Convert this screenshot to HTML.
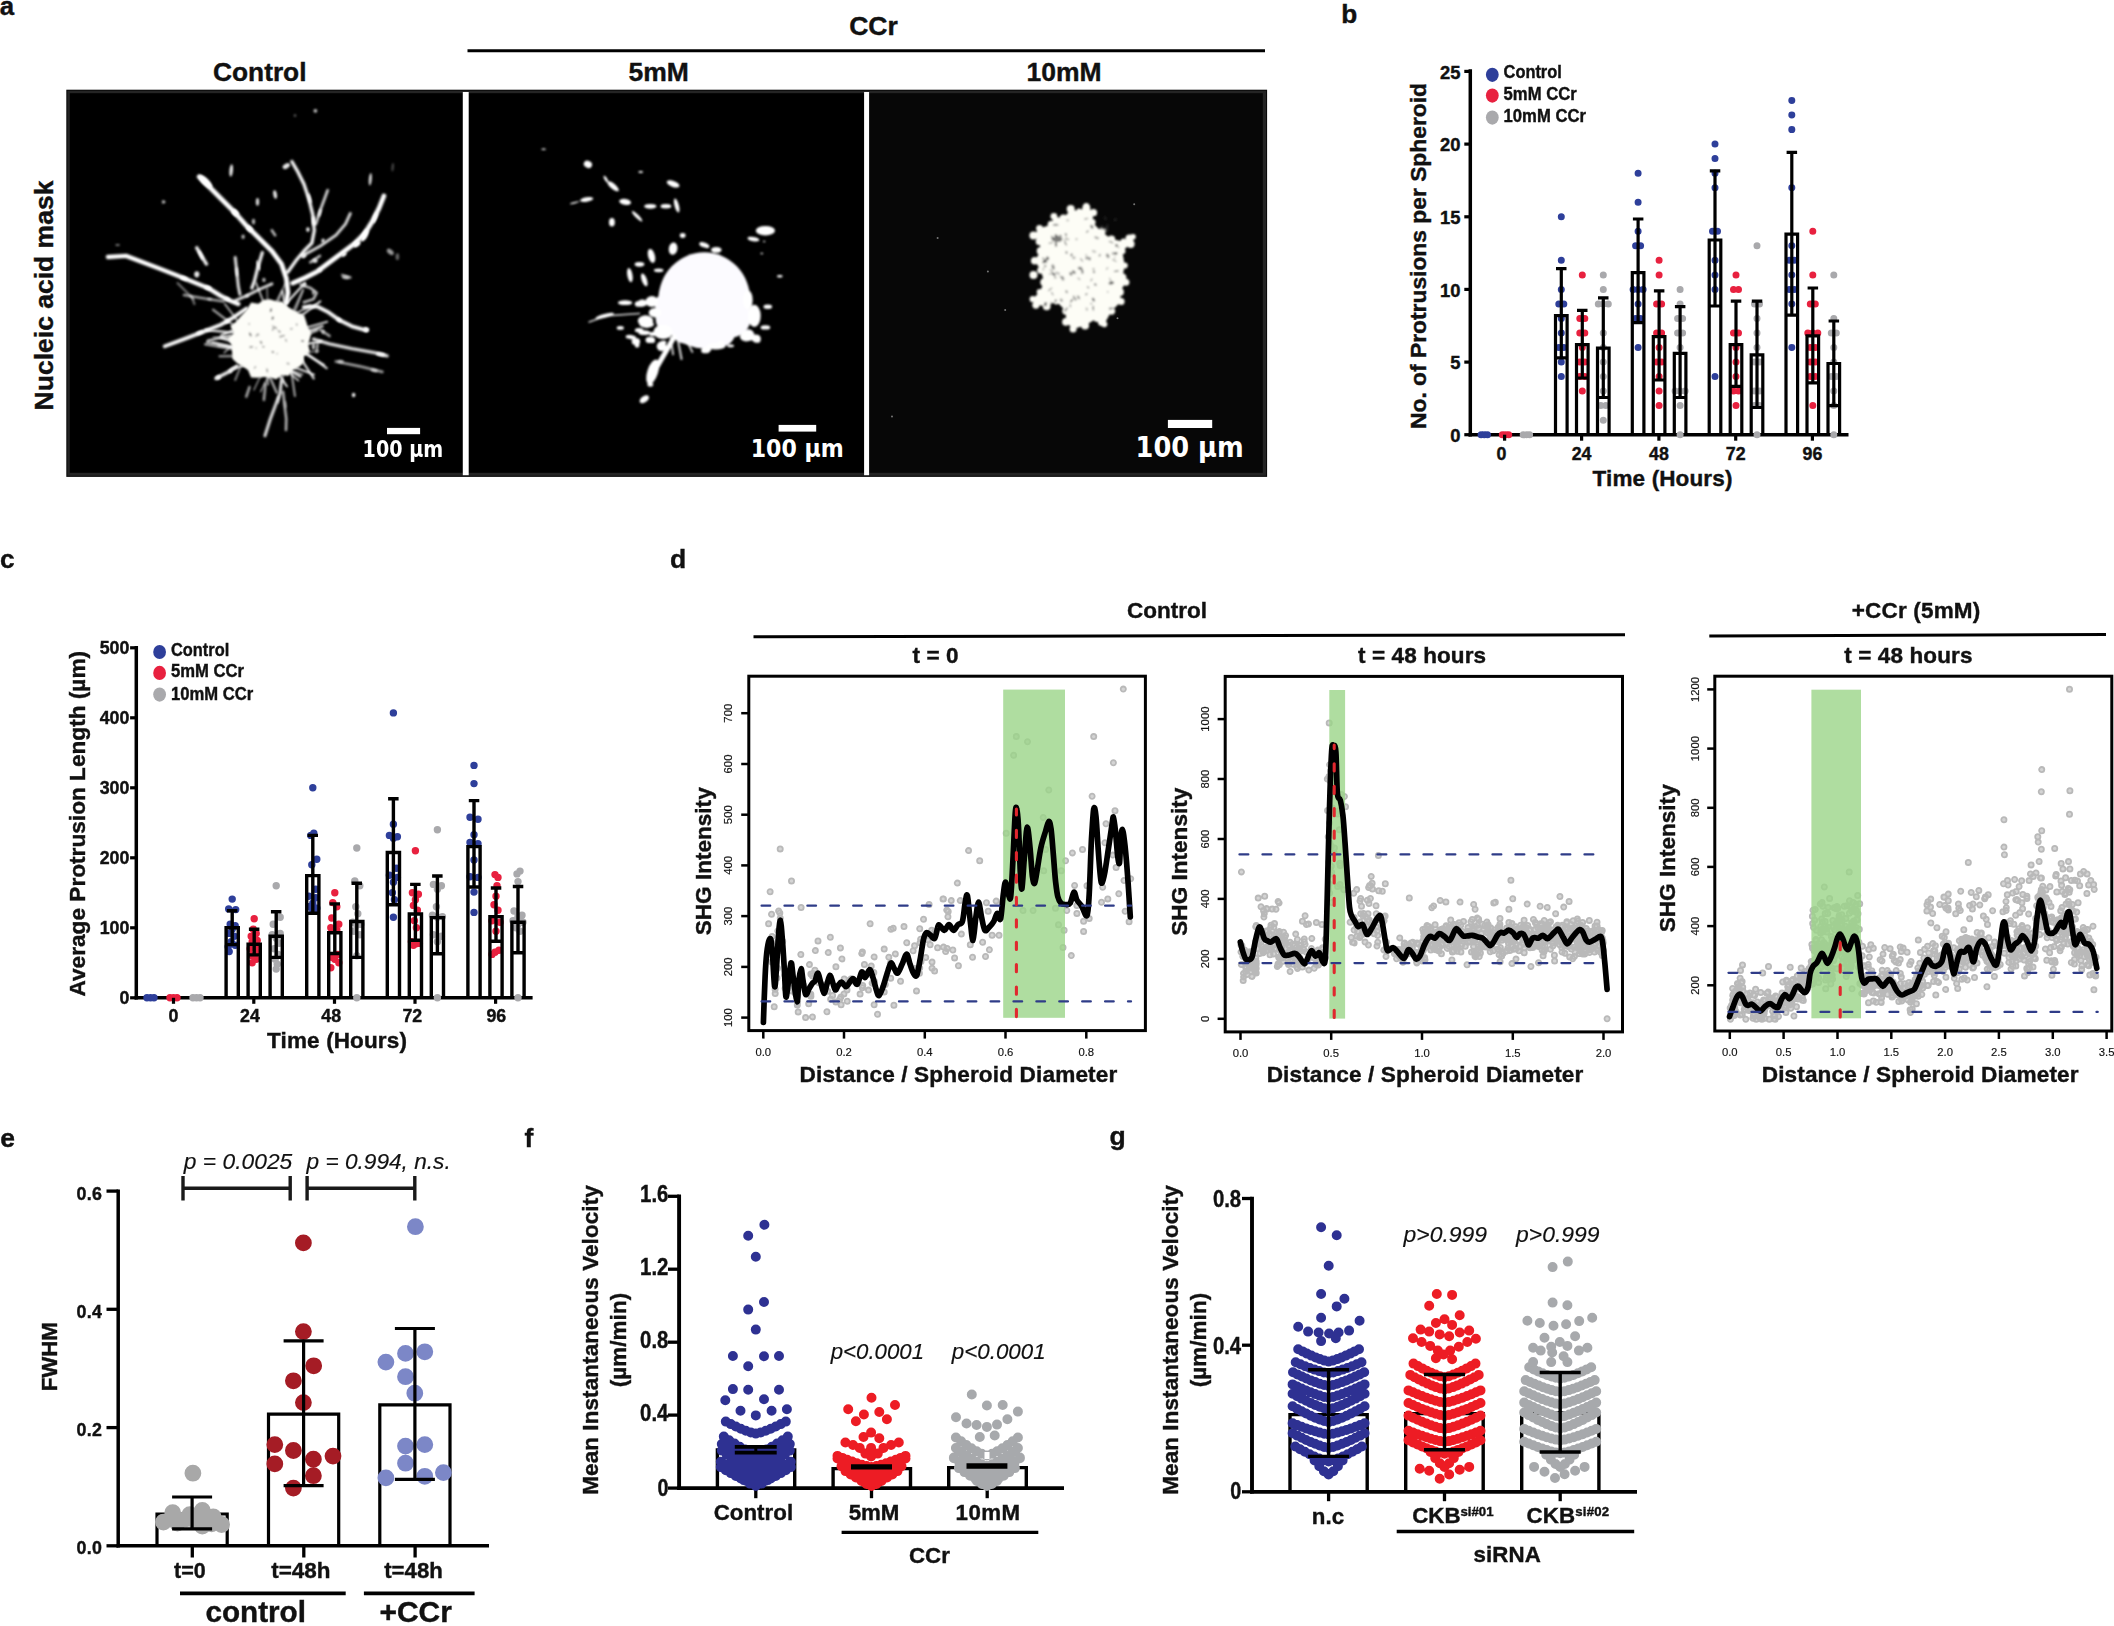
<!DOCTYPE html>
<html lang="en"><head><meta charset="utf-8"><title>Figure</title>
<style>html,body{margin:0;padding:0;background:#fff}svg{display:block}text{font-family:"Liberation Sans",sans-serif;font-weight:bold;fill:#111;stroke:#111;stroke-width:.4px}</style>
</head><body>
<svg width="2114" height="1626" viewBox="0 0 2114 1626">
<defs><filter id="b1" x="-10%" y="-10%" width="120%" height="120%"><feGaussianBlur stdDeviation="0.9"/></filter><filter id="b2" x="-10%" y="-10%" width="120%" height="120%"><feGaussianBlur stdDeviation="1.1"/></filter><clipPath id="ca"><rect x="69" y="92" width="394" height="382"/></clipPath></defs>
<text x="-0.3" y="15.2" font-size="25.8" text-anchor="start">a</text>
<text x="213.0" y="81.3" font-size="26.5" text-anchor="start" textLength="93.5" lengthAdjust="spacingAndGlyphs">Control</text>
<text x="658.6" y="81.3" font-size="26.5" text-anchor="middle">5mM</text>
<text x="1064.0" y="81.3" font-size="26.5" text-anchor="middle">10mM</text>
<text x="873.5" y="34.5" font-size="26.5" text-anchor="middle">CCr</text>
<line x1="467.5" y1="50.8" x2="1265.0" y2="50.8" stroke="#000" stroke-width="3"/>
<text x="53.3" y="295.5" transform="rotate(-90 53.3 295.5)" font-size="26.5" text-anchor="middle">Nucleic acid mask</text>
<rect x="66.3" y="89.7" width="1200.8" height="387.2" fill="#0a0a0a"/>
<rect x="67.4" y="90.8" width="1198.6" height="385.0" fill="#242424"/>
<rect x="69.8" y="93.2" width="393.0" height="379.6" fill="#000"/>
<rect x="467.6" y="93.2" width="396.6" height="379.6" fill="#000"/>
<rect x="868.6" y="93.2" width="394.2" height="379.6" fill="#070707"/>
<rect x="462.8" y="92.0" width="5.9" height="383.2" fill="#fff"/>
<rect x="864.1" y="92.0" width="5.0" height="383.2" fill="#fff"/>
<g filter="url(#b1)" clip-path="url(#ca)" fill="none" stroke="#fff" stroke-linecap="round" stroke-linejoin="round">
<polyline points="199.2,176.8 208.0,185.6 220.8,198.4 233.6,211.2 246.3,225.6 259.1,238.3 271.9,251.1 281.5,263.9 286.3,278.3 287.9,292.7 286.3,302.3" stroke-width="5.800000000000001" opacity="0.35"/>
<polyline points="199.2,176.8 208.0,185.6 220.8,198.4 233.6,211.2 246.3,225.6 259.1,238.3 271.9,251.1 281.5,263.9 286.3,278.3 287.9,292.7 286.3,302.3" stroke-width="4.2" opacity="1"/>
<polyline points="292.7,283.1 303.9,278.3 316.7,271.9 329.5,262.3 342.3,252.7 355.1,243.1 364.7,233.6 372.7,220.8 379.1,208.0 383.9,196.0" stroke-width="5.800000000000001" opacity="0.35"/>
<polyline points="292.7,283.1 303.9,278.3 316.7,271.9 329.5,262.3 342.3,252.7 355.1,243.1 364.7,233.6 372.7,220.8 379.1,208.0 383.9,196.0" stroke-width="4.2" opacity="1"/>
<polyline points="287.9,271.9 295.9,260.7 303.9,251.1 311.9,243.1 314.3,230.4 312.7,214.4 308.7,198.4 303.9,184.0 297.5,171.2 291.9,161.6" stroke-width="4.4" opacity="0.33"/>
<polyline points="287.9,271.9 295.9,260.7 303.9,251.1 311.9,243.1 314.3,230.4 312.7,214.4 308.7,198.4 303.9,184.0 297.5,171.2 291.9,161.6" stroke-width="2.8" opacity="0.95"/>
<polyline points="302.3,255.9 319.9,246.3 335.9,235.2 345.5,224.0 350.3,213.6" stroke-width="4.0" opacity="0.28"/>
<polyline points="302.3,255.9 319.9,246.3 335.9,235.2 345.5,224.0 350.3,213.6" stroke-width="2.4" opacity="0.8"/>
<polyline points="315.9,224.0 319.9,211.2 324.7,198.4 327.6,190.4" stroke-width="3.8000000000000003" opacity="0.28"/>
<polyline points="315.9,224.0 319.9,211.2 324.7,198.4 327.6,190.4" stroke-width="2.2" opacity="0.8"/>
<polyline points="108.0,257.0 126.0,255.9 160.0,268.7 176.0,275.1 192.0,281.5 208.0,287.9 220.8,295.9 230.4,300.7 238.3,303.9" stroke-width="5.4" opacity="0.35"/>
<polyline points="108.0,257.0 126.0,255.9 160.0,268.7 176.0,275.1 192.0,281.5 208.0,287.9 220.8,295.9 230.4,300.7 238.3,303.9" stroke-width="3.8" opacity="1"/>
<polyline points="164.8,346.3 184.0,339.1 204.8,331.1 220.8,324.7 232.0,318.3 246.3,308.7" stroke-width="4.9" opacity="0.33"/>
<polyline points="164.8,346.3 184.0,339.1 204.8,331.1 220.8,324.7 232.0,318.3 246.3,308.7" stroke-width="3.3" opacity="0.95"/>
<polyline points="303.9,307.1 316.7,306.3 327.9,311.9 339.1,319.9 351.9,326.3 366.3,330.3" stroke-width="4.9" opacity="0.33"/>
<polyline points="303.9,307.1 316.7,306.3 327.9,311.9 339.1,319.9 351.9,326.3 366.3,330.3" stroke-width="3.3" opacity="0.95"/>
<polyline points="313.5,339.1 329.5,343.9 351.9,348.7 374.3,352.7 387.1,355.9" stroke-width="4.4" opacity="0.28"/>
<polyline points="313.5,339.1 329.5,343.9 351.9,348.7 374.3,352.7 387.1,355.9" stroke-width="2.8" opacity="0.8"/>
<polyline points="335.9,361.5 359.9,366.3 382.3,371.9" stroke-width="3.8000000000000003" opacity="0.19"/>
<polyline points="335.9,361.5 359.9,366.3 382.3,371.9" stroke-width="2.2" opacity="0.55"/>
<polyline points="235.2,257.5 236.8,271.9 238.3,286.3 239.9,294.3" stroke-width="4.0" opacity="0.30"/>
<polyline points="235.2,257.5 236.8,271.9 238.3,286.3 239.9,294.3" stroke-width="2.4" opacity="0.85"/>
<polyline points="262.3,252.7 257.5,268.7 254.3,281.5 251.9,287.9" stroke-width="4.4" opacity="0.32"/>
<polyline points="262.3,252.7 257.5,268.7 254.3,281.5 251.9,287.9" stroke-width="2.8" opacity="0.9"/>
<polyline points="196.8,247.9 201.6,255.9 206.4,263.9" stroke-width="4.6" opacity="0.32"/>
<polyline points="196.8,247.9 201.6,255.9 206.4,263.9" stroke-width="3.0" opacity="0.9"/>
<polyline points="271.9,283.9 259.1,289.5 246.3,295.9 235.2,300.7" stroke-width="4.0" opacity="0.28"/>
<polyline points="271.9,283.9 259.1,289.5 246.3,295.9 235.2,300.7" stroke-width="2.4" opacity="0.8"/>
<polyline points="281.5,380.7 279.9,393.5 275.1,406.2 270.3,419.0 265.0,435.7" stroke-width="4.2" opacity="0.28"/>
<polyline points="281.5,380.7 279.9,393.5 275.1,406.2 270.3,419.0 265.0,435.7" stroke-width="2.6" opacity="0.8"/>
<polyline points="283.1,391.9 284.7,406.2 286.3,419.0 286.0,430.0" stroke-width="3.6" opacity="0.23"/>
<polyline points="283.1,391.9 284.7,406.2 286.3,419.0 286.0,430.0" stroke-width="2.0" opacity="0.65"/>
<polyline points="216.0,378.3 227.2,372.7 236.8,366.3" stroke-width="4.6" opacity="0.30"/>
<polyline points="216.0,378.3 227.2,372.7 236.8,366.3" stroke-width="3.0" opacity="0.85"/>
<polyline points="300.7,284.7 310.3,287.9 316.7,292.7 313.5,299.1 303.9,302.3" stroke-width="3.6" opacity="0.24"/>
<polyline points="300.7,284.7 310.3,287.9 316.7,292.7 313.5,299.1 303.9,302.3" stroke-width="2.0" opacity="0.7"/>
<polyline points="310.3,262.3 319.9,255.9" stroke-width="3.6" opacity="0.24"/>
<polyline points="310.3,262.3 319.9,255.9" stroke-width="2.0" opacity="0.7"/>
<polyline points="342.3,275.1 350.3,277.5" stroke-width="3.6" opacity="0.21"/>
<polyline points="342.3,275.1 350.3,277.5" stroke-width="2.0" opacity="0.6"/>
<polyline points="177.6,283.1 192.0,297.5 194.4,303.9" stroke-width="3.2" opacity="0.14"/>
<polyline points="177.6,283.1 192.0,297.5 194.4,303.9" stroke-width="1.6" opacity="0.4"/>
<polyline points="184.0,295.1 208.0,299.1 224.0,301.5" stroke-width="3.6" opacity="0.19"/>
<polyline points="184.0,295.1 208.0,299.1 224.0,301.5" stroke-width="2.0" opacity="0.55"/>
<polyline points="271.9,230.4 275.1,235.2" stroke-width="3.6" opacity="0.24"/>
<polyline points="271.9,230.4 275.1,235.2" stroke-width="2.0" opacity="0.7"/>
<polyline points="249.5,387.1 246.3,396.6" stroke-width="3.6" opacity="0.21"/>
<polyline points="249.5,387.1 246.3,396.6" stroke-width="2.0" opacity="0.6"/>
<polyline points="265.5,383.9 263.9,399.8" stroke-width="3.6" opacity="0.21"/>
<polyline points="265.5,383.9 263.9,399.8" stroke-width="2.0" opacity="0.6"/>
<polyline points="208.0,340.7 220.8,337.5 230.4,335.9" stroke-width="3.8000000000000003" opacity="0.24"/>
<polyline points="208.0,340.7 220.8,337.5 230.4,335.9" stroke-width="2.2" opacity="0.7"/>
<polyline points="319.9,329.5 329.5,335.9" stroke-width="3.6" opacity="0.21"/>
<polyline points="319.9,329.5 329.5,335.9" stroke-width="2.0" opacity="0.6"/>
<polyline points="317.5,343.9 316.7,351.9" stroke-width="3.6" opacity="0.21"/>
<polyline points="317.5,343.9 316.7,351.9" stroke-width="2.0" opacity="0.6"/>
</g>
<g filter="url(#b1)" fill="#fff">
<ellipse cx="315.4" cy="110.8" rx="1.9" ry="1.9" opacity="0.75" transform="rotate(0 315.4 110.8)"/>
<ellipse cx="295.0" cy="115.6" rx="1.2" ry="1.4" opacity="0.4" transform="rotate(0 295.0 115.6)"/>
<ellipse cx="164.3" cy="201.9" rx="1.2" ry="1.2" opacity="0.6" transform="rotate(0 164.3 201.9)"/>
<ellipse cx="117.6" cy="245.1" rx="2.4" ry="1.0" opacity="0.5" transform="rotate(0 117.6 245.1)"/>
<ellipse cx="353.8" cy="395.0" rx="1.7" ry="1.7" opacity="0.8" transform="rotate(0 353.8 395.0)"/>
<ellipse cx="205.6" cy="181.6" rx="8.8" ry="3.4" opacity="1" transform="rotate(45 205.6 181.6)"/>
<ellipse cx="231.2" cy="170.4" rx="1.8" ry="6.2" opacity="0.9" transform="rotate(5 231.2 170.4)"/>
<ellipse cx="286.3" cy="166.1" rx="4.0" ry="2.4" opacity="0.9" transform="rotate(-30 286.3 166.1)"/>
<ellipse cx="370.3" cy="179.2" rx="1.5" ry="6.2" opacity="0.85" transform="rotate(5 370.3 179.2)"/>
<ellipse cx="392.7" cy="167.2" rx="1.1" ry="4.3" opacity="0.3" transform="rotate(5 392.7 167.2)"/>
<ellipse cx="275.1" cy="194.4" rx="1.8" ry="4.3" opacity="0.9" transform="rotate(-10 275.1 194.4)"/>
<ellipse cx="257.5" cy="201.9" rx="1.7" ry="3.8" opacity="0.85" transform="rotate(0 257.5 201.9)"/>
<ellipse cx="163.2" cy="201.9" rx="1.5" ry="1.9" opacity="0.6" transform="rotate(0 163.2 201.9)"/>
<ellipse cx="253.5" cy="221.6" rx="1.7" ry="2.9" opacity="0.7" transform="rotate(0 253.5 221.6)"/>
<ellipse cx="243.1" cy="236.8" rx="1.7" ry="2.2" opacity="0.7" transform="rotate(0 243.1 236.8)"/>
<ellipse cx="307.9" cy="229.6" rx="1.8" ry="2.4" opacity="0.9" transform="rotate(0 307.9 229.6)"/>
<ellipse cx="323.1" cy="240.7" rx="1.8" ry="2.2" opacity="0.85" transform="rotate(0 323.1 240.7)"/>
<ellipse cx="315.1" cy="260.7" rx="2.6" ry="2.2" opacity="0.8" transform="rotate(0 315.1 260.7)"/>
<ellipse cx="263.9" cy="279.9" rx="1.7" ry="2.2" opacity="0.7" transform="rotate(0 263.9 279.9)"/>
<ellipse cx="196.8" cy="274.3" rx="2.6" ry="3.1" opacity="0.9" transform="rotate(0 196.8 274.3)"/>
<ellipse cx="353.5" cy="395.0" rx="1.7" ry="2.2" opacity="0.8" transform="rotate(0 353.5 395.0)"/>
<ellipse cx="366.3" cy="329.5" rx="2.9" ry="2.4" opacity="0.95" transform="rotate(15 366.3 329.5)"/>
<ellipse cx="390.3" cy="251.9" rx="4.0" ry="2.4" opacity="0.6" transform="rotate(40 390.3 251.9)"/>
<ellipse cx="397.4" cy="256.7" rx="1.8" ry="3.4" opacity="0.4" transform="rotate(0 397.4 256.7)"/>
<ellipse cx="345.5" cy="277.5" rx="3.7" ry="1.7" opacity="0.7" transform="rotate(10 345.5 277.5)"/>
<ellipse cx="235.2" cy="212.8" rx="4.0" ry="2.9" opacity="1" transform="rotate(45 235.2 212.8)"/>
<ellipse cx="249.5" cy="228.8" rx="3.7" ry="2.4" opacity="1" transform="rotate(45 249.5 228.8)"/>
<ellipse cx="364.7" cy="235.2" rx="2.9" ry="6.7" opacity="1" transform="rotate(25 364.7 235.2)"/>
<ellipse cx="375.1" cy="217.6" rx="1.8" ry="5.8" opacity="1" transform="rotate(20 375.1 217.6)"/>
<ellipse cx="356.7" cy="243.9" rx="4.0" ry="2.9" opacity="1" transform="rotate(-35 356.7 243.9)"/>
<ellipse cx="309.5" cy="198.4" rx="1.5" ry="5.3" opacity="0.9" transform="rotate(-15 309.5 198.4)"/>
<ellipse cx="313.5" cy="220.8" rx="1.5" ry="4.8" opacity="0.9" transform="rotate(0 313.5 220.8)"/>
<ellipse cx="319.9" cy="212.8" rx="1.3" ry="4.3" opacity="0.8" transform="rotate(15 319.9 212.8)"/>
<ellipse cx="303.9" cy="255.9" rx="2.6" ry="2.2" opacity="0.8" transform="rotate(-30 303.9 255.9)"/>
<ellipse cx="343.9" cy="254.3" rx="2.9" ry="2.2" opacity="0.9" transform="rotate(-35 343.9 254.3)"/>
<ellipse cx="208.0" cy="287.9" rx="3.7" ry="1.9" opacity="0.95" transform="rotate(20 208.0 287.9)"/>
<ellipse cx="184.0" cy="278.3" rx="4.0" ry="1.9" opacity="0.95" transform="rotate(20 184.0 278.3)"/>
<ellipse cx="227.2" cy="299.1" rx="2.9" ry="1.7" opacity="0.9" transform="rotate(25 227.2 299.1)"/>
<ellipse cx="200.0" cy="332.7" rx="4.0" ry="1.7" opacity="0.9" transform="rotate(-20 200.0 332.7)"/>
<ellipse cx="227.2" cy="321.5" rx="2.9" ry="1.7" opacity="0.9" transform="rotate(-25 227.2 321.5)"/>
<ellipse cx="339.1" cy="319.9" rx="2.9" ry="1.9" opacity="0.9" transform="rotate(30 339.1 319.9)"/>
<ellipse cx="380.7" cy="354.3" rx="4.8" ry="1.9" opacity="0.9" transform="rotate(10 380.7 354.3)"/>
<ellipse cx="374.3" cy="370.3" rx="3.7" ry="1.7" opacity="0.6" transform="rotate(12 374.3 370.3)"/>
<ellipse cx="340.7" cy="361.5" rx="3.3" ry="1.7" opacity="0.6" transform="rotate(5 340.7 361.5)"/>
<ellipse cx="218.4" cy="377.5" rx="2.6" ry="2.2" opacity="0.85" transform="rotate(-25 218.4 377.5)"/>
<ellipse cx="230.4" cy="371.1" rx="2.2" ry="1.9" opacity="0.8" transform="rotate(-30 230.4 371.1)"/>
<ellipse cx="236.8" cy="271.9" rx="1.1" ry="4.8" opacity="0.85" transform="rotate(-3 236.8 271.9)"/>
<ellipse cx="258.3" cy="265.5" rx="1.3" ry="5.3" opacity="0.9" transform="rotate(-12 258.3 265.5)"/>
<ellipse cx="200.8" cy="255.1" rx="1.5" ry="5.3" opacity="0.9" transform="rotate(-25 200.8 255.1)"/>
<ellipse cx="247.1" cy="295.9" rx="2.2" ry="1.4" opacity="0.7" transform="rotate(-25 247.1 295.9)"/>
<ellipse cx="313.5" cy="346.3" rx="1.8" ry="3.4" opacity="0.7" transform="rotate(0 313.5 346.3)"/>
<ellipse cx="323.1" cy="331.9" rx="1.5" ry="2.4" opacity="0.6" transform="rotate(0 323.1 331.9)"/>
<ellipse cx="278.3" cy="399.8" rx="1.1" ry="4.3" opacity="0.6" transform="rotate(10 278.3 399.8)"/>
<ellipse cx="285.5" cy="404.6" rx="0.9" ry="3.8" opacity="0.5" transform="rotate(-5 285.5 404.6)"/>
<ellipse cx="209.6" cy="299.1" rx="2.6" ry="1.3" opacity="0.5" transform="rotate(5 209.6 299.1)"/>
<ellipse cx="192.0" cy="297.5" rx="1.1" ry="3.4" opacity="0.4" transform="rotate(-40 192.0 297.5)"/>
<ellipse cx="313.5" cy="292.7" rx="1.7" ry="2.2" opacity="0.6" transform="rotate(0 313.5 292.7)"/>
<ellipse cx="304.7" cy="284.7" rx="1.8" ry="1.9" opacity="0.7" transform="rotate(0 304.7 284.7)"/>
<ellipse cx="319.9" cy="270.3" rx="2.2" ry="1.9" opacity="0.8" transform="rotate(-20 319.9 270.3)"/>
</g>
<g filter="url(#b1)" stroke="#fff" stroke-linecap="round">
<line x1="237.3" y1="348.5" x2="218.4" y2="346.2" stroke-width="2.2" opacity="0.57"/>
<line x1="239.5" y1="323.3" x2="225.0" y2="304.2" stroke-width="2.2" opacity="0.59"/>
<line x1="303.6" y1="334.4" x2="317.5" y2="330.6" stroke-width="2.3" opacity="0.53"/>
<line x1="235.9" y1="341.0" x2="223.1" y2="337.9" stroke-width="2.3" opacity="0.74"/>
<line x1="294.0" y1="314.6" x2="310.3" y2="305.5" stroke-width="2.0" opacity="0.74"/>
<line x1="237.1" y1="347.8" x2="207.1" y2="341.9" stroke-width="1.9" opacity="0.78"/>
<line x1="301.4" y1="351.2" x2="323.8" y2="365.0" stroke-width="2.6" opacity="0.86"/>
<line x1="262.5" y1="371.8" x2="253.9" y2="389.9" stroke-width="1.2" opacity="0.68"/>
<line x1="286.6" y1="368.2" x2="302.3" y2="374.4" stroke-width="2.3" opacity="0.51"/>
<line x1="270.3" y1="372.6" x2="260.7" y2="391.6" stroke-width="1.3" opacity="0.67"/>
<line x1="237.5" y1="328.2" x2="213.1" y2="309.7" stroke-width="2.4" opacity="0.59"/>
<line x1="240.5" y1="355.9" x2="219.7" y2="356.3" stroke-width="2.5" opacity="0.53"/>
<line x1="285.0" y1="369.0" x2="298.3" y2="380.5" stroke-width="1.9" opacity="0.74"/>
<line x1="267.1" y1="372.5" x2="268.0" y2="384.6" stroke-width="1.7" opacity="0.73"/>
<line x1="302.4" y1="328.7" x2="327.2" y2="321.7" stroke-width="2.1" opacity="0.79"/>
<line x1="301.9" y1="349.9" x2="326.6" y2="368.1" stroke-width="2.4" opacity="0.85"/>
<line x1="243.3" y1="359.9" x2="235.2" y2="380.0" stroke-width="2.1" opacity="0.48"/>
<line x1="300.8" y1="352.6" x2="318.4" y2="351.2" stroke-width="1.7" opacity="0.48"/>
<line x1="303.8" y1="338.6" x2="317.9" y2="329.0" stroke-width="1.7" opacity="0.46"/>
<line x1="293.8" y1="314.5" x2="303.0" y2="290.7" stroke-width="1.6" opacity="0.62"/>
<line x1="247.5" y1="364.2" x2="232.1" y2="369.0" stroke-width="2.6" opacity="0.68"/>
<line x1="236.0" y1="342.0" x2="224.3" y2="352.7" stroke-width="1.7" opacity="0.58"/>
<line x1="286.0" y1="308.7" x2="282.4" y2="291.0" stroke-width="2.5" opacity="0.71"/>
<line x1="290.4" y1="365.7" x2="313.9" y2="374.6" stroke-width="1.9" opacity="0.94"/>
<line x1="292.1" y1="312.9" x2="303.3" y2="288.9" stroke-width="1.7" opacity="0.53"/>
<line x1="274.5" y1="304.9" x2="285.3" y2="284.1" stroke-width="1.7" opacity="0.56"/>
<line x1="282.7" y1="307.1" x2="304.9" y2="283.0" stroke-width="2.3" opacity="0.86"/>
<line x1="267.7" y1="304.7" x2="267.1" y2="288.1" stroke-width="1.7" opacity="0.46"/>
<line x1="303.3" y1="344.5" x2="321.3" y2="341.4" stroke-width="2.2" opacity="0.93"/>
<line x1="237.7" y1="349.7" x2="205.3" y2="344.3" stroke-width="2.5" opacity="0.63"/>
<line x1="276.1" y1="372.0" x2="286.6" y2="386.3" stroke-width="1.5" opacity="0.76"/>
<line x1="297.4" y1="318.7" x2="320.3" y2="301.3" stroke-width="2.1" opacity="0.85"/>
<line x1="299.1" y1="355.9" x2="313.7" y2="378.4" stroke-width="2.3" opacity="0.83"/>
<line x1="236.2" y1="343.3" x2="220.3" y2="338.3" stroke-width="1.7" opacity="0.85"/>
<line x1="303.3" y1="332.6" x2="322.4" y2="326.4" stroke-width="2.5" opacity="0.81"/>
<line x1="286.2" y1="368.4" x2="300.2" y2="376.4" stroke-width="2.5" opacity="0.85"/>
<line x1="290.5" y1="365.6" x2="294.9" y2="395.9" stroke-width="2.1" opacity="0.63"/>
<line x1="237.4" y1="328.4" x2="221.3" y2="335.5" stroke-width="2.6" opacity="0.77"/>
<line x1="236.3" y1="332.9" x2="205.7" y2="330.0" stroke-width="2.4" opacity="0.86"/>
<line x1="278.1" y1="371.6" x2="287.3" y2="386.6" stroke-width="1.5" opacity="0.74"/>
<line x1="267.8" y1="372.5" x2="276.7" y2="392.6" stroke-width="2.5" opacity="0.63"/>
<line x1="237.0" y1="347.4" x2="212.3" y2="342.1" stroke-width="1.8" opacity="0.91"/>
<line x1="235.8" y1="338.2" x2="213.2" y2="337.3" stroke-width="1.2" opacity="0.67"/>
<line x1="283.7" y1="369.6" x2="282.2" y2="383.0" stroke-width="1.4" opacity="0.69"/>
<line x1="264.6" y1="305.0" x2="256.1" y2="283.1" stroke-width="1.9" opacity="0.73"/>
<line x1="277.1" y1="305.4" x2="281.5" y2="291.9" stroke-width="1.5" opacity="0.59"/>
</g>
<g filter="url(#b1)">
<polygon points="309.9,338.6 308.3,344.8 309.9,351.8 304.1,356.2 303.4,363.2 298.4,367.4 292.4,369.9 288.6,375.7 281.6,375.3 276.2,379.2 269.8,377.4 264.1,377.0 257.8,377.7 251.1,377.5 248.1,370.3 243.3,366.7 237.4,363.5 232.4,358.8 232.0,351.6 231.7,345.0 227.7,338.6 233.8,333.0 230.4,326.0 236.0,321.7 239.8,317.2 243.7,313.0 247.4,308.4 251.1,302.6 258.3,303.8 263.6,300.1 269.8,299.3 276.2,301.3 282.7,301.7 287.3,306.6 292.4,309.6 297.6,312.6 304.1,315.3 306.1,321.3 307.9,327.0 311.1,332.5" fill="#fdfdf8"/>
<ellipse cx="272.7" cy="318.1" rx="1.6" ry="1.0" fill="#222" opacity="0.86" transform="rotate(113 272.7 318.1)"/>
<ellipse cx="255.0" cy="367.4" rx="1.6" ry="0.6" fill="#222" opacity="0.54" transform="rotate(130 255.0 367.4)"/>
<ellipse cx="250.3" cy="334.5" rx="2.1" ry="0.9" fill="#222" opacity="0.84" transform="rotate(66 250.3 334.5)"/>
<ellipse cx="296.7" cy="324.5" rx="1.1" ry="0.8" fill="#222" opacity="0.61" transform="rotate(100 296.7 324.5)"/>
<ellipse cx="260.7" cy="342.1" rx="1.1" ry="0.5" fill="#222" opacity="0.73" transform="rotate(31 260.7 342.1)"/>
<ellipse cx="279.3" cy="331.4" rx="1.8" ry="0.9" fill="#222" opacity="0.47" transform="rotate(35 279.3 331.4)"/>
<ellipse cx="283.0" cy="335.9" rx="2.1" ry="0.7" fill="#222" opacity="0.64" transform="rotate(170 283.0 335.9)"/>
<ellipse cx="275.8" cy="328.1" rx="1.4" ry="0.8" fill="#222" opacity="0.57" transform="rotate(50 275.8 328.1)"/>
<ellipse cx="263.4" cy="346.7" rx="1.3" ry="0.7" fill="#222" opacity="0.63" transform="rotate(180 263.4 346.7)"/>
<ellipse cx="286.0" cy="340.4" rx="1.7" ry="0.8" fill="#222" opacity="0.43" transform="rotate(58 286.0 340.4)"/>
<ellipse cx="280.3" cy="336.7" rx="1.2" ry="0.5" fill="#222" opacity="0.79" transform="rotate(69 280.3 336.7)"/>
<ellipse cx="270.9" cy="310.1" rx="2.0" ry="0.9" fill="#222" opacity="0.87" transform="rotate(103 270.9 310.1)"/>
<ellipse cx="288.1" cy="363.6" rx="1.6" ry="0.9" fill="#222" opacity="0.44" transform="rotate(14 288.1 363.6)"/>
<ellipse cx="273.7" cy="326.6" rx="2.1" ry="0.7" fill="#222" opacity="0.41" transform="rotate(22 273.7 326.6)"/>
<ellipse cx="273.1" cy="329.0" rx="2.0" ry="0.5" fill="#222" opacity="0.83" transform="rotate(116 273.1 329.0)"/>
<ellipse cx="302.6" cy="341.0" rx="1.4" ry="1.0" fill="#222" opacity="0.71" transform="rotate(11 302.6 341.0)"/>
<ellipse cx="256.1" cy="336.2" rx="1.0" ry="0.6" fill="#222" opacity="0.43" transform="rotate(51 256.1 336.2)"/>
<ellipse cx="291.4" cy="328.8" rx="1.5" ry="0.6" fill="#222" opacity="0.62" transform="rotate(172 291.4 328.8)"/>
<ellipse cx="277.1" cy="353.6" rx="0.8" ry="0.7" fill="#222" opacity="0.41" transform="rotate(129 277.1 353.6)"/>
<ellipse cx="257.8" cy="334.6" rx="1.5" ry="1.1" fill="#222" opacity="0.45" transform="rotate(166 257.8 334.6)"/>
<ellipse cx="251.3" cy="347.0" rx="2.0" ry="0.7" fill="#222" opacity="0.65" transform="rotate(176 251.3 347.0)"/>
<ellipse cx="272.8" cy="352.0" rx="1.1" ry="1.0" fill="#222" opacity="0.76" transform="rotate(35 272.8 352.0)"/>
<ellipse cx="256.1" cy="348.0" rx="0.9" ry="0.6" fill="#222" opacity="0.44" transform="rotate(65 256.1 348.0)"/>
<ellipse cx="261.3" cy="342.6" rx="1.7" ry="0.7" fill="#222" opacity="0.65" transform="rotate(72 261.3 342.6)"/>
<ellipse cx="249.2" cy="323.9" rx="0.9" ry="0.6" fill="#222" opacity="0.53" transform="rotate(0 249.2 323.9)"/>
<ellipse cx="267.2" cy="370.5" rx="2.2" ry="0.8" fill="#222" opacity="0.52" transform="rotate(79 267.2 370.5)"/>
</g>
<rect x="387.0" y="427.9" width="33.1" height="6.3" fill="#fff"/>
<text x="362.6" y="456.7" font-size="22.7" text-anchor="start" textLength="80.6" lengthAdjust="spacingAndGlyphs" style="fill:#fff;stroke:none;font-family:'DejaVu Sans',sans-serif;">100 µm</text>
<g filter="url(#b1)" fill="#fff">
<ellipse cx="704.3" cy="300.3" rx="46" ry="48" fill="#fcfbff"/>
<circle cx="671.9" cy="318.3" r="16.3" fill="#fcfbff"/>
<circle cx="730.6" cy="317.1" r="20.4" fill="#fcfbff"/>
<circle cx="685.1" cy="329.1" r="14.4" fill="#fcfbff"/>
<circle cx="748.6" cy="335.1" r="5.8" fill="#fcfbff"/>
<circle cx="721.1" cy="332.7" r="13.9" fill="#fcfbff"/>
<circle cx="699.5" cy="333.9" r="13.9" fill="#fcfbff"/>
<circle cx="663.5" cy="303.9" r="9.1" fill="#fcfbff"/>
<polyline fill="none" stroke="#fff" stroke-width="5" stroke-linecap="round" points="674.3,336.7 667.9,347.9 661.5,359.1 655.9,368.7"/>
<ellipse cx="652.7" cy="371.9" rx="5.4" ry="12.8" transform="rotate(18 652.7 371.9)"/>
<ellipse cx="650.3" cy="384.6" rx="2.9" ry="2.2" transform="rotate(0 650.3 384.6)"/>
<ellipse cx="645.5" cy="320.7" rx="7.7" ry="5.4" transform="rotate(0 645.5 320.7)"/>
<ellipse cx="651.9" cy="301.5" rx="6.4" ry="5.4" transform="rotate(0 651.9 301.5)"/>
<ellipse cx="642.3" cy="303.1" rx="5.1" ry="3.5" transform="rotate(0 642.3 303.1)"/>
<ellipse cx="663.1" cy="331.9" rx="9.6" ry="7.2" transform="rotate(0 663.1 331.9)"/>
<ellipse cx="635.9" cy="341.5" rx="4.2" ry="3.5" transform="rotate(0 635.9 341.5)"/>
<ellipse cx="650.3" cy="339.9" rx="4.8" ry="3.2" transform="rotate(0 650.3 339.9)"/>
<ellipse cx="639.1" cy="330.3" rx="4.2" ry="2.2" transform="rotate(0 639.1 330.3)"/>
<ellipse cx="629.5" cy="336.7" rx="3.8" ry="1.9" transform="rotate(0 629.5 336.7)"/>
<ellipse cx="655.1" cy="312.7" rx="6.4" ry="4.8" transform="rotate(0 655.1 312.7)"/>
<ellipse cx="661.5" cy="346.3" rx="4.8" ry="4.8" transform="rotate(0 661.5 346.3)"/>
<ellipse cx="754.3" cy="315.9" rx="6.4" ry="11.2" transform="rotate(0 754.3 315.9)"/>
<ellipse cx="747.9" cy="299.9" rx="4.8" ry="9.6" transform="rotate(0 747.9 299.9)"/>
<ellipse cx="746.3" cy="336.7" rx="6.4" ry="4.8" transform="rotate(0 746.3 336.7)"/>
<ellipse cx="755.9" cy="338.3" rx="4.8" ry="3.8" transform="rotate(0 755.9 338.3)"/>
<ellipse cx="715.9" cy="346.3" rx="9.6" ry="3.2" transform="rotate(0 715.9 346.3)"/>
<ellipse cx="706.3" cy="349.5" rx="4.8" ry="2.6" transform="rotate(0 706.3 349.5)"/>
<polyline fill="none" stroke="#fff" stroke-width="2.2" stroke-linecap="round" opacity=".8" points="677.9,339.9 681.5,359.0"/>
<polyline fill="none" stroke="#fff" stroke-width="2" stroke-linecap="round" opacity=".8" points="670.7,337.5 673.1,354.3"/>
<polyline fill="none" stroke="#fff" stroke-width="2" stroke-linecap="round" opacity=".8" points="687.5,342.3 692.3,351.9"/>
<polyline fill="none" stroke="#fff" stroke-width="1.6" stroke-linecap="round" opacity=".8" points="639.5,313.5 605.9,315.9 589.1,321.9"/>
<ellipse cx="587.9" cy="164.3" rx="4.3" ry="3.4" transform="rotate(30 587.9 164.3)"/>
<ellipse cx="613.1" cy="186.3" rx="7.2" ry="2.6" transform="rotate(40 613.1 186.3)"/>
<ellipse cx="586.7" cy="199.5" rx="6.7" ry="2.2" transform="rotate(-10 586.7 199.5)"/>
<ellipse cx="625.1" cy="201.9" rx="6.0" ry="2.9" transform="rotate(10 625.1 201.9)"/>
<ellipse cx="650.3" cy="206.3" rx="6.0" ry="2.4" transform="rotate(0 650.3 206.3)"/>
<ellipse cx="665.9" cy="206.3" rx="5.3" ry="2.2" transform="rotate(0 665.9 206.3)"/>
<ellipse cx="673.1" cy="183.9" rx="6.7" ry="2.9" transform="rotate(20 673.1 183.9)"/>
<ellipse cx="676.7" cy="205.5" rx="2.2" ry="7.2" transform="rotate(-15 676.7 205.5)"/>
<ellipse cx="611.9" cy="222.3" rx="2.9" ry="4.3" transform="rotate(0 611.9 222.3)"/>
<ellipse cx="637.1" cy="216.3" rx="7.2" ry="1.7" transform="rotate(45 637.1 216.3)"/>
<ellipse cx="765.4" cy="230.7" rx="9.6" ry="4.8" transform="rotate(0 765.4 230.7)"/>
<ellipse cx="753.4" cy="239.1" rx="6.0" ry="2.2" transform="rotate(10 753.4 239.1)"/>
<ellipse cx="682.7" cy="235.5" rx="2.9" ry="2.4" transform="rotate(0 682.7 235.5)"/>
<ellipse cx="673.1" cy="248.7" rx="4.3" ry="6.2" transform="rotate(10 673.1 248.7)"/>
<ellipse cx="651.5" cy="255.9" rx="3.4" ry="7.2" transform="rotate(-15 651.5 255.9)"/>
<ellipse cx="639.5" cy="264.3" rx="4.8" ry="2.4" transform="rotate(0 639.5 264.3)"/>
<ellipse cx="629.9" cy="275.1" rx="2.6" ry="7.2" transform="rotate(-10 629.9 275.1)"/>
<ellipse cx="644.3" cy="279.9" rx="2.6" ry="6.7" transform="rotate(-20 644.3 279.9)"/>
<ellipse cx="658.7" cy="270.3" rx="4.8" ry="1.9" transform="rotate(0 658.7 270.3)"/>
<ellipse cx="625.1" cy="302.7" rx="7.2" ry="2.4" transform="rotate(0 625.1 302.7)"/>
<ellipse cx="639.5" cy="303.9" rx="4.8" ry="2.9" transform="rotate(0 639.5 303.9)"/>
<ellipse cx="604.7" cy="315.9" rx="9.6" ry="1.9" transform="rotate(-15 604.7 315.9)"/>
<ellipse cx="646.7" cy="324.3" rx="7.2" ry="3.6" transform="rotate(0 646.7 324.3)"/>
<ellipse cx="620.3" cy="327.9" rx="3.6" ry="1.9" transform="rotate(0 620.3 327.9)"/>
<ellipse cx="644.3" cy="332.7" rx="6.0" ry="2.4" transform="rotate(0 644.3 332.7)"/>
<ellipse cx="653.9" cy="333.9" rx="4.8" ry="2.2" transform="rotate(0 653.9 333.9)"/>
<ellipse cx="632.3" cy="337.5" rx="3.6" ry="1.9" transform="rotate(0 632.3 337.5)"/>
<ellipse cx="651.5" cy="341.1" rx="3.6" ry="1.9" transform="rotate(0 651.5 341.1)"/>
<ellipse cx="637.1" cy="344.7" rx="2.4" ry="2.9" transform="rotate(0 637.1 344.7)"/>
<ellipse cx="767.8" cy="306.8" rx="4.3" ry="2.2" transform="rotate(0 767.8 306.8)"/>
<ellipse cx="765.4" cy="327.4" rx="4.8" ry="2.2" transform="rotate(0 765.4 327.4)"/>
<ellipse cx="779.8" cy="276.3" rx="2.9" ry="1.2" transform="rotate(0 779.8 276.3)"/>
<ellipse cx="705.5" cy="350.7" rx="4.3" ry="2.6" transform="rotate(0 705.5 350.7)"/>
<ellipse cx="747.4" cy="332.7" rx="4.8" ry="1.9" transform="rotate(0 747.4 332.7)"/>
<ellipse cx="757.0" cy="339.9" rx="3.6" ry="2.9" transform="rotate(0 757.0 339.9)"/>
<ellipse cx="543.6" cy="149.2" rx="2.4" ry="0.7" transform="rotate(0 543.6 149.2)"/>
<ellipse cx="644.3" cy="399.3" rx="5.3" ry="3.1" transform="rotate(-35 644.3 399.3)"/>
<ellipse cx="704.3" cy="245.1" rx="5.3" ry="2.4" transform="rotate(20 704.3 245.1)"/>
<ellipse cx="716.3" cy="249.9" rx="5.3" ry="2.9" transform="rotate(0 716.3 249.9)"/>
<ellipse cx="605.9" cy="179.1" rx="1.4" ry="3.8" transform="rotate(-30 605.9 179.1)"/>
<ellipse cx="640.7" cy="172.0" rx="2.4" ry="1.0" transform="rotate(0 640.7 172.0)"/>
<ellipse cx="574.7" cy="202.7" rx="4.8" ry="0.7" transform="rotate(-15 574.7 202.7)"/>
<ellipse cx="730.6" cy="345.9" rx="3.4" ry="1.4" transform="rotate(0 730.6 345.9)"/>
<ellipse cx="721.1" cy="342.3" rx="3.4" ry="1.9" transform="rotate(0 721.1 342.3)"/>
<ellipse cx="663.5" cy="342.3" rx="2.9" ry="1.9" transform="rotate(0 663.5 342.3)"/>
<ellipse cx="761.8" cy="253.5" rx="1.4" ry="0.7" transform="rotate(0 761.8 253.5)"/>
<ellipse cx="764.2" cy="241.5" rx="1.2" ry="0.7" transform="rotate(0 764.2 241.5)"/>
</g>
<rect x="778.6" y="424.9" width="37.6" height="6.7" fill="#fff"/>
<text x="750.7" y="456.5" font-size="24.8" text-anchor="start" textLength="93.1" lengthAdjust="spacingAndGlyphs" style="fill:#fff;stroke:none;font-family:'DejaVu Sans',sans-serif;">100 µm</text>
<g filter="url(#b1)" fill="#fdfdf6">
<polygon points="1086.3,206.0 1093.5,212.7 1092.3,222.3 1101.9,231.9 1111.5,239.1 1123.5,241.5 1133.0,236.7 1130.6,243.9 1122.3,251.1 1124.7,265.5 1122.3,277.5 1125.9,282.3 1119.9,291.9 1121.1,301.5 1111.5,311.1 1104.3,324.3 1097.1,318.3 1085.1,325.5 1073.1,329.1 1065.9,321.9 1065.9,311.1 1056.3,301.5 1046.7,306.3 1035.9,305.1 1032.8,299.1 1039.5,291.9 1044.3,282.3 1040.7,270.3 1034.7,260.7 1040.7,251.1 1039.5,241.5 1033.5,235.5 1039.5,228.3 1051.5,224.7 1053.9,216.3 1063.5,218.7 1070.7,209.1 1079.1,211.5"/>
<circle cx="1086.3" cy="206.0" r="3.1"/>
<circle cx="1093.5" cy="212.7" r="3.6"/>
<circle cx="1092.3" cy="222.3" r="3.3"/>
<circle cx="1101.9" cy="231.9" r="3.6"/>
<circle cx="1111.5" cy="239.1" r="3.7"/>
<circle cx="1123.5" cy="241.5" r="2.9"/>
<circle cx="1133.0" cy="236.7" r="2.8"/>
<circle cx="1130.6" cy="243.9" r="4.0"/>
<circle cx="1122.3" cy="251.1" r="3.2"/>
<circle cx="1124.7" cy="265.5" r="3.1"/>
<circle cx="1122.3" cy="277.5" r="4.2"/>
<circle cx="1125.9" cy="282.3" r="3.5"/>
<circle cx="1119.9" cy="291.9" r="4.0"/>
<circle cx="1121.1" cy="301.5" r="3.5"/>
<circle cx="1111.5" cy="311.1" r="3.7"/>
<circle cx="1104.3" cy="324.3" r="3.0"/>
<circle cx="1097.1" cy="318.3" r="3.7"/>
<circle cx="1085.1" cy="325.5" r="4.0"/>
<circle cx="1073.1" cy="329.1" r="3.5"/>
<circle cx="1065.9" cy="321.9" r="3.8"/>
<circle cx="1065.9" cy="311.1" r="3.7"/>
<circle cx="1056.3" cy="301.5" r="2.9"/>
<circle cx="1046.7" cy="306.3" r="3.9"/>
<circle cx="1035.9" cy="305.1" r="3.6"/>
<circle cx="1032.8" cy="299.1" r="3.2"/>
<circle cx="1039.5" cy="291.9" r="2.8"/>
<circle cx="1044.3" cy="282.3" r="4.0"/>
<circle cx="1040.7" cy="270.3" r="3.5"/>
<circle cx="1034.7" cy="260.7" r="3.8"/>
<circle cx="1040.7" cy="251.1" r="4.0"/>
<circle cx="1039.5" cy="241.5" r="3.8"/>
<circle cx="1033.5" cy="235.5" r="4.1"/>
<circle cx="1039.5" cy="228.3" r="3.4"/>
<circle cx="1051.5" cy="224.7" r="3.9"/>
<circle cx="1053.9" cy="216.3" r="3.4"/>
<circle cx="1063.5" cy="218.7" r="4.1"/>
<circle cx="1070.7" cy="209.1" r="4.0"/>
<circle cx="1079.1" cy="211.5" r="2.9"/>
<circle cx="1033.5" cy="275.1" r="4"/>
<circle cx="1101.9" cy="321.9" r="4"/>
<circle cx="1039.5" cy="299.1" r="4"/>
<circle cx="1129.5" cy="238.6" r="4"/>
<circle cx="1086.3" cy="207.9" r="4"/>
<ellipse cx="1052.3" cy="238.3" rx="2.9" ry="1.0" fill="#444" opacity="0.64" transform="rotate(77 1052.3 238.3)"/>
<ellipse cx="1074.2" cy="297.5" rx="2.1" ry="1.1" fill="#444" opacity="0.52" transform="rotate(59 1074.2 297.5)"/>
<ellipse cx="1111.3" cy="283.0" rx="2.8" ry="1.5" fill="#444" opacity="0.85" transform="rotate(171 1111.3 283.0)"/>
<ellipse cx="1095.3" cy="284.6" rx="1.5" ry="1.1" fill="#444" opacity="0.61" transform="rotate(26 1095.3 284.6)"/>
<ellipse cx="1096.7" cy="237.8" rx="2.6" ry="1.2" fill="#444" opacity="0.46" transform="rotate(16 1096.7 237.8)"/>
<ellipse cx="1078.9" cy="278.8" rx="1.9" ry="0.9" fill="#444" opacity="0.34" transform="rotate(38 1078.9 278.8)"/>
<ellipse cx="1043.4" cy="258.5" rx="1.7" ry="0.7" fill="#444" opacity="0.63" transform="rotate(11 1043.4 258.5)"/>
<ellipse cx="1070.9" cy="273.8" rx="2.0" ry="1.5" fill="#444" opacity="0.45" transform="rotate(60 1070.9 273.8)"/>
<ellipse cx="1118.5" cy="247.2" rx="1.0" ry="1.2" fill="#444" opacity="0.32" transform="rotate(50 1118.5 247.2)"/>
<ellipse cx="1116.5" cy="245.5" rx="1.4" ry="1.3" fill="#444" opacity="0.84" transform="rotate(86 1116.5 245.5)"/>
<ellipse cx="1066.0" cy="309.5" rx="2.8" ry="1.0" fill="#444" opacity="0.55" transform="rotate(133 1066.0 309.5)"/>
<ellipse cx="1071.5" cy="300.7" rx="2.3" ry="0.7" fill="#444" opacity="0.84" transform="rotate(129 1071.5 300.7)"/>
<ellipse cx="1062.7" cy="278.4" rx="2.4" ry="1.5" fill="#444" opacity="0.54" transform="rotate(66 1062.7 278.4)"/>
<ellipse cx="1081.9" cy="270.1" rx="0.8" ry="1.0" fill="#444" opacity="0.62" transform="rotate(5 1081.9 270.1)"/>
<ellipse cx="1070.8" cy="274.1" rx="1.1" ry="1.2" fill="#444" opacity="0.48" transform="rotate(90 1070.8 274.1)"/>
<ellipse cx="1094.0" cy="251.4" rx="2.4" ry="1.3" fill="#444" opacity="0.31" transform="rotate(15 1094.0 251.4)"/>
<ellipse cx="1115.2" cy="219.6" rx="1.6" ry="1.2" fill="#444" opacity="0.46" transform="rotate(153 1115.2 219.6)"/>
<ellipse cx="1066.5" cy="252.4" rx="1.5" ry="1.0" fill="#444" opacity="0.63" transform="rotate(76 1066.5 252.4)"/>
<ellipse cx="1102.3" cy="227.6" rx="2.6" ry="1.6" fill="#444" opacity="0.68" transform="rotate(33 1102.3 227.6)"/>
<ellipse cx="1065.7" cy="238.9" rx="2.6" ry="0.8" fill="#444" opacity="0.40" transform="rotate(111 1065.7 238.9)"/>
<ellipse cx="1091.8" cy="226.8" rx="2.1" ry="1.5" fill="#444" opacity="0.67" transform="rotate(57 1091.8 226.8)"/>
<ellipse cx="1075.6" cy="299.6" rx="1.2" ry="0.9" fill="#444" opacity="0.66" transform="rotate(145 1075.6 299.6)"/>
<ellipse cx="1076.5" cy="239.1" rx="1.1" ry="1.1" fill="#444" opacity="0.40" transform="rotate(147 1076.5 239.1)"/>
<ellipse cx="1056.0" cy="244.3" rx="2.6" ry="1.2" fill="#444" opacity="0.74" transform="rotate(88 1056.0 244.3)"/>
<ellipse cx="1087.1" cy="257.9" rx="1.9" ry="1.4" fill="#444" opacity="0.56" transform="rotate(162 1087.1 257.9)"/>
<ellipse cx="1073.9" cy="257.8" rx="1.7" ry="1.5" fill="#444" opacity="0.39" transform="rotate(1 1073.9 257.8)"/>
<ellipse cx="1078.5" cy="297.4" rx="2.2" ry="1.1" fill="#444" opacity="0.61" transform="rotate(56 1078.5 297.4)"/>
<ellipse cx="1044.4" cy="261.3" rx="2.5" ry="1.3" fill="#444" opacity="0.83" transform="rotate(139 1044.4 261.3)"/>
<ellipse cx="1068.1" cy="239.4" rx="0.9" ry="1.2" fill="#444" opacity="0.46" transform="rotate(62 1068.1 239.4)"/>
<ellipse cx="1045.4" cy="304.2" rx="2.3" ry="1.5" fill="#444" opacity="0.79" transform="rotate(110 1045.4 304.2)"/>
<ellipse cx="1086.2" cy="218.8" rx="2.4" ry="0.8" fill="#444" opacity="0.46" transform="rotate(169 1086.2 218.8)"/>
<ellipse cx="1043.4" cy="269.1" rx="0.9" ry="1.5" fill="#444" opacity="0.36" transform="rotate(32 1043.4 269.1)"/>
<ellipse cx="1061.3" cy="300.2" rx="1.8" ry="1.4" fill="#444" opacity="0.49" transform="rotate(50 1061.3 300.2)"/>
<ellipse cx="1051.3" cy="302.7" rx="1.1" ry="0.8" fill="#444" opacity="0.45" transform="rotate(32 1051.3 302.7)"/>
<ellipse cx="1105.1" cy="218.2" rx="2.2" ry="1.5" fill="#444" opacity="0.33" transform="rotate(69 1105.1 218.2)"/>
<ellipse cx="1061.0" cy="276.8" rx="1.9" ry="0.7" fill="#444" opacity="0.48" transform="rotate(0 1061.0 276.8)"/>
<ellipse cx="1107.7" cy="291.9" rx="0.9" ry="0.6" fill="#444" opacity="0.57" transform="rotate(8 1107.7 291.9)"/>
<ellipse cx="1107.5" cy="225.8" rx="1.9" ry="0.9" fill="#444" opacity="0.47" transform="rotate(89 1107.5 225.8)"/>
<ellipse cx="1071.5" cy="254.9" rx="1.5" ry="0.9" fill="#444" opacity="0.84" transform="rotate(109 1071.5 254.9)"/>
<ellipse cx="1051.4" cy="270.8" rx="2.4" ry="1.0" fill="#444" opacity="0.34" transform="rotate(45 1051.4 270.8)"/>
<ellipse cx="1045.2" cy="261.7" rx="2.2" ry="1.1" fill="#444" opacity="0.65" transform="rotate(11 1045.2 261.7)"/>
<ellipse cx="1089.7" cy="258.9" rx="1.6" ry="1.1" fill="#444" opacity="0.69" transform="rotate(107 1089.7 258.9)"/>
<ellipse cx="1114.8" cy="257.7" rx="0.8" ry="0.8" fill="#444" opacity="0.45" transform="rotate(151 1114.8 257.7)"/>
<ellipse cx="1047.4" cy="258.3" rx="1.7" ry="1.5" fill="#444" opacity="0.82" transform="rotate(95 1047.4 258.3)"/>
<ellipse cx="1116.3" cy="271.2" rx="2.7" ry="0.7" fill="#444" opacity="0.68" transform="rotate(169 1116.3 271.2)"/>
<ellipse cx="1107.1" cy="268.4" rx="1.6" ry="0.7" fill="#444" opacity="0.48" transform="rotate(136 1107.1 268.4)"/>
<ellipse cx="1049.8" cy="273.9" rx="0.8" ry="0.7" fill="#444" opacity="0.73" transform="rotate(11 1049.8 273.9)"/>
<ellipse cx="1082.4" cy="271.7" rx="2.3" ry="1.0" fill="#444" opacity="0.75" transform="rotate(87 1082.4 271.7)"/>
<ellipse cx="1106.5" cy="229.2" rx="2.7" ry="1.3" fill="#444" opacity="0.76" transform="rotate(72 1106.5 229.2)"/>
<ellipse cx="1086.3" cy="294.2" rx="0.9" ry="1.4" fill="#444" opacity="0.58" transform="rotate(61 1086.3 294.2)"/>
<ellipse cx="1050.1" cy="289.4" rx="2.9" ry="0.7" fill="#444" opacity="0.48" transform="rotate(144 1050.1 289.4)"/>
<ellipse cx="1055.7" cy="224.9" rx="3.0" ry="1.2" fill="#444" opacity="0.55" transform="rotate(179 1055.7 224.9)"/>
<ellipse cx="1099.7" cy="255.3" rx="1.6" ry="1.0" fill="#444" opacity="0.49" transform="rotate(107 1099.7 255.3)"/>
<ellipse cx="1116.1" cy="253.5" rx="1.3" ry="1.5" fill="#444" opacity="0.76" transform="rotate(41 1116.1 253.5)"/>
<ellipse cx="1073.8" cy="272.1" rx="2.1" ry="1.5" fill="#444" opacity="0.68" transform="rotate(39 1073.8 272.1)"/>
<ellipse cx="1091.3" cy="303.6" rx="1.1" ry="0.7" fill="#444" opacity="0.71" transform="rotate(178 1091.3 303.6)"/>
<ellipse cx="1081.6" cy="260.0" rx="2.4" ry="0.8" fill="#444" opacity="0.45" transform="rotate(50 1081.6 260.0)"/>
<ellipse cx="1053.1" cy="267.0" rx="2.9" ry="1.5" fill="#444" opacity="0.60" transform="rotate(75 1053.1 267.0)"/>
<ellipse cx="1093.4" cy="299.6" rx="2.1" ry="1.2" fill="#444" opacity="0.84" transform="rotate(55 1093.4 299.6)"/>
<ellipse cx="1065.5" cy="243.3" rx="2.6" ry="0.8" fill="#444" opacity="0.61" transform="rotate(61 1065.5 243.3)"/>
<ellipse cx="1066.6" cy="291.8" rx="1.1" ry="1.6" fill="#444" opacity="0.56" transform="rotate(153 1066.6 291.8)"/>
<ellipse cx="1057.7" cy="273.2" rx="2.8" ry="1.3" fill="#444" opacity="0.32" transform="rotate(18 1057.7 273.2)"/>
<ellipse cx="1107.7" cy="255.9" rx="2.4" ry="1.6" fill="#444" opacity="0.56" transform="rotate(58 1107.7 255.9)"/>
<ellipse cx="1110.3" cy="279.7" rx="2.5" ry="0.7" fill="#444" opacity="0.42" transform="rotate(65 1110.3 279.7)"/>
<ellipse cx="1060.5" cy="235.7" rx="1.4" ry="0.8" fill="#444" opacity="0.69" transform="rotate(9 1060.5 235.7)"/>
<ellipse cx="1111.0" cy="242.0" rx="2.7" ry="0.9" fill="#444" opacity="0.53" transform="rotate(21 1111.0 242.0)"/>
<ellipse cx="1051.0" cy="242.9" rx="2.8" ry="0.6" fill="#444" opacity="0.55" transform="rotate(172 1051.0 242.9)"/>
<ellipse cx="1067.7" cy="220.3" rx="1.5" ry="1.0" fill="#444" opacity="0.34" transform="rotate(164 1067.7 220.3)"/>
<ellipse cx="1086.8" cy="309.2" rx="1.7" ry="1.1" fill="#444" opacity="0.37" transform="rotate(70 1086.8 309.2)"/>
<ellipse cx="1047.8" cy="259.0" rx="1.8" ry="1.1" fill="#444" opacity="0.44" transform="rotate(135 1047.8 259.0)"/>
<ellipse cx="1114.1" cy="253.4" rx="2.5" ry="1.4" fill="#444" opacity="0.46" transform="rotate(173 1114.1 253.4)"/>
<ellipse cx="1093.3" cy="308.1" rx="2.6" ry="0.7" fill="#444" opacity="0.82" transform="rotate(86 1093.3 308.1)"/>
<ellipse cx="1093.5" cy="269.0" rx="1.0" ry="1.1" fill="#444" opacity="0.49" transform="rotate(75 1093.5 269.0)"/>
<ellipse cx="1094.0" cy="271.9" rx="1.2" ry="1.2" fill="#444" opacity="0.65" transform="rotate(45 1094.0 271.9)"/>
<ellipse cx="1070.4" cy="305.8" rx="1.8" ry="0.7" fill="#444" opacity="0.61" transform="rotate(84 1070.4 305.8)"/>
<ellipse cx="1091.4" cy="279.9" rx="1.7" ry="0.9" fill="#444" opacity="0.40" transform="rotate(123 1091.4 279.9)"/>
<ellipse cx="1065.9" cy="234.5" rx="1.0" ry="1.3" fill="#444" opacity="0.71" transform="rotate(139 1065.9 234.5)"/>
<ellipse cx="1086.1" cy="255.1" rx="1.0" ry="0.9" fill="#444" opacity="0.33" transform="rotate(34 1086.1 255.1)"/>
<ellipse cx="1045.1" cy="266.0" rx="1.3" ry="1.4" fill="#444" opacity="0.49" transform="rotate(85 1045.1 266.0)"/>
<ellipse cx="1114.4" cy="260.5" rx="2.6" ry="0.7" fill="#444" opacity="0.57" transform="rotate(28 1114.4 260.5)"/>
<ellipse cx="1053.5" cy="274.1" rx="2.3" ry="1.2" fill="#444" opacity="0.80" transform="rotate(28 1053.5 274.1)"/>
<ellipse cx="1056.1" cy="235.7" rx="1.7" ry="1.3" fill="#444" opacity="0.75" transform="rotate(32 1056.1 235.7)"/>
<ellipse cx="1087.3" cy="231.6" rx="1.7" ry="0.8" fill="#444" opacity="0.59" transform="rotate(145 1087.3 231.6)"/>
<ellipse cx="1055.6" cy="300.9" rx="1.6" ry="0.9" fill="#444" opacity="0.76" transform="rotate(113 1055.6 300.9)"/>
<ellipse cx="1110.3" cy="308.6" rx="1.6" ry="1.2" fill="#444" opacity="0.62" transform="rotate(162 1110.3 308.6)"/>
<ellipse cx="1080.1" cy="268.3" rx="2.4" ry="1.5" fill="#444" opacity="0.67" transform="rotate(7 1080.1 268.3)"/>
<ellipse cx="1088.1" cy="287.3" rx="0.8" ry="1.4" fill="#444" opacity="0.66" transform="rotate(125 1088.1 287.3)"/>
<ellipse cx="1055.2" cy="277.5" rx="1.2" ry="1.4" fill="#444" opacity="0.42" transform="rotate(128 1055.2 277.5)"/>
<ellipse cx="1113.0" cy="308.4" rx="1.0" ry="0.9" fill="#444" opacity="0.66" transform="rotate(39 1113.0 308.4)"/>
<ellipse cx="1052.3" cy="293.6" rx="2.2" ry="0.7" fill="#444" opacity="0.50" transform="rotate(59 1052.3 293.6)"/>
<ellipse cx="1057.5" cy="239.1" rx="5" ry="3" fill="#444" opacity=".7"/>
</g>
<circle cx="1005.2" cy="309.9" r="1" fill="#777"/>
<circle cx="1117.5" cy="318.3" r="1" fill="#777"/>
<circle cx="892.0" cy="416.6" r="1" fill="#777"/>
<circle cx="1134.2" cy="204.3" r="1" fill="#777"/>
<circle cx="987.9" cy="271.5" r="1" fill="#777"/>
<circle cx="937.6" cy="237.9" r="1" fill="#777"/>
<rect x="1167.9" y="419.9" width="44.3" height="8.1" fill="#fff"/>
<text x="1135.6" y="456.8" font-size="29" text-anchor="start" textLength="108.0" lengthAdjust="spacingAndGlyphs" style="fill:#fff;stroke:none;font-family:'DejaVu Sans',sans-serif;">100 µm</text>
<text x="1341.2" y="23.4" font-size="26.2" text-anchor="start">b</text>
<line x1="1470.3" y1="69.2" x2="1470.3" y2="436.4" stroke="#000" stroke-width="3.5"/>
<line x1="1468.5" y1="434.7" x2="1848.5" y2="434.7" stroke="#000" stroke-width="3.5"/>
<path d="M1477.6 434.7a3.5 3.5 0 1 0 7.0 0a3.5 3.5 0 1 0 -7.0 0M1480.8 434.7a3.5 3.5 0 1 0 7.0 0a3.5 3.5 0 1 0 -7.0 0M1484.0 434.7a3.5 3.5 0 1 0 7.0 0a3.5 3.5 0 1 0 -7.0 0" fill="#2e3f9a"/>
<path d="M1498.8 434.7a3.5 3.5 0 1 0 7.0 0a3.5 3.5 0 1 0 -7.0 0M1502.0 434.7a3.5 3.5 0 1 0 7.0 0a3.5 3.5 0 1 0 -7.0 0M1505.2 434.7a3.5 3.5 0 1 0 7.0 0a3.5 3.5 0 1 0 -7.0 0" fill="#e8213f"/>
<path d="M1519.7 434.7a3.5 3.5 0 1 0 7.0 0a3.5 3.5 0 1 0 -7.0 0M1522.9 434.7a3.5 3.5 0 1 0 7.0 0a3.5 3.5 0 1 0 -7.0 0M1526.1 434.7a3.5 3.5 0 1 0 7.0 0a3.5 3.5 0 1 0 -7.0 0" fill="#a9a9ac"/>
<path d="M1557.8 216.8a3.5 3.5 0 1 0 7.0 0a3.5 3.5 0 1 0 -7.0 0M1557.8 260.3a3.5 3.5 0 1 0 7.0 0a3.5 3.5 0 1 0 -7.0 0M1557.8 289.4a3.5 3.5 0 1 0 7.0 0a3.5 3.5 0 1 0 -7.0 0M1555.3 303.9a3.5 3.5 0 1 0 7.0 0a3.5 3.5 0 1 0 -7.0 0M1560.3 303.9a3.5 3.5 0 1 0 7.0 0a3.5 3.5 0 1 0 -7.0 0M1557.8 318.5a3.5 3.5 0 1 0 7.0 0a3.5 3.5 0 1 0 -7.0 0M1557.8 333.0a3.5 3.5 0 1 0 7.0 0a3.5 3.5 0 1 0 -7.0 0M1555.3 347.5a3.5 3.5 0 1 0 7.0 0a3.5 3.5 0 1 0 -7.0 0M1560.3 347.5a3.5 3.5 0 1 0 7.0 0a3.5 3.5 0 1 0 -7.0 0M1557.8 362.1a3.5 3.5 0 1 0 7.0 0a3.5 3.5 0 1 0 -7.0 0M1557.8 376.6a3.5 3.5 0 1 0 7.0 0a3.5 3.5 0 1 0 -7.0 0" fill="#2e3f9a"/>
<path d="M1578.8 274.9a3.5 3.5 0 1 0 7.0 0a3.5 3.5 0 1 0 -7.0 0M1576.3 318.5a3.5 3.5 0 1 0 7.0 0a3.5 3.5 0 1 0 -7.0 0M1581.3 318.5a3.5 3.5 0 1 0 7.0 0a3.5 3.5 0 1 0 -7.0 0M1576.3 333.0a3.5 3.5 0 1 0 7.0 0a3.5 3.5 0 1 0 -7.0 0M1581.3 333.0a3.5 3.5 0 1 0 7.0 0a3.5 3.5 0 1 0 -7.0 0M1578.8 347.5a3.5 3.5 0 1 0 7.0 0a3.5 3.5 0 1 0 -7.0 0M1576.3 362.1a3.5 3.5 0 1 0 7.0 0a3.5 3.5 0 1 0 -7.0 0M1581.3 362.1a3.5 3.5 0 1 0 7.0 0a3.5 3.5 0 1 0 -7.0 0M1576.3 376.6a3.5 3.5 0 1 0 7.0 0a3.5 3.5 0 1 0 -7.0 0M1581.3 376.6a3.5 3.5 0 1 0 7.0 0a3.5 3.5 0 1 0 -7.0 0M1578.8 391.1a3.5 3.5 0 1 0 7.0 0a3.5 3.5 0 1 0 -7.0 0" fill="#e8213f"/>
<path d="M1599.8 274.9a3.5 3.5 0 1 0 7.0 0a3.5 3.5 0 1 0 -7.0 0M1599.8 289.4a3.5 3.5 0 1 0 7.0 0a3.5 3.5 0 1 0 -7.0 0M1594.8 303.9a3.5 3.5 0 1 0 7.0 0a3.5 3.5 0 1 0 -7.0 0M1599.8 303.9a3.5 3.5 0 1 0 7.0 0a3.5 3.5 0 1 0 -7.0 0M1604.8 303.9a3.5 3.5 0 1 0 7.0 0a3.5 3.5 0 1 0 -7.0 0M1599.8 333.0a3.5 3.5 0 1 0 7.0 0a3.5 3.5 0 1 0 -7.0 0M1599.8 347.5a3.5 3.5 0 1 0 7.0 0a3.5 3.5 0 1 0 -7.0 0M1599.8 362.1a3.5 3.5 0 1 0 7.0 0a3.5 3.5 0 1 0 -7.0 0M1599.8 376.6a3.5 3.5 0 1 0 7.0 0a3.5 3.5 0 1 0 -7.0 0M1599.8 391.1a3.5 3.5 0 1 0 7.0 0a3.5 3.5 0 1 0 -7.0 0M1597.3 405.6a3.5 3.5 0 1 0 7.0 0a3.5 3.5 0 1 0 -7.0 0M1602.3 405.6a3.5 3.5 0 1 0 7.0 0a3.5 3.5 0 1 0 -7.0 0M1599.8 420.2a3.5 3.5 0 1 0 7.0 0a3.5 3.5 0 1 0 -7.0 0" fill="#a9a9ac"/>
<path d="M1634.6 173.2a3.5 3.5 0 1 0 7.0 0a3.5 3.5 0 1 0 -7.0 0M1634.6 202.2a3.5 3.5 0 1 0 7.0 0a3.5 3.5 0 1 0 -7.0 0M1634.6 231.3a3.5 3.5 0 1 0 7.0 0a3.5 3.5 0 1 0 -7.0 0M1632.1 245.8a3.5 3.5 0 1 0 7.0 0a3.5 3.5 0 1 0 -7.0 0M1637.1 245.8a3.5 3.5 0 1 0 7.0 0a3.5 3.5 0 1 0 -7.0 0M1629.6 289.4a3.5 3.5 0 1 0 7.0 0a3.5 3.5 0 1 0 -7.0 0M1634.6 289.4a3.5 3.5 0 1 0 7.0 0a3.5 3.5 0 1 0 -7.0 0M1639.6 289.4a3.5 3.5 0 1 0 7.0 0a3.5 3.5 0 1 0 -7.0 0M1634.6 303.9a3.5 3.5 0 1 0 7.0 0a3.5 3.5 0 1 0 -7.0 0M1632.1 318.5a3.5 3.5 0 1 0 7.0 0a3.5 3.5 0 1 0 -7.0 0M1637.1 318.5a3.5 3.5 0 1 0 7.0 0a3.5 3.5 0 1 0 -7.0 0M1634.6 347.5a3.5 3.5 0 1 0 7.0 0a3.5 3.5 0 1 0 -7.0 0" fill="#2e3f9a"/>
<path d="M1655.6 260.3a3.5 3.5 0 1 0 7.0 0a3.5 3.5 0 1 0 -7.0 0M1655.6 274.9a3.5 3.5 0 1 0 7.0 0a3.5 3.5 0 1 0 -7.0 0M1653.1 303.9a3.5 3.5 0 1 0 7.0 0a3.5 3.5 0 1 0 -7.0 0M1658.1 303.9a3.5 3.5 0 1 0 7.0 0a3.5 3.5 0 1 0 -7.0 0M1653.1 333.0a3.5 3.5 0 1 0 7.0 0a3.5 3.5 0 1 0 -7.0 0M1658.1 333.0a3.5 3.5 0 1 0 7.0 0a3.5 3.5 0 1 0 -7.0 0M1655.6 347.5a3.5 3.5 0 1 0 7.0 0a3.5 3.5 0 1 0 -7.0 0M1653.1 362.1a3.5 3.5 0 1 0 7.0 0a3.5 3.5 0 1 0 -7.0 0M1658.1 362.1a3.5 3.5 0 1 0 7.0 0a3.5 3.5 0 1 0 -7.0 0M1655.6 376.6a3.5 3.5 0 1 0 7.0 0a3.5 3.5 0 1 0 -7.0 0M1655.6 391.1a3.5 3.5 0 1 0 7.0 0a3.5 3.5 0 1 0 -7.0 0M1655.6 405.6a3.5 3.5 0 1 0 7.0 0a3.5 3.5 0 1 0 -7.0 0" fill="#e8213f"/>
<path d="M1676.6 289.4a3.5 3.5 0 1 0 7.0 0a3.5 3.5 0 1 0 -7.0 0M1676.6 303.9a3.5 3.5 0 1 0 7.0 0a3.5 3.5 0 1 0 -7.0 0M1674.1 318.5a3.5 3.5 0 1 0 7.0 0a3.5 3.5 0 1 0 -7.0 0M1679.1 318.5a3.5 3.5 0 1 0 7.0 0a3.5 3.5 0 1 0 -7.0 0M1674.1 333.0a3.5 3.5 0 1 0 7.0 0a3.5 3.5 0 1 0 -7.0 0M1679.1 333.0a3.5 3.5 0 1 0 7.0 0a3.5 3.5 0 1 0 -7.0 0M1676.6 347.5a3.5 3.5 0 1 0 7.0 0a3.5 3.5 0 1 0 -7.0 0M1671.6 391.1a3.5 3.5 0 1 0 7.0 0a3.5 3.5 0 1 0 -7.0 0M1676.6 391.1a3.5 3.5 0 1 0 7.0 0a3.5 3.5 0 1 0 -7.0 0M1681.6 391.1a3.5 3.5 0 1 0 7.0 0a3.5 3.5 0 1 0 -7.0 0M1676.6 405.6a3.5 3.5 0 1 0 7.0 0a3.5 3.5 0 1 0 -7.0 0M1676.6 434.7a3.5 3.5 0 1 0 7.0 0a3.5 3.5 0 1 0 -7.0 0" fill="#a9a9ac"/>
<path d="M1711.5 144.1a3.5 3.5 0 1 0 7.0 0a3.5 3.5 0 1 0 -7.0 0M1711.5 158.6a3.5 3.5 0 1 0 7.0 0a3.5 3.5 0 1 0 -7.0 0M1711.5 173.2a3.5 3.5 0 1 0 7.0 0a3.5 3.5 0 1 0 -7.0 0M1711.5 187.7a3.5 3.5 0 1 0 7.0 0a3.5 3.5 0 1 0 -7.0 0M1709.0 231.3a3.5 3.5 0 1 0 7.0 0a3.5 3.5 0 1 0 -7.0 0M1714.0 231.3a3.5 3.5 0 1 0 7.0 0a3.5 3.5 0 1 0 -7.0 0M1711.5 260.3a3.5 3.5 0 1 0 7.0 0a3.5 3.5 0 1 0 -7.0 0M1711.5 274.9a3.5 3.5 0 1 0 7.0 0a3.5 3.5 0 1 0 -7.0 0M1711.5 289.4a3.5 3.5 0 1 0 7.0 0a3.5 3.5 0 1 0 -7.0 0M1711.5 376.6a3.5 3.5 0 1 0 7.0 0a3.5 3.5 0 1 0 -7.0 0" fill="#2e3f9a"/>
<path d="M1732.5 274.9a3.5 3.5 0 1 0 7.0 0a3.5 3.5 0 1 0 -7.0 0M1730.0 289.4a3.5 3.5 0 1 0 7.0 0a3.5 3.5 0 1 0 -7.0 0M1735.0 289.4a3.5 3.5 0 1 0 7.0 0a3.5 3.5 0 1 0 -7.0 0M1730.0 333.0a3.5 3.5 0 1 0 7.0 0a3.5 3.5 0 1 0 -7.0 0M1735.0 333.0a3.5 3.5 0 1 0 7.0 0a3.5 3.5 0 1 0 -7.0 0M1732.5 347.5a3.5 3.5 0 1 0 7.0 0a3.5 3.5 0 1 0 -7.0 0M1732.5 362.1a3.5 3.5 0 1 0 7.0 0a3.5 3.5 0 1 0 -7.0 0M1732.5 376.6a3.5 3.5 0 1 0 7.0 0a3.5 3.5 0 1 0 -7.0 0M1730.0 391.1a3.5 3.5 0 1 0 7.0 0a3.5 3.5 0 1 0 -7.0 0M1735.0 391.1a3.5 3.5 0 1 0 7.0 0a3.5 3.5 0 1 0 -7.0 0M1732.5 405.6a3.5 3.5 0 1 0 7.0 0a3.5 3.5 0 1 0 -7.0 0" fill="#e8213f"/>
<path d="M1753.5 245.8a3.5 3.5 0 1 0 7.0 0a3.5 3.5 0 1 0 -7.0 0M1751.0 303.9a3.5 3.5 0 1 0 7.0 0a3.5 3.5 0 1 0 -7.0 0M1756.0 303.9a3.5 3.5 0 1 0 7.0 0a3.5 3.5 0 1 0 -7.0 0M1753.5 318.5a3.5 3.5 0 1 0 7.0 0a3.5 3.5 0 1 0 -7.0 0M1753.5 333.0a3.5 3.5 0 1 0 7.0 0a3.5 3.5 0 1 0 -7.0 0M1753.5 347.5a3.5 3.5 0 1 0 7.0 0a3.5 3.5 0 1 0 -7.0 0M1751.0 362.1a3.5 3.5 0 1 0 7.0 0a3.5 3.5 0 1 0 -7.0 0M1756.0 362.1a3.5 3.5 0 1 0 7.0 0a3.5 3.5 0 1 0 -7.0 0M1751.0 391.1a3.5 3.5 0 1 0 7.0 0a3.5 3.5 0 1 0 -7.0 0M1756.0 391.1a3.5 3.5 0 1 0 7.0 0a3.5 3.5 0 1 0 -7.0 0M1751.0 405.6a3.5 3.5 0 1 0 7.0 0a3.5 3.5 0 1 0 -7.0 0M1756.0 405.6a3.5 3.5 0 1 0 7.0 0a3.5 3.5 0 1 0 -7.0 0M1753.5 434.7a3.5 3.5 0 1 0 7.0 0a3.5 3.5 0 1 0 -7.0 0" fill="#a9a9ac"/>
<path d="M1788.3 100.5a3.5 3.5 0 1 0 7.0 0a3.5 3.5 0 1 0 -7.0 0M1788.3 115.0a3.5 3.5 0 1 0 7.0 0a3.5 3.5 0 1 0 -7.0 0M1788.3 129.6a3.5 3.5 0 1 0 7.0 0a3.5 3.5 0 1 0 -7.0 0M1788.3 187.7a3.5 3.5 0 1 0 7.0 0a3.5 3.5 0 1 0 -7.0 0M1788.3 245.8a3.5 3.5 0 1 0 7.0 0a3.5 3.5 0 1 0 -7.0 0M1785.8 260.3a3.5 3.5 0 1 0 7.0 0a3.5 3.5 0 1 0 -7.0 0M1790.8 260.3a3.5 3.5 0 1 0 7.0 0a3.5 3.5 0 1 0 -7.0 0M1788.3 274.9a3.5 3.5 0 1 0 7.0 0a3.5 3.5 0 1 0 -7.0 0M1785.8 289.4a3.5 3.5 0 1 0 7.0 0a3.5 3.5 0 1 0 -7.0 0M1790.8 289.4a3.5 3.5 0 1 0 7.0 0a3.5 3.5 0 1 0 -7.0 0M1788.3 303.9a3.5 3.5 0 1 0 7.0 0a3.5 3.5 0 1 0 -7.0 0M1788.3 347.5a3.5 3.5 0 1 0 7.0 0a3.5 3.5 0 1 0 -7.0 0" fill="#2e3f9a"/>
<path d="M1809.3 231.3a3.5 3.5 0 1 0 7.0 0a3.5 3.5 0 1 0 -7.0 0M1809.3 274.9a3.5 3.5 0 1 0 7.0 0a3.5 3.5 0 1 0 -7.0 0M1806.8 303.9a3.5 3.5 0 1 0 7.0 0a3.5 3.5 0 1 0 -7.0 0M1811.8 303.9a3.5 3.5 0 1 0 7.0 0a3.5 3.5 0 1 0 -7.0 0M1804.3 333.0a3.5 3.5 0 1 0 7.0 0a3.5 3.5 0 1 0 -7.0 0M1809.3 333.0a3.5 3.5 0 1 0 7.0 0a3.5 3.5 0 1 0 -7.0 0M1814.3 333.0a3.5 3.5 0 1 0 7.0 0a3.5 3.5 0 1 0 -7.0 0M1806.8 347.5a3.5 3.5 0 1 0 7.0 0a3.5 3.5 0 1 0 -7.0 0M1811.8 347.5a3.5 3.5 0 1 0 7.0 0a3.5 3.5 0 1 0 -7.0 0M1806.8 362.1a3.5 3.5 0 1 0 7.0 0a3.5 3.5 0 1 0 -7.0 0M1811.8 362.1a3.5 3.5 0 1 0 7.0 0a3.5 3.5 0 1 0 -7.0 0M1806.8 376.6a3.5 3.5 0 1 0 7.0 0a3.5 3.5 0 1 0 -7.0 0M1811.8 376.6a3.5 3.5 0 1 0 7.0 0a3.5 3.5 0 1 0 -7.0 0M1809.3 405.6a3.5 3.5 0 1 0 7.0 0a3.5 3.5 0 1 0 -7.0 0" fill="#e8213f"/>
<path d="M1830.3 274.9a3.5 3.5 0 1 0 7.0 0a3.5 3.5 0 1 0 -7.0 0M1830.3 318.5a3.5 3.5 0 1 0 7.0 0a3.5 3.5 0 1 0 -7.0 0M1827.8 333.0a3.5 3.5 0 1 0 7.0 0a3.5 3.5 0 1 0 -7.0 0M1832.8 333.0a3.5 3.5 0 1 0 7.0 0a3.5 3.5 0 1 0 -7.0 0M1830.3 347.5a3.5 3.5 0 1 0 7.0 0a3.5 3.5 0 1 0 -7.0 0M1830.3 362.1a3.5 3.5 0 1 0 7.0 0a3.5 3.5 0 1 0 -7.0 0M1827.8 376.6a3.5 3.5 0 1 0 7.0 0a3.5 3.5 0 1 0 -7.0 0M1832.8 376.6a3.5 3.5 0 1 0 7.0 0a3.5 3.5 0 1 0 -7.0 0M1830.3 391.1a3.5 3.5 0 1 0 7.0 0a3.5 3.5 0 1 0 -7.0 0M1830.3 405.6a3.5 3.5 0 1 0 7.0 0a3.5 3.5 0 1 0 -7.0 0M1830.3 434.7a3.5 3.5 0 1 0 7.0 0a3.5 3.5 0 1 0 -7.0 0" fill="#a9a9ac"/>
<path d="M1555.5 434.7V315.6H1567.1V434.7" fill="none" stroke="#000" stroke-width="3.2"/>
<path d="M1561.3 268.6V357.8M1556.0 268.6h10.5M1556.0 357.8h10.5" fill="none" stroke="#000" stroke-width="3.2"/>
<path d="M1576.5 434.7V344.6H1588.1V434.7" fill="none" stroke="#000" stroke-width="3.2"/>
<path d="M1582.3 310.4V378.0M1577.0 310.4h10.5M1577.0 378.0h10.5" fill="none" stroke="#000" stroke-width="3.2"/>
<path d="M1597.5 434.7V348.2H1609.1V434.7" fill="none" stroke="#000" stroke-width="3.2"/>
<path d="M1603.3 297.8V397.5M1598.0 297.8h10.5M1598.0 397.5h10.5" fill="none" stroke="#000" stroke-width="3.2"/>
<path d="M1632.3 434.7V272.7H1643.9V434.7" fill="none" stroke="#000" stroke-width="3.2"/>
<path d="M1638.1 219.0V322.7M1632.9 219.0h10.5M1632.9 322.7h10.5" fill="none" stroke="#000" stroke-width="3.2"/>
<path d="M1653.3 434.7V336.6H1664.9V434.7" fill="none" stroke="#000" stroke-width="3.2"/>
<path d="M1659.1 290.8V380.0M1653.9 290.8h10.5M1653.9 380.0h10.5" fill="none" stroke="#000" stroke-width="3.2"/>
<path d="M1674.3 434.7V353.3H1685.9V434.7" fill="none" stroke="#000" stroke-width="3.2"/>
<path d="M1680.1 306.7V397.5M1674.9 306.7h10.5M1674.9 397.5h10.5" fill="none" stroke="#000" stroke-width="3.2"/>
<path d="M1709.2 434.7V240.0H1720.8V434.7" fill="none" stroke="#000" stroke-width="3.2"/>
<path d="M1715.0 170.9V306.0M1709.8 170.9h10.5M1709.8 306.0h10.5" fill="none" stroke="#000" stroke-width="3.2"/>
<path d="M1730.2 434.7V344.6H1741.8V434.7" fill="none" stroke="#000" stroke-width="3.2"/>
<path d="M1736.0 301.2V386.4M1730.8 301.2h10.5M1730.8 386.4h10.5" fill="none" stroke="#000" stroke-width="3.2"/>
<path d="M1751.2 434.7V354.8H1762.8V434.7" fill="none" stroke="#000" stroke-width="3.2"/>
<path d="M1757.0 301.2V407.5M1751.8 301.2h10.5M1751.8 407.5h10.5" fill="none" stroke="#000" stroke-width="3.2"/>
<path d="M1786.0 434.7V234.2H1797.6V434.7" fill="none" stroke="#000" stroke-width="3.2"/>
<path d="M1791.8 152.4V315.1M1786.6 152.4h10.5M1786.6 315.1h10.5" fill="none" stroke="#000" stroke-width="3.2"/>
<path d="M1807.0 434.7V335.9H1818.6V434.7" fill="none" stroke="#000" stroke-width="3.2"/>
<path d="M1812.8 288.0V382.8M1807.6 288.0h10.5M1807.6 382.8h10.5" fill="none" stroke="#000" stroke-width="3.2"/>
<path d="M1828.0 434.7V363.5H1839.6V434.7" fill="none" stroke="#000" stroke-width="3.2"/>
<path d="M1833.8 321.0V405.6M1828.6 321.0h10.5M1828.6 405.6h10.5" fill="none" stroke="#000" stroke-width="3.2"/>
<line x1="1464.3" y1="434.7" x2="1470.3" y2="434.7" stroke="#000" stroke-width="3.2"/>
<text x="1460.5" y="441.9" font-size="18.4" text-anchor="end">0</text>
<line x1="1464.3" y1="362.1" x2="1470.3" y2="362.1" stroke="#000" stroke-width="3.2"/>
<text x="1460.5" y="369.2" font-size="18.4" text-anchor="end">5</text>
<line x1="1464.3" y1="289.4" x2="1470.3" y2="289.4" stroke="#000" stroke-width="3.2"/>
<text x="1460.5" y="296.6" font-size="18.4" text-anchor="end">10</text>
<line x1="1464.3" y1="216.8" x2="1470.3" y2="216.8" stroke="#000" stroke-width="3.2"/>
<text x="1460.5" y="223.9" font-size="18.4" text-anchor="end">15</text>
<line x1="1464.3" y1="144.1" x2="1470.3" y2="144.1" stroke="#000" stroke-width="3.2"/>
<text x="1460.5" y="151.3" font-size="18.4" text-anchor="end">20</text>
<line x1="1464.3" y1="71.4" x2="1470.3" y2="71.4" stroke="#000" stroke-width="3.2"/>
<text x="1460.5" y="78.6" font-size="18.4" text-anchor="end">25</text>
<line x1="1504.6" y1="434.7" x2="1504.6" y2="440.7" stroke="#000" stroke-width="3.2"/>
<line x1="1581.6" y1="434.7" x2="1581.6" y2="440.7" stroke="#000" stroke-width="3.2"/>
<line x1="1658.9" y1="434.7" x2="1658.9" y2="440.7" stroke="#000" stroke-width="3.2"/>
<line x1="1735.7" y1="434.7" x2="1735.7" y2="440.7" stroke="#000" stroke-width="3.2"/>
<line x1="1812.4" y1="434.7" x2="1812.4" y2="440.7" stroke="#000" stroke-width="3.2"/>
<text x="1501.4" y="459.6" font-size="17.8" text-anchor="middle">0</text>
<text x="1581.6" y="459.6" font-size="17.8" text-anchor="middle">24</text>
<text x="1658.9" y="459.6" font-size="17.8" text-anchor="middle">48</text>
<text x="1735.7" y="459.6" font-size="17.8" text-anchor="middle">72</text>
<text x="1812.4" y="459.6" font-size="17.8" text-anchor="middle">96</text>
<text x="1662.5" y="486.0" font-size="22.5" text-anchor="middle" textLength="139.8" lengthAdjust="spacing">Time (Hours)</text>
<text x="1425.6" y="256.0" transform="rotate(-90 1425.6 256.0)" font-size="22.7" text-anchor="middle" textLength="346.0" lengthAdjust="spacingAndGlyphs">No. of Protrusions per Spheroid</text>
<ellipse cx="1492.3" cy="74.8" rx="6.4" ry="7.1" fill="#2e3f9a"/>
<ellipse cx="1492.3" cy="95.6" rx="6.4" ry="7.1" fill="#e8213f"/>
<ellipse cx="1492.3" cy="117.6" rx="6.4" ry="7.1" fill="#a9a9ac"/>
<text x="1503.6" y="77.8" font-size="17.8" text-anchor="start" textLength="58.2" lengthAdjust="spacingAndGlyphs">Control</text>
<text x="1503.6" y="99.6" font-size="17.8" text-anchor="start" textLength="73.1" lengthAdjust="spacingAndGlyphs">5mM CCr</text>
<text x="1503.6" y="121.6" font-size="17.8" text-anchor="start" textLength="82.3" lengthAdjust="spacingAndGlyphs">10mM CCr</text>
<text x="0.0" y="568.3" font-size="26.2" text-anchor="start">c</text>
<line x1="136.3" y1="646.1" x2="136.3" y2="999.5" stroke="#000" stroke-width="3.5"/>
<line x1="134.6" y1="997.8" x2="532.6" y2="997.8" stroke="#000" stroke-width="3.5"/>
<path d="M143.3 997.8a3.7 3.7 0 1 0 7.4 0a3.7 3.7 0 1 0 -7.4 0M146.8 997.8a3.7 3.7 0 1 0 7.4 0a3.7 3.7 0 1 0 -7.4 0M150.3 997.8a3.7 3.7 0 1 0 7.4 0a3.7 3.7 0 1 0 -7.4 0" fill="#2e3f9a"/>
<path d="M166.3 997.8a3.7 3.7 0 1 0 7.4 0a3.7 3.7 0 1 0 -7.4 0M169.8 997.8a3.7 3.7 0 1 0 7.4 0a3.7 3.7 0 1 0 -7.4 0M173.3 997.8a3.7 3.7 0 1 0 7.4 0a3.7 3.7 0 1 0 -7.4 0" fill="#e8213f"/>
<path d="M189.3 997.8a3.7 3.7 0 1 0 7.4 0a3.7 3.7 0 1 0 -7.4 0M192.8 997.8a3.7 3.7 0 1 0 7.4 0a3.7 3.7 0 1 0 -7.4 0M196.3 997.8a3.7 3.7 0 1 0 7.4 0a3.7 3.7 0 1 0 -7.4 0" fill="#a9a9ac"/>
<path d="M228.5 899.1a3.7 3.7 0 1 0 7.4 0a3.7 3.7 0 1 0 -7.4 0M225.0 908.9a3.7 3.7 0 1 0 7.4 0a3.7 3.7 0 1 0 -7.4 0M232.0 909.6a3.7 3.7 0 1 0 7.4 0a3.7 3.7 0 1 0 -7.4 0M226.5 924.3a3.7 3.7 0 1 0 7.4 0a3.7 3.7 0 1 0 -7.4 0M231.5 925.7a3.7 3.7 0 1 0 7.4 0a3.7 3.7 0 1 0 -7.4 0M228.5 929.2a3.7 3.7 0 1 0 7.4 0a3.7 3.7 0 1 0 -7.4 0M225.5 933.4a3.7 3.7 0 1 0 7.4 0a3.7 3.7 0 1 0 -7.4 0M230.5 936.2a3.7 3.7 0 1 0 7.4 0a3.7 3.7 0 1 0 -7.4 0M227.5 941.8a3.7 3.7 0 1 0 7.4 0a3.7 3.7 0 1 0 -7.4 0M231.5 945.3a3.7 3.7 0 1 0 7.4 0a3.7 3.7 0 1 0 -7.4 0M224.5 946.7a3.7 3.7 0 1 0 7.4 0a3.7 3.7 0 1 0 -7.4 0M225.5 951.6a3.7 3.7 0 1 0 7.4 0a3.7 3.7 0 1 0 -7.4 0" fill="#2e3f9a"/>
<path d="M250.5 918.7a3.7 3.7 0 1 0 7.4 0a3.7 3.7 0 1 0 -7.4 0M249.5 929.2a3.7 3.7 0 1 0 7.4 0a3.7 3.7 0 1 0 -7.4 0M252.5 933.4a3.7 3.7 0 1 0 7.4 0a3.7 3.7 0 1 0 -7.4 0M247.5 936.2a3.7 3.7 0 1 0 7.4 0a3.7 3.7 0 1 0 -7.4 0M253.5 940.4a3.7 3.7 0 1 0 7.4 0a3.7 3.7 0 1 0 -7.4 0M248.5 941.8a3.7 3.7 0 1 0 7.4 0a3.7 3.7 0 1 0 -7.4 0M252.5 945.3a3.7 3.7 0 1 0 7.4 0a3.7 3.7 0 1 0 -7.4 0M246.5 948.8a3.7 3.7 0 1 0 7.4 0a3.7 3.7 0 1 0 -7.4 0M253.5 951.6a3.7 3.7 0 1 0 7.4 0a3.7 3.7 0 1 0 -7.4 0M248.5 955.8a3.7 3.7 0 1 0 7.4 0a3.7 3.7 0 1 0 -7.4 0M252.5 959.3a3.7 3.7 0 1 0 7.4 0a3.7 3.7 0 1 0 -7.4 0M248.5 962.8a3.7 3.7 0 1 0 7.4 0a3.7 3.7 0 1 0 -7.4 0" fill="#e8213f"/>
<path d="M272.5 885.8a3.7 3.7 0 1 0 7.4 0a3.7 3.7 0 1 0 -7.4 0M276.5 917.3a3.7 3.7 0 1 0 7.4 0a3.7 3.7 0 1 0 -7.4 0M269.5 924.3a3.7 3.7 0 1 0 7.4 0a3.7 3.7 0 1 0 -7.4 0M276.5 933.4a3.7 3.7 0 1 0 7.4 0a3.7 3.7 0 1 0 -7.4 0M268.5 934.8a3.7 3.7 0 1 0 7.4 0a3.7 3.7 0 1 0 -7.4 0M272.5 938.3a3.7 3.7 0 1 0 7.4 0a3.7 3.7 0 1 0 -7.4 0M275.5 943.2a3.7 3.7 0 1 0 7.4 0a3.7 3.7 0 1 0 -7.4 0M270.5 948.8a3.7 3.7 0 1 0 7.4 0a3.7 3.7 0 1 0 -7.4 0M274.5 954.4a3.7 3.7 0 1 0 7.4 0a3.7 3.7 0 1 0 -7.4 0M271.5 959.3a3.7 3.7 0 1 0 7.4 0a3.7 3.7 0 1 0 -7.4 0M273.5 964.2a3.7 3.7 0 1 0 7.4 0a3.7 3.7 0 1 0 -7.4 0M272.5 969.1a3.7 3.7 0 1 0 7.4 0a3.7 3.7 0 1 0 -7.4 0" fill="#a9a9ac"/>
<path d="M309.1 787.8a3.7 3.7 0 1 0 7.4 0a3.7 3.7 0 1 0 -7.4 0M310.1 833.3a3.7 3.7 0 1 0 7.4 0a3.7 3.7 0 1 0 -7.4 0M307.1 835.4a3.7 3.7 0 1 0 7.4 0a3.7 3.7 0 1 0 -7.4 0M313.1 859.2a3.7 3.7 0 1 0 7.4 0a3.7 3.7 0 1 0 -7.4 0M308.1 864.8a3.7 3.7 0 1 0 7.4 0a3.7 3.7 0 1 0 -7.4 0M312.1 889.3a3.7 3.7 0 1 0 7.4 0a3.7 3.7 0 1 0 -7.4 0M305.1 896.3a3.7 3.7 0 1 0 7.4 0a3.7 3.7 0 1 0 -7.4 0M312.1 897.7a3.7 3.7 0 1 0 7.4 0a3.7 3.7 0 1 0 -7.4 0M309.1 903.3a3.7 3.7 0 1 0 7.4 0a3.7 3.7 0 1 0 -7.4 0M305.1 906.8a3.7 3.7 0 1 0 7.4 0a3.7 3.7 0 1 0 -7.4 0M313.1 908.2a3.7 3.7 0 1 0 7.4 0a3.7 3.7 0 1 0 -7.4 0M309.1 910.3a3.7 3.7 0 1 0 7.4 0a3.7 3.7 0 1 0 -7.4 0" fill="#2e3f9a"/>
<path d="M331.1 892.8a3.7 3.7 0 1 0 7.4 0a3.7 3.7 0 1 0 -7.4 0M329.1 902.6a3.7 3.7 0 1 0 7.4 0a3.7 3.7 0 1 0 -7.4 0M333.1 906.8a3.7 3.7 0 1 0 7.4 0a3.7 3.7 0 1 0 -7.4 0M328.1 918.0a3.7 3.7 0 1 0 7.4 0a3.7 3.7 0 1 0 -7.4 0M335.1 924.3a3.7 3.7 0 1 0 7.4 0a3.7 3.7 0 1 0 -7.4 0M327.1 927.8a3.7 3.7 0 1 0 7.4 0a3.7 3.7 0 1 0 -7.4 0M333.1 929.9a3.7 3.7 0 1 0 7.4 0a3.7 3.7 0 1 0 -7.4 0M334.1 954.4a3.7 3.7 0 1 0 7.4 0a3.7 3.7 0 1 0 -7.4 0M328.1 957.2a3.7 3.7 0 1 0 7.4 0a3.7 3.7 0 1 0 -7.4 0M331.1 959.3a3.7 3.7 0 1 0 7.4 0a3.7 3.7 0 1 0 -7.4 0M335.1 962.8a3.7 3.7 0 1 0 7.4 0a3.7 3.7 0 1 0 -7.4 0M327.1 967.7a3.7 3.7 0 1 0 7.4 0a3.7 3.7 0 1 0 -7.4 0" fill="#e8213f"/>
<path d="M353.1 848.0a3.7 3.7 0 1 0 7.4 0a3.7 3.7 0 1 0 -7.4 0M351.1 880.9a3.7 3.7 0 1 0 7.4 0a3.7 3.7 0 1 0 -7.4 0M356.1 885.8a3.7 3.7 0 1 0 7.4 0a3.7 3.7 0 1 0 -7.4 0M352.1 906.8a3.7 3.7 0 1 0 7.4 0a3.7 3.7 0 1 0 -7.4 0M354.1 913.8a3.7 3.7 0 1 0 7.4 0a3.7 3.7 0 1 0 -7.4 0M349.1 922.2a3.7 3.7 0 1 0 7.4 0a3.7 3.7 0 1 0 -7.4 0M357.1 924.3a3.7 3.7 0 1 0 7.4 0a3.7 3.7 0 1 0 -7.4 0M353.1 925.0a3.7 3.7 0 1 0 7.4 0a3.7 3.7 0 1 0 -7.4 0M350.1 931.3a3.7 3.7 0 1 0 7.4 0a3.7 3.7 0 1 0 -7.4 0M356.1 934.8a3.7 3.7 0 1 0 7.4 0a3.7 3.7 0 1 0 -7.4 0M353.1 955.8a3.7 3.7 0 1 0 7.4 0a3.7 3.7 0 1 0 -7.4 0M353.1 997.8a3.7 3.7 0 1 0 7.4 0a3.7 3.7 0 1 0 -7.4 0" fill="#a9a9ac"/>
<path d="M389.7 712.9a3.7 3.7 0 1 0 7.4 0a3.7 3.7 0 1 0 -7.4 0M389.7 824.2a3.7 3.7 0 1 0 7.4 0a3.7 3.7 0 1 0 -7.4 0M385.7 835.4a3.7 3.7 0 1 0 7.4 0a3.7 3.7 0 1 0 -7.4 0M393.7 836.8a3.7 3.7 0 1 0 7.4 0a3.7 3.7 0 1 0 -7.4 0M389.7 838.2a3.7 3.7 0 1 0 7.4 0a3.7 3.7 0 1 0 -7.4 0M392.7 868.3a3.7 3.7 0 1 0 7.4 0a3.7 3.7 0 1 0 -7.4 0M385.7 875.3a3.7 3.7 0 1 0 7.4 0a3.7 3.7 0 1 0 -7.4 0M393.7 877.4a3.7 3.7 0 1 0 7.4 0a3.7 3.7 0 1 0 -7.4 0M389.7 882.3a3.7 3.7 0 1 0 7.4 0a3.7 3.7 0 1 0 -7.4 0M388.7 892.8a3.7 3.7 0 1 0 7.4 0a3.7 3.7 0 1 0 -7.4 0M390.7 899.8a3.7 3.7 0 1 0 7.4 0a3.7 3.7 0 1 0 -7.4 0M389.7 917.3a3.7 3.7 0 1 0 7.4 0a3.7 3.7 0 1 0 -7.4 0" fill="#2e3f9a"/>
<path d="M411.7 850.8a3.7 3.7 0 1 0 7.4 0a3.7 3.7 0 1 0 -7.4 0M408.7 892.8a3.7 3.7 0 1 0 7.4 0a3.7 3.7 0 1 0 -7.4 0M414.7 894.2a3.7 3.7 0 1 0 7.4 0a3.7 3.7 0 1 0 -7.4 0M411.7 899.8a3.7 3.7 0 1 0 7.4 0a3.7 3.7 0 1 0 -7.4 0M409.7 905.4a3.7 3.7 0 1 0 7.4 0a3.7 3.7 0 1 0 -7.4 0M413.7 910.3a3.7 3.7 0 1 0 7.4 0a3.7 3.7 0 1 0 -7.4 0M410.7 920.8a3.7 3.7 0 1 0 7.4 0a3.7 3.7 0 1 0 -7.4 0M412.7 927.8a3.7 3.7 0 1 0 7.4 0a3.7 3.7 0 1 0 -7.4 0M407.7 941.8a3.7 3.7 0 1 0 7.4 0a3.7 3.7 0 1 0 -7.4 0M415.7 943.2a3.7 3.7 0 1 0 7.4 0a3.7 3.7 0 1 0 -7.4 0M411.7 943.9a3.7 3.7 0 1 0 7.4 0a3.7 3.7 0 1 0 -7.4 0M409.7 945.3a3.7 3.7 0 1 0 7.4 0a3.7 3.7 0 1 0 -7.4 0" fill="#e8213f"/>
<path d="M433.7 829.8a3.7 3.7 0 1 0 7.4 0a3.7 3.7 0 1 0 -7.4 0M429.7 884.4a3.7 3.7 0 1 0 7.4 0a3.7 3.7 0 1 0 -7.4 0M437.7 885.8a3.7 3.7 0 1 0 7.4 0a3.7 3.7 0 1 0 -7.4 0M433.7 889.3a3.7 3.7 0 1 0 7.4 0a3.7 3.7 0 1 0 -7.4 0M432.7 906.8a3.7 3.7 0 1 0 7.4 0a3.7 3.7 0 1 0 -7.4 0M428.7 915.2a3.7 3.7 0 1 0 7.4 0a3.7 3.7 0 1 0 -7.4 0M438.7 916.6a3.7 3.7 0 1 0 7.4 0a3.7 3.7 0 1 0 -7.4 0M433.7 917.3a3.7 3.7 0 1 0 7.4 0a3.7 3.7 0 1 0 -7.4 0M429.7 934.8a3.7 3.7 0 1 0 7.4 0a3.7 3.7 0 1 0 -7.4 0M437.7 936.2a3.7 3.7 0 1 0 7.4 0a3.7 3.7 0 1 0 -7.4 0M433.7 941.8a3.7 3.7 0 1 0 7.4 0a3.7 3.7 0 1 0 -7.4 0M433.7 997.8a3.7 3.7 0 1 0 7.4 0a3.7 3.7 0 1 0 -7.4 0" fill="#a9a9ac"/>
<path d="M470.3 765.4a3.7 3.7 0 1 0 7.4 0a3.7 3.7 0 1 0 -7.4 0M470.3 783.6a3.7 3.7 0 1 0 7.4 0a3.7 3.7 0 1 0 -7.4 0M466.3 817.2a3.7 3.7 0 1 0 7.4 0a3.7 3.7 0 1 0 -7.4 0M474.3 819.3a3.7 3.7 0 1 0 7.4 0a3.7 3.7 0 1 0 -7.4 0M470.3 834.7a3.7 3.7 0 1 0 7.4 0a3.7 3.7 0 1 0 -7.4 0M466.3 842.4a3.7 3.7 0 1 0 7.4 0a3.7 3.7 0 1 0 -7.4 0M474.3 843.8a3.7 3.7 0 1 0 7.4 0a3.7 3.7 0 1 0 -7.4 0M470.3 859.9a3.7 3.7 0 1 0 7.4 0a3.7 3.7 0 1 0 -7.4 0M466.3 876.7a3.7 3.7 0 1 0 7.4 0a3.7 3.7 0 1 0 -7.4 0M474.3 877.4a3.7 3.7 0 1 0 7.4 0a3.7 3.7 0 1 0 -7.4 0M470.3 892.1a3.7 3.7 0 1 0 7.4 0a3.7 3.7 0 1 0 -7.4 0M470.3 912.4a3.7 3.7 0 1 0 7.4 0a3.7 3.7 0 1 0 -7.4 0" fill="#2e3f9a"/>
<path d="M491.3 874.6a3.7 3.7 0 1 0 7.4 0a3.7 3.7 0 1 0 -7.4 0M494.3 877.4a3.7 3.7 0 1 0 7.4 0a3.7 3.7 0 1 0 -7.4 0M493.3 885.8a3.7 3.7 0 1 0 7.4 0a3.7 3.7 0 1 0 -7.4 0M492.3 896.3a3.7 3.7 0 1 0 7.4 0a3.7 3.7 0 1 0 -7.4 0M490.3 904.7a3.7 3.7 0 1 0 7.4 0a3.7 3.7 0 1 0 -7.4 0M494.3 910.3a3.7 3.7 0 1 0 7.4 0a3.7 3.7 0 1 0 -7.4 0M488.3 920.8a3.7 3.7 0 1 0 7.4 0a3.7 3.7 0 1 0 -7.4 0M496.3 922.2a3.7 3.7 0 1 0 7.4 0a3.7 3.7 0 1 0 -7.4 0M492.3 931.3a3.7 3.7 0 1 0 7.4 0a3.7 3.7 0 1 0 -7.4 0M495.3 950.2a3.7 3.7 0 1 0 7.4 0a3.7 3.7 0 1 0 -7.4 0M491.3 952.3a3.7 3.7 0 1 0 7.4 0a3.7 3.7 0 1 0 -7.4 0M488.3 954.4a3.7 3.7 0 1 0 7.4 0a3.7 3.7 0 1 0 -7.4 0" fill="#e8213f"/>
<path d="M516.3 871.1a3.7 3.7 0 1 0 7.4 0a3.7 3.7 0 1 0 -7.4 0M513.3 873.9a3.7 3.7 0 1 0 7.4 0a3.7 3.7 0 1 0 -7.4 0M514.3 881.6a3.7 3.7 0 1 0 7.4 0a3.7 3.7 0 1 0 -7.4 0M510.3 911.0a3.7 3.7 0 1 0 7.4 0a3.7 3.7 0 1 0 -7.4 0M518.3 915.2a3.7 3.7 0 1 0 7.4 0a3.7 3.7 0 1 0 -7.4 0M514.3 916.6a3.7 3.7 0 1 0 7.4 0a3.7 3.7 0 1 0 -7.4 0M509.3 920.8a3.7 3.7 0 1 0 7.4 0a3.7 3.7 0 1 0 -7.4 0M519.3 922.2a3.7 3.7 0 1 0 7.4 0a3.7 3.7 0 1 0 -7.4 0M514.3 924.3a3.7 3.7 0 1 0 7.4 0a3.7 3.7 0 1 0 -7.4 0M512.3 927.8a3.7 3.7 0 1 0 7.4 0a3.7 3.7 0 1 0 -7.4 0M516.3 931.3a3.7 3.7 0 1 0 7.4 0a3.7 3.7 0 1 0 -7.4 0M514.3 997.8a3.7 3.7 0 1 0 7.4 0a3.7 3.7 0 1 0 -7.4 0" fill="#a9a9ac"/>
<path d="M226.1 997.8V927.8H238.3V997.8" fill="none" stroke="#000" stroke-width="3.4"/>
<path d="M232.2 910.8V944.6M226.9 910.8h10.5M226.9 944.6h10.5" fill="none" stroke="#000" stroke-width="3.4"/>
<path d="M248.1 997.8V944.2H260.3V997.8" fill="none" stroke="#000" stroke-width="3.4"/>
<path d="M254.2 929.3V954.9M248.9 929.3h10.5M248.9 954.9h10.5" fill="none" stroke="#000" stroke-width="3.4"/>
<path d="M270.1 997.8V936.2H282.3V997.8" fill="none" stroke="#000" stroke-width="3.4"/>
<path d="M276.2 911.8V957.4M270.9 911.8h10.5M270.9 957.4h10.5" fill="none" stroke="#000" stroke-width="3.4"/>
<path d="M306.7 997.8V875.6H318.9V997.8" fill="none" stroke="#000" stroke-width="3.4"/>
<path d="M312.8 835.4V913.2M307.5 835.4h10.5M307.5 913.2h10.5" fill="none" stroke="#000" stroke-width="3.4"/>
<path d="M328.7 997.8V932.7H340.9V997.8" fill="none" stroke="#000" stroke-width="3.4"/>
<path d="M334.8 903.9V953.5M329.5 903.9h10.5M329.5 953.5h10.5" fill="none" stroke="#000" stroke-width="3.4"/>
<path d="M350.7 997.8V921.5H362.9V997.8" fill="none" stroke="#000" stroke-width="3.4"/>
<path d="M356.8 883.3V957.4M351.5 883.3h10.5M351.5 957.4h10.5" fill="none" stroke="#000" stroke-width="3.4"/>
<path d="M387.3 997.8V852.5H399.5V997.8" fill="none" stroke="#000" stroke-width="3.4"/>
<path d="M393.4 798.7V904.7M388.1 798.7h10.5M388.1 904.7h10.5" fill="none" stroke="#000" stroke-width="3.4"/>
<path d="M409.3 997.8V914.0H421.5V997.8" fill="none" stroke="#000" stroke-width="3.4"/>
<path d="M415.4 884.4V940.2M410.1 884.4h10.5M410.1 940.2h10.5" fill="none" stroke="#000" stroke-width="3.4"/>
<path d="M431.3 997.8V917.6H443.5V997.8" fill="none" stroke="#000" stroke-width="3.4"/>
<path d="M437.4 876.0V953.8M432.1 876.0h10.5M432.1 953.8h10.5" fill="none" stroke="#000" stroke-width="3.4"/>
<path d="M467.9 997.8V846.6H480.1V997.8" fill="none" stroke="#000" stroke-width="3.4"/>
<path d="M474.0 800.6V887.0M468.8 800.6h10.5M468.8 887.0h10.5" fill="none" stroke="#000" stroke-width="3.4"/>
<path d="M489.9 997.8V916.6H502.1V997.8" fill="none" stroke="#000" stroke-width="3.4"/>
<path d="M496.0 888.0V941.3M490.8 888.0h10.5M490.8 941.3h10.5" fill="none" stroke="#000" stroke-width="3.4"/>
<path d="M511.9 997.8V922.2H524.1V997.8" fill="none" stroke="#000" stroke-width="3.4"/>
<path d="M518.0 886.5V952.8M512.8 886.5h10.5M512.8 952.8h10.5" fill="none" stroke="#000" stroke-width="3.4"/>
<line x1="130.1" y1="997.8" x2="136.3" y2="997.8" stroke="#000" stroke-width="3.2"/>
<text x="129.3" y="1004.1" font-size="17.8" text-anchor="end">0</text>
<line x1="130.1" y1="927.8" x2="136.3" y2="927.8" stroke="#000" stroke-width="3.2"/>
<text x="129.3" y="934.1" font-size="17.8" text-anchor="end">100</text>
<line x1="130.1" y1="857.8" x2="136.3" y2="857.8" stroke="#000" stroke-width="3.2"/>
<text x="129.3" y="864.1" font-size="17.8" text-anchor="end">200</text>
<line x1="130.1" y1="787.8" x2="136.3" y2="787.8" stroke="#000" stroke-width="3.2"/>
<text x="129.3" y="794.1" font-size="17.8" text-anchor="end">300</text>
<line x1="130.1" y1="717.8" x2="136.3" y2="717.8" stroke="#000" stroke-width="3.2"/>
<text x="129.3" y="724.1" font-size="17.8" text-anchor="end">400</text>
<line x1="130.1" y1="647.8" x2="136.3" y2="647.8" stroke="#000" stroke-width="3.2"/>
<text x="129.3" y="654.1" font-size="17.8" text-anchor="end">500</text>
<line x1="173.5" y1="997.8" x2="173.5" y2="1003.8" stroke="#000" stroke-width="3.2"/>
<text x="173.5" y="1021.5" font-size="17.8" text-anchor="middle">0</text>
<line x1="253.8" y1="997.8" x2="253.8" y2="1003.8" stroke="#000" stroke-width="3.2"/>
<text x="250.0" y="1021.5" font-size="17.8" text-anchor="middle">24</text>
<line x1="334.5" y1="997.8" x2="334.5" y2="1003.8" stroke="#000" stroke-width="3.2"/>
<text x="331.2" y="1021.5" font-size="17.8" text-anchor="middle">48</text>
<line x1="415.0" y1="997.8" x2="415.0" y2="1003.8" stroke="#000" stroke-width="3.2"/>
<text x="412.3" y="1021.5" font-size="17.8" text-anchor="middle">72</text>
<line x1="495.6" y1="997.8" x2="495.6" y2="1003.8" stroke="#000" stroke-width="3.2"/>
<text x="496.3" y="1021.5" font-size="17.8" text-anchor="middle">96</text>
<text x="337.0" y="1047.6" font-size="22.5" text-anchor="middle" textLength="139.8" lengthAdjust="spacing">Time (Hours)</text>
<text x="85.3" y="823.7" transform="rotate(-90 85.3 823.7)" font-size="22.5" text-anchor="middle" textLength="345.6" lengthAdjust="spacingAndGlyphs">Average Protrusion Length (µm)</text>
<ellipse cx="159.6" cy="652.0" rx="6.4" ry="7.1" fill="#2e3f9a"/>
<ellipse cx="159.6" cy="672.9" rx="6.4" ry="7.1" fill="#e8213f"/>
<ellipse cx="159.6" cy="694.6" rx="6.4" ry="7.1" fill="#a9a9ac"/>
<text x="171.0" y="655.6" font-size="17.8" text-anchor="start" textLength="58.2" lengthAdjust="spacingAndGlyphs">Control</text>
<text x="171.0" y="676.9" font-size="17.8" text-anchor="start" textLength="73.1" lengthAdjust="spacingAndGlyphs">5mM CCr</text>
<text x="171.0" y="699.6" font-size="17.8" text-anchor="start" textLength="82.3" lengthAdjust="spacingAndGlyphs">10mM CCr</text>
<text x="670.0" y="568.2" font-size="26.5" text-anchor="start">d</text>
<text x="1167.1" y="617.5" font-size="22.5" text-anchor="middle">Control</text>
<line x1="753.5" y1="636.8" x2="1625.0" y2="634.8" stroke="#000" stroke-width="3"/>
<text x="1916.0" y="617.7" font-size="22.5" text-anchor="middle" textLength="128.6" lengthAdjust="spacing">+CCr (5mM)</text>
<line x1="1709.3" y1="636.0" x2="2106.0" y2="634.4" stroke="#000" stroke-width="3"/>
<text x="935.5" y="662.8" font-size="22.5" text-anchor="middle" textLength="45.8" lengthAdjust="spacing">t = 0</text>
<text x="1422.0" y="662.9" font-size="22.5" text-anchor="middle" textLength="128.2" lengthAdjust="spacing">t = 48 hours</text>
<text x="1908.3" y="662.9" font-size="22.5" text-anchor="middle" textLength="128.2" lengthAdjust="spacing">t = 48 hours</text>
<path d="M777.6 848.9a2.6 2.6 0 1 0 5.2 0a2.6 2.6 0 1 0 -5.2 0M788.9 881.0a2.6 2.6 0 1 0 5.2 0a2.6 2.6 0 1 0 -5.2 0M767.5 891.8a2.6 2.6 0 1 0 5.2 0a2.6 2.6 0 1 0 -5.2 0M798.5 907.5a2.6 2.6 0 1 0 5.2 0a2.6 2.6 0 1 0 -5.2 0M768.9 914.3a2.6 2.6 0 1 0 5.2 0a2.6 2.6 0 1 0 -5.2 0M766.0 923.7a2.6 2.6 0 1 0 5.2 0a2.6 2.6 0 1 0 -5.2 0M815.4 941.0a2.6 2.6 0 1 0 5.2 0a2.6 2.6 0 1 0 -5.2 0M827.7 937.2a2.6 2.6 0 1 0 5.2 0a2.6 2.6 0 1 0 -5.2 0M812.7 950.6a2.6 2.6 0 1 0 5.2 0a2.6 2.6 0 1 0 -5.2 0M837.8 948.0a2.6 2.6 0 1 0 5.2 0a2.6 2.6 0 1 0 -5.2 0M867.5 923.7a2.6 2.6 0 1 0 5.2 0a2.6 2.6 0 1 0 -5.2 0M888.3 929.3a2.6 2.6 0 1 0 5.2 0a2.6 2.6 0 1 0 -5.2 0M901.4 926.6a2.6 2.6 0 1 0 5.2 0a2.6 2.6 0 1 0 -5.2 0M859.1 953.6a2.6 2.6 0 1 0 5.2 0a2.6 2.6 0 1 0 -5.2 0M871.5 956.9a2.6 2.6 0 1 0 5.2 0a2.6 2.6 0 1 0 -5.2 0M881.6 949.1a2.6 2.6 0 1 0 5.2 0a2.6 2.6 0 1 0 -5.2 0M926.5 904.6a2.6 2.6 0 1 0 5.2 0a2.6 2.6 0 1 0 -5.2 0M940.4 899.0a2.6 2.6 0 1 0 5.2 0a2.6 2.6 0 1 0 -5.2 0M920.9 919.2a2.6 2.6 0 1 0 5.2 0a2.6 2.6 0 1 0 -5.2 0M935.0 947.7a2.6 2.6 0 1 0 5.2 0a2.6 2.6 0 1 0 -5.2 0M929.4 968.2a2.6 2.6 0 1 0 5.2 0a2.6 2.6 0 1 0 -5.2 0M874.9 1014.2a2.6 2.6 0 1 0 5.2 0a2.6 2.6 0 1 0 -5.2 0M803.0 1017.6a2.6 2.6 0 1 0 5.2 0a2.6 2.6 0 1 0 -5.2 0M809.8 1016.9a2.6 2.6 0 1 0 5.2 0a2.6 2.6 0 1 0 -5.2 0M795.6 1011.9a2.6 2.6 0 1 0 5.2 0a2.6 2.6 0 1 0 -5.2 0M824.3 1011.7a2.6 2.6 0 1 0 5.2 0a2.6 2.6 0 1 0 -5.2 0M771.6 1006.8a2.6 2.6 0 1 0 5.2 0a2.6 2.6 0 1 0 -5.2 0M833.3 966.8a2.6 2.6 0 1 0 5.2 0a2.6 2.6 0 1 0 -5.2 0M806.8 964.6a2.6 2.6 0 1 0 5.2 0a2.6 2.6 0 1 0 -5.2 0M890.6 928.2a2.6 2.6 0 1 0 5.2 0a2.6 2.6 0 1 0 -5.2 0M904.1 942.8a2.6 2.6 0 1 0 5.2 0a2.6 2.6 0 1 0 -5.2 0M917.5 942.8a2.6 2.6 0 1 0 5.2 0a2.6 2.6 0 1 0 -5.2 0M923.1 957.4a2.6 2.6 0 1 0 5.2 0a2.6 2.6 0 1 0 -5.2 0M944.5 948.4a2.6 2.6 0 1 0 5.2 0a2.6 2.6 0 1 0 -5.2 0M945.6 911.4a2.6 2.6 0 1 0 5.2 0a2.6 2.6 0 1 0 -5.2 0M1120.7 689.1a2.6 2.6 0 1 0 5.2 0a2.6 2.6 0 1 0 -5.2 0M1013.7 736.6a2.6 2.6 0 1 0 5.2 0a2.6 2.6 0 1 0 -5.2 0M1024.9 741.8a2.6 2.6 0 1 0 5.2 0a2.6 2.6 0 1 0 -5.2 0M1011.0 755.3a2.6 2.6 0 1 0 5.2 0a2.6 2.6 0 1 0 -5.2 0M1091.1 736.6a2.6 2.6 0 1 0 5.2 0a2.6 2.6 0 1 0 -5.2 0M1110.8 762.7a2.6 2.6 0 1 0 5.2 0a2.6 2.6 0 1 0 -5.2 0M1046.2 790.0a2.6 2.6 0 1 0 5.2 0a2.6 2.6 0 1 0 -5.2 0M1089.5 796.3a2.6 2.6 0 1 0 5.2 0a2.6 2.6 0 1 0 -5.2 0M1112.4 810.7a2.6 2.6 0 1 0 5.2 0a2.6 2.6 0 1 0 -5.2 0M965.9 850.6a2.6 2.6 0 1 0 5.2 0a2.6 2.6 0 1 0 -5.2 0M977.1 860.7a2.6 2.6 0 1 0 5.2 0a2.6 2.6 0 1 0 -5.2 0M954.7 883.1a2.6 2.6 0 1 0 5.2 0a2.6 2.6 0 1 0 -5.2 0M1079.9 849.5a2.6 2.6 0 1 0 5.2 0a2.6 2.6 0 1 0 -5.2 0M1069.8 852.9a2.6 2.6 0 1 0 5.2 0a2.6 2.6 0 1 0 -5.2 0M1063.0 860.7a2.6 2.6 0 1 0 5.2 0a2.6 2.6 0 1 0 -5.2 0M1103.4 823.7a2.6 2.6 0 1 0 5.2 0a2.6 2.6 0 1 0 -5.2 0M1102.3 842.8a2.6 2.6 0 1 0 5.2 0a2.6 2.6 0 1 0 -5.2 0M1072.0 885.4a2.6 2.6 0 1 0 5.2 0a2.6 2.6 0 1 0 -5.2 0M1068.7 955.6a2.6 2.6 0 1 0 5.2 0a2.6 2.6 0 1 0 -5.2 0M1060.4 947.5a2.6 2.6 0 1 0 5.2 0a2.6 2.6 0 1 0 -5.2 0M1061.5 930.3a2.6 2.6 0 1 0 5.2 0a2.6 2.6 0 1 0 -5.2 0M1055.9 924.7a2.6 2.6 0 1 0 5.2 0a2.6 2.6 0 1 0 -5.2 0M1081.0 931.4a2.6 2.6 0 1 0 5.2 0a2.6 2.6 0 1 0 -5.2 0M1081.0 921.3a2.6 2.6 0 1 0 5.2 0a2.6 2.6 0 1 0 -5.2 0M1086.6 918.6a2.6 2.6 0 1 0 5.2 0a2.6 2.6 0 1 0 -5.2 0M955.8 965.7a2.6 2.6 0 1 0 5.2 0a2.6 2.6 0 1 0 -5.2 0M952.0 957.9a2.6 2.6 0 1 0 5.2 0a2.6 2.6 0 1 0 -5.2 0M950.2 950.0a2.6 2.6 0 1 0 5.2 0a2.6 2.6 0 1 0 -5.2 0M969.9 957.2a2.6 2.6 0 1 0 5.2 0a2.6 2.6 0 1 0 -5.2 0M982.9 956.5a2.6 2.6 0 1 0 5.2 0a2.6 2.6 0 1 0 -5.2 0M986.8 949.8a2.6 2.6 0 1 0 5.2 0a2.6 2.6 0 1 0 -5.2 0M980.0 942.2a2.6 2.6 0 1 0 5.2 0a2.6 2.6 0 1 0 -5.2 0M967.7 944.8a2.6 2.6 0 1 0 5.2 0a2.6 2.6 0 1 0 -5.2 0M958.7 934.1a2.6 2.6 0 1 0 5.2 0a2.6 2.6 0 1 0 -5.2 0M989.5 935.2a2.6 2.6 0 1 0 5.2 0a2.6 2.6 0 1 0 -5.2 0M996.4 935.2a2.6 2.6 0 1 0 5.2 0a2.6 2.6 0 1 0 -5.2 0M940.8 898.9a2.6 2.6 0 1 0 5.2 0a2.6 2.6 0 1 0 -5.2 0M948.6 900.6a2.6 2.6 0 1 0 5.2 0a2.6 2.6 0 1 0 -5.2 0M957.6 900.6a2.6 2.6 0 1 0 5.2 0a2.6 2.6 0 1 0 -5.2 0M983.8 902.7a2.6 2.6 0 1 0 5.2 0a2.6 2.6 0 1 0 -5.2 0M993.5 901.1a2.6 2.6 0 1 0 5.2 0a2.6 2.6 0 1 0 -5.2 0M985.6 911.2a2.6 2.6 0 1 0 5.2 0a2.6 2.6 0 1 0 -5.2 0M1098.9 902.2a2.6 2.6 0 1 0 5.2 0a2.6 2.6 0 1 0 -5.2 0M1105.2 898.9a2.6 2.6 0 1 0 5.2 0a2.6 2.6 0 1 0 -5.2 0M1116.2 893.7a2.6 2.6 0 1 0 5.2 0a2.6 2.6 0 1 0 -5.2 0M1121.4 880.5a2.6 2.6 0 1 0 5.2 0a2.6 2.6 0 1 0 -5.2 0M1128.1 878.7a2.6 2.6 0 1 0 5.2 0a2.6 2.6 0 1 0 -5.2 0M1122.5 911.2a2.6 2.6 0 1 0 5.2 0a2.6 2.6 0 1 0 -5.2 0M1126.5 921.7a2.6 2.6 0 1 0 5.2 0a2.6 2.6 0 1 0 -5.2 0M1100.1 887.2a2.6 2.6 0 1 0 5.2 0a2.6 2.6 0 1 0 -5.2 0M1113.5 867.4a2.6 2.6 0 1 0 5.2 0a2.6 2.6 0 1 0 -5.2 0M1110.2 855.1a2.6 2.6 0 1 0 5.2 0a2.6 2.6 0 1 0 -5.2 0M1003.6 833.3a2.6 2.6 0 1 0 5.2 0a2.6 2.6 0 1 0 -5.2 0M1040.6 817.4a2.6 2.6 0 1 0 5.2 0a2.6 2.6 0 1 0 -5.2 0M1041.1 870.8a2.6 2.6 0 1 0 5.2 0a2.6 2.6 0 1 0 -5.2 0M1058.6 870.8a2.6 2.6 0 1 0 5.2 0a2.6 2.6 0 1 0 -5.2 0M1042.9 849.5a2.6 2.6 0 1 0 5.2 0a2.6 2.6 0 1 0 -5.2 0M1030.5 910.5a2.6 2.6 0 1 0 5.2 0a2.6 2.6 0 1 0 -5.2 0M1020.4 910.5a2.6 2.6 0 1 0 5.2 0a2.6 2.6 0 1 0 -5.2 0M1052.9 908.3a2.6 2.6 0 1 0 5.2 0a2.6 2.6 0 1 0 -5.2 0M1064.2 910.5a2.6 2.6 0 1 0 5.2 0a2.6 2.6 0 1 0 -5.2 0M1074.3 913.4a2.6 2.6 0 1 0 5.2 0a2.6 2.6 0 1 0 -5.2 0M1074.3 905.6a2.6 2.6 0 1 0 5.2 0a2.6 2.6 0 1 0 -5.2 0M1084.4 885.8a2.6 2.6 0 1 0 5.2 0a2.6 2.6 0 1 0 -5.2 0M940.8 947.1a2.6 2.6 0 1 0 5.2 0a2.6 2.6 0 1 0 -5.2 0M943.0 951.6a2.6 2.6 0 1 0 5.2 0a2.6 2.6 0 1 0 -5.2 0M945.3 916.8a2.6 2.6 0 1 0 5.2 0a2.6 2.6 0 1 0 -5.2 0M944.1 910.1a2.6 2.6 0 1 0 5.2 0a2.6 2.6 0 1 0 -5.2 0M839.3 958.9a2.6 2.6 0 1 0 5.2 0a2.6 2.6 0 1 0 -5.2 0M841.6 979.0a2.6 2.6 0 1 0 5.2 0a2.6 2.6 0 1 0 -5.2 0M848.7 978.7a2.6 2.6 0 1 0 5.2 0a2.6 2.6 0 1 0 -5.2 0M849.4 981.1a2.6 2.6 0 1 0 5.2 0a2.6 2.6 0 1 0 -5.2 0M869.5 983.2a2.6 2.6 0 1 0 5.2 0a2.6 2.6 0 1 0 -5.2 0M814.0 976.8a2.6 2.6 0 1 0 5.2 0a2.6 2.6 0 1 0 -5.2 0M777.8 934.6a2.6 2.6 0 1 0 5.2 0a2.6 2.6 0 1 0 -5.2 0M769.5 936.5a2.6 2.6 0 1 0 5.2 0a2.6 2.6 0 1 0 -5.2 0M929.4 962.1a2.6 2.6 0 1 0 5.2 0a2.6 2.6 0 1 0 -5.2 0M867.0 971.3a2.6 2.6 0 1 0 5.2 0a2.6 2.6 0 1 0 -5.2 0M789.2 990.9a2.6 2.6 0 1 0 5.2 0a2.6 2.6 0 1 0 -5.2 0M772.5 989.3a2.6 2.6 0 1 0 5.2 0a2.6 2.6 0 1 0 -5.2 0M794.7 1005.0a2.6 2.6 0 1 0 5.2 0a2.6 2.6 0 1 0 -5.2 0M841.3 993.9a2.6 2.6 0 1 0 5.2 0a2.6 2.6 0 1 0 -5.2 0M837.3 999.0a2.6 2.6 0 1 0 5.2 0a2.6 2.6 0 1 0 -5.2 0M871.2 972.6a2.6 2.6 0 1 0 5.2 0a2.6 2.6 0 1 0 -5.2 0M847.4 979.6a2.6 2.6 0 1 0 5.2 0a2.6 2.6 0 1 0 -5.2 0M809.7 976.1a2.6 2.6 0 1 0 5.2 0a2.6 2.6 0 1 0 -5.2 0M932.0 971.0a2.6 2.6 0 1 0 5.2 0a2.6 2.6 0 1 0 -5.2 0M882.7 984.5a2.6 2.6 0 1 0 5.2 0a2.6 2.6 0 1 0 -5.2 0M816.0 982.7a2.6 2.6 0 1 0 5.2 0a2.6 2.6 0 1 0 -5.2 0M774.3 978.0a2.6 2.6 0 1 0 5.2 0a2.6 2.6 0 1 0 -5.2 0M892.7 953.9a2.6 2.6 0 1 0 5.2 0a2.6 2.6 0 1 0 -5.2 0M828.1 999.3a2.6 2.6 0 1 0 5.2 0a2.6 2.6 0 1 0 -5.2 0M925.3 939.8a2.6 2.6 0 1 0 5.2 0a2.6 2.6 0 1 0 -5.2 0M798.1 976.6a2.6 2.6 0 1 0 5.2 0a2.6 2.6 0 1 0 -5.2 0M917.1 928.8a2.6 2.6 0 1 0 5.2 0a2.6 2.6 0 1 0 -5.2 0M830.0 995.4a2.6 2.6 0 1 0 5.2 0a2.6 2.6 0 1 0 -5.2 0M774.8 942.2a2.6 2.6 0 1 0 5.2 0a2.6 2.6 0 1 0 -5.2 0M808.3 974.0a2.6 2.6 0 1 0 5.2 0a2.6 2.6 0 1 0 -5.2 0M777.2 913.0a2.6 2.6 0 1 0 5.2 0a2.6 2.6 0 1 0 -5.2 0M891.3 1005.2a2.6 2.6 0 1 0 5.2 0a2.6 2.6 0 1 0 -5.2 0M782.5 988.5a2.6 2.6 0 1 0 5.2 0a2.6 2.6 0 1 0 -5.2 0M772.6 993.6a2.6 2.6 0 1 0 5.2 0a2.6 2.6 0 1 0 -5.2 0M897.9 981.3a2.6 2.6 0 1 0 5.2 0a2.6 2.6 0 1 0 -5.2 0M838.5 1004.7a2.6 2.6 0 1 0 5.2 0a2.6 2.6 0 1 0 -5.2 0M794.8 1003.0a2.6 2.6 0 1 0 5.2 0a2.6 2.6 0 1 0 -5.2 0M871.8 981.6a2.6 2.6 0 1 0 5.2 0a2.6 2.6 0 1 0 -5.2 0M782.2 975.3a2.6 2.6 0 1 0 5.2 0a2.6 2.6 0 1 0 -5.2 0M808.3 996.3a2.6 2.6 0 1 0 5.2 0a2.6 2.6 0 1 0 -5.2 0M927.5 944.8a2.6 2.6 0 1 0 5.2 0a2.6 2.6 0 1 0 -5.2 0M912.8 969.2a2.6 2.6 0 1 0 5.2 0a2.6 2.6 0 1 0 -5.2 0M798.2 954.5a2.6 2.6 0 1 0 5.2 0a2.6 2.6 0 1 0 -5.2 0M871.5 1004.7a2.6 2.6 0 1 0 5.2 0a2.6 2.6 0 1 0 -5.2 0M779.5 950.8a2.6 2.6 0 1 0 5.2 0a2.6 2.6 0 1 0 -5.2 0M806.3 994.3a2.6 2.6 0 1 0 5.2 0a2.6 2.6 0 1 0 -5.2 0M893.8 971.8a2.6 2.6 0 1 0 5.2 0a2.6 2.6 0 1 0 -5.2 0M774.9 968.2a2.6 2.6 0 1 0 5.2 0a2.6 2.6 0 1 0 -5.2 0M777.7 918.3a2.6 2.6 0 1 0 5.2 0a2.6 2.6 0 1 0 -5.2 0M864.6 974.7a2.6 2.6 0 1 0 5.2 0a2.6 2.6 0 1 0 -5.2 0M825.6 952.6a2.6 2.6 0 1 0 5.2 0a2.6 2.6 0 1 0 -5.2 0M844.6 1001.3a2.6 2.6 0 1 0 5.2 0a2.6 2.6 0 1 0 -5.2 0M860.1 985.5a2.6 2.6 0 1 0 5.2 0a2.6 2.6 0 1 0 -5.2 0M788.6 963.5a2.6 2.6 0 1 0 5.2 0a2.6 2.6 0 1 0 -5.2 0M916.8 973.2a2.6 2.6 0 1 0 5.2 0a2.6 2.6 0 1 0 -5.2 0M794.7 996.0a2.6 2.6 0 1 0 5.2 0a2.6 2.6 0 1 0 -5.2 0M888.1 978.2a2.6 2.6 0 1 0 5.2 0a2.6 2.6 0 1 0 -5.2 0M923.9 935.4a2.6 2.6 0 1 0 5.2 0a2.6 2.6 0 1 0 -5.2 0M912.4 968.5a2.6 2.6 0 1 0 5.2 0a2.6 2.6 0 1 0 -5.2 0M780.1 941.2a2.6 2.6 0 1 0 5.2 0a2.6 2.6 0 1 0 -5.2 0M769.0 962.0a2.6 2.6 0 1 0 5.2 0a2.6 2.6 0 1 0 -5.2 0M882.2 984.6a2.6 2.6 0 1 0 5.2 0a2.6 2.6 0 1 0 -5.2 0M806.1 1003.7a2.6 2.6 0 1 0 5.2 0a2.6 2.6 0 1 0 -5.2 0M812.3 970.2a2.6 2.6 0 1 0 5.2 0a2.6 2.6 0 1 0 -5.2 0M792.2 992.5a2.6 2.6 0 1 0 5.2 0a2.6 2.6 0 1 0 -5.2 0M801.2 985.5a2.6 2.6 0 1 0 5.2 0a2.6 2.6 0 1 0 -5.2 0M857.5 994.1a2.6 2.6 0 1 0 5.2 0a2.6 2.6 0 1 0 -5.2 0M810.0 973.5a2.6 2.6 0 1 0 5.2 0a2.6 2.6 0 1 0 -5.2 0M918.4 961.4a2.6 2.6 0 1 0 5.2 0a2.6 2.6 0 1 0 -5.2 0M808.2 994.3a2.6 2.6 0 1 0 5.2 0a2.6 2.6 0 1 0 -5.2 0M838.2 996.9a2.6 2.6 0 1 0 5.2 0a2.6 2.6 0 1 0 -5.2 0M825.1 991.3a2.6 2.6 0 1 0 5.2 0a2.6 2.6 0 1 0 -5.2 0M859.7 987.8a2.6 2.6 0 1 0 5.2 0a2.6 2.6 0 1 0 -5.2 0M913.9 990.9a2.6 2.6 0 1 0 5.2 0a2.6 2.6 0 1 0 -5.2 0M929.1 930.2a2.6 2.6 0 1 0 5.2 0a2.6 2.6 0 1 0 -5.2 0M861.8 964.4a2.6 2.6 0 1 0 5.2 0a2.6 2.6 0 1 0 -5.2 0M786.3 987.4a2.6 2.6 0 1 0 5.2 0a2.6 2.6 0 1 0 -5.2 0M917.1 968.0a2.6 2.6 0 1 0 5.2 0a2.6 2.6 0 1 0 -5.2 0M881.6 991.9a2.6 2.6 0 1 0 5.2 0a2.6 2.6 0 1 0 -5.2 0M870.6 983.6a2.6 2.6 0 1 0 5.2 0a2.6 2.6 0 1 0 -5.2 0M844.4 989.9a2.6 2.6 0 1 0 5.2 0a2.6 2.6 0 1 0 -5.2 0M932.3 931.5a2.6 2.6 0 1 0 5.2 0a2.6 2.6 0 1 0 -5.2 0M775.2 930.9a2.6 2.6 0 1 0 5.2 0a2.6 2.6 0 1 0 -5.2 0M915.4 968.8a2.6 2.6 0 1 0 5.2 0a2.6 2.6 0 1 0 -5.2 0M887.7 963.5a2.6 2.6 0 1 0 5.2 0a2.6 2.6 0 1 0 -5.2 0M918.0 939.3a2.6 2.6 0 1 0 5.2 0a2.6 2.6 0 1 0 -5.2 0M822.2 985.0a2.6 2.6 0 1 0 5.2 0a2.6 2.6 0 1 0 -5.2 0M910.5 950.7a2.6 2.6 0 1 0 5.2 0a2.6 2.6 0 1 0 -5.2 0M833.3 1002.0a2.6 2.6 0 1 0 5.2 0a2.6 2.6 0 1 0 -5.2 0M859.8 952.0a2.6 2.6 0 1 0 5.2 0a2.6 2.6 0 1 0 -5.2 0M868.6 965.9a2.6 2.6 0 1 0 5.2 0a2.6 2.6 0 1 0 -5.2 0M865.9 990.1a2.6 2.6 0 1 0 5.2 0a2.6 2.6 0 1 0 -5.2 0M776.0 911.0a2.6 2.6 0 1 0 5.2 0a2.6 2.6 0 1 0 -5.2 0M912.0 945.8a2.6 2.6 0 1 0 5.2 0a2.6 2.6 0 1 0 -5.2 0M886.2 957.3a2.6 2.6 0 1 0 5.2 0a2.6 2.6 0 1 0 -5.2 0" fill="#d4d4d4" stroke="#b9b9b9" stroke-width="1.8"/>
<rect x="1003.2" y="689.6" width="61.8" height="328.2" fill="#9bd488" opacity="0.8"/>
<path d="M763.4 1022.5C763.6 1016.4 764.3 994.7 764.8 984.3C765.2 973.9 765.7 964.2 766.3 957.4C766.9 950.6 767.9 944.5 768.6 941.7C769.3 938.8 770.2 937.6 770.8 939.4C771.4 941.2 771.8 945.3 772.4 952.9C773.0 960.4 774.0 984.1 774.6 986.6C775.3 989.1 775.8 977.2 776.4 968.6C777.1 960.0 778.0 940.4 778.7 932.7C779.3 925.0 779.9 920.0 780.5 920.3C781.0 920.7 781.4 927.2 782.0 934.9C782.7 942.7 783.7 958.7 784.3 968.6C784.9 978.5 785.3 994.2 785.9 996.7C786.5 999.2 787.3 989.7 788.1 984.3C788.9 978.9 790.2 964.1 791.0 963.0C791.9 961.9 792.3 971.4 793.3 977.6C794.2 983.8 796.2 1001.5 797.1 1001.8C798.0 1002.2 798.2 985.2 798.9 979.8C799.5 974.5 800.5 968.6 801.1 968.6C801.8 968.6 802.2 975.7 802.9 979.8C803.6 984.0 804.6 993.0 805.6 994.4C806.6 995.9 807.9 990.6 809.0 988.8C810.1 987.0 811.4 984.5 812.4 983.2C813.3 981.9 814.2 982.6 815.0 981.0C815.9 979.3 817.0 972.7 818.0 973.1C818.9 973.5 819.9 980.0 820.9 983.2C821.9 986.4 823.1 993.1 824.0 993.3C825.0 993.5 826.0 987.2 826.9 984.3C827.9 981.5 829.0 975.7 829.9 975.3C830.8 975.0 831.7 979.7 832.6 982.1C833.4 984.4 834.4 989.4 835.3 989.9C836.2 990.5 837.2 986.7 838.2 985.4C839.2 984.2 840.3 981.9 841.5 982.1C842.8 982.3 844.6 986.7 846.0 986.6C847.5 986.4 849.3 982.2 850.5 981.0C851.7 979.7 852.4 978.2 853.4 978.7C854.5 979.3 855.9 985.4 857.3 984.3C858.6 983.2 860.5 973.1 861.7 972.0C863.0 970.9 863.9 977.9 865.1 977.6C866.4 977.2 868.3 969.7 869.6 969.7C870.9 969.7 871.9 974.4 873.0 977.6C874.1 980.8 875.4 987.1 876.3 989.9C877.3 992.8 878.0 996.1 879.0 995.6C880.1 995.0 881.7 990.3 883.1 986.6C884.4 982.8 886.3 975.7 887.6 972.0C888.8 968.2 889.9 963.5 890.9 963.0C892.0 962.5 893.2 967.0 894.3 968.6C895.4 970.2 896.4 973.8 897.7 973.1C898.9 972.4 900.7 967.2 902.2 964.1C903.6 961.1 905.4 954.0 906.7 954.0C907.9 954.0 908.9 961.1 910.0 964.1C911.1 967.2 912.3 971.3 913.4 973.1C914.5 974.9 915.7 977.5 916.8 975.3C917.8 973.2 919.0 965.4 920.1 959.6C921.2 953.9 922.5 943.7 923.5 939.4C924.5 935.1 925.3 933.4 926.4 932.7C927.5 932.0 928.9 934.0 930.2 934.9C931.6 935.8 933.5 939.7 934.7 938.3C936.0 936.9 937.2 928.0 938.1 925.9C938.9 923.9 939.0 925.1 940.0 925.8C941.0 926.5 943.1 930.4 944.5 930.3C945.9 930.1 947.5 924.7 949.0 924.7C950.4 924.7 952.0 930.3 953.5 930.3C954.9 930.3 956.5 926.1 957.9 924.7C959.4 923.2 961.3 924.7 962.4 921.3C963.6 917.9 964.3 907.5 965.1 903.3C965.9 899.2 966.5 892.6 967.4 895.5C968.2 898.4 969.4 914.1 970.3 921.3C971.2 928.5 972.1 941.1 973.0 940.4C973.9 939.6 975.0 922.9 975.9 916.8C976.8 910.7 977.7 902.2 978.6 902.2C979.5 902.2 980.5 912.3 981.5 916.8C982.5 921.3 983.6 928.6 984.9 930.3C986.1 931.9 987.9 928.3 989.4 926.9C990.8 925.5 992.6 923.4 993.8 921.3C995.1 919.1 996.1 913.8 997.2 913.4C998.3 913.1 999.6 922.1 1000.6 919.0C1001.5 916.0 1002.5 900.3 1003.3 894.4C1004.1 888.4 1004.7 882.0 1005.5 882.0C1006.3 882.0 1007.6 892.0 1008.4 894.4C1009.3 896.7 1010.0 902.0 1010.7 896.6C1011.4 891.2 1012.2 874.0 1012.9 860.7C1013.6 847.4 1014.6 821.9 1015.2 813.6C1015.8 805.3 1016.2 807.0 1016.7 809.1C1017.3 811.3 1018.0 817.0 1018.5 827.1C1019.1 837.1 1019.8 862.1 1020.3 871.9C1020.9 881.8 1021.3 890.6 1021.9 888.8C1022.5 887.0 1023.4 869.9 1024.1 860.7C1024.9 851.6 1025.8 836.6 1026.4 831.5C1027.0 826.5 1027.3 826.4 1028.0 829.3C1028.6 832.2 1029.5 842.0 1030.2 849.5C1030.9 857.0 1031.7 871.0 1032.4 876.4C1033.2 881.8 1033.9 884.6 1034.7 883.1C1035.5 881.7 1036.6 873.2 1037.6 867.4C1038.6 861.7 1039.7 853.0 1041.0 847.2C1042.2 841.5 1044.2 835.7 1045.5 831.5C1046.7 827.4 1047.9 821.8 1048.8 821.4C1049.7 821.1 1050.3 824.1 1051.1 829.3C1051.8 834.5 1052.6 845.7 1053.3 854.0C1054.0 862.2 1054.8 874.1 1055.5 880.9C1056.3 887.7 1056.9 893.0 1057.8 896.6C1058.7 900.2 1059.9 902.1 1061.2 903.3C1062.4 904.6 1064.2 904.5 1065.6 904.5C1067.1 904.5 1068.8 905.3 1070.1 903.3C1071.5 901.4 1072.9 892.7 1073.9 892.1C1075.0 891.6 1075.7 897.8 1076.9 900.0C1078.0 902.1 1079.7 903.1 1081.4 905.6C1083.0 908.1 1085.7 917.5 1087.0 915.7C1088.2 913.9 1088.5 906.4 1089.2 894.4C1089.9 882.3 1090.7 854.2 1091.4 840.5C1092.2 826.9 1093.0 813.1 1093.7 809.1C1094.4 805.2 1095.2 809.4 1095.9 815.8C1096.7 822.3 1097.5 839.8 1098.2 849.5C1098.9 859.2 1099.8 871.0 1100.4 876.4C1101.0 881.8 1101.3 883.9 1102.0 883.1C1102.7 882.4 1103.9 877.3 1104.9 871.9C1105.9 866.5 1107.2 856.7 1108.3 849.5C1109.4 842.3 1110.8 832.3 1111.6 827.1C1112.5 821.9 1112.8 816.2 1113.4 817.0C1114.0 817.7 1114.8 825.3 1115.5 831.5C1116.1 837.8 1117.1 851.2 1117.7 856.2C1118.3 861.2 1119.0 865.5 1119.5 863.0C1120.0 860.4 1120.2 845.9 1120.6 840.5C1121.0 835.1 1121.6 829.3 1122.2 829.3C1122.8 829.3 1123.6 833.7 1124.4 840.5C1125.3 847.3 1126.4 859.7 1127.3 871.9C1128.3 884.1 1129.8 909.6 1130.3 916.8" fill="none" stroke="#000" stroke-width="5.7" stroke-linejoin="round" stroke-linecap="round"/>
<line x1="761.6" y1="905.7" x2="1131.0" y2="905.7" stroke="#2f3c88" stroke-width="2.3" stroke-dasharray="8.6 14.3" stroke-linecap="round"/>
<line x1="761.6" y1="1001.4" x2="1131.0" y2="1001.4" stroke="#2f3c88" stroke-width="2.3" stroke-dasharray="8.6 14.3" stroke-linecap="round"/>
<line x1="1016.4" y1="1016.6" x2="1016.4" y2="809.0" stroke="#e0282e" stroke-width="3.1" stroke-dasharray="7.2 15.2" stroke-linecap="round"/>
<rect x="748.8" y="676.2" width="396.6" height="354.4" fill="none" stroke="#000" stroke-width="3"/>
<line x1="741.2" y1="1017.6" x2="748.8" y2="1017.6" stroke="#000" stroke-width="2.5"/>
<text x="732.0" y="1017.6" transform="rotate(-90 732.0 1017.6)" font-size="11.3" text-anchor="middle" style="font-weight:normal;stroke-width:.15px;">100</text>
<line x1="741.2" y1="966.9" x2="748.8" y2="966.9" stroke="#000" stroke-width="2.5"/>
<text x="732.0" y="966.9" transform="rotate(-90 732.0 966.9)" font-size="11.3" text-anchor="middle" style="font-weight:normal;stroke-width:.15px;">200</text>
<line x1="741.2" y1="916.1" x2="748.8" y2="916.1" stroke="#000" stroke-width="2.5"/>
<text x="732.0" y="916.1" transform="rotate(-90 732.0 916.1)" font-size="11.3" text-anchor="middle" style="font-weight:normal;stroke-width:.15px;">300</text>
<line x1="741.2" y1="865.4" x2="748.8" y2="865.4" stroke="#000" stroke-width="2.5"/>
<text x="732.0" y="865.4" transform="rotate(-90 732.0 865.4)" font-size="11.3" text-anchor="middle" style="font-weight:normal;stroke-width:.15px;">400</text>
<line x1="741.2" y1="814.7" x2="748.8" y2="814.7" stroke="#000" stroke-width="2.5"/>
<text x="732.0" y="814.7" transform="rotate(-90 732.0 814.7)" font-size="11.3" text-anchor="middle" style="font-weight:normal;stroke-width:.15px;">500</text>
<line x1="741.2" y1="764.0" x2="748.8" y2="764.0" stroke="#000" stroke-width="2.5"/>
<text x="732.0" y="764.0" transform="rotate(-90 732.0 764.0)" font-size="11.3" text-anchor="middle" style="font-weight:normal;stroke-width:.15px;">600</text>
<line x1="741.2" y1="713.2" x2="748.8" y2="713.2" stroke="#000" stroke-width="2.5"/>
<text x="732.0" y="713.2" transform="rotate(-90 732.0 713.2)" font-size="11.3" text-anchor="middle" style="font-weight:normal;stroke-width:.15px;">700</text>
<line x1="763.3" y1="1030.6" x2="763.3" y2="1038.6" stroke="#000" stroke-width="2.5"/>
<text x="763.3" y="1055.5" font-size="11.3" text-anchor="middle" style="font-weight:normal;stroke-width:.15px;">0.0</text>
<line x1="844.0" y1="1030.6" x2="844.0" y2="1038.6" stroke="#000" stroke-width="2.5"/>
<text x="844.0" y="1055.5" font-size="11.3" text-anchor="middle" style="font-weight:normal;stroke-width:.15px;">0.2</text>
<line x1="924.8" y1="1030.6" x2="924.8" y2="1038.6" stroke="#000" stroke-width="2.5"/>
<text x="924.8" y="1055.5" font-size="11.3" text-anchor="middle" style="font-weight:normal;stroke-width:.15px;">0.4</text>
<line x1="1005.5" y1="1030.6" x2="1005.5" y2="1038.6" stroke="#000" stroke-width="2.5"/>
<text x="1005.5" y="1055.5" font-size="11.3" text-anchor="middle" style="font-weight:normal;stroke-width:.15px;">0.6</text>
<line x1="1086.3" y1="1030.6" x2="1086.3" y2="1038.6" stroke="#000" stroke-width="2.5"/>
<text x="1086.3" y="1055.5" font-size="11.3" text-anchor="middle" style="font-weight:normal;stroke-width:.15px;">0.8</text>
<text x="711.0" y="861.3" transform="rotate(-90 711.0 861.3)" font-size="22.5" text-anchor="middle" textLength="148.0" lengthAdjust="spacingAndGlyphs">SHG Intensity</text>
<text x="799.5" y="1082.4" font-size="22.6" text-anchor="start" textLength="317.8" lengthAdjust="spacing">Distance / Spheroid Diameter</text>
<path d="M1253.6 972.9a2.6 2.6 0 1 0 5.2 0a2.6 2.6 0 1 0 -5.2 0M1238.3 945.0a2.6 2.6 0 1 0 5.2 0a2.6 2.6 0 1 0 -5.2 0M1240.9 973.5a2.6 2.6 0 1 0 5.2 0a2.6 2.6 0 1 0 -5.2 0M1248.5 968.1a2.6 2.6 0 1 0 5.2 0a2.6 2.6 0 1 0 -5.2 0M1252.4 970.5a2.6 2.6 0 1 0 5.2 0a2.6 2.6 0 1 0 -5.2 0M1253.6 968.6a2.6 2.6 0 1 0 5.2 0a2.6 2.6 0 1 0 -5.2 0M1247.7 951.7a2.6 2.6 0 1 0 5.2 0a2.6 2.6 0 1 0 -5.2 0M1249.1 952.1a2.6 2.6 0 1 0 5.2 0a2.6 2.6 0 1 0 -5.2 0M1249.5 976.4a2.6 2.6 0 1 0 5.2 0a2.6 2.6 0 1 0 -5.2 0M1252.3 963.1a2.6 2.6 0 1 0 5.2 0a2.6 2.6 0 1 0 -5.2 0M1243.0 971.5a2.6 2.6 0 1 0 5.2 0a2.6 2.6 0 1 0 -5.2 0M1251.8 963.2a2.6 2.6 0 1 0 5.2 0a2.6 2.6 0 1 0 -5.2 0M1253.2 958.1a2.6 2.6 0 1 0 5.2 0a2.6 2.6 0 1 0 -5.2 0M1253.6 963.6a2.6 2.6 0 1 0 5.2 0a2.6 2.6 0 1 0 -5.2 0M1249.3 962.5a2.6 2.6 0 1 0 5.2 0a2.6 2.6 0 1 0 -5.2 0M1242.1 950.1a2.6 2.6 0 1 0 5.2 0a2.6 2.6 0 1 0 -5.2 0M1243.0 957.9a2.6 2.6 0 1 0 5.2 0a2.6 2.6 0 1 0 -5.2 0M1253.5 961.6a2.6 2.6 0 1 0 5.2 0a2.6 2.6 0 1 0 -5.2 0M1240.2 956.4a2.6 2.6 0 1 0 5.2 0a2.6 2.6 0 1 0 -5.2 0M1248.8 971.7a2.6 2.6 0 1 0 5.2 0a2.6 2.6 0 1 0 -5.2 0M1238.7 964.4a2.6 2.6 0 1 0 5.2 0a2.6 2.6 0 1 0 -5.2 0M1238.4 952.1a2.6 2.6 0 1 0 5.2 0a2.6 2.6 0 1 0 -5.2 0M1246.2 964.7a2.6 2.6 0 1 0 5.2 0a2.6 2.6 0 1 0 -5.2 0M1244.6 961.3a2.6 2.6 0 1 0 5.2 0a2.6 2.6 0 1 0 -5.2 0M1252.9 968.9a2.6 2.6 0 1 0 5.2 0a2.6 2.6 0 1 0 -5.2 0M1244.0 963.2a2.6 2.6 0 1 0 5.2 0a2.6 2.6 0 1 0 -5.2 0M1242.8 962.9a2.6 2.6 0 1 0 5.2 0a2.6 2.6 0 1 0 -5.2 0M1246.8 966.4a2.6 2.6 0 1 0 5.2 0a2.6 2.6 0 1 0 -5.2 0M1248.9 964.5a2.6 2.6 0 1 0 5.2 0a2.6 2.6 0 1 0 -5.2 0M1239.3 945.7a2.6 2.6 0 1 0 5.2 0a2.6 2.6 0 1 0 -5.2 0M1243.7 966.5a2.6 2.6 0 1 0 5.2 0a2.6 2.6 0 1 0 -5.2 0M1244.5 951.8a2.6 2.6 0 1 0 5.2 0a2.6 2.6 0 1 0 -5.2 0M1253.5 964.8a2.6 2.6 0 1 0 5.2 0a2.6 2.6 0 1 0 -5.2 0M1244.4 974.4a2.6 2.6 0 1 0 5.2 0a2.6 2.6 0 1 0 -5.2 0M1252.5 972.0a2.6 2.6 0 1 0 5.2 0a2.6 2.6 0 1 0 -5.2 0M1246.8 968.1a2.6 2.6 0 1 0 5.2 0a2.6 2.6 0 1 0 -5.2 0M1243.3 967.9a2.6 2.6 0 1 0 5.2 0a2.6 2.6 0 1 0 -5.2 0M1241.0 977.0a2.6 2.6 0 1 0 5.2 0a2.6 2.6 0 1 0 -5.2 0M1246.6 957.4a2.6 2.6 0 1 0 5.2 0a2.6 2.6 0 1 0 -5.2 0M1248.5 971.2a2.6 2.6 0 1 0 5.2 0a2.6 2.6 0 1 0 -5.2 0M1249.2 976.2a2.6 2.6 0 1 0 5.2 0a2.6 2.6 0 1 0 -5.2 0M1244.6 956.3a2.6 2.6 0 1 0 5.2 0a2.6 2.6 0 1 0 -5.2 0M1252.9 965.9a2.6 2.6 0 1 0 5.2 0a2.6 2.6 0 1 0 -5.2 0M1251.7 965.1a2.6 2.6 0 1 0 5.2 0a2.6 2.6 0 1 0 -5.2 0M1246.5 963.2a2.6 2.6 0 1 0 5.2 0a2.6 2.6 0 1 0 -5.2 0M1283.0 935.4a2.6 2.6 0 1 0 5.2 0a2.6 2.6 0 1 0 -5.2 0M1267.0 935.9a2.6 2.6 0 1 0 5.2 0a2.6 2.6 0 1 0 -5.2 0M1272.3 944.5a2.6 2.6 0 1 0 5.2 0a2.6 2.6 0 1 0 -5.2 0M1276.6 932.9a2.6 2.6 0 1 0 5.2 0a2.6 2.6 0 1 0 -5.2 0M1271.2 927.2a2.6 2.6 0 1 0 5.2 0a2.6 2.6 0 1 0 -5.2 0M1253.0 941.5a2.6 2.6 0 1 0 5.2 0a2.6 2.6 0 1 0 -5.2 0M1272.0 944.8a2.6 2.6 0 1 0 5.2 0a2.6 2.6 0 1 0 -5.2 0M1257.7 936.9a2.6 2.6 0 1 0 5.2 0a2.6 2.6 0 1 0 -5.2 0M1265.8 946.3a2.6 2.6 0 1 0 5.2 0a2.6 2.6 0 1 0 -5.2 0M1253.7 925.4a2.6 2.6 0 1 0 5.2 0a2.6 2.6 0 1 0 -5.2 0M1263.3 950.6a2.6 2.6 0 1 0 5.2 0a2.6 2.6 0 1 0 -5.2 0M1259.1 946.7a2.6 2.6 0 1 0 5.2 0a2.6 2.6 0 1 0 -5.2 0M1279.1 948.6a2.6 2.6 0 1 0 5.2 0a2.6 2.6 0 1 0 -5.2 0M1260.9 951.3a2.6 2.6 0 1 0 5.2 0a2.6 2.6 0 1 0 -5.2 0M1266.9 947.8a2.6 2.6 0 1 0 5.2 0a2.6 2.6 0 1 0 -5.2 0M1263.0 935.6a2.6 2.6 0 1 0 5.2 0a2.6 2.6 0 1 0 -5.2 0M1281.0 932.3a2.6 2.6 0 1 0 5.2 0a2.6 2.6 0 1 0 -5.2 0M1253.6 944.0a2.6 2.6 0 1 0 5.2 0a2.6 2.6 0 1 0 -5.2 0M1278.6 954.5a2.6 2.6 0 1 0 5.2 0a2.6 2.6 0 1 0 -5.2 0M1258.7 941.7a2.6 2.6 0 1 0 5.2 0a2.6 2.6 0 1 0 -5.2 0M1264.2 935.2a2.6 2.6 0 1 0 5.2 0a2.6 2.6 0 1 0 -5.2 0M1274.6 942.3a2.6 2.6 0 1 0 5.2 0a2.6 2.6 0 1 0 -5.2 0M1260.1 947.3a2.6 2.6 0 1 0 5.2 0a2.6 2.6 0 1 0 -5.2 0M1260.6 952.7a2.6 2.6 0 1 0 5.2 0a2.6 2.6 0 1 0 -5.2 0M1273.0 949.3a2.6 2.6 0 1 0 5.2 0a2.6 2.6 0 1 0 -5.2 0M1279.9 938.1a2.6 2.6 0 1 0 5.2 0a2.6 2.6 0 1 0 -5.2 0M1254.2 941.5a2.6 2.6 0 1 0 5.2 0a2.6 2.6 0 1 0 -5.2 0M1271.0 953.9a2.6 2.6 0 1 0 5.2 0a2.6 2.6 0 1 0 -5.2 0M1267.4 954.7a2.6 2.6 0 1 0 5.2 0a2.6 2.6 0 1 0 -5.2 0M1276.1 957.3a2.6 2.6 0 1 0 5.2 0a2.6 2.6 0 1 0 -5.2 0M1271.9 923.6a2.6 2.6 0 1 0 5.2 0a2.6 2.6 0 1 0 -5.2 0M1278.5 947.2a2.6 2.6 0 1 0 5.2 0a2.6 2.6 0 1 0 -5.2 0M1268.9 949.8a2.6 2.6 0 1 0 5.2 0a2.6 2.6 0 1 0 -5.2 0M1263.0 931.2a2.6 2.6 0 1 0 5.2 0a2.6 2.6 0 1 0 -5.2 0M1277.7 956.6a2.6 2.6 0 1 0 5.2 0a2.6 2.6 0 1 0 -5.2 0M1264.1 938.2a2.6 2.6 0 1 0 5.2 0a2.6 2.6 0 1 0 -5.2 0M1257.8 933.5a2.6 2.6 0 1 0 5.2 0a2.6 2.6 0 1 0 -5.2 0M1280.0 940.4a2.6 2.6 0 1 0 5.2 0a2.6 2.6 0 1 0 -5.2 0M1263.6 931.8a2.6 2.6 0 1 0 5.2 0a2.6 2.6 0 1 0 -5.2 0M1268.2 948.4a2.6 2.6 0 1 0 5.2 0a2.6 2.6 0 1 0 -5.2 0M1261.0 949.2a2.6 2.6 0 1 0 5.2 0a2.6 2.6 0 1 0 -5.2 0M1278.3 941.3a2.6 2.6 0 1 0 5.2 0a2.6 2.6 0 1 0 -5.2 0M1273.9 933.0a2.6 2.6 0 1 0 5.2 0a2.6 2.6 0 1 0 -5.2 0M1282.5 948.3a2.6 2.6 0 1 0 5.2 0a2.6 2.6 0 1 0 -5.2 0M1264.9 930.7a2.6 2.6 0 1 0 5.2 0a2.6 2.6 0 1 0 -5.2 0M1275.9 943.8a2.6 2.6 0 1 0 5.2 0a2.6 2.6 0 1 0 -5.2 0M1272.7 948.2a2.6 2.6 0 1 0 5.2 0a2.6 2.6 0 1 0 -5.2 0M1257.4 953.4a2.6 2.6 0 1 0 5.2 0a2.6 2.6 0 1 0 -5.2 0M1264.1 947.1a2.6 2.6 0 1 0 5.2 0a2.6 2.6 0 1 0 -5.2 0M1268.4 925.2a2.6 2.6 0 1 0 5.2 0a2.6 2.6 0 1 0 -5.2 0M1257.1 940.2a2.6 2.6 0 1 0 5.2 0a2.6 2.6 0 1 0 -5.2 0M1279.1 939.3a2.6 2.6 0 1 0 5.2 0a2.6 2.6 0 1 0 -5.2 0M1268.7 934.6a2.6 2.6 0 1 0 5.2 0a2.6 2.6 0 1 0 -5.2 0M1253.1 926.8a2.6 2.6 0 1 0 5.2 0a2.6 2.6 0 1 0 -5.2 0M1273.6 933.3a2.6 2.6 0 1 0 5.2 0a2.6 2.6 0 1 0 -5.2 0M1277.9 951.3a2.6 2.6 0 1 0 5.2 0a2.6 2.6 0 1 0 -5.2 0M1254.5 948.7a2.6 2.6 0 1 0 5.2 0a2.6 2.6 0 1 0 -5.2 0M1268.0 927.5a2.6 2.6 0 1 0 5.2 0a2.6 2.6 0 1 0 -5.2 0M1280.5 943.3a2.6 2.6 0 1 0 5.2 0a2.6 2.6 0 1 0 -5.2 0M1271.6 935.5a2.6 2.6 0 1 0 5.2 0a2.6 2.6 0 1 0 -5.2 0M1262.1 896.2a2.6 2.6 0 1 0 5.2 0a2.6 2.6 0 1 0 -5.2 0M1276.5 902.9a2.6 2.6 0 1 0 5.2 0a2.6 2.6 0 1 0 -5.2 0M1275.5 901.4a2.6 2.6 0 1 0 5.2 0a2.6 2.6 0 1 0 -5.2 0M1269.6 909.1a2.6 2.6 0 1 0 5.2 0a2.6 2.6 0 1 0 -5.2 0M1260.9 910.6a2.6 2.6 0 1 0 5.2 0a2.6 2.6 0 1 0 -5.2 0M1255.6 898.1a2.6 2.6 0 1 0 5.2 0a2.6 2.6 0 1 0 -5.2 0M1261.3 917.0a2.6 2.6 0 1 0 5.2 0a2.6 2.6 0 1 0 -5.2 0M1261.7 913.8a2.6 2.6 0 1 0 5.2 0a2.6 2.6 0 1 0 -5.2 0M1264.7 908.9a2.6 2.6 0 1 0 5.2 0a2.6 2.6 0 1 0 -5.2 0M1258.4 906.7a2.6 2.6 0 1 0 5.2 0a2.6 2.6 0 1 0 -5.2 0M1264.0 908.6a2.6 2.6 0 1 0 5.2 0a2.6 2.6 0 1 0 -5.2 0M1273.4 909.3a2.6 2.6 0 1 0 5.2 0a2.6 2.6 0 1 0 -5.2 0M1301.7 941.7a2.6 2.6 0 1 0 5.2 0a2.6 2.6 0 1 0 -5.2 0M1322.9 957.9a2.6 2.6 0 1 0 5.2 0a2.6 2.6 0 1 0 -5.2 0M1276.3 937.1a2.6 2.6 0 1 0 5.2 0a2.6 2.6 0 1 0 -5.2 0M1300.3 961.7a2.6 2.6 0 1 0 5.2 0a2.6 2.6 0 1 0 -5.2 0M1280.7 961.2a2.6 2.6 0 1 0 5.2 0a2.6 2.6 0 1 0 -5.2 0M1290.0 964.2a2.6 2.6 0 1 0 5.2 0a2.6 2.6 0 1 0 -5.2 0M1276.7 931.6a2.6 2.6 0 1 0 5.2 0a2.6 2.6 0 1 0 -5.2 0M1315.9 965.1a2.6 2.6 0 1 0 5.2 0a2.6 2.6 0 1 0 -5.2 0M1298.6 945.2a2.6 2.6 0 1 0 5.2 0a2.6 2.6 0 1 0 -5.2 0M1299.8 967.0a2.6 2.6 0 1 0 5.2 0a2.6 2.6 0 1 0 -5.2 0M1291.5 957.8a2.6 2.6 0 1 0 5.2 0a2.6 2.6 0 1 0 -5.2 0M1320.7 952.6a2.6 2.6 0 1 0 5.2 0a2.6 2.6 0 1 0 -5.2 0M1297.5 951.2a2.6 2.6 0 1 0 5.2 0a2.6 2.6 0 1 0 -5.2 0M1276.7 949.5a2.6 2.6 0 1 0 5.2 0a2.6 2.6 0 1 0 -5.2 0M1315.3 950.0a2.6 2.6 0 1 0 5.2 0a2.6 2.6 0 1 0 -5.2 0M1292.5 960.0a2.6 2.6 0 1 0 5.2 0a2.6 2.6 0 1 0 -5.2 0M1274.7 966.4a2.6 2.6 0 1 0 5.2 0a2.6 2.6 0 1 0 -5.2 0M1282.1 956.0a2.6 2.6 0 1 0 5.2 0a2.6 2.6 0 1 0 -5.2 0M1313.8 961.8a2.6 2.6 0 1 0 5.2 0a2.6 2.6 0 1 0 -5.2 0M1298.2 951.0a2.6 2.6 0 1 0 5.2 0a2.6 2.6 0 1 0 -5.2 0M1306.2 970.1a2.6 2.6 0 1 0 5.2 0a2.6 2.6 0 1 0 -5.2 0M1321.0 952.5a2.6 2.6 0 1 0 5.2 0a2.6 2.6 0 1 0 -5.2 0M1289.6 961.1a2.6 2.6 0 1 0 5.2 0a2.6 2.6 0 1 0 -5.2 0M1309.2 938.4a2.6 2.6 0 1 0 5.2 0a2.6 2.6 0 1 0 -5.2 0M1291.3 957.4a2.6 2.6 0 1 0 5.2 0a2.6 2.6 0 1 0 -5.2 0M1302.5 963.0a2.6 2.6 0 1 0 5.2 0a2.6 2.6 0 1 0 -5.2 0M1294.8 939.4a2.6 2.6 0 1 0 5.2 0a2.6 2.6 0 1 0 -5.2 0M1302.5 944.3a2.6 2.6 0 1 0 5.2 0a2.6 2.6 0 1 0 -5.2 0M1287.5 942.2a2.6 2.6 0 1 0 5.2 0a2.6 2.6 0 1 0 -5.2 0M1314.0 961.5a2.6 2.6 0 1 0 5.2 0a2.6 2.6 0 1 0 -5.2 0M1301.1 949.6a2.6 2.6 0 1 0 5.2 0a2.6 2.6 0 1 0 -5.2 0M1303.3 952.0a2.6 2.6 0 1 0 5.2 0a2.6 2.6 0 1 0 -5.2 0M1286.4 953.4a2.6 2.6 0 1 0 5.2 0a2.6 2.6 0 1 0 -5.2 0M1292.2 945.4a2.6 2.6 0 1 0 5.2 0a2.6 2.6 0 1 0 -5.2 0M1293.1 934.1a2.6 2.6 0 1 0 5.2 0a2.6 2.6 0 1 0 -5.2 0M1303.7 961.5a2.6 2.6 0 1 0 5.2 0a2.6 2.6 0 1 0 -5.2 0M1295.3 964.6a2.6 2.6 0 1 0 5.2 0a2.6 2.6 0 1 0 -5.2 0M1311.6 968.3a2.6 2.6 0 1 0 5.2 0a2.6 2.6 0 1 0 -5.2 0M1304.9 959.4a2.6 2.6 0 1 0 5.2 0a2.6 2.6 0 1 0 -5.2 0M1313.7 964.6a2.6 2.6 0 1 0 5.2 0a2.6 2.6 0 1 0 -5.2 0M1308.8 948.5a2.6 2.6 0 1 0 5.2 0a2.6 2.6 0 1 0 -5.2 0M1286.0 964.5a2.6 2.6 0 1 0 5.2 0a2.6 2.6 0 1 0 -5.2 0M1293.1 950.6a2.6 2.6 0 1 0 5.2 0a2.6 2.6 0 1 0 -5.2 0M1287.5 971.4a2.6 2.6 0 1 0 5.2 0a2.6 2.6 0 1 0 -5.2 0M1296.6 944.9a2.6 2.6 0 1 0 5.2 0a2.6 2.6 0 1 0 -5.2 0M1282.2 937.8a2.6 2.6 0 1 0 5.2 0a2.6 2.6 0 1 0 -5.2 0M1300.0 963.4a2.6 2.6 0 1 0 5.2 0a2.6 2.6 0 1 0 -5.2 0M1279.3 958.0a2.6 2.6 0 1 0 5.2 0a2.6 2.6 0 1 0 -5.2 0M1298.4 963.0a2.6 2.6 0 1 0 5.2 0a2.6 2.6 0 1 0 -5.2 0M1278.5 954.8a2.6 2.6 0 1 0 5.2 0a2.6 2.6 0 1 0 -5.2 0M1287.1 956.3a2.6 2.6 0 1 0 5.2 0a2.6 2.6 0 1 0 -5.2 0M1297.1 949.1a2.6 2.6 0 1 0 5.2 0a2.6 2.6 0 1 0 -5.2 0M1303.6 961.4a2.6 2.6 0 1 0 5.2 0a2.6 2.6 0 1 0 -5.2 0M1283.3 942.7a2.6 2.6 0 1 0 5.2 0a2.6 2.6 0 1 0 -5.2 0M1276.8 964.7a2.6 2.6 0 1 0 5.2 0a2.6 2.6 0 1 0 -5.2 0M1277.8 944.2a2.6 2.6 0 1 0 5.2 0a2.6 2.6 0 1 0 -5.2 0M1301.7 939.0a2.6 2.6 0 1 0 5.2 0a2.6 2.6 0 1 0 -5.2 0M1306.0 958.8a2.6 2.6 0 1 0 5.2 0a2.6 2.6 0 1 0 -5.2 0M1296.1 947.9a2.6 2.6 0 1 0 5.2 0a2.6 2.6 0 1 0 -5.2 0M1286.0 945.2a2.6 2.6 0 1 0 5.2 0a2.6 2.6 0 1 0 -5.2 0M1294.9 968.5a2.6 2.6 0 1 0 5.2 0a2.6 2.6 0 1 0 -5.2 0M1291.7 953.2a2.6 2.6 0 1 0 5.2 0a2.6 2.6 0 1 0 -5.2 0M1281.6 940.2a2.6 2.6 0 1 0 5.2 0a2.6 2.6 0 1 0 -5.2 0M1321.3 954.5a2.6 2.6 0 1 0 5.2 0a2.6 2.6 0 1 0 -5.2 0M1320.2 949.3a2.6 2.6 0 1 0 5.2 0a2.6 2.6 0 1 0 -5.2 0M1301.5 963.5a2.6 2.6 0 1 0 5.2 0a2.6 2.6 0 1 0 -5.2 0M1322.6 939.3a2.6 2.6 0 1 0 5.2 0a2.6 2.6 0 1 0 -5.2 0M1297.2 957.7a2.6 2.6 0 1 0 5.2 0a2.6 2.6 0 1 0 -5.2 0M1277.9 951.5a2.6 2.6 0 1 0 5.2 0a2.6 2.6 0 1 0 -5.2 0M1317.6 957.6a2.6 2.6 0 1 0 5.2 0a2.6 2.6 0 1 0 -5.2 0M1288.9 951.7a2.6 2.6 0 1 0 5.2 0a2.6 2.6 0 1 0 -5.2 0M1314.5 963.2a2.6 2.6 0 1 0 5.2 0a2.6 2.6 0 1 0 -5.2 0M1288.5 950.8a2.6 2.6 0 1 0 5.2 0a2.6 2.6 0 1 0 -5.2 0M1276.3 944.6a2.6 2.6 0 1 0 5.2 0a2.6 2.6 0 1 0 -5.2 0M1290.2 943.9a2.6 2.6 0 1 0 5.2 0a2.6 2.6 0 1 0 -5.2 0M1297.3 963.3a2.6 2.6 0 1 0 5.2 0a2.6 2.6 0 1 0 -5.2 0M1275.2 965.1a2.6 2.6 0 1 0 5.2 0a2.6 2.6 0 1 0 -5.2 0M1287.4 947.0a2.6 2.6 0 1 0 5.2 0a2.6 2.6 0 1 0 -5.2 0M1314.6 951.2a2.6 2.6 0 1 0 5.2 0a2.6 2.6 0 1 0 -5.2 0M1289.8 950.2a2.6 2.6 0 1 0 5.2 0a2.6 2.6 0 1 0 -5.2 0M1311.4 958.1a2.6 2.6 0 1 0 5.2 0a2.6 2.6 0 1 0 -5.2 0M1278.3 955.6a2.6 2.6 0 1 0 5.2 0a2.6 2.6 0 1 0 -5.2 0M1285.5 962.6a2.6 2.6 0 1 0 5.2 0a2.6 2.6 0 1 0 -5.2 0M1294.0 966.8a2.6 2.6 0 1 0 5.2 0a2.6 2.6 0 1 0 -5.2 0M1319.8 960.1a2.6 2.6 0 1 0 5.2 0a2.6 2.6 0 1 0 -5.2 0M1319.9 947.7a2.6 2.6 0 1 0 5.2 0a2.6 2.6 0 1 0 -5.2 0M1274.7 940.5a2.6 2.6 0 1 0 5.2 0a2.6 2.6 0 1 0 -5.2 0M1315.3 954.2a2.6 2.6 0 1 0 5.2 0a2.6 2.6 0 1 0 -5.2 0M1319.1 955.4a2.6 2.6 0 1 0 5.2 0a2.6 2.6 0 1 0 -5.2 0M1275.5 963.8a2.6 2.6 0 1 0 5.2 0a2.6 2.6 0 1 0 -5.2 0M1302.5 915.7a2.6 2.6 0 1 0 5.2 0a2.6 2.6 0 1 0 -5.2 0M1319.4 924.5a2.6 2.6 0 1 0 5.2 0a2.6 2.6 0 1 0 -5.2 0M1303.8 924.6a2.6 2.6 0 1 0 5.2 0a2.6 2.6 0 1 0 -5.2 0M1299.8 921.3a2.6 2.6 0 1 0 5.2 0a2.6 2.6 0 1 0 -5.2 0M1305.9 924.0a2.6 2.6 0 1 0 5.2 0a2.6 2.6 0 1 0 -5.2 0M1313.8 922.6a2.6 2.6 0 1 0 5.2 0a2.6 2.6 0 1 0 -5.2 0M1331.4 811.3a2.6 2.6 0 1 0 5.2 0a2.6 2.6 0 1 0 -5.2 0M1327.9 771.2a2.6 2.6 0 1 0 5.2 0a2.6 2.6 0 1 0 -5.2 0M1327.3 843.0a2.6 2.6 0 1 0 5.2 0a2.6 2.6 0 1 0 -5.2 0M1325.6 836.8a2.6 2.6 0 1 0 5.2 0a2.6 2.6 0 1 0 -5.2 0M1326.4 776.4a2.6 2.6 0 1 0 5.2 0a2.6 2.6 0 1 0 -5.2 0M1327.4 780.9a2.6 2.6 0 1 0 5.2 0a2.6 2.6 0 1 0 -5.2 0M1326.8 884.1a2.6 2.6 0 1 0 5.2 0a2.6 2.6 0 1 0 -5.2 0M1327.0 822.7a2.6 2.6 0 1 0 5.2 0a2.6 2.6 0 1 0 -5.2 0M1331.6 853.2a2.6 2.6 0 1 0 5.2 0a2.6 2.6 0 1 0 -5.2 0M1326.3 861.9a2.6 2.6 0 1 0 5.2 0a2.6 2.6 0 1 0 -5.2 0M1326.6 722.9a2.6 2.6 0 1 0 5.2 0a2.6 2.6 0 1 0 -5.2 0M1331.8 848.0a2.6 2.6 0 1 0 5.2 0a2.6 2.6 0 1 0 -5.2 0M1325.0 810.6a2.6 2.6 0 1 0 5.2 0a2.6 2.6 0 1 0 -5.2 0M1329.1 872.2a2.6 2.6 0 1 0 5.2 0a2.6 2.6 0 1 0 -5.2 0M1327.8 770.7a2.6 2.6 0 1 0 5.2 0a2.6 2.6 0 1 0 -5.2 0M1324.7 779.1a2.6 2.6 0 1 0 5.2 0a2.6 2.6 0 1 0 -5.2 0M1329.9 767.5a2.6 2.6 0 1 0 5.2 0a2.6 2.6 0 1 0 -5.2 0M1328.4 813.4a2.6 2.6 0 1 0 5.2 0a2.6 2.6 0 1 0 -5.2 0M1328.6 866.3a2.6 2.6 0 1 0 5.2 0a2.6 2.6 0 1 0 -5.2 0M1328.6 845.9a2.6 2.6 0 1 0 5.2 0a2.6 2.6 0 1 0 -5.2 0M1327.1 893.0a2.6 2.6 0 1 0 5.2 0a2.6 2.6 0 1 0 -5.2 0M1325.9 889.0a2.6 2.6 0 1 0 5.2 0a2.6 2.6 0 1 0 -5.2 0M1328.8 846.5a2.6 2.6 0 1 0 5.2 0a2.6 2.6 0 1 0 -5.2 0M1328.9 808.6a2.6 2.6 0 1 0 5.2 0a2.6 2.6 0 1 0 -5.2 0M1326.4 868.4a2.6 2.6 0 1 0 5.2 0a2.6 2.6 0 1 0 -5.2 0M1329.2 785.5a2.6 2.6 0 1 0 5.2 0a2.6 2.6 0 1 0 -5.2 0M1329.9 808.1a2.6 2.6 0 1 0 5.2 0a2.6 2.6 0 1 0 -5.2 0M1329.1 902.4a2.6 2.6 0 1 0 5.2 0a2.6 2.6 0 1 0 -5.2 0M1327.0 764.8a2.6 2.6 0 1 0 5.2 0a2.6 2.6 0 1 0 -5.2 0M1327.5 874.2a2.6 2.6 0 1 0 5.2 0a2.6 2.6 0 1 0 -5.2 0M1337.9 800.9a2.6 2.6 0 1 0 5.2 0a2.6 2.6 0 1 0 -5.2 0M1335.0 886.4a2.6 2.6 0 1 0 5.2 0a2.6 2.6 0 1 0 -5.2 0M1338.6 794.5a2.6 2.6 0 1 0 5.2 0a2.6 2.6 0 1 0 -5.2 0M1337.6 865.6a2.6 2.6 0 1 0 5.2 0a2.6 2.6 0 1 0 -5.2 0M1341.1 889.8a2.6 2.6 0 1 0 5.2 0a2.6 2.6 0 1 0 -5.2 0M1336.8 829.7a2.6 2.6 0 1 0 5.2 0a2.6 2.6 0 1 0 -5.2 0M1341.8 796.5a2.6 2.6 0 1 0 5.2 0a2.6 2.6 0 1 0 -5.2 0M1337.1 863.3a2.6 2.6 0 1 0 5.2 0a2.6 2.6 0 1 0 -5.2 0M1337.4 884.6a2.6 2.6 0 1 0 5.2 0a2.6 2.6 0 1 0 -5.2 0M1336.6 810.5a2.6 2.6 0 1 0 5.2 0a2.6 2.6 0 1 0 -5.2 0M1343.0 862.8a2.6 2.6 0 1 0 5.2 0a2.6 2.6 0 1 0 -5.2 0M1334.8 814.0a2.6 2.6 0 1 0 5.2 0a2.6 2.6 0 1 0 -5.2 0M1342.9 806.8a2.6 2.6 0 1 0 5.2 0a2.6 2.6 0 1 0 -5.2 0M1337.8 813.4a2.6 2.6 0 1 0 5.2 0a2.6 2.6 0 1 0 -5.2 0M1374.4 919.3a2.6 2.6 0 1 0 5.2 0a2.6 2.6 0 1 0 -5.2 0M1364.7 900.2a2.6 2.6 0 1 0 5.2 0a2.6 2.6 0 1 0 -5.2 0M1375.1 935.4a2.6 2.6 0 1 0 5.2 0a2.6 2.6 0 1 0 -5.2 0M1362.4 942.1a2.6 2.6 0 1 0 5.2 0a2.6 2.6 0 1 0 -5.2 0M1360.4 916.1a2.6 2.6 0 1 0 5.2 0a2.6 2.6 0 1 0 -5.2 0M1364.5 926.7a2.6 2.6 0 1 0 5.2 0a2.6 2.6 0 1 0 -5.2 0M1375.1 942.2a2.6 2.6 0 1 0 5.2 0a2.6 2.6 0 1 0 -5.2 0M1359.6 927.8a2.6 2.6 0 1 0 5.2 0a2.6 2.6 0 1 0 -5.2 0M1364.7 921.5a2.6 2.6 0 1 0 5.2 0a2.6 2.6 0 1 0 -5.2 0M1380.8 916.8a2.6 2.6 0 1 0 5.2 0a2.6 2.6 0 1 0 -5.2 0M1366.6 921.5a2.6 2.6 0 1 0 5.2 0a2.6 2.6 0 1 0 -5.2 0M1366.3 903.6a2.6 2.6 0 1 0 5.2 0a2.6 2.6 0 1 0 -5.2 0M1368.5 924.5a2.6 2.6 0 1 0 5.2 0a2.6 2.6 0 1 0 -5.2 0M1361.2 929.6a2.6 2.6 0 1 0 5.2 0a2.6 2.6 0 1 0 -5.2 0M1374.5 930.9a2.6 2.6 0 1 0 5.2 0a2.6 2.6 0 1 0 -5.2 0M1379.6 919.9a2.6 2.6 0 1 0 5.2 0a2.6 2.6 0 1 0 -5.2 0M1381.5 920.7a2.6 2.6 0 1 0 5.2 0a2.6 2.6 0 1 0 -5.2 0M1367.5 931.1a2.6 2.6 0 1 0 5.2 0a2.6 2.6 0 1 0 -5.2 0M1347.5 922.3a2.6 2.6 0 1 0 5.2 0a2.6 2.6 0 1 0 -5.2 0M1374.1 920.1a2.6 2.6 0 1 0 5.2 0a2.6 2.6 0 1 0 -5.2 0M1374.4 946.1a2.6 2.6 0 1 0 5.2 0a2.6 2.6 0 1 0 -5.2 0M1371.6 933.8a2.6 2.6 0 1 0 5.2 0a2.6 2.6 0 1 0 -5.2 0M1360.9 913.5a2.6 2.6 0 1 0 5.2 0a2.6 2.6 0 1 0 -5.2 0M1361.5 928.3a2.6 2.6 0 1 0 5.2 0a2.6 2.6 0 1 0 -5.2 0M1348.6 937.5a2.6 2.6 0 1 0 5.2 0a2.6 2.6 0 1 0 -5.2 0M1354.4 936.2a2.6 2.6 0 1 0 5.2 0a2.6 2.6 0 1 0 -5.2 0M1365.8 945.0a2.6 2.6 0 1 0 5.2 0a2.6 2.6 0 1 0 -5.2 0M1350.0 942.3a2.6 2.6 0 1 0 5.2 0a2.6 2.6 0 1 0 -5.2 0M1373.4 905.8a2.6 2.6 0 1 0 5.2 0a2.6 2.6 0 1 0 -5.2 0M1374.0 926.9a2.6 2.6 0 1 0 5.2 0a2.6 2.6 0 1 0 -5.2 0M1351.5 917.6a2.6 2.6 0 1 0 5.2 0a2.6 2.6 0 1 0 -5.2 0M1351.5 942.9a2.6 2.6 0 1 0 5.2 0a2.6 2.6 0 1 0 -5.2 0M1365.4 913.8a2.6 2.6 0 1 0 5.2 0a2.6 2.6 0 1 0 -5.2 0M1358.1 913.8a2.6 2.6 0 1 0 5.2 0a2.6 2.6 0 1 0 -5.2 0M1358.9 906.3a2.6 2.6 0 1 0 5.2 0a2.6 2.6 0 1 0 -5.2 0M1373.6 913.7a2.6 2.6 0 1 0 5.2 0a2.6 2.6 0 1 0 -5.2 0M1382.5 916.1a2.6 2.6 0 1 0 5.2 0a2.6 2.6 0 1 0 -5.2 0M1353.9 926.9a2.6 2.6 0 1 0 5.2 0a2.6 2.6 0 1 0 -5.2 0M1366.6 920.1a2.6 2.6 0 1 0 5.2 0a2.6 2.6 0 1 0 -5.2 0M1355.1 925.1a2.6 2.6 0 1 0 5.2 0a2.6 2.6 0 1 0 -5.2 0M1357.1 937.4a2.6 2.6 0 1 0 5.2 0a2.6 2.6 0 1 0 -5.2 0M1363.1 916.7a2.6 2.6 0 1 0 5.2 0a2.6 2.6 0 1 0 -5.2 0M1366.9 931.4a2.6 2.6 0 1 0 5.2 0a2.6 2.6 0 1 0 -5.2 0M1355.0 931.3a2.6 2.6 0 1 0 5.2 0a2.6 2.6 0 1 0 -5.2 0M1361.3 934.1a2.6 2.6 0 1 0 5.2 0a2.6 2.6 0 1 0 -5.2 0M1358.1 935.7a2.6 2.6 0 1 0 5.2 0a2.6 2.6 0 1 0 -5.2 0M1357.5 921.9a2.6 2.6 0 1 0 5.2 0a2.6 2.6 0 1 0 -5.2 0M1369.5 923.5a2.6 2.6 0 1 0 5.2 0a2.6 2.6 0 1 0 -5.2 0M1380.3 922.2a2.6 2.6 0 1 0 5.2 0a2.6 2.6 0 1 0 -5.2 0M1351.5 930.0a2.6 2.6 0 1 0 5.2 0a2.6 2.6 0 1 0 -5.2 0M1367.6 885.6a2.6 2.6 0 1 0 5.2 0a2.6 2.6 0 1 0 -5.2 0M1367.8 898.5a2.6 2.6 0 1 0 5.2 0a2.6 2.6 0 1 0 -5.2 0M1366.0 887.4a2.6 2.6 0 1 0 5.2 0a2.6 2.6 0 1 0 -5.2 0M1376.1 890.8a2.6 2.6 0 1 0 5.2 0a2.6 2.6 0 1 0 -5.2 0M1357.4 901.0a2.6 2.6 0 1 0 5.2 0a2.6 2.6 0 1 0 -5.2 0M1366.9 885.5a2.6 2.6 0 1 0 5.2 0a2.6 2.6 0 1 0 -5.2 0M1354.0 889.6a2.6 2.6 0 1 0 5.2 0a2.6 2.6 0 1 0 -5.2 0M1369.9 889.0a2.6 2.6 0 1 0 5.2 0a2.6 2.6 0 1 0 -5.2 0M1358.0 898.5a2.6 2.6 0 1 0 5.2 0a2.6 2.6 0 1 0 -5.2 0M1351.1 893.2a2.6 2.6 0 1 0 5.2 0a2.6 2.6 0 1 0 -5.2 0M1379.7 891.2a2.6 2.6 0 1 0 5.2 0a2.6 2.6 0 1 0 -5.2 0M1382.7 883.8a2.6 2.6 0 1 0 5.2 0a2.6 2.6 0 1 0 -5.2 0M1404.9 953.4a2.6 2.6 0 1 0 5.2 0a2.6 2.6 0 1 0 -5.2 0M1404.0 944.8a2.6 2.6 0 1 0 5.2 0a2.6 2.6 0 1 0 -5.2 0M1394.0 958.7a2.6 2.6 0 1 0 5.2 0a2.6 2.6 0 1 0 -5.2 0M1418.6 949.9a2.6 2.6 0 1 0 5.2 0a2.6 2.6 0 1 0 -5.2 0M1395.9 954.1a2.6 2.6 0 1 0 5.2 0a2.6 2.6 0 1 0 -5.2 0M1383.9 951.2a2.6 2.6 0 1 0 5.2 0a2.6 2.6 0 1 0 -5.2 0M1413.7 952.4a2.6 2.6 0 1 0 5.2 0a2.6 2.6 0 1 0 -5.2 0M1409.8 947.5a2.6 2.6 0 1 0 5.2 0a2.6 2.6 0 1 0 -5.2 0M1393.9 949.8a2.6 2.6 0 1 0 5.2 0a2.6 2.6 0 1 0 -5.2 0M1421.8 948.1a2.6 2.6 0 1 0 5.2 0a2.6 2.6 0 1 0 -5.2 0M1387.4 949.3a2.6 2.6 0 1 0 5.2 0a2.6 2.6 0 1 0 -5.2 0M1407.6 946.6a2.6 2.6 0 1 0 5.2 0a2.6 2.6 0 1 0 -5.2 0M1410.0 942.2a2.6 2.6 0 1 0 5.2 0a2.6 2.6 0 1 0 -5.2 0M1422.0 957.5a2.6 2.6 0 1 0 5.2 0a2.6 2.6 0 1 0 -5.2 0M1400.4 962.2a2.6 2.6 0 1 0 5.2 0a2.6 2.6 0 1 0 -5.2 0M1422.4 960.0a2.6 2.6 0 1 0 5.2 0a2.6 2.6 0 1 0 -5.2 0M1398.0 950.2a2.6 2.6 0 1 0 5.2 0a2.6 2.6 0 1 0 -5.2 0M1398.2 958.3a2.6 2.6 0 1 0 5.2 0a2.6 2.6 0 1 0 -5.2 0M1401.4 957.2a2.6 2.6 0 1 0 5.2 0a2.6 2.6 0 1 0 -5.2 0M1400.8 948.1a2.6 2.6 0 1 0 5.2 0a2.6 2.6 0 1 0 -5.2 0M1392.5 953.3a2.6 2.6 0 1 0 5.2 0a2.6 2.6 0 1 0 -5.2 0M1407.0 951.8a2.6 2.6 0 1 0 5.2 0a2.6 2.6 0 1 0 -5.2 0M1414.4 943.0a2.6 2.6 0 1 0 5.2 0a2.6 2.6 0 1 0 -5.2 0M1421.6 958.5a2.6 2.6 0 1 0 5.2 0a2.6 2.6 0 1 0 -5.2 0M1400.5 959.7a2.6 2.6 0 1 0 5.2 0a2.6 2.6 0 1 0 -5.2 0M1409.9 954.1a2.6 2.6 0 1 0 5.2 0a2.6 2.6 0 1 0 -5.2 0M1416.5 952.7a2.6 2.6 0 1 0 5.2 0a2.6 2.6 0 1 0 -5.2 0M1414.2 962.9a2.6 2.6 0 1 0 5.2 0a2.6 2.6 0 1 0 -5.2 0M1406.2 953.8a2.6 2.6 0 1 0 5.2 0a2.6 2.6 0 1 0 -5.2 0M1415.7 960.1a2.6 2.6 0 1 0 5.2 0a2.6 2.6 0 1 0 -5.2 0M1383.3 948.7a2.6 2.6 0 1 0 5.2 0a2.6 2.6 0 1 0 -5.2 0M1393.7 953.5a2.6 2.6 0 1 0 5.2 0a2.6 2.6 0 1 0 -5.2 0M1397.1 937.9a2.6 2.6 0 1 0 5.2 0a2.6 2.6 0 1 0 -5.2 0M1406.6 945.0a2.6 2.6 0 1 0 5.2 0a2.6 2.6 0 1 0 -5.2 0M1416.0 944.2a2.6 2.6 0 1 0 5.2 0a2.6 2.6 0 1 0 -5.2 0M1398.9 955.9a2.6 2.6 0 1 0 5.2 0a2.6 2.6 0 1 0 -5.2 0M1401.9 942.9a2.6 2.6 0 1 0 5.2 0a2.6 2.6 0 1 0 -5.2 0M1417.9 952.8a2.6 2.6 0 1 0 5.2 0a2.6 2.6 0 1 0 -5.2 0M1419.0 947.0a2.6 2.6 0 1 0 5.2 0a2.6 2.6 0 1 0 -5.2 0M1381.2 949.9a2.6 2.6 0 1 0 5.2 0a2.6 2.6 0 1 0 -5.2 0M1414.0 962.3a2.6 2.6 0 1 0 5.2 0a2.6 2.6 0 1 0 -5.2 0M1395.9 949.6a2.6 2.6 0 1 0 5.2 0a2.6 2.6 0 1 0 -5.2 0M1401.6 951.9a2.6 2.6 0 1 0 5.2 0a2.6 2.6 0 1 0 -5.2 0M1383.4 956.4a2.6 2.6 0 1 0 5.2 0a2.6 2.6 0 1 0 -5.2 0M1417.3 954.9a2.6 2.6 0 1 0 5.2 0a2.6 2.6 0 1 0 -5.2 0M1400.3 950.7a2.6 2.6 0 1 0 5.2 0a2.6 2.6 0 1 0 -5.2 0M1391.8 953.8a2.6 2.6 0 1 0 5.2 0a2.6 2.6 0 1 0 -5.2 0M1401.5 943.8a2.6 2.6 0 1 0 5.2 0a2.6 2.6 0 1 0 -5.2 0M1416.2 958.2a2.6 2.6 0 1 0 5.2 0a2.6 2.6 0 1 0 -5.2 0M1401.4 947.2a2.6 2.6 0 1 0 5.2 0a2.6 2.6 0 1 0 -5.2 0M1418.5 951.8a2.6 2.6 0 1 0 5.2 0a2.6 2.6 0 1 0 -5.2 0M1407.0 949.6a2.6 2.6 0 1 0 5.2 0a2.6 2.6 0 1 0 -5.2 0M1408.5 943.0a2.6 2.6 0 1 0 5.2 0a2.6 2.6 0 1 0 -5.2 0M1422.4 937.2a2.6 2.6 0 1 0 5.2 0a2.6 2.6 0 1 0 -5.2 0M1384.9 948.1a2.6 2.6 0 1 0 5.2 0a2.6 2.6 0 1 0 -5.2 0M1396.4 956.1a2.6 2.6 0 1 0 5.2 0a2.6 2.6 0 1 0 -5.2 0M1383.8 942.3a2.6 2.6 0 1 0 5.2 0a2.6 2.6 0 1 0 -5.2 0M1418.4 951.9a2.6 2.6 0 1 0 5.2 0a2.6 2.6 0 1 0 -5.2 0M1401.1 957.6a2.6 2.6 0 1 0 5.2 0a2.6 2.6 0 1 0 -5.2 0M1419.9 947.1a2.6 2.6 0 1 0 5.2 0a2.6 2.6 0 1 0 -5.2 0M1449.8 935.4a2.6 2.6 0 1 0 5.2 0a2.6 2.6 0 1 0 -5.2 0M1600.1 942.7a2.6 2.6 0 1 0 5.2 0a2.6 2.6 0 1 0 -5.2 0M1487.1 940.1a2.6 2.6 0 1 0 5.2 0a2.6 2.6 0 1 0 -5.2 0M1486.9 947.6a2.6 2.6 0 1 0 5.2 0a2.6 2.6 0 1 0 -5.2 0M1533.4 943.2a2.6 2.6 0 1 0 5.2 0a2.6 2.6 0 1 0 -5.2 0M1542.9 937.8a2.6 2.6 0 1 0 5.2 0a2.6 2.6 0 1 0 -5.2 0M1572.4 930.9a2.6 2.6 0 1 0 5.2 0a2.6 2.6 0 1 0 -5.2 0M1575.2 946.1a2.6 2.6 0 1 0 5.2 0a2.6 2.6 0 1 0 -5.2 0M1563.6 930.0a2.6 2.6 0 1 0 5.2 0a2.6 2.6 0 1 0 -5.2 0M1472.4 956.5a2.6 2.6 0 1 0 5.2 0a2.6 2.6 0 1 0 -5.2 0M1437.4 930.1a2.6 2.6 0 1 0 5.2 0a2.6 2.6 0 1 0 -5.2 0M1595.1 949.9a2.6 2.6 0 1 0 5.2 0a2.6 2.6 0 1 0 -5.2 0M1463.5 939.2a2.6 2.6 0 1 0 5.2 0a2.6 2.6 0 1 0 -5.2 0M1431.8 933.8a2.6 2.6 0 1 0 5.2 0a2.6 2.6 0 1 0 -5.2 0M1575.1 927.6a2.6 2.6 0 1 0 5.2 0a2.6 2.6 0 1 0 -5.2 0M1451.8 924.6a2.6 2.6 0 1 0 5.2 0a2.6 2.6 0 1 0 -5.2 0M1562.0 946.1a2.6 2.6 0 1 0 5.2 0a2.6 2.6 0 1 0 -5.2 0M1574.3 923.5a2.6 2.6 0 1 0 5.2 0a2.6 2.6 0 1 0 -5.2 0M1579.0 930.7a2.6 2.6 0 1 0 5.2 0a2.6 2.6 0 1 0 -5.2 0M1567.6 936.4a2.6 2.6 0 1 0 5.2 0a2.6 2.6 0 1 0 -5.2 0M1421.0 932.8a2.6 2.6 0 1 0 5.2 0a2.6 2.6 0 1 0 -5.2 0M1510.1 946.4a2.6 2.6 0 1 0 5.2 0a2.6 2.6 0 1 0 -5.2 0M1443.6 925.8a2.6 2.6 0 1 0 5.2 0a2.6 2.6 0 1 0 -5.2 0M1583.5 950.9a2.6 2.6 0 1 0 5.2 0a2.6 2.6 0 1 0 -5.2 0M1422.8 932.3a2.6 2.6 0 1 0 5.2 0a2.6 2.6 0 1 0 -5.2 0M1472.3 926.5a2.6 2.6 0 1 0 5.2 0a2.6 2.6 0 1 0 -5.2 0M1503.3 931.9a2.6 2.6 0 1 0 5.2 0a2.6 2.6 0 1 0 -5.2 0M1427.9 929.9a2.6 2.6 0 1 0 5.2 0a2.6 2.6 0 1 0 -5.2 0M1455.6 938.6a2.6 2.6 0 1 0 5.2 0a2.6 2.6 0 1 0 -5.2 0M1507.6 941.1a2.6 2.6 0 1 0 5.2 0a2.6 2.6 0 1 0 -5.2 0M1463.5 938.2a2.6 2.6 0 1 0 5.2 0a2.6 2.6 0 1 0 -5.2 0M1428.8 946.0a2.6 2.6 0 1 0 5.2 0a2.6 2.6 0 1 0 -5.2 0M1443.0 927.1a2.6 2.6 0 1 0 5.2 0a2.6 2.6 0 1 0 -5.2 0M1476.0 919.3a2.6 2.6 0 1 0 5.2 0a2.6 2.6 0 1 0 -5.2 0M1582.8 945.7a2.6 2.6 0 1 0 5.2 0a2.6 2.6 0 1 0 -5.2 0M1574.7 918.9a2.6 2.6 0 1 0 5.2 0a2.6 2.6 0 1 0 -5.2 0M1499.7 937.5a2.6 2.6 0 1 0 5.2 0a2.6 2.6 0 1 0 -5.2 0M1541.8 937.3a2.6 2.6 0 1 0 5.2 0a2.6 2.6 0 1 0 -5.2 0M1467.1 931.3a2.6 2.6 0 1 0 5.2 0a2.6 2.6 0 1 0 -5.2 0M1459.3 939.6a2.6 2.6 0 1 0 5.2 0a2.6 2.6 0 1 0 -5.2 0M1423.5 941.1a2.6 2.6 0 1 0 5.2 0a2.6 2.6 0 1 0 -5.2 0M1565.7 946.7a2.6 2.6 0 1 0 5.2 0a2.6 2.6 0 1 0 -5.2 0M1453.9 939.4a2.6 2.6 0 1 0 5.2 0a2.6 2.6 0 1 0 -5.2 0M1473.4 955.0a2.6 2.6 0 1 0 5.2 0a2.6 2.6 0 1 0 -5.2 0M1429.3 944.5a2.6 2.6 0 1 0 5.2 0a2.6 2.6 0 1 0 -5.2 0M1563.3 929.9a2.6 2.6 0 1 0 5.2 0a2.6 2.6 0 1 0 -5.2 0M1565.7 932.4a2.6 2.6 0 1 0 5.2 0a2.6 2.6 0 1 0 -5.2 0M1600.6 942.8a2.6 2.6 0 1 0 5.2 0a2.6 2.6 0 1 0 -5.2 0M1547.9 938.2a2.6 2.6 0 1 0 5.2 0a2.6 2.6 0 1 0 -5.2 0M1593.7 938.3a2.6 2.6 0 1 0 5.2 0a2.6 2.6 0 1 0 -5.2 0M1550.8 929.9a2.6 2.6 0 1 0 5.2 0a2.6 2.6 0 1 0 -5.2 0M1594.3 930.3a2.6 2.6 0 1 0 5.2 0a2.6 2.6 0 1 0 -5.2 0M1478.8 933.6a2.6 2.6 0 1 0 5.2 0a2.6 2.6 0 1 0 -5.2 0M1564.0 923.0a2.6 2.6 0 1 0 5.2 0a2.6 2.6 0 1 0 -5.2 0M1464.2 931.4a2.6 2.6 0 1 0 5.2 0a2.6 2.6 0 1 0 -5.2 0M1550.3 946.0a2.6 2.6 0 1 0 5.2 0a2.6 2.6 0 1 0 -5.2 0M1441.0 935.7a2.6 2.6 0 1 0 5.2 0a2.6 2.6 0 1 0 -5.2 0M1528.0 941.0a2.6 2.6 0 1 0 5.2 0a2.6 2.6 0 1 0 -5.2 0M1531.6 946.4a2.6 2.6 0 1 0 5.2 0a2.6 2.6 0 1 0 -5.2 0M1523.3 936.4a2.6 2.6 0 1 0 5.2 0a2.6 2.6 0 1 0 -5.2 0M1570.3 931.6a2.6 2.6 0 1 0 5.2 0a2.6 2.6 0 1 0 -5.2 0M1433.8 935.9a2.6 2.6 0 1 0 5.2 0a2.6 2.6 0 1 0 -5.2 0M1442.4 936.5a2.6 2.6 0 1 0 5.2 0a2.6 2.6 0 1 0 -5.2 0M1542.5 932.1a2.6 2.6 0 1 0 5.2 0a2.6 2.6 0 1 0 -5.2 0M1421.1 936.4a2.6 2.6 0 1 0 5.2 0a2.6 2.6 0 1 0 -5.2 0M1451.1 937.0a2.6 2.6 0 1 0 5.2 0a2.6 2.6 0 1 0 -5.2 0M1508.9 937.4a2.6 2.6 0 1 0 5.2 0a2.6 2.6 0 1 0 -5.2 0M1558.0 941.8a2.6 2.6 0 1 0 5.2 0a2.6 2.6 0 1 0 -5.2 0M1505.9 943.2a2.6 2.6 0 1 0 5.2 0a2.6 2.6 0 1 0 -5.2 0M1455.3 934.0a2.6 2.6 0 1 0 5.2 0a2.6 2.6 0 1 0 -5.2 0M1448.1 929.1a2.6 2.6 0 1 0 5.2 0a2.6 2.6 0 1 0 -5.2 0M1487.4 947.7a2.6 2.6 0 1 0 5.2 0a2.6 2.6 0 1 0 -5.2 0M1562.2 953.2a2.6 2.6 0 1 0 5.2 0a2.6 2.6 0 1 0 -5.2 0M1473.0 933.4a2.6 2.6 0 1 0 5.2 0a2.6 2.6 0 1 0 -5.2 0M1422.3 932.2a2.6 2.6 0 1 0 5.2 0a2.6 2.6 0 1 0 -5.2 0M1521.5 920.2a2.6 2.6 0 1 0 5.2 0a2.6 2.6 0 1 0 -5.2 0M1476.1 928.1a2.6 2.6 0 1 0 5.2 0a2.6 2.6 0 1 0 -5.2 0M1597.4 937.1a2.6 2.6 0 1 0 5.2 0a2.6 2.6 0 1 0 -5.2 0M1433.3 940.7a2.6 2.6 0 1 0 5.2 0a2.6 2.6 0 1 0 -5.2 0M1567.1 957.0a2.6 2.6 0 1 0 5.2 0a2.6 2.6 0 1 0 -5.2 0M1534.3 936.7a2.6 2.6 0 1 0 5.2 0a2.6 2.6 0 1 0 -5.2 0M1553.7 940.0a2.6 2.6 0 1 0 5.2 0a2.6 2.6 0 1 0 -5.2 0M1589.3 947.7a2.6 2.6 0 1 0 5.2 0a2.6 2.6 0 1 0 -5.2 0M1495.0 941.5a2.6 2.6 0 1 0 5.2 0a2.6 2.6 0 1 0 -5.2 0M1520.9 944.0a2.6 2.6 0 1 0 5.2 0a2.6 2.6 0 1 0 -5.2 0M1489.6 938.2a2.6 2.6 0 1 0 5.2 0a2.6 2.6 0 1 0 -5.2 0M1586.9 952.6a2.6 2.6 0 1 0 5.2 0a2.6 2.6 0 1 0 -5.2 0M1470.9 946.4a2.6 2.6 0 1 0 5.2 0a2.6 2.6 0 1 0 -5.2 0M1549.2 930.1a2.6 2.6 0 1 0 5.2 0a2.6 2.6 0 1 0 -5.2 0M1422.4 929.7a2.6 2.6 0 1 0 5.2 0a2.6 2.6 0 1 0 -5.2 0M1579.3 937.9a2.6 2.6 0 1 0 5.2 0a2.6 2.6 0 1 0 -5.2 0M1527.5 929.4a2.6 2.6 0 1 0 5.2 0a2.6 2.6 0 1 0 -5.2 0M1587.7 943.8a2.6 2.6 0 1 0 5.2 0a2.6 2.6 0 1 0 -5.2 0M1547.9 949.3a2.6 2.6 0 1 0 5.2 0a2.6 2.6 0 1 0 -5.2 0M1485.5 924.6a2.6 2.6 0 1 0 5.2 0a2.6 2.6 0 1 0 -5.2 0M1533.4 936.4a2.6 2.6 0 1 0 5.2 0a2.6 2.6 0 1 0 -5.2 0M1500.3 938.0a2.6 2.6 0 1 0 5.2 0a2.6 2.6 0 1 0 -5.2 0M1425.0 935.8a2.6 2.6 0 1 0 5.2 0a2.6 2.6 0 1 0 -5.2 0M1590.2 947.5a2.6 2.6 0 1 0 5.2 0a2.6 2.6 0 1 0 -5.2 0M1425.7 934.2a2.6 2.6 0 1 0 5.2 0a2.6 2.6 0 1 0 -5.2 0M1568.7 938.6a2.6 2.6 0 1 0 5.2 0a2.6 2.6 0 1 0 -5.2 0M1434.6 933.7a2.6 2.6 0 1 0 5.2 0a2.6 2.6 0 1 0 -5.2 0M1538.6 943.6a2.6 2.6 0 1 0 5.2 0a2.6 2.6 0 1 0 -5.2 0M1567.1 936.2a2.6 2.6 0 1 0 5.2 0a2.6 2.6 0 1 0 -5.2 0M1562.1 943.5a2.6 2.6 0 1 0 5.2 0a2.6 2.6 0 1 0 -5.2 0M1485.1 933.2a2.6 2.6 0 1 0 5.2 0a2.6 2.6 0 1 0 -5.2 0M1540.7 927.4a2.6 2.6 0 1 0 5.2 0a2.6 2.6 0 1 0 -5.2 0M1590.6 931.6a2.6 2.6 0 1 0 5.2 0a2.6 2.6 0 1 0 -5.2 0M1421.2 937.9a2.6 2.6 0 1 0 5.2 0a2.6 2.6 0 1 0 -5.2 0M1540.3 929.8a2.6 2.6 0 1 0 5.2 0a2.6 2.6 0 1 0 -5.2 0M1476.4 950.3a2.6 2.6 0 1 0 5.2 0a2.6 2.6 0 1 0 -5.2 0M1524.8 944.8a2.6 2.6 0 1 0 5.2 0a2.6 2.6 0 1 0 -5.2 0M1513.1 943.7a2.6 2.6 0 1 0 5.2 0a2.6 2.6 0 1 0 -5.2 0M1578.9 952.4a2.6 2.6 0 1 0 5.2 0a2.6 2.6 0 1 0 -5.2 0M1520.7 926.1a2.6 2.6 0 1 0 5.2 0a2.6 2.6 0 1 0 -5.2 0M1536.0 946.5a2.6 2.6 0 1 0 5.2 0a2.6 2.6 0 1 0 -5.2 0M1518.8 928.2a2.6 2.6 0 1 0 5.2 0a2.6 2.6 0 1 0 -5.2 0M1534.0 924.8a2.6 2.6 0 1 0 5.2 0a2.6 2.6 0 1 0 -5.2 0M1567.4 939.7a2.6 2.6 0 1 0 5.2 0a2.6 2.6 0 1 0 -5.2 0M1441.8 932.5a2.6 2.6 0 1 0 5.2 0a2.6 2.6 0 1 0 -5.2 0M1506.6 928.5a2.6 2.6 0 1 0 5.2 0a2.6 2.6 0 1 0 -5.2 0M1500.1 931.7a2.6 2.6 0 1 0 5.2 0a2.6 2.6 0 1 0 -5.2 0M1445.5 930.6a2.6 2.6 0 1 0 5.2 0a2.6 2.6 0 1 0 -5.2 0M1576.5 928.8a2.6 2.6 0 1 0 5.2 0a2.6 2.6 0 1 0 -5.2 0M1560.1 933.0a2.6 2.6 0 1 0 5.2 0a2.6 2.6 0 1 0 -5.2 0M1450.4 941.0a2.6 2.6 0 1 0 5.2 0a2.6 2.6 0 1 0 -5.2 0M1470.3 941.9a2.6 2.6 0 1 0 5.2 0a2.6 2.6 0 1 0 -5.2 0M1525.5 940.1a2.6 2.6 0 1 0 5.2 0a2.6 2.6 0 1 0 -5.2 0M1538.9 925.5a2.6 2.6 0 1 0 5.2 0a2.6 2.6 0 1 0 -5.2 0M1599.7 955.6a2.6 2.6 0 1 0 5.2 0a2.6 2.6 0 1 0 -5.2 0M1530.1 935.3a2.6 2.6 0 1 0 5.2 0a2.6 2.6 0 1 0 -5.2 0M1497.9 931.2a2.6 2.6 0 1 0 5.2 0a2.6 2.6 0 1 0 -5.2 0M1579.2 943.2a2.6 2.6 0 1 0 5.2 0a2.6 2.6 0 1 0 -5.2 0M1534.8 946.0a2.6 2.6 0 1 0 5.2 0a2.6 2.6 0 1 0 -5.2 0M1499.3 940.3a2.6 2.6 0 1 0 5.2 0a2.6 2.6 0 1 0 -5.2 0M1568.2 924.6a2.6 2.6 0 1 0 5.2 0a2.6 2.6 0 1 0 -5.2 0M1577.4 936.6a2.6 2.6 0 1 0 5.2 0a2.6 2.6 0 1 0 -5.2 0M1548.3 933.6a2.6 2.6 0 1 0 5.2 0a2.6 2.6 0 1 0 -5.2 0M1517.6 946.8a2.6 2.6 0 1 0 5.2 0a2.6 2.6 0 1 0 -5.2 0M1468.3 921.8a2.6 2.6 0 1 0 5.2 0a2.6 2.6 0 1 0 -5.2 0M1527.4 947.7a2.6 2.6 0 1 0 5.2 0a2.6 2.6 0 1 0 -5.2 0M1484.0 946.9a2.6 2.6 0 1 0 5.2 0a2.6 2.6 0 1 0 -5.2 0M1442.1 939.7a2.6 2.6 0 1 0 5.2 0a2.6 2.6 0 1 0 -5.2 0M1472.4 953.4a2.6 2.6 0 1 0 5.2 0a2.6 2.6 0 1 0 -5.2 0M1509.3 923.6a2.6 2.6 0 1 0 5.2 0a2.6 2.6 0 1 0 -5.2 0M1503.4 939.3a2.6 2.6 0 1 0 5.2 0a2.6 2.6 0 1 0 -5.2 0M1488.6 942.6a2.6 2.6 0 1 0 5.2 0a2.6 2.6 0 1 0 -5.2 0M1478.8 944.8a2.6 2.6 0 1 0 5.2 0a2.6 2.6 0 1 0 -5.2 0M1497.3 924.3a2.6 2.6 0 1 0 5.2 0a2.6 2.6 0 1 0 -5.2 0M1485.8 926.0a2.6 2.6 0 1 0 5.2 0a2.6 2.6 0 1 0 -5.2 0M1510.0 933.9a2.6 2.6 0 1 0 5.2 0a2.6 2.6 0 1 0 -5.2 0M1506.9 939.5a2.6 2.6 0 1 0 5.2 0a2.6 2.6 0 1 0 -5.2 0M1580.1 935.0a2.6 2.6 0 1 0 5.2 0a2.6 2.6 0 1 0 -5.2 0M1454.0 941.5a2.6 2.6 0 1 0 5.2 0a2.6 2.6 0 1 0 -5.2 0M1490.7 935.6a2.6 2.6 0 1 0 5.2 0a2.6 2.6 0 1 0 -5.2 0M1487.9 942.6a2.6 2.6 0 1 0 5.2 0a2.6 2.6 0 1 0 -5.2 0M1474.6 917.9a2.6 2.6 0 1 0 5.2 0a2.6 2.6 0 1 0 -5.2 0M1553.6 926.7a2.6 2.6 0 1 0 5.2 0a2.6 2.6 0 1 0 -5.2 0M1581.8 946.6a2.6 2.6 0 1 0 5.2 0a2.6 2.6 0 1 0 -5.2 0M1516.7 931.5a2.6 2.6 0 1 0 5.2 0a2.6 2.6 0 1 0 -5.2 0M1507.8 936.5a2.6 2.6 0 1 0 5.2 0a2.6 2.6 0 1 0 -5.2 0M1534.2 934.0a2.6 2.6 0 1 0 5.2 0a2.6 2.6 0 1 0 -5.2 0M1451.3 950.7a2.6 2.6 0 1 0 5.2 0a2.6 2.6 0 1 0 -5.2 0M1468.9 952.0a2.6 2.6 0 1 0 5.2 0a2.6 2.6 0 1 0 -5.2 0M1475.6 951.7a2.6 2.6 0 1 0 5.2 0a2.6 2.6 0 1 0 -5.2 0M1438.5 933.4a2.6 2.6 0 1 0 5.2 0a2.6 2.6 0 1 0 -5.2 0M1454.8 931.8a2.6 2.6 0 1 0 5.2 0a2.6 2.6 0 1 0 -5.2 0M1495.5 927.8a2.6 2.6 0 1 0 5.2 0a2.6 2.6 0 1 0 -5.2 0M1520.6 926.4a2.6 2.6 0 1 0 5.2 0a2.6 2.6 0 1 0 -5.2 0M1496.5 938.9a2.6 2.6 0 1 0 5.2 0a2.6 2.6 0 1 0 -5.2 0M1587.9 932.6a2.6 2.6 0 1 0 5.2 0a2.6 2.6 0 1 0 -5.2 0M1497.1 926.4a2.6 2.6 0 1 0 5.2 0a2.6 2.6 0 1 0 -5.2 0M1551.7 933.7a2.6 2.6 0 1 0 5.2 0a2.6 2.6 0 1 0 -5.2 0M1424.4 925.6a2.6 2.6 0 1 0 5.2 0a2.6 2.6 0 1 0 -5.2 0M1438.8 953.7a2.6 2.6 0 1 0 5.2 0a2.6 2.6 0 1 0 -5.2 0M1480.9 944.8a2.6 2.6 0 1 0 5.2 0a2.6 2.6 0 1 0 -5.2 0M1463.2 937.4a2.6 2.6 0 1 0 5.2 0a2.6 2.6 0 1 0 -5.2 0M1510.8 932.8a2.6 2.6 0 1 0 5.2 0a2.6 2.6 0 1 0 -5.2 0M1576.5 932.4a2.6 2.6 0 1 0 5.2 0a2.6 2.6 0 1 0 -5.2 0M1576.6 938.6a2.6 2.6 0 1 0 5.2 0a2.6 2.6 0 1 0 -5.2 0M1446.3 931.9a2.6 2.6 0 1 0 5.2 0a2.6 2.6 0 1 0 -5.2 0M1600.0 945.6a2.6 2.6 0 1 0 5.2 0a2.6 2.6 0 1 0 -5.2 0M1530.8 939.6a2.6 2.6 0 1 0 5.2 0a2.6 2.6 0 1 0 -5.2 0M1597.8 952.2a2.6 2.6 0 1 0 5.2 0a2.6 2.6 0 1 0 -5.2 0M1506.2 940.2a2.6 2.6 0 1 0 5.2 0a2.6 2.6 0 1 0 -5.2 0M1486.4 931.0a2.6 2.6 0 1 0 5.2 0a2.6 2.6 0 1 0 -5.2 0M1419.5 942.4a2.6 2.6 0 1 0 5.2 0a2.6 2.6 0 1 0 -5.2 0M1594.9 938.0a2.6 2.6 0 1 0 5.2 0a2.6 2.6 0 1 0 -5.2 0M1421.9 934.4a2.6 2.6 0 1 0 5.2 0a2.6 2.6 0 1 0 -5.2 0M1538.6 923.6a2.6 2.6 0 1 0 5.2 0a2.6 2.6 0 1 0 -5.2 0M1580.0 922.4a2.6 2.6 0 1 0 5.2 0a2.6 2.6 0 1 0 -5.2 0M1467.4 941.2a2.6 2.6 0 1 0 5.2 0a2.6 2.6 0 1 0 -5.2 0M1545.8 940.5a2.6 2.6 0 1 0 5.2 0a2.6 2.6 0 1 0 -5.2 0M1487.6 951.7a2.6 2.6 0 1 0 5.2 0a2.6 2.6 0 1 0 -5.2 0M1455.4 946.9a2.6 2.6 0 1 0 5.2 0a2.6 2.6 0 1 0 -5.2 0M1487.0 932.2a2.6 2.6 0 1 0 5.2 0a2.6 2.6 0 1 0 -5.2 0M1454.6 942.0a2.6 2.6 0 1 0 5.2 0a2.6 2.6 0 1 0 -5.2 0M1434.4 939.1a2.6 2.6 0 1 0 5.2 0a2.6 2.6 0 1 0 -5.2 0M1526.1 934.8a2.6 2.6 0 1 0 5.2 0a2.6 2.6 0 1 0 -5.2 0M1536.7 936.3a2.6 2.6 0 1 0 5.2 0a2.6 2.6 0 1 0 -5.2 0M1545.7 929.1a2.6 2.6 0 1 0 5.2 0a2.6 2.6 0 1 0 -5.2 0M1571.9 956.6a2.6 2.6 0 1 0 5.2 0a2.6 2.6 0 1 0 -5.2 0M1588.3 937.6a2.6 2.6 0 1 0 5.2 0a2.6 2.6 0 1 0 -5.2 0M1599.6 930.4a2.6 2.6 0 1 0 5.2 0a2.6 2.6 0 1 0 -5.2 0M1503.3 951.3a2.6 2.6 0 1 0 5.2 0a2.6 2.6 0 1 0 -5.2 0M1437.0 929.9a2.6 2.6 0 1 0 5.2 0a2.6 2.6 0 1 0 -5.2 0M1420.6 950.9a2.6 2.6 0 1 0 5.2 0a2.6 2.6 0 1 0 -5.2 0M1546.2 934.7a2.6 2.6 0 1 0 5.2 0a2.6 2.6 0 1 0 -5.2 0M1542.1 949.9a2.6 2.6 0 1 0 5.2 0a2.6 2.6 0 1 0 -5.2 0M1593.3 930.8a2.6 2.6 0 1 0 5.2 0a2.6 2.6 0 1 0 -5.2 0M1421.5 935.5a2.6 2.6 0 1 0 5.2 0a2.6 2.6 0 1 0 -5.2 0M1478.6 943.6a2.6 2.6 0 1 0 5.2 0a2.6 2.6 0 1 0 -5.2 0M1530.8 919.4a2.6 2.6 0 1 0 5.2 0a2.6 2.6 0 1 0 -5.2 0M1425.1 929.0a2.6 2.6 0 1 0 5.2 0a2.6 2.6 0 1 0 -5.2 0M1588.6 948.9a2.6 2.6 0 1 0 5.2 0a2.6 2.6 0 1 0 -5.2 0M1582.3 953.9a2.6 2.6 0 1 0 5.2 0a2.6 2.6 0 1 0 -5.2 0M1477.8 953.0a2.6 2.6 0 1 0 5.2 0a2.6 2.6 0 1 0 -5.2 0M1451.6 945.5a2.6 2.6 0 1 0 5.2 0a2.6 2.6 0 1 0 -5.2 0M1521.3 938.5a2.6 2.6 0 1 0 5.2 0a2.6 2.6 0 1 0 -5.2 0M1595.0 930.6a2.6 2.6 0 1 0 5.2 0a2.6 2.6 0 1 0 -5.2 0M1433.0 949.8a2.6 2.6 0 1 0 5.2 0a2.6 2.6 0 1 0 -5.2 0M1470.0 928.6a2.6 2.6 0 1 0 5.2 0a2.6 2.6 0 1 0 -5.2 0M1564.9 927.8a2.6 2.6 0 1 0 5.2 0a2.6 2.6 0 1 0 -5.2 0M1576.6 931.3a2.6 2.6 0 1 0 5.2 0a2.6 2.6 0 1 0 -5.2 0M1520.9 927.6a2.6 2.6 0 1 0 5.2 0a2.6 2.6 0 1 0 -5.2 0M1568.8 928.5a2.6 2.6 0 1 0 5.2 0a2.6 2.6 0 1 0 -5.2 0M1579.0 936.4a2.6 2.6 0 1 0 5.2 0a2.6 2.6 0 1 0 -5.2 0M1435.1 934.2a2.6 2.6 0 1 0 5.2 0a2.6 2.6 0 1 0 -5.2 0M1546.6 922.4a2.6 2.6 0 1 0 5.2 0a2.6 2.6 0 1 0 -5.2 0M1555.0 925.3a2.6 2.6 0 1 0 5.2 0a2.6 2.6 0 1 0 -5.2 0M1585.0 941.0a2.6 2.6 0 1 0 5.2 0a2.6 2.6 0 1 0 -5.2 0M1587.5 935.6a2.6 2.6 0 1 0 5.2 0a2.6 2.6 0 1 0 -5.2 0M1498.1 938.3a2.6 2.6 0 1 0 5.2 0a2.6 2.6 0 1 0 -5.2 0M1509.5 939.0a2.6 2.6 0 1 0 5.2 0a2.6 2.6 0 1 0 -5.2 0M1550.4 942.9a2.6 2.6 0 1 0 5.2 0a2.6 2.6 0 1 0 -5.2 0M1498.5 933.6a2.6 2.6 0 1 0 5.2 0a2.6 2.6 0 1 0 -5.2 0M1595.5 931.3a2.6 2.6 0 1 0 5.2 0a2.6 2.6 0 1 0 -5.2 0M1520.1 939.9a2.6 2.6 0 1 0 5.2 0a2.6 2.6 0 1 0 -5.2 0M1539.2 923.8a2.6 2.6 0 1 0 5.2 0a2.6 2.6 0 1 0 -5.2 0M1422.6 939.6a2.6 2.6 0 1 0 5.2 0a2.6 2.6 0 1 0 -5.2 0M1470.9 930.0a2.6 2.6 0 1 0 5.2 0a2.6 2.6 0 1 0 -5.2 0M1540.5 955.8a2.6 2.6 0 1 0 5.2 0a2.6 2.6 0 1 0 -5.2 0M1582.2 939.1a2.6 2.6 0 1 0 5.2 0a2.6 2.6 0 1 0 -5.2 0M1444.6 948.4a2.6 2.6 0 1 0 5.2 0a2.6 2.6 0 1 0 -5.2 0M1432.3 943.1a2.6 2.6 0 1 0 5.2 0a2.6 2.6 0 1 0 -5.2 0M1434.3 932.1a2.6 2.6 0 1 0 5.2 0a2.6 2.6 0 1 0 -5.2 0M1444.4 938.6a2.6 2.6 0 1 0 5.2 0a2.6 2.6 0 1 0 -5.2 0M1538.7 938.4a2.6 2.6 0 1 0 5.2 0a2.6 2.6 0 1 0 -5.2 0M1472.3 938.1a2.6 2.6 0 1 0 5.2 0a2.6 2.6 0 1 0 -5.2 0M1502.9 935.3a2.6 2.6 0 1 0 5.2 0a2.6 2.6 0 1 0 -5.2 0M1526.5 941.3a2.6 2.6 0 1 0 5.2 0a2.6 2.6 0 1 0 -5.2 0M1543.0 927.1a2.6 2.6 0 1 0 5.2 0a2.6 2.6 0 1 0 -5.2 0M1594.9 934.4a2.6 2.6 0 1 0 5.2 0a2.6 2.6 0 1 0 -5.2 0M1472.8 956.7a2.6 2.6 0 1 0 5.2 0a2.6 2.6 0 1 0 -5.2 0M1497.4 918.5a2.6 2.6 0 1 0 5.2 0a2.6 2.6 0 1 0 -5.2 0M1599.0 932.0a2.6 2.6 0 1 0 5.2 0a2.6 2.6 0 1 0 -5.2 0M1454.6 944.5a2.6 2.6 0 1 0 5.2 0a2.6 2.6 0 1 0 -5.2 0M1447.5 938.5a2.6 2.6 0 1 0 5.2 0a2.6 2.6 0 1 0 -5.2 0M1592.2 944.3a2.6 2.6 0 1 0 5.2 0a2.6 2.6 0 1 0 -5.2 0M1567.6 936.0a2.6 2.6 0 1 0 5.2 0a2.6 2.6 0 1 0 -5.2 0M1467.9 938.1a2.6 2.6 0 1 0 5.2 0a2.6 2.6 0 1 0 -5.2 0M1429.2 934.0a2.6 2.6 0 1 0 5.2 0a2.6 2.6 0 1 0 -5.2 0M1583.5 941.1a2.6 2.6 0 1 0 5.2 0a2.6 2.6 0 1 0 -5.2 0M1595.4 942.0a2.6 2.6 0 1 0 5.2 0a2.6 2.6 0 1 0 -5.2 0M1483.6 932.4a2.6 2.6 0 1 0 5.2 0a2.6 2.6 0 1 0 -5.2 0M1458.3 951.9a2.6 2.6 0 1 0 5.2 0a2.6 2.6 0 1 0 -5.2 0M1510.1 937.3a2.6 2.6 0 1 0 5.2 0a2.6 2.6 0 1 0 -5.2 0M1448.8 945.4a2.6 2.6 0 1 0 5.2 0a2.6 2.6 0 1 0 -5.2 0M1439.9 944.9a2.6 2.6 0 1 0 5.2 0a2.6 2.6 0 1 0 -5.2 0M1446.7 933.6a2.6 2.6 0 1 0 5.2 0a2.6 2.6 0 1 0 -5.2 0M1581.0 934.9a2.6 2.6 0 1 0 5.2 0a2.6 2.6 0 1 0 -5.2 0M1460.9 936.0a2.6 2.6 0 1 0 5.2 0a2.6 2.6 0 1 0 -5.2 0M1592.7 940.2a2.6 2.6 0 1 0 5.2 0a2.6 2.6 0 1 0 -5.2 0M1551.8 955.3a2.6 2.6 0 1 0 5.2 0a2.6 2.6 0 1 0 -5.2 0M1558.4 926.9a2.6 2.6 0 1 0 5.2 0a2.6 2.6 0 1 0 -5.2 0M1518.0 925.3a2.6 2.6 0 1 0 5.2 0a2.6 2.6 0 1 0 -5.2 0M1527.6 929.7a2.6 2.6 0 1 0 5.2 0a2.6 2.6 0 1 0 -5.2 0M1508.3 939.7a2.6 2.6 0 1 0 5.2 0a2.6 2.6 0 1 0 -5.2 0M1468.7 935.8a2.6 2.6 0 1 0 5.2 0a2.6 2.6 0 1 0 -5.2 0M1559.4 952.0a2.6 2.6 0 1 0 5.2 0a2.6 2.6 0 1 0 -5.2 0M1541.2 952.1a2.6 2.6 0 1 0 5.2 0a2.6 2.6 0 1 0 -5.2 0M1536.2 931.8a2.6 2.6 0 1 0 5.2 0a2.6 2.6 0 1 0 -5.2 0M1585.8 933.5a2.6 2.6 0 1 0 5.2 0a2.6 2.6 0 1 0 -5.2 0M1537.6 932.7a2.6 2.6 0 1 0 5.2 0a2.6 2.6 0 1 0 -5.2 0M1541.7 932.4a2.6 2.6 0 1 0 5.2 0a2.6 2.6 0 1 0 -5.2 0M1543.0 927.4a2.6 2.6 0 1 0 5.2 0a2.6 2.6 0 1 0 -5.2 0M1484.2 922.1a2.6 2.6 0 1 0 5.2 0a2.6 2.6 0 1 0 -5.2 0M1454.4 951.3a2.6 2.6 0 1 0 5.2 0a2.6 2.6 0 1 0 -5.2 0M1428.7 936.0a2.6 2.6 0 1 0 5.2 0a2.6 2.6 0 1 0 -5.2 0M1574.9 947.3a2.6 2.6 0 1 0 5.2 0a2.6 2.6 0 1 0 -5.2 0M1580.1 937.1a2.6 2.6 0 1 0 5.2 0a2.6 2.6 0 1 0 -5.2 0M1539.9 945.8a2.6 2.6 0 1 0 5.2 0a2.6 2.6 0 1 0 -5.2 0M1599.6 937.9a2.6 2.6 0 1 0 5.2 0a2.6 2.6 0 1 0 -5.2 0M1463.0 934.3a2.6 2.6 0 1 0 5.2 0a2.6 2.6 0 1 0 -5.2 0M1427.7 933.6a2.6 2.6 0 1 0 5.2 0a2.6 2.6 0 1 0 -5.2 0M1571.7 947.3a2.6 2.6 0 1 0 5.2 0a2.6 2.6 0 1 0 -5.2 0M1465.3 942.4a2.6 2.6 0 1 0 5.2 0a2.6 2.6 0 1 0 -5.2 0M1454.8 934.3a2.6 2.6 0 1 0 5.2 0a2.6 2.6 0 1 0 -5.2 0M1567.3 938.0a2.6 2.6 0 1 0 5.2 0a2.6 2.6 0 1 0 -5.2 0M1545.6 924.8a2.6 2.6 0 1 0 5.2 0a2.6 2.6 0 1 0 -5.2 0M1567.9 939.7a2.6 2.6 0 1 0 5.2 0a2.6 2.6 0 1 0 -5.2 0M1581.8 945.0a2.6 2.6 0 1 0 5.2 0a2.6 2.6 0 1 0 -5.2 0M1568.8 949.0a2.6 2.6 0 1 0 5.2 0a2.6 2.6 0 1 0 -5.2 0M1477.4 948.2a2.6 2.6 0 1 0 5.2 0a2.6 2.6 0 1 0 -5.2 0M1521.7 947.8a2.6 2.6 0 1 0 5.2 0a2.6 2.6 0 1 0 -5.2 0M1529.7 945.7a2.6 2.6 0 1 0 5.2 0a2.6 2.6 0 1 0 -5.2 0M1541.4 937.2a2.6 2.6 0 1 0 5.2 0a2.6 2.6 0 1 0 -5.2 0M1476.0 946.7a2.6 2.6 0 1 0 5.2 0a2.6 2.6 0 1 0 -5.2 0M1556.9 944.8a2.6 2.6 0 1 0 5.2 0a2.6 2.6 0 1 0 -5.2 0M1479.7 924.2a2.6 2.6 0 1 0 5.2 0a2.6 2.6 0 1 0 -5.2 0M1579.2 931.6a2.6 2.6 0 1 0 5.2 0a2.6 2.6 0 1 0 -5.2 0M1535.1 927.6a2.6 2.6 0 1 0 5.2 0a2.6 2.6 0 1 0 -5.2 0M1571.1 928.0a2.6 2.6 0 1 0 5.2 0a2.6 2.6 0 1 0 -5.2 0M1556.0 938.9a2.6 2.6 0 1 0 5.2 0a2.6 2.6 0 1 0 -5.2 0M1556.9 939.4a2.6 2.6 0 1 0 5.2 0a2.6 2.6 0 1 0 -5.2 0M1521.6 952.8a2.6 2.6 0 1 0 5.2 0a2.6 2.6 0 1 0 -5.2 0M1447.8 932.9a2.6 2.6 0 1 0 5.2 0a2.6 2.6 0 1 0 -5.2 0M1434.9 948.4a2.6 2.6 0 1 0 5.2 0a2.6 2.6 0 1 0 -5.2 0M1578.1 925.3a2.6 2.6 0 1 0 5.2 0a2.6 2.6 0 1 0 -5.2 0M1596.0 929.5a2.6 2.6 0 1 0 5.2 0a2.6 2.6 0 1 0 -5.2 0M1473.9 934.7a2.6 2.6 0 1 0 5.2 0a2.6 2.6 0 1 0 -5.2 0M1513.1 949.1a2.6 2.6 0 1 0 5.2 0a2.6 2.6 0 1 0 -5.2 0M1448.3 934.5a2.6 2.6 0 1 0 5.2 0a2.6 2.6 0 1 0 -5.2 0M1496.3 935.4a2.6 2.6 0 1 0 5.2 0a2.6 2.6 0 1 0 -5.2 0M1586.8 949.7a2.6 2.6 0 1 0 5.2 0a2.6 2.6 0 1 0 -5.2 0M1448.1 920.0a2.6 2.6 0 1 0 5.2 0a2.6 2.6 0 1 0 -5.2 0M1440.5 940.0a2.6 2.6 0 1 0 5.2 0a2.6 2.6 0 1 0 -5.2 0M1519.9 942.6a2.6 2.6 0 1 0 5.2 0a2.6 2.6 0 1 0 -5.2 0M1489.1 945.7a2.6 2.6 0 1 0 5.2 0a2.6 2.6 0 1 0 -5.2 0M1566.3 943.8a2.6 2.6 0 1 0 5.2 0a2.6 2.6 0 1 0 -5.2 0M1550.4 938.0a2.6 2.6 0 1 0 5.2 0a2.6 2.6 0 1 0 -5.2 0M1511.1 949.3a2.6 2.6 0 1 0 5.2 0a2.6 2.6 0 1 0 -5.2 0M1580.2 953.9a2.6 2.6 0 1 0 5.2 0a2.6 2.6 0 1 0 -5.2 0M1576.7 953.5a2.6 2.6 0 1 0 5.2 0a2.6 2.6 0 1 0 -5.2 0M1488.8 938.3a2.6 2.6 0 1 0 5.2 0a2.6 2.6 0 1 0 -5.2 0M1530.4 942.6a2.6 2.6 0 1 0 5.2 0a2.6 2.6 0 1 0 -5.2 0M1600.3 940.6a2.6 2.6 0 1 0 5.2 0a2.6 2.6 0 1 0 -5.2 0M1459.3 931.2a2.6 2.6 0 1 0 5.2 0a2.6 2.6 0 1 0 -5.2 0M1538.8 934.6a2.6 2.6 0 1 0 5.2 0a2.6 2.6 0 1 0 -5.2 0M1592.5 925.9a2.6 2.6 0 1 0 5.2 0a2.6 2.6 0 1 0 -5.2 0M1474.8 925.3a2.6 2.6 0 1 0 5.2 0a2.6 2.6 0 1 0 -5.2 0M1581.3 950.6a2.6 2.6 0 1 0 5.2 0a2.6 2.6 0 1 0 -5.2 0M1512.4 926.6a2.6 2.6 0 1 0 5.2 0a2.6 2.6 0 1 0 -5.2 0M1492.4 940.8a2.6 2.6 0 1 0 5.2 0a2.6 2.6 0 1 0 -5.2 0M1507.6 927.5a2.6 2.6 0 1 0 5.2 0a2.6 2.6 0 1 0 -5.2 0M1421.6 933.4a2.6 2.6 0 1 0 5.2 0a2.6 2.6 0 1 0 -5.2 0M1547.9 921.8a2.6 2.6 0 1 0 5.2 0a2.6 2.6 0 1 0 -5.2 0M1536.7 942.6a2.6 2.6 0 1 0 5.2 0a2.6 2.6 0 1 0 -5.2 0M1537.4 931.3a2.6 2.6 0 1 0 5.2 0a2.6 2.6 0 1 0 -5.2 0M1442.8 929.8a2.6 2.6 0 1 0 5.2 0a2.6 2.6 0 1 0 -5.2 0M1528.3 935.1a2.6 2.6 0 1 0 5.2 0a2.6 2.6 0 1 0 -5.2 0M1537.2 934.4a2.6 2.6 0 1 0 5.2 0a2.6 2.6 0 1 0 -5.2 0M1446.5 946.4a2.6 2.6 0 1 0 5.2 0a2.6 2.6 0 1 0 -5.2 0M1419.9 941.2a2.6 2.6 0 1 0 5.2 0a2.6 2.6 0 1 0 -5.2 0M1459.0 934.9a2.6 2.6 0 1 0 5.2 0a2.6 2.6 0 1 0 -5.2 0M1437.0 947.0a2.6 2.6 0 1 0 5.2 0a2.6 2.6 0 1 0 -5.2 0M1513.4 929.6a2.6 2.6 0 1 0 5.2 0a2.6 2.6 0 1 0 -5.2 0M1507.3 950.5a2.6 2.6 0 1 0 5.2 0a2.6 2.6 0 1 0 -5.2 0M1587.9 935.8a2.6 2.6 0 1 0 5.2 0a2.6 2.6 0 1 0 -5.2 0M1585.4 930.7a2.6 2.6 0 1 0 5.2 0a2.6 2.6 0 1 0 -5.2 0M1583.6 928.4a2.6 2.6 0 1 0 5.2 0a2.6 2.6 0 1 0 -5.2 0M1555.2 926.7a2.6 2.6 0 1 0 5.2 0a2.6 2.6 0 1 0 -5.2 0M1541.6 920.4a2.6 2.6 0 1 0 5.2 0a2.6 2.6 0 1 0 -5.2 0M1585.9 945.7a2.6 2.6 0 1 0 5.2 0a2.6 2.6 0 1 0 -5.2 0M1506.3 922.6a2.6 2.6 0 1 0 5.2 0a2.6 2.6 0 1 0 -5.2 0M1542.3 934.4a2.6 2.6 0 1 0 5.2 0a2.6 2.6 0 1 0 -5.2 0M1495.1 949.1a2.6 2.6 0 1 0 5.2 0a2.6 2.6 0 1 0 -5.2 0M1496.5 954.9a2.6 2.6 0 1 0 5.2 0a2.6 2.6 0 1 0 -5.2 0M1449.6 938.0a2.6 2.6 0 1 0 5.2 0a2.6 2.6 0 1 0 -5.2 0M1500.0 934.0a2.6 2.6 0 1 0 5.2 0a2.6 2.6 0 1 0 -5.2 0M1526.7 930.3a2.6 2.6 0 1 0 5.2 0a2.6 2.6 0 1 0 -5.2 0M1522.6 929.3a2.6 2.6 0 1 0 5.2 0a2.6 2.6 0 1 0 -5.2 0M1426.1 937.9a2.6 2.6 0 1 0 5.2 0a2.6 2.6 0 1 0 -5.2 0M1590.0 930.9a2.6 2.6 0 1 0 5.2 0a2.6 2.6 0 1 0 -5.2 0M1570.5 920.7a2.6 2.6 0 1 0 5.2 0a2.6 2.6 0 1 0 -5.2 0M1448.4 937.3a2.6 2.6 0 1 0 5.2 0a2.6 2.6 0 1 0 -5.2 0M1580.0 941.2a2.6 2.6 0 1 0 5.2 0a2.6 2.6 0 1 0 -5.2 0M1513.2 945.0a2.6 2.6 0 1 0 5.2 0a2.6 2.6 0 1 0 -5.2 0M1432.5 924.7a2.6 2.6 0 1 0 5.2 0a2.6 2.6 0 1 0 -5.2 0M1553.1 929.9a2.6 2.6 0 1 0 5.2 0a2.6 2.6 0 1 0 -5.2 0M1581.8 935.9a2.6 2.6 0 1 0 5.2 0a2.6 2.6 0 1 0 -5.2 0M1572.1 929.9a2.6 2.6 0 1 0 5.2 0a2.6 2.6 0 1 0 -5.2 0M1502.3 937.8a2.6 2.6 0 1 0 5.2 0a2.6 2.6 0 1 0 -5.2 0M1456.5 938.4a2.6 2.6 0 1 0 5.2 0a2.6 2.6 0 1 0 -5.2 0M1572.5 952.2a2.6 2.6 0 1 0 5.2 0a2.6 2.6 0 1 0 -5.2 0M1591.3 944.5a2.6 2.6 0 1 0 5.2 0a2.6 2.6 0 1 0 -5.2 0M1511.0 941.8a2.6 2.6 0 1 0 5.2 0a2.6 2.6 0 1 0 -5.2 0M1425.9 934.3a2.6 2.6 0 1 0 5.2 0a2.6 2.6 0 1 0 -5.2 0M1452.2 939.1a2.6 2.6 0 1 0 5.2 0a2.6 2.6 0 1 0 -5.2 0M1570.7 938.2a2.6 2.6 0 1 0 5.2 0a2.6 2.6 0 1 0 -5.2 0M1482.0 946.8a2.6 2.6 0 1 0 5.2 0a2.6 2.6 0 1 0 -5.2 0M1422.6 928.8a2.6 2.6 0 1 0 5.2 0a2.6 2.6 0 1 0 -5.2 0M1507.5 941.6a2.6 2.6 0 1 0 5.2 0a2.6 2.6 0 1 0 -5.2 0M1557.0 936.5a2.6 2.6 0 1 0 5.2 0a2.6 2.6 0 1 0 -5.2 0M1460.9 921.4a2.6 2.6 0 1 0 5.2 0a2.6 2.6 0 1 0 -5.2 0M1493.8 940.9a2.6 2.6 0 1 0 5.2 0a2.6 2.6 0 1 0 -5.2 0M1597.4 938.9a2.6 2.6 0 1 0 5.2 0a2.6 2.6 0 1 0 -5.2 0M1504.1 928.0a2.6 2.6 0 1 0 5.2 0a2.6 2.6 0 1 0 -5.2 0M1537.0 943.1a2.6 2.6 0 1 0 5.2 0a2.6 2.6 0 1 0 -5.2 0M1428.3 950.1a2.6 2.6 0 1 0 5.2 0a2.6 2.6 0 1 0 -5.2 0M1445.7 931.0a2.6 2.6 0 1 0 5.2 0a2.6 2.6 0 1 0 -5.2 0M1487.4 936.4a2.6 2.6 0 1 0 5.2 0a2.6 2.6 0 1 0 -5.2 0M1471.4 951.6a2.6 2.6 0 1 0 5.2 0a2.6 2.6 0 1 0 -5.2 0M1598.3 933.2a2.6 2.6 0 1 0 5.2 0a2.6 2.6 0 1 0 -5.2 0M1544.3 934.1a2.6 2.6 0 1 0 5.2 0a2.6 2.6 0 1 0 -5.2 0M1428.4 928.3a2.6 2.6 0 1 0 5.2 0a2.6 2.6 0 1 0 -5.2 0M1577.4 943.6a2.6 2.6 0 1 0 5.2 0a2.6 2.6 0 1 0 -5.2 0M1575.2 921.2a2.6 2.6 0 1 0 5.2 0a2.6 2.6 0 1 0 -5.2 0M1450.6 924.5a2.6 2.6 0 1 0 5.2 0a2.6 2.6 0 1 0 -5.2 0M1427.5 930.8a2.6 2.6 0 1 0 5.2 0a2.6 2.6 0 1 0 -5.2 0M1596.6 946.6a2.6 2.6 0 1 0 5.2 0a2.6 2.6 0 1 0 -5.2 0M1500.5 953.4a2.6 2.6 0 1 0 5.2 0a2.6 2.6 0 1 0 -5.2 0M1516.2 950.7a2.6 2.6 0 1 0 5.2 0a2.6 2.6 0 1 0 -5.2 0M1508.7 945.0a2.6 2.6 0 1 0 5.2 0a2.6 2.6 0 1 0 -5.2 0M1453.9 933.1a2.6 2.6 0 1 0 5.2 0a2.6 2.6 0 1 0 -5.2 0M1462.7 946.2a2.6 2.6 0 1 0 5.2 0a2.6 2.6 0 1 0 -5.2 0M1471.5 939.8a2.6 2.6 0 1 0 5.2 0a2.6 2.6 0 1 0 -5.2 0M1541.8 935.3a2.6 2.6 0 1 0 5.2 0a2.6 2.6 0 1 0 -5.2 0M1524.6 932.4a2.6 2.6 0 1 0 5.2 0a2.6 2.6 0 1 0 -5.2 0M1468.6 932.8a2.6 2.6 0 1 0 5.2 0a2.6 2.6 0 1 0 -5.2 0M1430.8 948.6a2.6 2.6 0 1 0 5.2 0a2.6 2.6 0 1 0 -5.2 0M1522.2 933.6a2.6 2.6 0 1 0 5.2 0a2.6 2.6 0 1 0 -5.2 0M1469.7 919.4a2.6 2.6 0 1 0 5.2 0a2.6 2.6 0 1 0 -5.2 0M1440.2 928.7a2.6 2.6 0 1 0 5.2 0a2.6 2.6 0 1 0 -5.2 0M1518.1 934.9a2.6 2.6 0 1 0 5.2 0a2.6 2.6 0 1 0 -5.2 0M1496.7 950.3a2.6 2.6 0 1 0 5.2 0a2.6 2.6 0 1 0 -5.2 0M1499.2 932.7a2.6 2.6 0 1 0 5.2 0a2.6 2.6 0 1 0 -5.2 0M1554.1 928.5a2.6 2.6 0 1 0 5.2 0a2.6 2.6 0 1 0 -5.2 0M1474.1 936.8a2.6 2.6 0 1 0 5.2 0a2.6 2.6 0 1 0 -5.2 0M1441.0 938.6a2.6 2.6 0 1 0 5.2 0a2.6 2.6 0 1 0 -5.2 0M1495.6 929.4a2.6 2.6 0 1 0 5.2 0a2.6 2.6 0 1 0 -5.2 0M1436.4 951.0a2.6 2.6 0 1 0 5.2 0a2.6 2.6 0 1 0 -5.2 0M1532.7 929.4a2.6 2.6 0 1 0 5.2 0a2.6 2.6 0 1 0 -5.2 0M1432.6 932.6a2.6 2.6 0 1 0 5.2 0a2.6 2.6 0 1 0 -5.2 0M1446.7 927.1a2.6 2.6 0 1 0 5.2 0a2.6 2.6 0 1 0 -5.2 0M1535.0 944.5a2.6 2.6 0 1 0 5.2 0a2.6 2.6 0 1 0 -5.2 0M1488.0 927.8a2.6 2.6 0 1 0 5.2 0a2.6 2.6 0 1 0 -5.2 0M1591.8 952.0a2.6 2.6 0 1 0 5.2 0a2.6 2.6 0 1 0 -5.2 0M1497.8 947.6a2.6 2.6 0 1 0 5.2 0a2.6 2.6 0 1 0 -5.2 0M1594.4 922.3a2.6 2.6 0 1 0 5.2 0a2.6 2.6 0 1 0 -5.2 0M1495.6 927.3a2.6 2.6 0 1 0 5.2 0a2.6 2.6 0 1 0 -5.2 0M1465.3 927.6a2.6 2.6 0 1 0 5.2 0a2.6 2.6 0 1 0 -5.2 0M1452.5 941.5a2.6 2.6 0 1 0 5.2 0a2.6 2.6 0 1 0 -5.2 0M1515.4 931.0a2.6 2.6 0 1 0 5.2 0a2.6 2.6 0 1 0 -5.2 0M1505.2 948.0a2.6 2.6 0 1 0 5.2 0a2.6 2.6 0 1 0 -5.2 0M1425.4 946.0a2.6 2.6 0 1 0 5.2 0a2.6 2.6 0 1 0 -5.2 0M1470.8 933.5a2.6 2.6 0 1 0 5.2 0a2.6 2.6 0 1 0 -5.2 0M1453.5 924.6a2.6 2.6 0 1 0 5.2 0a2.6 2.6 0 1 0 -5.2 0M1537.1 941.4a2.6 2.6 0 1 0 5.2 0a2.6 2.6 0 1 0 -5.2 0M1523.5 927.5a2.6 2.6 0 1 0 5.2 0a2.6 2.6 0 1 0 -5.2 0M1466.1 933.2a2.6 2.6 0 1 0 5.2 0a2.6 2.6 0 1 0 -5.2 0M1535.6 928.2a2.6 2.6 0 1 0 5.2 0a2.6 2.6 0 1 0 -5.2 0M1539.5 950.3a2.6 2.6 0 1 0 5.2 0a2.6 2.6 0 1 0 -5.2 0M1576.2 944.2a2.6 2.6 0 1 0 5.2 0a2.6 2.6 0 1 0 -5.2 0M1530.2 947.5a2.6 2.6 0 1 0 5.2 0a2.6 2.6 0 1 0 -5.2 0M1562.5 928.2a2.6 2.6 0 1 0 5.2 0a2.6 2.6 0 1 0 -5.2 0M1565.7 932.2a2.6 2.6 0 1 0 5.2 0a2.6 2.6 0 1 0 -5.2 0M1585.1 936.4a2.6 2.6 0 1 0 5.2 0a2.6 2.6 0 1 0 -5.2 0M1574.4 942.2a2.6 2.6 0 1 0 5.2 0a2.6 2.6 0 1 0 -5.2 0M1444.1 943.6a2.6 2.6 0 1 0 5.2 0a2.6 2.6 0 1 0 -5.2 0M1492.1 929.9a2.6 2.6 0 1 0 5.2 0a2.6 2.6 0 1 0 -5.2 0M1559.6 941.6a2.6 2.6 0 1 0 5.2 0a2.6 2.6 0 1 0 -5.2 0M1559.6 925.2a2.6 2.6 0 1 0 5.2 0a2.6 2.6 0 1 0 -5.2 0M1490.8 932.5a2.6 2.6 0 1 0 5.2 0a2.6 2.6 0 1 0 -5.2 0M1472.5 939.4a2.6 2.6 0 1 0 5.2 0a2.6 2.6 0 1 0 -5.2 0M1456.9 941.2a2.6 2.6 0 1 0 5.2 0a2.6 2.6 0 1 0 -5.2 0M1433.8 939.5a2.6 2.6 0 1 0 5.2 0a2.6 2.6 0 1 0 -5.2 0M1564.0 945.1a2.6 2.6 0 1 0 5.2 0a2.6 2.6 0 1 0 -5.2 0M1458.2 924.9a2.6 2.6 0 1 0 5.2 0a2.6 2.6 0 1 0 -5.2 0M1482.6 943.2a2.6 2.6 0 1 0 5.2 0a2.6 2.6 0 1 0 -5.2 0M1449.8 952.0a2.6 2.6 0 1 0 5.2 0a2.6 2.6 0 1 0 -5.2 0M1578.5 931.5a2.6 2.6 0 1 0 5.2 0a2.6 2.6 0 1 0 -5.2 0M1594.5 925.9a2.6 2.6 0 1 0 5.2 0a2.6 2.6 0 1 0 -5.2 0M1532.7 922.4a2.6 2.6 0 1 0 5.2 0a2.6 2.6 0 1 0 -5.2 0M1465.0 931.5a2.6 2.6 0 1 0 5.2 0a2.6 2.6 0 1 0 -5.2 0M1566.7 946.2a2.6 2.6 0 1 0 5.2 0a2.6 2.6 0 1 0 -5.2 0M1586.7 920.4a2.6 2.6 0 1 0 5.2 0a2.6 2.6 0 1 0 -5.2 0M1458.8 945.7a2.6 2.6 0 1 0 5.2 0a2.6 2.6 0 1 0 -5.2 0M1438.8 944.9a2.6 2.6 0 1 0 5.2 0a2.6 2.6 0 1 0 -5.2 0M1481.4 929.1a2.6 2.6 0 1 0 5.2 0a2.6 2.6 0 1 0 -5.2 0M1459.5 943.7a2.6 2.6 0 1 0 5.2 0a2.6 2.6 0 1 0 -5.2 0M1542.9 928.9a2.6 2.6 0 1 0 5.2 0a2.6 2.6 0 1 0 -5.2 0M1420.2 929.5a2.6 2.6 0 1 0 5.2 0a2.6 2.6 0 1 0 -5.2 0M1542.6 941.4a2.6 2.6 0 1 0 5.2 0a2.6 2.6 0 1 0 -5.2 0M1504.5 950.5a2.6 2.6 0 1 0 5.2 0a2.6 2.6 0 1 0 -5.2 0M1499.1 955.9a2.6 2.6 0 1 0 5.2 0a2.6 2.6 0 1 0 -5.2 0M1555.3 936.7a2.6 2.6 0 1 0 5.2 0a2.6 2.6 0 1 0 -5.2 0M1451.0 944.2a2.6 2.6 0 1 0 5.2 0a2.6 2.6 0 1 0 -5.2 0M1525.6 942.0a2.6 2.6 0 1 0 5.2 0a2.6 2.6 0 1 0 -5.2 0M1557.7 935.1a2.6 2.6 0 1 0 5.2 0a2.6 2.6 0 1 0 -5.2 0M1559.0 947.6a2.6 2.6 0 1 0 5.2 0a2.6 2.6 0 1 0 -5.2 0M1456.5 922.8a2.6 2.6 0 1 0 5.2 0a2.6 2.6 0 1 0 -5.2 0M1550.2 938.7a2.6 2.6 0 1 0 5.2 0a2.6 2.6 0 1 0 -5.2 0M1600.8 950.5a2.6 2.6 0 1 0 5.2 0a2.6 2.6 0 1 0 -5.2 0M1529.2 947.1a2.6 2.6 0 1 0 5.2 0a2.6 2.6 0 1 0 -5.2 0M1475.4 944.4a2.6 2.6 0 1 0 5.2 0a2.6 2.6 0 1 0 -5.2 0M1490.5 950.8a2.6 2.6 0 1 0 5.2 0a2.6 2.6 0 1 0 -5.2 0M1451.9 932.8a2.6 2.6 0 1 0 5.2 0a2.6 2.6 0 1 0 -5.2 0M1450.1 937.3a2.6 2.6 0 1 0 5.2 0a2.6 2.6 0 1 0 -5.2 0M1596.2 929.8a2.6 2.6 0 1 0 5.2 0a2.6 2.6 0 1 0 -5.2 0M1437.4 931.2a2.6 2.6 0 1 0 5.2 0a2.6 2.6 0 1 0 -5.2 0M1525.0 936.2a2.6 2.6 0 1 0 5.2 0a2.6 2.6 0 1 0 -5.2 0M1564.3 921.7a2.6 2.6 0 1 0 5.2 0a2.6 2.6 0 1 0 -5.2 0M1485.1 928.3a2.6 2.6 0 1 0 5.2 0a2.6 2.6 0 1 0 -5.2 0M1456.3 935.9a2.6 2.6 0 1 0 5.2 0a2.6 2.6 0 1 0 -5.2 0M1580.0 929.6a2.6 2.6 0 1 0 5.2 0a2.6 2.6 0 1 0 -5.2 0M1482.3 925.7a2.6 2.6 0 1 0 5.2 0a2.6 2.6 0 1 0 -5.2 0M1525.1 925.5a2.6 2.6 0 1 0 5.2 0a2.6 2.6 0 1 0 -5.2 0M1565.0 938.2a2.6 2.6 0 1 0 5.2 0a2.6 2.6 0 1 0 -5.2 0M1483.4 947.0a2.6 2.6 0 1 0 5.2 0a2.6 2.6 0 1 0 -5.2 0M1580.3 947.2a2.6 2.6 0 1 0 5.2 0a2.6 2.6 0 1 0 -5.2 0M1434.2 941.6a2.6 2.6 0 1 0 5.2 0a2.6 2.6 0 1 0 -5.2 0M1444.1 943.6a2.6 2.6 0 1 0 5.2 0a2.6 2.6 0 1 0 -5.2 0M1545.7 941.1a2.6 2.6 0 1 0 5.2 0a2.6 2.6 0 1 0 -5.2 0M1574.7 939.6a2.6 2.6 0 1 0 5.2 0a2.6 2.6 0 1 0 -5.2 0M1576.9 928.2a2.6 2.6 0 1 0 5.2 0a2.6 2.6 0 1 0 -5.2 0M1467.1 935.6a2.6 2.6 0 1 0 5.2 0a2.6 2.6 0 1 0 -5.2 0M1542.3 945.5a2.6 2.6 0 1 0 5.2 0a2.6 2.6 0 1 0 -5.2 0M1426.0 926.4a2.6 2.6 0 1 0 5.2 0a2.6 2.6 0 1 0 -5.2 0M1422.0 944.9a2.6 2.6 0 1 0 5.2 0a2.6 2.6 0 1 0 -5.2 0M1443.3 901.9a2.6 2.6 0 1 0 5.2 0a2.6 2.6 0 1 0 -5.2 0M1537.5 906.3a2.6 2.6 0 1 0 5.2 0a2.6 2.6 0 1 0 -5.2 0M1510.1 898.8a2.6 2.6 0 1 0 5.2 0a2.6 2.6 0 1 0 -5.2 0M1457.4 902.1a2.6 2.6 0 1 0 5.2 0a2.6 2.6 0 1 0 -5.2 0M1472.5 909.3a2.6 2.6 0 1 0 5.2 0a2.6 2.6 0 1 0 -5.2 0M1544.6 907.4a2.6 2.6 0 1 0 5.2 0a2.6 2.6 0 1 0 -5.2 0M1524.6 904.1a2.6 2.6 0 1 0 5.2 0a2.6 2.6 0 1 0 -5.2 0M1429.2 907.7a2.6 2.6 0 1 0 5.2 0a2.6 2.6 0 1 0 -5.2 0M1492.7 902.2a2.6 2.6 0 1 0 5.2 0a2.6 2.6 0 1 0 -5.2 0M1561.1 907.1a2.6 2.6 0 1 0 5.2 0a2.6 2.6 0 1 0 -5.2 0M1491.2 902.9a2.6 2.6 0 1 0 5.2 0a2.6 2.6 0 1 0 -5.2 0M1553.0 913.8a2.6 2.6 0 1 0 5.2 0a2.6 2.6 0 1 0 -5.2 0M1566.5 901.4a2.6 2.6 0 1 0 5.2 0a2.6 2.6 0 1 0 -5.2 0M1471.0 904.4a2.6 2.6 0 1 0 5.2 0a2.6 2.6 0 1 0 -5.2 0M1506.3 909.3a2.6 2.6 0 1 0 5.2 0a2.6 2.6 0 1 0 -5.2 0M1431.0 906.0a2.6 2.6 0 1 0 5.2 0a2.6 2.6 0 1 0 -5.2 0M1552.0 960.9a2.6 2.6 0 1 0 5.2 0a2.6 2.6 0 1 0 -5.2 0M1535.9 962.7a2.6 2.6 0 1 0 5.2 0a2.6 2.6 0 1 0 -5.2 0M1570.1 958.7a2.6 2.6 0 1 0 5.2 0a2.6 2.6 0 1 0 -5.2 0M1509.3 963.6a2.6 2.6 0 1 0 5.2 0a2.6 2.6 0 1 0 -5.2 0M1419.7 961.0a2.6 2.6 0 1 0 5.2 0a2.6 2.6 0 1 0 -5.2 0M1464.4 964.7a2.6 2.6 0 1 0 5.2 0a2.6 2.6 0 1 0 -5.2 0M1476.7 956.6a2.6 2.6 0 1 0 5.2 0a2.6 2.6 0 1 0 -5.2 0M1513.4 959.1a2.6 2.6 0 1 0 5.2 0a2.6 2.6 0 1 0 -5.2 0M1497.5 961.7a2.6 2.6 0 1 0 5.2 0a2.6 2.6 0 1 0 -5.2 0M1449.3 960.0a2.6 2.6 0 1 0 5.2 0a2.6 2.6 0 1 0 -5.2 0M1238.8 871.9a2.6 2.6 0 1 0 5.2 0a2.6 2.6 0 1 0 -5.2 0M1508.3 880.3a2.6 2.6 0 1 0 5.2 0a2.6 2.6 0 1 0 -5.2 0M1406.7 898.0a2.6 2.6 0 1 0 5.2 0a2.6 2.6 0 1 0 -5.2 0M1375.8 855.5a2.6 2.6 0 1 0 5.2 0a2.6 2.6 0 1 0 -5.2 0M1604.5 1018.8a2.6 2.6 0 1 0 5.2 0a2.6 2.6 0 1 0 -5.2 0M1240.6 980.4a2.6 2.6 0 1 0 5.2 0a2.6 2.6 0 1 0 -5.2 0M1528.3 966.4a2.6 2.6 0 1 0 5.2 0a2.6 2.6 0 1 0 -5.2 0M1368.6 876.4a2.6 2.6 0 1 0 5.2 0a2.6 2.6 0 1 0 -5.2 0M1369.5 883.3a2.6 2.6 0 1 0 5.2 0a2.6 2.6 0 1 0 -5.2 0M1437.6 900.4a2.6 2.6 0 1 0 5.2 0a2.6 2.6 0 1 0 -5.2 0M1557.3 896.5a2.6 2.6 0 1 0 5.2 0a2.6 2.6 0 1 0 -5.2 0" fill="#d4d4d4" stroke="#b9b9b9" stroke-width="1.8"/>
<rect x="1329.3" y="690.0" width="15.8" height="328.6" fill="#9bd488" opacity="0.8"/>
<path d="M1240.3 942.0C1240.7 943.6 1242.0 949.1 1242.9 951.8C1243.8 954.6 1244.8 957.7 1245.7 959.0C1246.7 960.3 1248.0 960.4 1249.0 959.9C1250.1 959.5 1251.2 959.4 1252.3 956.2C1253.3 953.0 1254.5 944.4 1255.6 939.8C1256.6 935.3 1258.0 929.6 1258.8 927.8C1259.7 926.1 1260.2 927.2 1261.0 928.9C1261.9 930.7 1263.3 936.8 1264.3 938.7C1265.3 940.7 1266.5 940.4 1267.6 940.9C1268.6 941.4 1269.5 942.4 1270.9 942.0C1272.2 941.7 1274.9 938.0 1276.3 938.7C1277.7 939.4 1278.4 943.8 1279.6 946.4C1280.8 948.9 1282.6 953.3 1284.0 954.7C1285.3 956.1 1286.6 955.3 1288.3 955.1C1290.1 954.9 1293.1 953.1 1294.9 953.4C1296.6 953.6 1297.7 955.2 1299.2 956.9C1300.8 958.5 1303.1 964.2 1304.7 963.8C1306.3 963.5 1307.9 956.8 1309.1 954.7C1310.2 952.6 1310.9 950.5 1311.9 950.7C1312.9 951.0 1314.4 955.9 1315.6 956.2C1316.8 956.6 1318.2 952.1 1319.3 952.9C1320.5 953.8 1321.8 961.0 1322.8 961.7C1323.8 962.4 1324.7 967.4 1325.4 957.3C1326.1 947.2 1326.6 921.7 1327.2 898.3C1327.8 874.9 1328.7 834.4 1329.4 811.0C1330.1 787.6 1330.9 762.5 1331.6 752.1C1332.2 741.6 1333.0 745.5 1333.7 745.5C1334.4 745.5 1335.3 744.4 1335.9 752.1C1336.5 759.7 1336.7 785.9 1337.4 793.5C1338.1 801.2 1339.4 796.6 1340.3 800.1C1341.2 803.6 1342.1 808.4 1342.9 815.4C1343.7 822.4 1344.4 834.0 1345.1 843.8C1345.8 853.5 1346.6 866.4 1347.3 876.5C1348.0 886.6 1348.8 900.8 1349.5 907.1C1350.2 913.4 1350.8 913.5 1351.6 915.8C1352.5 918.1 1353.9 919.5 1354.9 921.3C1356.0 923.0 1357.0 926.2 1358.2 926.7C1359.4 927.2 1361.2 923.3 1362.6 924.5C1364.0 925.8 1365.5 933.7 1366.9 934.4C1368.3 935.1 1369.7 931.4 1371.3 928.9C1372.9 926.5 1375.3 921.2 1376.7 919.1C1378.2 917.0 1379.5 914.9 1380.5 915.8C1381.4 916.7 1381.8 920.3 1382.6 924.5C1383.4 928.7 1384.7 937.8 1385.5 942.0C1386.3 946.2 1386.4 949.9 1387.7 950.7C1388.9 951.6 1391.6 947.3 1393.1 947.5C1394.7 947.6 1395.7 950.1 1397.5 951.8C1399.2 953.6 1402.3 958.7 1404.0 958.4C1405.8 958.0 1407.0 950.3 1408.4 949.7C1409.8 949.0 1411.6 952.5 1412.8 954.0C1414.0 955.5 1414.9 958.8 1416.0 959.0C1417.2 959.3 1418.6 958.1 1420.0 955.8C1421.4 953.5 1423.0 947.5 1424.6 944.4C1426.1 941.3 1428.0 937.5 1429.7 936.5C1431.3 935.5 1433.2 938.6 1434.8 938.2C1436.3 937.7 1437.8 933.9 1439.3 933.6C1440.9 933.3 1442.8 935.4 1444.5 936.5C1446.1 937.6 1448.0 941.2 1449.6 940.4C1451.1 939.7 1453.0 933.8 1454.1 931.9C1455.2 930.0 1455.6 928.6 1456.4 928.5C1457.2 928.4 1458.2 930.2 1459.2 931.3C1460.3 932.5 1461.9 935.2 1463.2 935.9C1464.6 936.6 1466.3 936.0 1467.8 935.9C1469.2 935.8 1470.7 935.1 1472.3 935.3C1474.0 935.5 1476.4 936.6 1478.0 937.0C1479.7 937.5 1481.2 937.3 1482.6 938.2C1483.9 939.0 1485.4 941.0 1486.6 942.2C1487.7 943.3 1488.9 945.6 1490.0 945.6C1491.1 945.6 1492.2 943.8 1493.4 942.2C1494.6 940.5 1496.2 936.9 1497.4 935.3C1498.5 933.8 1499.7 932.8 1500.8 932.5C1501.9 932.1 1502.9 933.4 1504.2 933.0C1505.5 932.7 1507.3 930.2 1508.7 930.2C1510.2 930.2 1512.0 931.9 1513.3 933.0C1514.6 934.2 1515.6 937.5 1516.7 937.6C1517.8 937.7 1519.0 934.2 1520.1 933.6C1521.2 933.1 1522.5 933.2 1523.5 934.2C1524.5 935.2 1525.6 938.1 1526.4 939.9C1527.2 941.6 1527.7 945.2 1528.6 945.0C1529.6 944.8 1531.1 939.9 1532.1 938.7C1533.1 937.6 1533.9 937.7 1534.9 937.6C1535.9 937.5 1537.0 938.5 1538.3 938.2C1539.6 937.8 1541.4 935.2 1542.9 935.3C1544.3 935.4 1546.0 938.8 1547.4 938.7C1548.9 938.6 1550.5 936.1 1552.0 934.8C1553.4 933.4 1555.4 931.0 1556.5 930.2C1557.6 929.4 1557.7 928.5 1558.8 929.6C1559.9 930.8 1562.0 935.3 1563.3 937.6C1564.7 939.9 1566.1 943.7 1567.3 943.9C1568.6 944.0 1569.9 940.5 1571.3 938.7C1572.7 937.0 1574.5 934.5 1575.9 933.0C1577.2 931.6 1578.7 929.8 1579.8 929.6C1580.9 929.5 1581.7 930.3 1582.7 931.9C1583.7 933.5 1585.0 938.2 1586.1 939.9C1587.2 941.5 1588.1 942.2 1589.5 942.2C1591.0 942.1 1593.4 940.2 1595.2 939.3C1597.0 938.4 1599.6 935.3 1600.9 936.5C1602.2 937.6 1602.5 942.3 1603.2 946.7C1603.8 951.1 1604.2 956.9 1604.9 963.8C1605.5 970.6 1606.8 985.3 1607.1 989.4" fill="none" stroke="#000" stroke-width="5.7" stroke-linejoin="round" stroke-linecap="round"/>
<line x1="1239.5" y1="854.4" x2="1594.5" y2="854.4" stroke="#2f3c88" stroke-width="2.3" stroke-dasharray="8.8 14.2" stroke-linecap="round"/>
<line x1="1239.5" y1="963.1" x2="1594.5" y2="963.1" stroke="#2f3c88" stroke-width="2.3" stroke-dasharray="8.8 14.2" stroke-linecap="round"/>
<line x1="1334.2" y1="1017.4" x2="1334.2" y2="745.0" stroke="#e0282e" stroke-width="3.1" stroke-dasharray="7.2 15.2" stroke-linecap="round"/>
<rect x="1225.2" y="676.4" width="397.3" height="355.5" fill="none" stroke="#000" stroke-width="3"/>
<line x1="1217.6" y1="1018.8" x2="1225.2" y2="1018.8" stroke="#000" stroke-width="2.5"/>
<text x="1208.8" y="1018.8" transform="rotate(-90 1208.8 1018.8)" font-size="11.3" text-anchor="middle" style="font-weight:normal;stroke-width:.15px;">0</text>
<line x1="1217.6" y1="958.9" x2="1225.2" y2="958.9" stroke="#000" stroke-width="2.5"/>
<text x="1208.8" y="958.9" transform="rotate(-90 1208.8 958.9)" font-size="11.3" text-anchor="middle" style="font-weight:normal;stroke-width:.15px;">200</text>
<line x1="1217.6" y1="898.9" x2="1225.2" y2="898.9" stroke="#000" stroke-width="2.5"/>
<text x="1208.8" y="898.9" transform="rotate(-90 1208.8 898.9)" font-size="11.3" text-anchor="middle" style="font-weight:normal;stroke-width:.15px;">400</text>
<line x1="1217.6" y1="839.0" x2="1225.2" y2="839.0" stroke="#000" stroke-width="2.5"/>
<text x="1208.8" y="839.0" transform="rotate(-90 1208.8 839.0)" font-size="11.3" text-anchor="middle" style="font-weight:normal;stroke-width:.15px;">600</text>
<line x1="1217.6" y1="779.0" x2="1225.2" y2="779.0" stroke="#000" stroke-width="2.5"/>
<text x="1208.8" y="779.0" transform="rotate(-90 1208.8 779.0)" font-size="11.3" text-anchor="middle" style="font-weight:normal;stroke-width:.15px;">800</text>
<line x1="1217.6" y1="719.1" x2="1225.2" y2="719.1" stroke="#000" stroke-width="2.5"/>
<text x="1208.8" y="719.1" transform="rotate(-90 1208.8 719.1)" font-size="11.3" text-anchor="middle" style="font-weight:normal;stroke-width:.15px;">1000</text>
<line x1="1240.5" y1="1031.9" x2="1240.5" y2="1039.9" stroke="#000" stroke-width="2.5"/>
<text x="1240.5" y="1056.5" font-size="11.3" text-anchor="middle" style="font-weight:normal;stroke-width:.15px;">0.0</text>
<line x1="1331.2" y1="1031.9" x2="1331.2" y2="1039.9" stroke="#000" stroke-width="2.5"/>
<text x="1331.2" y="1056.5" font-size="11.3" text-anchor="middle" style="font-weight:normal;stroke-width:.15px;">0.5</text>
<line x1="1422.0" y1="1031.9" x2="1422.0" y2="1039.9" stroke="#000" stroke-width="2.5"/>
<text x="1422.0" y="1056.5" font-size="11.3" text-anchor="middle" style="font-weight:normal;stroke-width:.15px;">1.0</text>
<line x1="1512.8" y1="1031.9" x2="1512.8" y2="1039.9" stroke="#000" stroke-width="2.5"/>
<text x="1512.8" y="1056.5" font-size="11.3" text-anchor="middle" style="font-weight:normal;stroke-width:.15px;">1.5</text>
<line x1="1603.5" y1="1031.9" x2="1603.5" y2="1039.9" stroke="#000" stroke-width="2.5"/>
<text x="1603.5" y="1056.5" font-size="11.3" text-anchor="middle" style="font-weight:normal;stroke-width:.15px;">2.0</text>
<text x="1186.8" y="861.7" transform="rotate(-90 1186.8 861.7)" font-size="22.5" text-anchor="middle" textLength="148.0" lengthAdjust="spacingAndGlyphs">SHG Intensity</text>
<text x="1266.7" y="1081.6" font-size="22.6" text-anchor="start" textLength="316.6" lengthAdjust="spacing">Distance / Spheroid Diameter</text>
<path d="M1937.1 969.6a2.6 2.6 0 1 0 5.2 0a2.6 2.6 0 1 0 -5.2 0M2055.0 919.8a2.6 2.6 0 1 0 5.2 0a2.6 2.6 0 1 0 -5.2 0M1967.0 918.8a2.6 2.6 0 1 0 5.2 0a2.6 2.6 0 1 0 -5.2 0M1891.0 986.1a2.6 2.6 0 1 0 5.2 0a2.6 2.6 0 1 0 -5.2 0M1838.1 933.4a2.6 2.6 0 1 0 5.2 0a2.6 2.6 0 1 0 -5.2 0M1998.0 944.3a2.6 2.6 0 1 0 5.2 0a2.6 2.6 0 1 0 -5.2 0M2068.7 910.7a2.6 2.6 0 1 0 5.2 0a2.6 2.6 0 1 0 -5.2 0M2087.8 955.9a2.6 2.6 0 1 0 5.2 0a2.6 2.6 0 1 0 -5.2 0M1772.5 1019.3a2.6 2.6 0 1 0 5.2 0a2.6 2.6 0 1 0 -5.2 0M1834.4 938.1a2.6 2.6 0 1 0 5.2 0a2.6 2.6 0 1 0 -5.2 0M1852.0 954.0a2.6 2.6 0 1 0 5.2 0a2.6 2.6 0 1 0 -5.2 0M1933.1 971.8a2.6 2.6 0 1 0 5.2 0a2.6 2.6 0 1 0 -5.2 0M1748.4 1008.8a2.6 2.6 0 1 0 5.2 0a2.6 2.6 0 1 0 -5.2 0M1798.2 980.6a2.6 2.6 0 1 0 5.2 0a2.6 2.6 0 1 0 -5.2 0M1925.6 966.5a2.6 2.6 0 1 0 5.2 0a2.6 2.6 0 1 0 -5.2 0M1753.0 989.3a2.6 2.6 0 1 0 5.2 0a2.6 2.6 0 1 0 -5.2 0M2048.4 921.4a2.6 2.6 0 1 0 5.2 0a2.6 2.6 0 1 0 -5.2 0M2054.3 927.8a2.6 2.6 0 1 0 5.2 0a2.6 2.6 0 1 0 -5.2 0M1909.3 995.7a2.6 2.6 0 1 0 5.2 0a2.6 2.6 0 1 0 -5.2 0M1995.7 959.0a2.6 2.6 0 1 0 5.2 0a2.6 2.6 0 1 0 -5.2 0M1913.8 1003.7a2.6 2.6 0 1 0 5.2 0a2.6 2.6 0 1 0 -5.2 0M1734.8 983.4a2.6 2.6 0 1 0 5.2 0a2.6 2.6 0 1 0 -5.2 0M1817.3 955.5a2.6 2.6 0 1 0 5.2 0a2.6 2.6 0 1 0 -5.2 0M1956.7 940.7a2.6 2.6 0 1 0 5.2 0a2.6 2.6 0 1 0 -5.2 0M2033.1 946.0a2.6 2.6 0 1 0 5.2 0a2.6 2.6 0 1 0 -5.2 0M2003.4 901.4a2.6 2.6 0 1 0 5.2 0a2.6 2.6 0 1 0 -5.2 0M2040.1 886.3a2.6 2.6 0 1 0 5.2 0a2.6 2.6 0 1 0 -5.2 0M1826.7 955.6a2.6 2.6 0 1 0 5.2 0a2.6 2.6 0 1 0 -5.2 0M2076.8 935.4a2.6 2.6 0 1 0 5.2 0a2.6 2.6 0 1 0 -5.2 0M2011.3 947.2a2.6 2.6 0 1 0 5.2 0a2.6 2.6 0 1 0 -5.2 0M2072.8 919.1a2.6 2.6 0 1 0 5.2 0a2.6 2.6 0 1 0 -5.2 0M1847.4 928.1a2.6 2.6 0 1 0 5.2 0a2.6 2.6 0 1 0 -5.2 0M1862.1 983.8a2.6 2.6 0 1 0 5.2 0a2.6 2.6 0 1 0 -5.2 0M2004.9 880.5a2.6 2.6 0 1 0 5.2 0a2.6 2.6 0 1 0 -5.2 0M1954.9 950.9a2.6 2.6 0 1 0 5.2 0a2.6 2.6 0 1 0 -5.2 0M1909.6 998.9a2.6 2.6 0 1 0 5.2 0a2.6 2.6 0 1 0 -5.2 0M1757.4 1014.2a2.6 2.6 0 1 0 5.2 0a2.6 2.6 0 1 0 -5.2 0M1775.1 1010.9a2.6 2.6 0 1 0 5.2 0a2.6 2.6 0 1 0 -5.2 0M1896.5 990.9a2.6 2.6 0 1 0 5.2 0a2.6 2.6 0 1 0 -5.2 0M1851.3 939.5a2.6 2.6 0 1 0 5.2 0a2.6 2.6 0 1 0 -5.2 0M1730.4 1014.2a2.6 2.6 0 1 0 5.2 0a2.6 2.6 0 1 0 -5.2 0M1831.0 945.1a2.6 2.6 0 1 0 5.2 0a2.6 2.6 0 1 0 -5.2 0M2087.2 974.9a2.6 2.6 0 1 0 5.2 0a2.6 2.6 0 1 0 -5.2 0M2079.2 965.8a2.6 2.6 0 1 0 5.2 0a2.6 2.6 0 1 0 -5.2 0M1742.4 1006.5a2.6 2.6 0 1 0 5.2 0a2.6 2.6 0 1 0 -5.2 0M1869.2 970.7a2.6 2.6 0 1 0 5.2 0a2.6 2.6 0 1 0 -5.2 0M1800.6 988.9a2.6 2.6 0 1 0 5.2 0a2.6 2.6 0 1 0 -5.2 0M2026.2 944.8a2.6 2.6 0 1 0 5.2 0a2.6 2.6 0 1 0 -5.2 0M1813.5 940.6a2.6 2.6 0 1 0 5.2 0a2.6 2.6 0 1 0 -5.2 0M2022.0 936.2a2.6 2.6 0 1 0 5.2 0a2.6 2.6 0 1 0 -5.2 0M1785.4 989.9a2.6 2.6 0 1 0 5.2 0a2.6 2.6 0 1 0 -5.2 0M1829.4 968.1a2.6 2.6 0 1 0 5.2 0a2.6 2.6 0 1 0 -5.2 0M1834.3 968.8a2.6 2.6 0 1 0 5.2 0a2.6 2.6 0 1 0 -5.2 0M1760.9 999.9a2.6 2.6 0 1 0 5.2 0a2.6 2.6 0 1 0 -5.2 0M2058.1 910.7a2.6 2.6 0 1 0 5.2 0a2.6 2.6 0 1 0 -5.2 0M2093.1 976.1a2.6 2.6 0 1 0 5.2 0a2.6 2.6 0 1 0 -5.2 0M1841.5 934.8a2.6 2.6 0 1 0 5.2 0a2.6 2.6 0 1 0 -5.2 0M2064.1 916.3a2.6 2.6 0 1 0 5.2 0a2.6 2.6 0 1 0 -5.2 0M1839.3 931.8a2.6 2.6 0 1 0 5.2 0a2.6 2.6 0 1 0 -5.2 0M2049.5 962.1a2.6 2.6 0 1 0 5.2 0a2.6 2.6 0 1 0 -5.2 0M1892.9 990.6a2.6 2.6 0 1 0 5.2 0a2.6 2.6 0 1 0 -5.2 0M2070.7 910.9a2.6 2.6 0 1 0 5.2 0a2.6 2.6 0 1 0 -5.2 0M1928.5 968.5a2.6 2.6 0 1 0 5.2 0a2.6 2.6 0 1 0 -5.2 0M1966.4 956.1a2.6 2.6 0 1 0 5.2 0a2.6 2.6 0 1 0 -5.2 0M1856.3 942.3a2.6 2.6 0 1 0 5.2 0a2.6 2.6 0 1 0 -5.2 0M1738.7 982.9a2.6 2.6 0 1 0 5.2 0a2.6 2.6 0 1 0 -5.2 0M2059.4 934.5a2.6 2.6 0 1 0 5.2 0a2.6 2.6 0 1 0 -5.2 0M1858.2 964.7a2.6 2.6 0 1 0 5.2 0a2.6 2.6 0 1 0 -5.2 0M1929.6 963.3a2.6 2.6 0 1 0 5.2 0a2.6 2.6 0 1 0 -5.2 0M1756.2 1006.3a2.6 2.6 0 1 0 5.2 0a2.6 2.6 0 1 0 -5.2 0M1793.2 988.1a2.6 2.6 0 1 0 5.2 0a2.6 2.6 0 1 0 -5.2 0M2025.2 939.2a2.6 2.6 0 1 0 5.2 0a2.6 2.6 0 1 0 -5.2 0M1836.4 928.7a2.6 2.6 0 1 0 5.2 0a2.6 2.6 0 1 0 -5.2 0M1750.5 1002.8a2.6 2.6 0 1 0 5.2 0a2.6 2.6 0 1 0 -5.2 0M1844.9 968.7a2.6 2.6 0 1 0 5.2 0a2.6 2.6 0 1 0 -5.2 0M1788.3 992.8a2.6 2.6 0 1 0 5.2 0a2.6 2.6 0 1 0 -5.2 0M1787.9 1002.2a2.6 2.6 0 1 0 5.2 0a2.6 2.6 0 1 0 -5.2 0M1731.5 1015.4a2.6 2.6 0 1 0 5.2 0a2.6 2.6 0 1 0 -5.2 0M1851.2 951.8a2.6 2.6 0 1 0 5.2 0a2.6 2.6 0 1 0 -5.2 0M1854.8 945.1a2.6 2.6 0 1 0 5.2 0a2.6 2.6 0 1 0 -5.2 0M1971.9 941.1a2.6 2.6 0 1 0 5.2 0a2.6 2.6 0 1 0 -5.2 0M2008.8 943.5a2.6 2.6 0 1 0 5.2 0a2.6 2.6 0 1 0 -5.2 0M1959.0 939.3a2.6 2.6 0 1 0 5.2 0a2.6 2.6 0 1 0 -5.2 0M2072.0 931.7a2.6 2.6 0 1 0 5.2 0a2.6 2.6 0 1 0 -5.2 0M1999.6 937.1a2.6 2.6 0 1 0 5.2 0a2.6 2.6 0 1 0 -5.2 0M2050.7 922.3a2.6 2.6 0 1 0 5.2 0a2.6 2.6 0 1 0 -5.2 0M1982.0 942.1a2.6 2.6 0 1 0 5.2 0a2.6 2.6 0 1 0 -5.2 0M1859.1 993.6a2.6 2.6 0 1 0 5.2 0a2.6 2.6 0 1 0 -5.2 0M2061.9 933.4a2.6 2.6 0 1 0 5.2 0a2.6 2.6 0 1 0 -5.2 0M2033.4 936.5a2.6 2.6 0 1 0 5.2 0a2.6 2.6 0 1 0 -5.2 0M1744.3 993.8a2.6 2.6 0 1 0 5.2 0a2.6 2.6 0 1 0 -5.2 0M1980.3 938.8a2.6 2.6 0 1 0 5.2 0a2.6 2.6 0 1 0 -5.2 0M1918.9 977.6a2.6 2.6 0 1 0 5.2 0a2.6 2.6 0 1 0 -5.2 0M1799.6 1000.2a2.6 2.6 0 1 0 5.2 0a2.6 2.6 0 1 0 -5.2 0M1966.7 955.7a2.6 2.6 0 1 0 5.2 0a2.6 2.6 0 1 0 -5.2 0M1932.8 945.8a2.6 2.6 0 1 0 5.2 0a2.6 2.6 0 1 0 -5.2 0M1821.4 964.5a2.6 2.6 0 1 0 5.2 0a2.6 2.6 0 1 0 -5.2 0M1824.8 966.9a2.6 2.6 0 1 0 5.2 0a2.6 2.6 0 1 0 -5.2 0M1928.7 969.0a2.6 2.6 0 1 0 5.2 0a2.6 2.6 0 1 0 -5.2 0M1791.3 1016.0a2.6 2.6 0 1 0 5.2 0a2.6 2.6 0 1 0 -5.2 0M2015.2 900.5a2.6 2.6 0 1 0 5.2 0a2.6 2.6 0 1 0 -5.2 0M2013.4 961.0a2.6 2.6 0 1 0 5.2 0a2.6 2.6 0 1 0 -5.2 0M1867.2 990.6a2.6 2.6 0 1 0 5.2 0a2.6 2.6 0 1 0 -5.2 0M2048.4 906.5a2.6 2.6 0 1 0 5.2 0a2.6 2.6 0 1 0 -5.2 0M1954.9 958.6a2.6 2.6 0 1 0 5.2 0a2.6 2.6 0 1 0 -5.2 0M1795.4 996.8a2.6 2.6 0 1 0 5.2 0a2.6 2.6 0 1 0 -5.2 0M1748.2 1010.8a2.6 2.6 0 1 0 5.2 0a2.6 2.6 0 1 0 -5.2 0M1757.8 1010.3a2.6 2.6 0 1 0 5.2 0a2.6 2.6 0 1 0 -5.2 0M1963.3 961.7a2.6 2.6 0 1 0 5.2 0a2.6 2.6 0 1 0 -5.2 0M2049.1 917.0a2.6 2.6 0 1 0 5.2 0a2.6 2.6 0 1 0 -5.2 0M1787.0 1004.7a2.6 2.6 0 1 0 5.2 0a2.6 2.6 0 1 0 -5.2 0M2024.9 927.7a2.6 2.6 0 1 0 5.2 0a2.6 2.6 0 1 0 -5.2 0M1884.2 982.3a2.6 2.6 0 1 0 5.2 0a2.6 2.6 0 1 0 -5.2 0M1891.6 960.6a2.6 2.6 0 1 0 5.2 0a2.6 2.6 0 1 0 -5.2 0M1803.0 986.4a2.6 2.6 0 1 0 5.2 0a2.6 2.6 0 1 0 -5.2 0M1733.8 1002.2a2.6 2.6 0 1 0 5.2 0a2.6 2.6 0 1 0 -5.2 0M1985.1 950.4a2.6 2.6 0 1 0 5.2 0a2.6 2.6 0 1 0 -5.2 0M1775.9 1016.5a2.6 2.6 0 1 0 5.2 0a2.6 2.6 0 1 0 -5.2 0M1786.3 999.8a2.6 2.6 0 1 0 5.2 0a2.6 2.6 0 1 0 -5.2 0M2014.5 935.1a2.6 2.6 0 1 0 5.2 0a2.6 2.6 0 1 0 -5.2 0M2052.0 960.4a2.6 2.6 0 1 0 5.2 0a2.6 2.6 0 1 0 -5.2 0M2001.1 932.8a2.6 2.6 0 1 0 5.2 0a2.6 2.6 0 1 0 -5.2 0M2024.6 950.5a2.6 2.6 0 1 0 5.2 0a2.6 2.6 0 1 0 -5.2 0M1896.2 1001.5a2.6 2.6 0 1 0 5.2 0a2.6 2.6 0 1 0 -5.2 0M1727.8 1019.3a2.6 2.6 0 1 0 5.2 0a2.6 2.6 0 1 0 -5.2 0M2057.5 950.8a2.6 2.6 0 1 0 5.2 0a2.6 2.6 0 1 0 -5.2 0M1847.0 927.0a2.6 2.6 0 1 0 5.2 0a2.6 2.6 0 1 0 -5.2 0M1879.9 991.2a2.6 2.6 0 1 0 5.2 0a2.6 2.6 0 1 0 -5.2 0M1909.8 990.1a2.6 2.6 0 1 0 5.2 0a2.6 2.6 0 1 0 -5.2 0M1940.7 953.5a2.6 2.6 0 1 0 5.2 0a2.6 2.6 0 1 0 -5.2 0M1863.8 980.1a2.6 2.6 0 1 0 5.2 0a2.6 2.6 0 1 0 -5.2 0M1860.5 966.0a2.6 2.6 0 1 0 5.2 0a2.6 2.6 0 1 0 -5.2 0M1825.1 958.8a2.6 2.6 0 1 0 5.2 0a2.6 2.6 0 1 0 -5.2 0M2035.5 927.0a2.6 2.6 0 1 0 5.2 0a2.6 2.6 0 1 0 -5.2 0M2077.3 932.9a2.6 2.6 0 1 0 5.2 0a2.6 2.6 0 1 0 -5.2 0M1843.0 938.1a2.6 2.6 0 1 0 5.2 0a2.6 2.6 0 1 0 -5.2 0M1846.0 931.5a2.6 2.6 0 1 0 5.2 0a2.6 2.6 0 1 0 -5.2 0M2019.3 902.8a2.6 2.6 0 1 0 5.2 0a2.6 2.6 0 1 0 -5.2 0M2092.2 975.0a2.6 2.6 0 1 0 5.2 0a2.6 2.6 0 1 0 -5.2 0M1846.3 966.8a2.6 2.6 0 1 0 5.2 0a2.6 2.6 0 1 0 -5.2 0M2006.9 948.7a2.6 2.6 0 1 0 5.2 0a2.6 2.6 0 1 0 -5.2 0M2078.8 935.6a2.6 2.6 0 1 0 5.2 0a2.6 2.6 0 1 0 -5.2 0M2072.4 937.7a2.6 2.6 0 1 0 5.2 0a2.6 2.6 0 1 0 -5.2 0M1879.0 997.8a2.6 2.6 0 1 0 5.2 0a2.6 2.6 0 1 0 -5.2 0M1864.8 990.3a2.6 2.6 0 1 0 5.2 0a2.6 2.6 0 1 0 -5.2 0M1876.2 993.7a2.6 2.6 0 1 0 5.2 0a2.6 2.6 0 1 0 -5.2 0M1861.2 977.4a2.6 2.6 0 1 0 5.2 0a2.6 2.6 0 1 0 -5.2 0M1808.9 976.3a2.6 2.6 0 1 0 5.2 0a2.6 2.6 0 1 0 -5.2 0M2062.2 938.5a2.6 2.6 0 1 0 5.2 0a2.6 2.6 0 1 0 -5.2 0M1771.5 1018.9a2.6 2.6 0 1 0 5.2 0a2.6 2.6 0 1 0 -5.2 0M1960.1 960.5a2.6 2.6 0 1 0 5.2 0a2.6 2.6 0 1 0 -5.2 0M2019.9 926.7a2.6 2.6 0 1 0 5.2 0a2.6 2.6 0 1 0 -5.2 0M1838.1 930.2a2.6 2.6 0 1 0 5.2 0a2.6 2.6 0 1 0 -5.2 0M1848.6 956.2a2.6 2.6 0 1 0 5.2 0a2.6 2.6 0 1 0 -5.2 0M2078.4 960.4a2.6 2.6 0 1 0 5.2 0a2.6 2.6 0 1 0 -5.2 0M1764.1 1005.1a2.6 2.6 0 1 0 5.2 0a2.6 2.6 0 1 0 -5.2 0M1813.2 939.6a2.6 2.6 0 1 0 5.2 0a2.6 2.6 0 1 0 -5.2 0M1892.7 993.6a2.6 2.6 0 1 0 5.2 0a2.6 2.6 0 1 0 -5.2 0M2062.6 938.5a2.6 2.6 0 1 0 5.2 0a2.6 2.6 0 1 0 -5.2 0M2069.7 929.6a2.6 2.6 0 1 0 5.2 0a2.6 2.6 0 1 0 -5.2 0M1759.3 1019.3a2.6 2.6 0 1 0 5.2 0a2.6 2.6 0 1 0 -5.2 0M2009.3 955.9a2.6 2.6 0 1 0 5.2 0a2.6 2.6 0 1 0 -5.2 0M2090.5 973.5a2.6 2.6 0 1 0 5.2 0a2.6 2.6 0 1 0 -5.2 0M1897.7 973.4a2.6 2.6 0 1 0 5.2 0a2.6 2.6 0 1 0 -5.2 0M2003.5 910.6a2.6 2.6 0 1 0 5.2 0a2.6 2.6 0 1 0 -5.2 0M2068.7 962.5a2.6 2.6 0 1 0 5.2 0a2.6 2.6 0 1 0 -5.2 0M2000.3 911.8a2.6 2.6 0 1 0 5.2 0a2.6 2.6 0 1 0 -5.2 0M1842.4 925.9a2.6 2.6 0 1 0 5.2 0a2.6 2.6 0 1 0 -5.2 0M1782.4 996.4a2.6 2.6 0 1 0 5.2 0a2.6 2.6 0 1 0 -5.2 0M2031.0 950.3a2.6 2.6 0 1 0 5.2 0a2.6 2.6 0 1 0 -5.2 0M2046.9 918.2a2.6 2.6 0 1 0 5.2 0a2.6 2.6 0 1 0 -5.2 0M2058.9 917.8a2.6 2.6 0 1 0 5.2 0a2.6 2.6 0 1 0 -5.2 0M1924.6 985.5a2.6 2.6 0 1 0 5.2 0a2.6 2.6 0 1 0 -5.2 0M1839.0 950.3a2.6 2.6 0 1 0 5.2 0a2.6 2.6 0 1 0 -5.2 0M1764.3 993.3a2.6 2.6 0 1 0 5.2 0a2.6 2.6 0 1 0 -5.2 0M2019.2 956.5a2.6 2.6 0 1 0 5.2 0a2.6 2.6 0 1 0 -5.2 0M1959.1 946.2a2.6 2.6 0 1 0 5.2 0a2.6 2.6 0 1 0 -5.2 0M1897.8 989.9a2.6 2.6 0 1 0 5.2 0a2.6 2.6 0 1 0 -5.2 0M2077.2 955.0a2.6 2.6 0 1 0 5.2 0a2.6 2.6 0 1 0 -5.2 0M1789.5 1004.1a2.6 2.6 0 1 0 5.2 0a2.6 2.6 0 1 0 -5.2 0M2076.7 938.4a2.6 2.6 0 1 0 5.2 0a2.6 2.6 0 1 0 -5.2 0M1967.0 951.9a2.6 2.6 0 1 0 5.2 0a2.6 2.6 0 1 0 -5.2 0M1938.4 963.7a2.6 2.6 0 1 0 5.2 0a2.6 2.6 0 1 0 -5.2 0M1737.5 1015.1a2.6 2.6 0 1 0 5.2 0a2.6 2.6 0 1 0 -5.2 0M1880.3 992.7a2.6 2.6 0 1 0 5.2 0a2.6 2.6 0 1 0 -5.2 0M1916.8 975.8a2.6 2.6 0 1 0 5.2 0a2.6 2.6 0 1 0 -5.2 0M1987.3 969.6a2.6 2.6 0 1 0 5.2 0a2.6 2.6 0 1 0 -5.2 0M2025.6 952.6a2.6 2.6 0 1 0 5.2 0a2.6 2.6 0 1 0 -5.2 0M1818.8 967.2a2.6 2.6 0 1 0 5.2 0a2.6 2.6 0 1 0 -5.2 0M1774.6 996.9a2.6 2.6 0 1 0 5.2 0a2.6 2.6 0 1 0 -5.2 0M1825.1 955.0a2.6 2.6 0 1 0 5.2 0a2.6 2.6 0 1 0 -5.2 0M1915.6 991.2a2.6 2.6 0 1 0 5.2 0a2.6 2.6 0 1 0 -5.2 0M2021.6 947.8a2.6 2.6 0 1 0 5.2 0a2.6 2.6 0 1 0 -5.2 0M2035.2 897.3a2.6 2.6 0 1 0 5.2 0a2.6 2.6 0 1 0 -5.2 0M2045.7 930.6a2.6 2.6 0 1 0 5.2 0a2.6 2.6 0 1 0 -5.2 0M1783.3 1012.4a2.6 2.6 0 1 0 5.2 0a2.6 2.6 0 1 0 -5.2 0M1734.2 995.2a2.6 2.6 0 1 0 5.2 0a2.6 2.6 0 1 0 -5.2 0M1851.4 949.4a2.6 2.6 0 1 0 5.2 0a2.6 2.6 0 1 0 -5.2 0M1902.6 988.2a2.6 2.6 0 1 0 5.2 0a2.6 2.6 0 1 0 -5.2 0M1839.1 914.7a2.6 2.6 0 1 0 5.2 0a2.6 2.6 0 1 0 -5.2 0M1939.6 936.2a2.6 2.6 0 1 0 5.2 0a2.6 2.6 0 1 0 -5.2 0M1728.9 1005.3a2.6 2.6 0 1 0 5.2 0a2.6 2.6 0 1 0 -5.2 0M1747.1 1008.3a2.6 2.6 0 1 0 5.2 0a2.6 2.6 0 1 0 -5.2 0M1961.5 938.8a2.6 2.6 0 1 0 5.2 0a2.6 2.6 0 1 0 -5.2 0M1913.6 983.4a2.6 2.6 0 1 0 5.2 0a2.6 2.6 0 1 0 -5.2 0M1814.4 964.9a2.6 2.6 0 1 0 5.2 0a2.6 2.6 0 1 0 -5.2 0M1940.7 944.1a2.6 2.6 0 1 0 5.2 0a2.6 2.6 0 1 0 -5.2 0M1859.9 946.3a2.6 2.6 0 1 0 5.2 0a2.6 2.6 0 1 0 -5.2 0M1779.4 1002.0a2.6 2.6 0 1 0 5.2 0a2.6 2.6 0 1 0 -5.2 0M1885.6 974.3a2.6 2.6 0 1 0 5.2 0a2.6 2.6 0 1 0 -5.2 0M1844.6 973.2a2.6 2.6 0 1 0 5.2 0a2.6 2.6 0 1 0 -5.2 0M1914.1 984.0a2.6 2.6 0 1 0 5.2 0a2.6 2.6 0 1 0 -5.2 0M1823.0 963.9a2.6 2.6 0 1 0 5.2 0a2.6 2.6 0 1 0 -5.2 0M1847.2 958.3a2.6 2.6 0 1 0 5.2 0a2.6 2.6 0 1 0 -5.2 0M1839.6 920.5a2.6 2.6 0 1 0 5.2 0a2.6 2.6 0 1 0 -5.2 0M1740.1 987.2a2.6 2.6 0 1 0 5.2 0a2.6 2.6 0 1 0 -5.2 0M2029.0 950.7a2.6 2.6 0 1 0 5.2 0a2.6 2.6 0 1 0 -5.2 0M1809.3 944.6a2.6 2.6 0 1 0 5.2 0a2.6 2.6 0 1 0 -5.2 0M1736.1 991.2a2.6 2.6 0 1 0 5.2 0a2.6 2.6 0 1 0 -5.2 0M2043.4 897.7a2.6 2.6 0 1 0 5.2 0a2.6 2.6 0 1 0 -5.2 0M1793.5 996.0a2.6 2.6 0 1 0 5.2 0a2.6 2.6 0 1 0 -5.2 0M1773.2 1004.9a2.6 2.6 0 1 0 5.2 0a2.6 2.6 0 1 0 -5.2 0M1760.0 1003.8a2.6 2.6 0 1 0 5.2 0a2.6 2.6 0 1 0 -5.2 0M1943.4 931.8a2.6 2.6 0 1 0 5.2 0a2.6 2.6 0 1 0 -5.2 0M1972.8 942.9a2.6 2.6 0 1 0 5.2 0a2.6 2.6 0 1 0 -5.2 0M2004.7 894.7a2.6 2.6 0 1 0 5.2 0a2.6 2.6 0 1 0 -5.2 0M1805.3 982.8a2.6 2.6 0 1 0 5.2 0a2.6 2.6 0 1 0 -5.2 0M2067.2 889.7a2.6 2.6 0 1 0 5.2 0a2.6 2.6 0 1 0 -5.2 0M2039.8 914.7a2.6 2.6 0 1 0 5.2 0a2.6 2.6 0 1 0 -5.2 0M2036.5 861.5a2.6 2.6 0 1 0 5.2 0a2.6 2.6 0 1 0 -5.2 0M1737.9 970.4a2.6 2.6 0 1 0 5.2 0a2.6 2.6 0 1 0 -5.2 0M1969.0 950.3a2.6 2.6 0 1 0 5.2 0a2.6 2.6 0 1 0 -5.2 0M1908.7 1000.6a2.6 2.6 0 1 0 5.2 0a2.6 2.6 0 1 0 -5.2 0M2084.8 955.6a2.6 2.6 0 1 0 5.2 0a2.6 2.6 0 1 0 -5.2 0M1984.9 955.7a2.6 2.6 0 1 0 5.2 0a2.6 2.6 0 1 0 -5.2 0M1810.5 967.5a2.6 2.6 0 1 0 5.2 0a2.6 2.6 0 1 0 -5.2 0M2020.3 929.5a2.6 2.6 0 1 0 5.2 0a2.6 2.6 0 1 0 -5.2 0M1894.3 986.3a2.6 2.6 0 1 0 5.2 0a2.6 2.6 0 1 0 -5.2 0M1965.0 958.1a2.6 2.6 0 1 0 5.2 0a2.6 2.6 0 1 0 -5.2 0M1856.5 955.6a2.6 2.6 0 1 0 5.2 0a2.6 2.6 0 1 0 -5.2 0M1871.1 992.9a2.6 2.6 0 1 0 5.2 0a2.6 2.6 0 1 0 -5.2 0M1815.6 970.8a2.6 2.6 0 1 0 5.2 0a2.6 2.6 0 1 0 -5.2 0M1799.7 982.7a2.6 2.6 0 1 0 5.2 0a2.6 2.6 0 1 0 -5.2 0M1924.9 946.2a2.6 2.6 0 1 0 5.2 0a2.6 2.6 0 1 0 -5.2 0M1837.6 918.6a2.6 2.6 0 1 0 5.2 0a2.6 2.6 0 1 0 -5.2 0M2090.1 944.5a2.6 2.6 0 1 0 5.2 0a2.6 2.6 0 1 0 -5.2 0M1789.7 994.4a2.6 2.6 0 1 0 5.2 0a2.6 2.6 0 1 0 -5.2 0M2026.1 968.3a2.6 2.6 0 1 0 5.2 0a2.6 2.6 0 1 0 -5.2 0M2084.4 950.0a2.6 2.6 0 1 0 5.2 0a2.6 2.6 0 1 0 -5.2 0M1868.4 973.0a2.6 2.6 0 1 0 5.2 0a2.6 2.6 0 1 0 -5.2 0M1849.7 942.0a2.6 2.6 0 1 0 5.2 0a2.6 2.6 0 1 0 -5.2 0M1885.3 975.0a2.6 2.6 0 1 0 5.2 0a2.6 2.6 0 1 0 -5.2 0M1961.3 941.9a2.6 2.6 0 1 0 5.2 0a2.6 2.6 0 1 0 -5.2 0M1870.3 981.6a2.6 2.6 0 1 0 5.2 0a2.6 2.6 0 1 0 -5.2 0M2009.3 947.6a2.6 2.6 0 1 0 5.2 0a2.6 2.6 0 1 0 -5.2 0M1828.2 983.9a2.6 2.6 0 1 0 5.2 0a2.6 2.6 0 1 0 -5.2 0M1970.9 967.4a2.6 2.6 0 1 0 5.2 0a2.6 2.6 0 1 0 -5.2 0M1865.9 1002.8a2.6 2.6 0 1 0 5.2 0a2.6 2.6 0 1 0 -5.2 0M1898.7 977.0a2.6 2.6 0 1 0 5.2 0a2.6 2.6 0 1 0 -5.2 0M1833.4 950.9a2.6 2.6 0 1 0 5.2 0a2.6 2.6 0 1 0 -5.2 0M1958.0 949.2a2.6 2.6 0 1 0 5.2 0a2.6 2.6 0 1 0 -5.2 0M2005.5 885.1a2.6 2.6 0 1 0 5.2 0a2.6 2.6 0 1 0 -5.2 0M1879.2 984.5a2.6 2.6 0 1 0 5.2 0a2.6 2.6 0 1 0 -5.2 0M2000.9 943.8a2.6 2.6 0 1 0 5.2 0a2.6 2.6 0 1 0 -5.2 0M1966.9 948.2a2.6 2.6 0 1 0 5.2 0a2.6 2.6 0 1 0 -5.2 0M1998.7 945.4a2.6 2.6 0 1 0 5.2 0a2.6 2.6 0 1 0 -5.2 0M1817.2 959.7a2.6 2.6 0 1 0 5.2 0a2.6 2.6 0 1 0 -5.2 0M1907.8 1002.2a2.6 2.6 0 1 0 5.2 0a2.6 2.6 0 1 0 -5.2 0M1940.7 953.5a2.6 2.6 0 1 0 5.2 0a2.6 2.6 0 1 0 -5.2 0M1823.0 980.0a2.6 2.6 0 1 0 5.2 0a2.6 2.6 0 1 0 -5.2 0M1957.7 910.5a2.6 2.6 0 1 0 5.2 0a2.6 2.6 0 1 0 -5.2 0M1866.7 956.9a2.6 2.6 0 1 0 5.2 0a2.6 2.6 0 1 0 -5.2 0M2001.7 953.3a2.6 2.6 0 1 0 5.2 0a2.6 2.6 0 1 0 -5.2 0M1827.1 964.2a2.6 2.6 0 1 0 5.2 0a2.6 2.6 0 1 0 -5.2 0M1739.5 981.6a2.6 2.6 0 1 0 5.2 0a2.6 2.6 0 1 0 -5.2 0M1787.6 967.2a2.6 2.6 0 1 0 5.2 0a2.6 2.6 0 1 0 -5.2 0M1934.4 981.6a2.6 2.6 0 1 0 5.2 0a2.6 2.6 0 1 0 -5.2 0M1780.1 981.9a2.6 2.6 0 1 0 5.2 0a2.6 2.6 0 1 0 -5.2 0M1870.1 992.5a2.6 2.6 0 1 0 5.2 0a2.6 2.6 0 1 0 -5.2 0M1911.9 993.0a2.6 2.6 0 1 0 5.2 0a2.6 2.6 0 1 0 -5.2 0M1758.9 1017.4a2.6 2.6 0 1 0 5.2 0a2.6 2.6 0 1 0 -5.2 0M1943.5 964.7a2.6 2.6 0 1 0 5.2 0a2.6 2.6 0 1 0 -5.2 0M1727.6 1008.0a2.6 2.6 0 1 0 5.2 0a2.6 2.6 0 1 0 -5.2 0M1819.0 918.9a2.6 2.6 0 1 0 5.2 0a2.6 2.6 0 1 0 -5.2 0M2006.2 962.4a2.6 2.6 0 1 0 5.2 0a2.6 2.6 0 1 0 -5.2 0M1867.0 988.7a2.6 2.6 0 1 0 5.2 0a2.6 2.6 0 1 0 -5.2 0M1760.1 973.0a2.6 2.6 0 1 0 5.2 0a2.6 2.6 0 1 0 -5.2 0M1877.9 994.3a2.6 2.6 0 1 0 5.2 0a2.6 2.6 0 1 0 -5.2 0M1827.0 946.4a2.6 2.6 0 1 0 5.2 0a2.6 2.6 0 1 0 -5.2 0M1824.3 965.1a2.6 2.6 0 1 0 5.2 0a2.6 2.6 0 1 0 -5.2 0M1924.5 968.8a2.6 2.6 0 1 0 5.2 0a2.6 2.6 0 1 0 -5.2 0M1732.5 995.5a2.6 2.6 0 1 0 5.2 0a2.6 2.6 0 1 0 -5.2 0M1854.3 919.0a2.6 2.6 0 1 0 5.2 0a2.6 2.6 0 1 0 -5.2 0M1867.7 979.6a2.6 2.6 0 1 0 5.2 0a2.6 2.6 0 1 0 -5.2 0M2025.1 972.7a2.6 2.6 0 1 0 5.2 0a2.6 2.6 0 1 0 -5.2 0M1961.2 929.7a2.6 2.6 0 1 0 5.2 0a2.6 2.6 0 1 0 -5.2 0M1931.3 969.8a2.6 2.6 0 1 0 5.2 0a2.6 2.6 0 1 0 -5.2 0M1974.4 940.1a2.6 2.6 0 1 0 5.2 0a2.6 2.6 0 1 0 -5.2 0M1849.6 943.6a2.6 2.6 0 1 0 5.2 0a2.6 2.6 0 1 0 -5.2 0M2065.2 944.0a2.6 2.6 0 1 0 5.2 0a2.6 2.6 0 1 0 -5.2 0M1771.1 1015.4a2.6 2.6 0 1 0 5.2 0a2.6 2.6 0 1 0 -5.2 0M2035.4 898.2a2.6 2.6 0 1 0 5.2 0a2.6 2.6 0 1 0 -5.2 0M2059.0 885.2a2.6 2.6 0 1 0 5.2 0a2.6 2.6 0 1 0 -5.2 0M1849.2 926.3a2.6 2.6 0 1 0 5.2 0a2.6 2.6 0 1 0 -5.2 0M1821.2 964.0a2.6 2.6 0 1 0 5.2 0a2.6 2.6 0 1 0 -5.2 0M1811.4 950.4a2.6 2.6 0 1 0 5.2 0a2.6 2.6 0 1 0 -5.2 0M2013.2 966.0a2.6 2.6 0 1 0 5.2 0a2.6 2.6 0 1 0 -5.2 0M1950.4 966.4a2.6 2.6 0 1 0 5.2 0a2.6 2.6 0 1 0 -5.2 0M1893.5 970.6a2.6 2.6 0 1 0 5.2 0a2.6 2.6 0 1 0 -5.2 0M2058.8 947.0a2.6 2.6 0 1 0 5.2 0a2.6 2.6 0 1 0 -5.2 0M1859.6 955.8a2.6 2.6 0 1 0 5.2 0a2.6 2.6 0 1 0 -5.2 0M2012.1 957.7a2.6 2.6 0 1 0 5.2 0a2.6 2.6 0 1 0 -5.2 0M2040.3 904.7a2.6 2.6 0 1 0 5.2 0a2.6 2.6 0 1 0 -5.2 0M1788.2 993.7a2.6 2.6 0 1 0 5.2 0a2.6 2.6 0 1 0 -5.2 0M2080.7 949.7a2.6 2.6 0 1 0 5.2 0a2.6 2.6 0 1 0 -5.2 0M1812.6 973.3a2.6 2.6 0 1 0 5.2 0a2.6 2.6 0 1 0 -5.2 0M2056.3 920.5a2.6 2.6 0 1 0 5.2 0a2.6 2.6 0 1 0 -5.2 0M1738.9 1001.3a2.6 2.6 0 1 0 5.2 0a2.6 2.6 0 1 0 -5.2 0M2091.4 960.7a2.6 2.6 0 1 0 5.2 0a2.6 2.6 0 1 0 -5.2 0M1935.9 982.4a2.6 2.6 0 1 0 5.2 0a2.6 2.6 0 1 0 -5.2 0M1990.4 956.3a2.6 2.6 0 1 0 5.2 0a2.6 2.6 0 1 0 -5.2 0M2091.6 889.4a2.6 2.6 0 1 0 5.2 0a2.6 2.6 0 1 0 -5.2 0M2074.5 931.6a2.6 2.6 0 1 0 5.2 0a2.6 2.6 0 1 0 -5.2 0M2061.1 930.4a2.6 2.6 0 1 0 5.2 0a2.6 2.6 0 1 0 -5.2 0M1931.7 975.6a2.6 2.6 0 1 0 5.2 0a2.6 2.6 0 1 0 -5.2 0M1921.4 965.5a2.6 2.6 0 1 0 5.2 0a2.6 2.6 0 1 0 -5.2 0M1836.9 932.6a2.6 2.6 0 1 0 5.2 0a2.6 2.6 0 1 0 -5.2 0M1920.0 981.2a2.6 2.6 0 1 0 5.2 0a2.6 2.6 0 1 0 -5.2 0M1829.0 955.6a2.6 2.6 0 1 0 5.2 0a2.6 2.6 0 1 0 -5.2 0M2015.4 944.2a2.6 2.6 0 1 0 5.2 0a2.6 2.6 0 1 0 -5.2 0M2082.4 935.8a2.6 2.6 0 1 0 5.2 0a2.6 2.6 0 1 0 -5.2 0M2032.3 957.9a2.6 2.6 0 1 0 5.2 0a2.6 2.6 0 1 0 -5.2 0M2013.6 891.4a2.6 2.6 0 1 0 5.2 0a2.6 2.6 0 1 0 -5.2 0M2010.4 955.1a2.6 2.6 0 1 0 5.2 0a2.6 2.6 0 1 0 -5.2 0M2026.0 953.1a2.6 2.6 0 1 0 5.2 0a2.6 2.6 0 1 0 -5.2 0M1857.7 971.1a2.6 2.6 0 1 0 5.2 0a2.6 2.6 0 1 0 -5.2 0M1965.8 956.0a2.6 2.6 0 1 0 5.2 0a2.6 2.6 0 1 0 -5.2 0M2051.2 934.6a2.6 2.6 0 1 0 5.2 0a2.6 2.6 0 1 0 -5.2 0M2011.9 941.3a2.6 2.6 0 1 0 5.2 0a2.6 2.6 0 1 0 -5.2 0M1841.2 958.4a2.6 2.6 0 1 0 5.2 0a2.6 2.6 0 1 0 -5.2 0M1854.4 943.9a2.6 2.6 0 1 0 5.2 0a2.6 2.6 0 1 0 -5.2 0M1819.9 932.1a2.6 2.6 0 1 0 5.2 0a2.6 2.6 0 1 0 -5.2 0M1861.7 993.8a2.6 2.6 0 1 0 5.2 0a2.6 2.6 0 1 0 -5.2 0M1931.7 968.0a2.6 2.6 0 1 0 5.2 0a2.6 2.6 0 1 0 -5.2 0M1990.5 958.4a2.6 2.6 0 1 0 5.2 0a2.6 2.6 0 1 0 -5.2 0M2040.0 892.2a2.6 2.6 0 1 0 5.2 0a2.6 2.6 0 1 0 -5.2 0M2009.6 961.7a2.6 2.6 0 1 0 5.2 0a2.6 2.6 0 1 0 -5.2 0M1864.2 975.5a2.6 2.6 0 1 0 5.2 0a2.6 2.6 0 1 0 -5.2 0M1888.0 974.5a2.6 2.6 0 1 0 5.2 0a2.6 2.6 0 1 0 -5.2 0M1866.9 987.4a2.6 2.6 0 1 0 5.2 0a2.6 2.6 0 1 0 -5.2 0M1862.2 992.0a2.6 2.6 0 1 0 5.2 0a2.6 2.6 0 1 0 -5.2 0M1896.6 990.1a2.6 2.6 0 1 0 5.2 0a2.6 2.6 0 1 0 -5.2 0M2068.6 941.8a2.6 2.6 0 1 0 5.2 0a2.6 2.6 0 1 0 -5.2 0M1959.0 957.5a2.6 2.6 0 1 0 5.2 0a2.6 2.6 0 1 0 -5.2 0M1777.5 1009.6a2.6 2.6 0 1 0 5.2 0a2.6 2.6 0 1 0 -5.2 0M2086.1 965.8a2.6 2.6 0 1 0 5.2 0a2.6 2.6 0 1 0 -5.2 0M1823.1 988.8a2.6 2.6 0 1 0 5.2 0a2.6 2.6 0 1 0 -5.2 0M1994.0 966.7a2.6 2.6 0 1 0 5.2 0a2.6 2.6 0 1 0 -5.2 0M2081.7 956.6a2.6 2.6 0 1 0 5.2 0a2.6 2.6 0 1 0 -5.2 0M1853.1 937.7a2.6 2.6 0 1 0 5.2 0a2.6 2.6 0 1 0 -5.2 0M1889.1 992.6a2.6 2.6 0 1 0 5.2 0a2.6 2.6 0 1 0 -5.2 0M1970.7 945.6a2.6 2.6 0 1 0 5.2 0a2.6 2.6 0 1 0 -5.2 0M1937.1 904.5a2.6 2.6 0 1 0 5.2 0a2.6 2.6 0 1 0 -5.2 0M1798.0 975.9a2.6 2.6 0 1 0 5.2 0a2.6 2.6 0 1 0 -5.2 0M1805.0 988.5a2.6 2.6 0 1 0 5.2 0a2.6 2.6 0 1 0 -5.2 0M1905.1 985.8a2.6 2.6 0 1 0 5.2 0a2.6 2.6 0 1 0 -5.2 0M1813.1 958.5a2.6 2.6 0 1 0 5.2 0a2.6 2.6 0 1 0 -5.2 0M1971.9 977.5a2.6 2.6 0 1 0 5.2 0a2.6 2.6 0 1 0 -5.2 0M1841.6 934.9a2.6 2.6 0 1 0 5.2 0a2.6 2.6 0 1 0 -5.2 0M1786.1 984.6a2.6 2.6 0 1 0 5.2 0a2.6 2.6 0 1 0 -5.2 0M1917.4 985.3a2.6 2.6 0 1 0 5.2 0a2.6 2.6 0 1 0 -5.2 0M2034.4 924.6a2.6 2.6 0 1 0 5.2 0a2.6 2.6 0 1 0 -5.2 0M1769.0 1002.9a2.6 2.6 0 1 0 5.2 0a2.6 2.6 0 1 0 -5.2 0M2008.4 969.0a2.6 2.6 0 1 0 5.2 0a2.6 2.6 0 1 0 -5.2 0M1917.2 963.3a2.6 2.6 0 1 0 5.2 0a2.6 2.6 0 1 0 -5.2 0M1737.4 1000.4a2.6 2.6 0 1 0 5.2 0a2.6 2.6 0 1 0 -5.2 0M2037.1 895.3a2.6 2.6 0 1 0 5.2 0a2.6 2.6 0 1 0 -5.2 0M1746.3 1008.8a2.6 2.6 0 1 0 5.2 0a2.6 2.6 0 1 0 -5.2 0M1922.3 969.2a2.6 2.6 0 1 0 5.2 0a2.6 2.6 0 1 0 -5.2 0M1773.1 1010.4a2.6 2.6 0 1 0 5.2 0a2.6 2.6 0 1 0 -5.2 0M1879.2 975.2a2.6 2.6 0 1 0 5.2 0a2.6 2.6 0 1 0 -5.2 0M1852.5 931.9a2.6 2.6 0 1 0 5.2 0a2.6 2.6 0 1 0 -5.2 0M1815.6 957.4a2.6 2.6 0 1 0 5.2 0a2.6 2.6 0 1 0 -5.2 0M1969.2 948.6a2.6 2.6 0 1 0 5.2 0a2.6 2.6 0 1 0 -5.2 0M1828.5 955.1a2.6 2.6 0 1 0 5.2 0a2.6 2.6 0 1 0 -5.2 0M1840.9 929.7a2.6 2.6 0 1 0 5.2 0a2.6 2.6 0 1 0 -5.2 0M1921.3 958.0a2.6 2.6 0 1 0 5.2 0a2.6 2.6 0 1 0 -5.2 0M1835.7 936.7a2.6 2.6 0 1 0 5.2 0a2.6 2.6 0 1 0 -5.2 0M1992.5 957.8a2.6 2.6 0 1 0 5.2 0a2.6 2.6 0 1 0 -5.2 0M1850.2 936.2a2.6 2.6 0 1 0 5.2 0a2.6 2.6 0 1 0 -5.2 0M1878.6 1002.5a2.6 2.6 0 1 0 5.2 0a2.6 2.6 0 1 0 -5.2 0M1843.6 976.6a2.6 2.6 0 1 0 5.2 0a2.6 2.6 0 1 0 -5.2 0M2022.6 948.0a2.6 2.6 0 1 0 5.2 0a2.6 2.6 0 1 0 -5.2 0M2059.2 926.5a2.6 2.6 0 1 0 5.2 0a2.6 2.6 0 1 0 -5.2 0M1846.2 963.5a2.6 2.6 0 1 0 5.2 0a2.6 2.6 0 1 0 -5.2 0M2071.5 919.3a2.6 2.6 0 1 0 5.2 0a2.6 2.6 0 1 0 -5.2 0M1740.1 1002.2a2.6 2.6 0 1 0 5.2 0a2.6 2.6 0 1 0 -5.2 0M1962.9 967.3a2.6 2.6 0 1 0 5.2 0a2.6 2.6 0 1 0 -5.2 0M1784.0 981.2a2.6 2.6 0 1 0 5.2 0a2.6 2.6 0 1 0 -5.2 0M1761.6 1013.0a2.6 2.6 0 1 0 5.2 0a2.6 2.6 0 1 0 -5.2 0M2049.3 975.2a2.6 2.6 0 1 0 5.2 0a2.6 2.6 0 1 0 -5.2 0M1997.0 945.9a2.6 2.6 0 1 0 5.2 0a2.6 2.6 0 1 0 -5.2 0M1837.7 951.3a2.6 2.6 0 1 0 5.2 0a2.6 2.6 0 1 0 -5.2 0M1758.5 1016.5a2.6 2.6 0 1 0 5.2 0a2.6 2.6 0 1 0 -5.2 0M1976.9 948.3a2.6 2.6 0 1 0 5.2 0a2.6 2.6 0 1 0 -5.2 0M2052.1 848.4a2.6 2.6 0 1 0 5.2 0a2.6 2.6 0 1 0 -5.2 0M2000.2 929.8a2.6 2.6 0 1 0 5.2 0a2.6 2.6 0 1 0 -5.2 0M2061.2 943.6a2.6 2.6 0 1 0 5.2 0a2.6 2.6 0 1 0 -5.2 0M1848.7 965.0a2.6 2.6 0 1 0 5.2 0a2.6 2.6 0 1 0 -5.2 0M1848.9 937.0a2.6 2.6 0 1 0 5.2 0a2.6 2.6 0 1 0 -5.2 0M1853.9 910.2a2.6 2.6 0 1 0 5.2 0a2.6 2.6 0 1 0 -5.2 0M2022.1 932.5a2.6 2.6 0 1 0 5.2 0a2.6 2.6 0 1 0 -5.2 0M1952.3 971.3a2.6 2.6 0 1 0 5.2 0a2.6 2.6 0 1 0 -5.2 0M1811.9 966.6a2.6 2.6 0 1 0 5.2 0a2.6 2.6 0 1 0 -5.2 0M1827.0 952.3a2.6 2.6 0 1 0 5.2 0a2.6 2.6 0 1 0 -5.2 0M1730.1 1003.2a2.6 2.6 0 1 0 5.2 0a2.6 2.6 0 1 0 -5.2 0M1972.0 960.4a2.6 2.6 0 1 0 5.2 0a2.6 2.6 0 1 0 -5.2 0M1943.2 951.1a2.6 2.6 0 1 0 5.2 0a2.6 2.6 0 1 0 -5.2 0M1988.6 953.9a2.6 2.6 0 1 0 5.2 0a2.6 2.6 0 1 0 -5.2 0M2041.8 913.3a2.6 2.6 0 1 0 5.2 0a2.6 2.6 0 1 0 -5.2 0M1733.4 1011.8a2.6 2.6 0 1 0 5.2 0a2.6 2.6 0 1 0 -5.2 0M1865.8 967.2a2.6 2.6 0 1 0 5.2 0a2.6 2.6 0 1 0 -5.2 0M1879.6 970.2a2.6 2.6 0 1 0 5.2 0a2.6 2.6 0 1 0 -5.2 0M1889.4 997.0a2.6 2.6 0 1 0 5.2 0a2.6 2.6 0 1 0 -5.2 0M2081.3 940.9a2.6 2.6 0 1 0 5.2 0a2.6 2.6 0 1 0 -5.2 0M1831.3 959.4a2.6 2.6 0 1 0 5.2 0a2.6 2.6 0 1 0 -5.2 0M2075.7 932.3a2.6 2.6 0 1 0 5.2 0a2.6 2.6 0 1 0 -5.2 0M2078.8 940.6a2.6 2.6 0 1 0 5.2 0a2.6 2.6 0 1 0 -5.2 0M1816.0 982.4a2.6 2.6 0 1 0 5.2 0a2.6 2.6 0 1 0 -5.2 0M1857.9 969.6a2.6 2.6 0 1 0 5.2 0a2.6 2.6 0 1 0 -5.2 0M2026.3 958.9a2.6 2.6 0 1 0 5.2 0a2.6 2.6 0 1 0 -5.2 0M1760.8 1012.9a2.6 2.6 0 1 0 5.2 0a2.6 2.6 0 1 0 -5.2 0M1977.4 938.1a2.6 2.6 0 1 0 5.2 0a2.6 2.6 0 1 0 -5.2 0M2038.5 904.7a2.6 2.6 0 1 0 5.2 0a2.6 2.6 0 1 0 -5.2 0M2023.1 934.0a2.6 2.6 0 1 0 5.2 0a2.6 2.6 0 1 0 -5.2 0M1824.8 965.6a2.6 2.6 0 1 0 5.2 0a2.6 2.6 0 1 0 -5.2 0M1875.8 985.0a2.6 2.6 0 1 0 5.2 0a2.6 2.6 0 1 0 -5.2 0M2072.1 940.4a2.6 2.6 0 1 0 5.2 0a2.6 2.6 0 1 0 -5.2 0M1857.8 971.1a2.6 2.6 0 1 0 5.2 0a2.6 2.6 0 1 0 -5.2 0M1865.6 964.4a2.6 2.6 0 1 0 5.2 0a2.6 2.6 0 1 0 -5.2 0M1875.9 978.2a2.6 2.6 0 1 0 5.2 0a2.6 2.6 0 1 0 -5.2 0M1965.1 938.2a2.6 2.6 0 1 0 5.2 0a2.6 2.6 0 1 0 -5.2 0M1895.9 963.1a2.6 2.6 0 1 0 5.2 0a2.6 2.6 0 1 0 -5.2 0M1751.4 995.2a2.6 2.6 0 1 0 5.2 0a2.6 2.6 0 1 0 -5.2 0M1882.0 989.7a2.6 2.6 0 1 0 5.2 0a2.6 2.6 0 1 0 -5.2 0M1745.3 998.5a2.6 2.6 0 1 0 5.2 0a2.6 2.6 0 1 0 -5.2 0M1737.1 989.7a2.6 2.6 0 1 0 5.2 0a2.6 2.6 0 1 0 -5.2 0M1986.9 951.6a2.6 2.6 0 1 0 5.2 0a2.6 2.6 0 1 0 -5.2 0M2039.3 926.9a2.6 2.6 0 1 0 5.2 0a2.6 2.6 0 1 0 -5.2 0M1764.5 1006.2a2.6 2.6 0 1 0 5.2 0a2.6 2.6 0 1 0 -5.2 0M2066.5 921.8a2.6 2.6 0 1 0 5.2 0a2.6 2.6 0 1 0 -5.2 0M2062.9 937.3a2.6 2.6 0 1 0 5.2 0a2.6 2.6 0 1 0 -5.2 0M1838.0 939.8a2.6 2.6 0 1 0 5.2 0a2.6 2.6 0 1 0 -5.2 0M2053.9 939.1a2.6 2.6 0 1 0 5.2 0a2.6 2.6 0 1 0 -5.2 0M1937.3 956.6a2.6 2.6 0 1 0 5.2 0a2.6 2.6 0 1 0 -5.2 0M1735.4 1001.1a2.6 2.6 0 1 0 5.2 0a2.6 2.6 0 1 0 -5.2 0M1865.2 986.3a2.6 2.6 0 1 0 5.2 0a2.6 2.6 0 1 0 -5.2 0M1895.9 995.1a2.6 2.6 0 1 0 5.2 0a2.6 2.6 0 1 0 -5.2 0M2015.8 952.6a2.6 2.6 0 1 0 5.2 0a2.6 2.6 0 1 0 -5.2 0M1794.7 976.0a2.6 2.6 0 1 0 5.2 0a2.6 2.6 0 1 0 -5.2 0M2007.5 923.6a2.6 2.6 0 1 0 5.2 0a2.6 2.6 0 1 0 -5.2 0M2064.7 931.3a2.6 2.6 0 1 0 5.2 0a2.6 2.6 0 1 0 -5.2 0M2037.9 878.0a2.6 2.6 0 1 0 5.2 0a2.6 2.6 0 1 0 -5.2 0M1750.9 994.7a2.6 2.6 0 1 0 5.2 0a2.6 2.6 0 1 0 -5.2 0M1768.4 998.1a2.6 2.6 0 1 0 5.2 0a2.6 2.6 0 1 0 -5.2 0M1798.6 968.1a2.6 2.6 0 1 0 5.2 0a2.6 2.6 0 1 0 -5.2 0M2026.0 963.6a2.6 2.6 0 1 0 5.2 0a2.6 2.6 0 1 0 -5.2 0M1917.8 952.4a2.6 2.6 0 1 0 5.2 0a2.6 2.6 0 1 0 -5.2 0M2024.9 945.7a2.6 2.6 0 1 0 5.2 0a2.6 2.6 0 1 0 -5.2 0M1732.2 1008.3a2.6 2.6 0 1 0 5.2 0a2.6 2.6 0 1 0 -5.2 0M1983.6 919.3a2.6 2.6 0 1 0 5.2 0a2.6 2.6 0 1 0 -5.2 0M1824.5 946.0a2.6 2.6 0 1 0 5.2 0a2.6 2.6 0 1 0 -5.2 0M2005.7 943.9a2.6 2.6 0 1 0 5.2 0a2.6 2.6 0 1 0 -5.2 0M1991.8 976.4a2.6 2.6 0 1 0 5.2 0a2.6 2.6 0 1 0 -5.2 0M2013.0 915.2a2.6 2.6 0 1 0 5.2 0a2.6 2.6 0 1 0 -5.2 0M1870.7 1000.9a2.6 2.6 0 1 0 5.2 0a2.6 2.6 0 1 0 -5.2 0M1887.6 977.4a2.6 2.6 0 1 0 5.2 0a2.6 2.6 0 1 0 -5.2 0M1937.4 968.5a2.6 2.6 0 1 0 5.2 0a2.6 2.6 0 1 0 -5.2 0M1968.2 953.1a2.6 2.6 0 1 0 5.2 0a2.6 2.6 0 1 0 -5.2 0M1825.5 967.3a2.6 2.6 0 1 0 5.2 0a2.6 2.6 0 1 0 -5.2 0M1881.4 986.0a2.6 2.6 0 1 0 5.2 0a2.6 2.6 0 1 0 -5.2 0M1951.7 978.2a2.6 2.6 0 1 0 5.2 0a2.6 2.6 0 1 0 -5.2 0M1879.4 960.9a2.6 2.6 0 1 0 5.2 0a2.6 2.6 0 1 0 -5.2 0M1942.2 959.6a2.6 2.6 0 1 0 5.2 0a2.6 2.6 0 1 0 -5.2 0M2041.7 926.1a2.6 2.6 0 1 0 5.2 0a2.6 2.6 0 1 0 -5.2 0M1972.0 959.1a2.6 2.6 0 1 0 5.2 0a2.6 2.6 0 1 0 -5.2 0M1821.7 886.9a2.6 2.6 0 1 0 5.2 0a2.6 2.6 0 1 0 -5.2 0M1959.2 979.3a2.6 2.6 0 1 0 5.2 0a2.6 2.6 0 1 0 -5.2 0M1975.0 951.1a2.6 2.6 0 1 0 5.2 0a2.6 2.6 0 1 0 -5.2 0M1822.5 953.6a2.6 2.6 0 1 0 5.2 0a2.6 2.6 0 1 0 -5.2 0M1844.9 938.9a2.6 2.6 0 1 0 5.2 0a2.6 2.6 0 1 0 -5.2 0M2048.8 960.8a2.6 2.6 0 1 0 5.2 0a2.6 2.6 0 1 0 -5.2 0M1914.1 975.5a2.6 2.6 0 1 0 5.2 0a2.6 2.6 0 1 0 -5.2 0M1740.3 991.0a2.6 2.6 0 1 0 5.2 0a2.6 2.6 0 1 0 -5.2 0M1924.6 960.1a2.6 2.6 0 1 0 5.2 0a2.6 2.6 0 1 0 -5.2 0M1808.6 984.5a2.6 2.6 0 1 0 5.2 0a2.6 2.6 0 1 0 -5.2 0M2076.3 935.8a2.6 2.6 0 1 0 5.2 0a2.6 2.6 0 1 0 -5.2 0M1861.6 965.8a2.6 2.6 0 1 0 5.2 0a2.6 2.6 0 1 0 -5.2 0M2085.7 941.9a2.6 2.6 0 1 0 5.2 0a2.6 2.6 0 1 0 -5.2 0M1955.4 972.4a2.6 2.6 0 1 0 5.2 0a2.6 2.6 0 1 0 -5.2 0M1880.2 987.8a2.6 2.6 0 1 0 5.2 0a2.6 2.6 0 1 0 -5.2 0M1884.3 977.0a2.6 2.6 0 1 0 5.2 0a2.6 2.6 0 1 0 -5.2 0M2038.1 915.7a2.6 2.6 0 1 0 5.2 0a2.6 2.6 0 1 0 -5.2 0M1762.4 1001.0a2.6 2.6 0 1 0 5.2 0a2.6 2.6 0 1 0 -5.2 0M1926.2 953.0a2.6 2.6 0 1 0 5.2 0a2.6 2.6 0 1 0 -5.2 0M1759.6 1014.0a2.6 2.6 0 1 0 5.2 0a2.6 2.6 0 1 0 -5.2 0M1962.1 947.8a2.6 2.6 0 1 0 5.2 0a2.6 2.6 0 1 0 -5.2 0M1923.3 969.5a2.6 2.6 0 1 0 5.2 0a2.6 2.6 0 1 0 -5.2 0M1960.7 944.4a2.6 2.6 0 1 0 5.2 0a2.6 2.6 0 1 0 -5.2 0M1818.0 926.5a2.6 2.6 0 1 0 5.2 0a2.6 2.6 0 1 0 -5.2 0M1879.1 976.3a2.6 2.6 0 1 0 5.2 0a2.6 2.6 0 1 0 -5.2 0M1969.7 957.7a2.6 2.6 0 1 0 5.2 0a2.6 2.6 0 1 0 -5.2 0M2017.0 958.9a2.6 2.6 0 1 0 5.2 0a2.6 2.6 0 1 0 -5.2 0M1784.2 996.3a2.6 2.6 0 1 0 5.2 0a2.6 2.6 0 1 0 -5.2 0M1815.8 949.9a2.6 2.6 0 1 0 5.2 0a2.6 2.6 0 1 0 -5.2 0M1964.7 980.0a2.6 2.6 0 1 0 5.2 0a2.6 2.6 0 1 0 -5.2 0M1747.3 993.0a2.6 2.6 0 1 0 5.2 0a2.6 2.6 0 1 0 -5.2 0M1816.0 947.6a2.6 2.6 0 1 0 5.2 0a2.6 2.6 0 1 0 -5.2 0M1932.7 971.1a2.6 2.6 0 1 0 5.2 0a2.6 2.6 0 1 0 -5.2 0M1934.4 959.3a2.6 2.6 0 1 0 5.2 0a2.6 2.6 0 1 0 -5.2 0M2072.0 952.8a2.6 2.6 0 1 0 5.2 0a2.6 2.6 0 1 0 -5.2 0M1836.5 915.7a2.6 2.6 0 1 0 5.2 0a2.6 2.6 0 1 0 -5.2 0M1849.3 940.8a2.6 2.6 0 1 0 5.2 0a2.6 2.6 0 1 0 -5.2 0M1873.2 985.2a2.6 2.6 0 1 0 5.2 0a2.6 2.6 0 1 0 -5.2 0M1931.0 981.4a2.6 2.6 0 1 0 5.2 0a2.6 2.6 0 1 0 -5.2 0M1933.2 963.2a2.6 2.6 0 1 0 5.2 0a2.6 2.6 0 1 0 -5.2 0M1953.3 966.5a2.6 2.6 0 1 0 5.2 0a2.6 2.6 0 1 0 -5.2 0M1963.1 937.4a2.6 2.6 0 1 0 5.2 0a2.6 2.6 0 1 0 -5.2 0M1760.9 1009.6a2.6 2.6 0 1 0 5.2 0a2.6 2.6 0 1 0 -5.2 0M2033.1 931.3a2.6 2.6 0 1 0 5.2 0a2.6 2.6 0 1 0 -5.2 0M1788.8 996.5a2.6 2.6 0 1 0 5.2 0a2.6 2.6 0 1 0 -5.2 0M2074.8 954.7a2.6 2.6 0 1 0 5.2 0a2.6 2.6 0 1 0 -5.2 0M1969.0 939.0a2.6 2.6 0 1 0 5.2 0a2.6 2.6 0 1 0 -5.2 0M1830.5 945.8a2.6 2.6 0 1 0 5.2 0a2.6 2.6 0 1 0 -5.2 0M1737.5 978.2a2.6 2.6 0 1 0 5.2 0a2.6 2.6 0 1 0 -5.2 0M1771.1 1000.5a2.6 2.6 0 1 0 5.2 0a2.6 2.6 0 1 0 -5.2 0M1933.8 968.1a2.6 2.6 0 1 0 5.2 0a2.6 2.6 0 1 0 -5.2 0M1774.0 1001.8a2.6 2.6 0 1 0 5.2 0a2.6 2.6 0 1 0 -5.2 0M1981.3 943.5a2.6 2.6 0 1 0 5.2 0a2.6 2.6 0 1 0 -5.2 0M1752.1 995.5a2.6 2.6 0 1 0 5.2 0a2.6 2.6 0 1 0 -5.2 0M2079.1 969.5a2.6 2.6 0 1 0 5.2 0a2.6 2.6 0 1 0 -5.2 0M1793.9 1006.7a2.6 2.6 0 1 0 5.2 0a2.6 2.6 0 1 0 -5.2 0M1906.3 982.5a2.6 2.6 0 1 0 5.2 0a2.6 2.6 0 1 0 -5.2 0M1977.9 933.7a2.6 2.6 0 1 0 5.2 0a2.6 2.6 0 1 0 -5.2 0M1756.9 1016.3a2.6 2.6 0 1 0 5.2 0a2.6 2.6 0 1 0 -5.2 0M1779.4 993.1a2.6 2.6 0 1 0 5.2 0a2.6 2.6 0 1 0 -5.2 0M1832.8 940.7a2.6 2.6 0 1 0 5.2 0a2.6 2.6 0 1 0 -5.2 0M2034.0 905.8a2.6 2.6 0 1 0 5.2 0a2.6 2.6 0 1 0 -5.2 0M1886.7 976.3a2.6 2.6 0 1 0 5.2 0a2.6 2.6 0 1 0 -5.2 0M1926.4 958.0a2.6 2.6 0 1 0 5.2 0a2.6 2.6 0 1 0 -5.2 0M1887.9 987.6a2.6 2.6 0 1 0 5.2 0a2.6 2.6 0 1 0 -5.2 0M1899.2 1000.9a2.6 2.6 0 1 0 5.2 0a2.6 2.6 0 1 0 -5.2 0M2031.3 957.7a2.6 2.6 0 1 0 5.2 0a2.6 2.6 0 1 0 -5.2 0M1986.2 937.8a2.6 2.6 0 1 0 5.2 0a2.6 2.6 0 1 0 -5.2 0M1946.2 945.4a2.6 2.6 0 1 0 5.2 0a2.6 2.6 0 1 0 -5.2 0M2014.8 942.5a2.6 2.6 0 1 0 5.2 0a2.6 2.6 0 1 0 -5.2 0M1835.0 950.7a2.6 2.6 0 1 0 5.2 0a2.6 2.6 0 1 0 -5.2 0M2017.6 947.9a2.6 2.6 0 1 0 5.2 0a2.6 2.6 0 1 0 -5.2 0M1754.7 1002.0a2.6 2.6 0 1 0 5.2 0a2.6 2.6 0 1 0 -5.2 0M1988.6 946.7a2.6 2.6 0 1 0 5.2 0a2.6 2.6 0 1 0 -5.2 0M1907.9 1012.5a2.6 2.6 0 1 0 5.2 0a2.6 2.6 0 1 0 -5.2 0M1788.6 995.8a2.6 2.6 0 1 0 5.2 0a2.6 2.6 0 1 0 -5.2 0M2006.1 941.4a2.6 2.6 0 1 0 5.2 0a2.6 2.6 0 1 0 -5.2 0M1816.3 947.5a2.6 2.6 0 1 0 5.2 0a2.6 2.6 0 1 0 -5.2 0M1915.5 996.3a2.6 2.6 0 1 0 5.2 0a2.6 2.6 0 1 0 -5.2 0M1799.1 979.0a2.6 2.6 0 1 0 5.2 0a2.6 2.6 0 1 0 -5.2 0M1816.0 977.9a2.6 2.6 0 1 0 5.2 0a2.6 2.6 0 1 0 -5.2 0M2059.3 937.0a2.6 2.6 0 1 0 5.2 0a2.6 2.6 0 1 0 -5.2 0M2089.9 962.2a2.6 2.6 0 1 0 5.2 0a2.6 2.6 0 1 0 -5.2 0M1978.4 941.8a2.6 2.6 0 1 0 5.2 0a2.6 2.6 0 1 0 -5.2 0M2010.6 954.4a2.6 2.6 0 1 0 5.2 0a2.6 2.6 0 1 0 -5.2 0M1905.7 989.8a2.6 2.6 0 1 0 5.2 0a2.6 2.6 0 1 0 -5.2 0M1791.9 998.5a2.6 2.6 0 1 0 5.2 0a2.6 2.6 0 1 0 -5.2 0M2064.3 913.5a2.6 2.6 0 1 0 5.2 0a2.6 2.6 0 1 0 -5.2 0M1920.1 988.1a2.6 2.6 0 1 0 5.2 0a2.6 2.6 0 1 0 -5.2 0M1966.7 939.1a2.6 2.6 0 1 0 5.2 0a2.6 2.6 0 1 0 -5.2 0M2071.8 945.1a2.6 2.6 0 1 0 5.2 0a2.6 2.6 0 1 0 -5.2 0M1922.0 949.2a2.6 2.6 0 1 0 5.2 0a2.6 2.6 0 1 0 -5.2 0M1968.6 892.4a2.6 2.6 0 1 0 5.2 0a2.6 2.6 0 1 0 -5.2 0M1738.2 1002.7a2.6 2.6 0 1 0 5.2 0a2.6 2.6 0 1 0 -5.2 0M2067.5 932.5a2.6 2.6 0 1 0 5.2 0a2.6 2.6 0 1 0 -5.2 0M1848.5 942.3a2.6 2.6 0 1 0 5.2 0a2.6 2.6 0 1 0 -5.2 0M1808.2 969.4a2.6 2.6 0 1 0 5.2 0a2.6 2.6 0 1 0 -5.2 0M1799.1 977.1a2.6 2.6 0 1 0 5.2 0a2.6 2.6 0 1 0 -5.2 0M1836.5 930.7a2.6 2.6 0 1 0 5.2 0a2.6 2.6 0 1 0 -5.2 0M1958.6 964.4a2.6 2.6 0 1 0 5.2 0a2.6 2.6 0 1 0 -5.2 0M1955.1 988.4a2.6 2.6 0 1 0 5.2 0a2.6 2.6 0 1 0 -5.2 0M1756.8 1017.3a2.6 2.6 0 1 0 5.2 0a2.6 2.6 0 1 0 -5.2 0M2078.3 935.8a2.6 2.6 0 1 0 5.2 0a2.6 2.6 0 1 0 -5.2 0M2059.7 918.1a2.6 2.6 0 1 0 5.2 0a2.6 2.6 0 1 0 -5.2 0M1940.7 971.6a2.6 2.6 0 1 0 5.2 0a2.6 2.6 0 1 0 -5.2 0M2010.5 949.1a2.6 2.6 0 1 0 5.2 0a2.6 2.6 0 1 0 -5.2 0M1860.7 983.0a2.6 2.6 0 1 0 5.2 0a2.6 2.6 0 1 0 -5.2 0M1903.7 995.8a2.6 2.6 0 1 0 5.2 0a2.6 2.6 0 1 0 -5.2 0M1735.1 987.7a2.6 2.6 0 1 0 5.2 0a2.6 2.6 0 1 0 -5.2 0M2040.3 920.3a2.6 2.6 0 1 0 5.2 0a2.6 2.6 0 1 0 -5.2 0M1845.5 928.6a2.6 2.6 0 1 0 5.2 0a2.6 2.6 0 1 0 -5.2 0M1740.5 997.6a2.6 2.6 0 1 0 5.2 0a2.6 2.6 0 1 0 -5.2 0M1788.3 1008.2a2.6 2.6 0 1 0 5.2 0a2.6 2.6 0 1 0 -5.2 0M1812.6 959.1a2.6 2.6 0 1 0 5.2 0a2.6 2.6 0 1 0 -5.2 0M1833.4 945.6a2.6 2.6 0 1 0 5.2 0a2.6 2.6 0 1 0 -5.2 0M1999.8 945.8a2.6 2.6 0 1 0 5.2 0a2.6 2.6 0 1 0 -5.2 0M1754.1 1006.8a2.6 2.6 0 1 0 5.2 0a2.6 2.6 0 1 0 -5.2 0M1990.1 946.2a2.6 2.6 0 1 0 5.2 0a2.6 2.6 0 1 0 -5.2 0M1954.9 949.8a2.6 2.6 0 1 0 5.2 0a2.6 2.6 0 1 0 -5.2 0M1916.1 988.6a2.6 2.6 0 1 0 5.2 0a2.6 2.6 0 1 0 -5.2 0M1757.4 1009.9a2.6 2.6 0 1 0 5.2 0a2.6 2.6 0 1 0 -5.2 0M1748.4 1010.6a2.6 2.6 0 1 0 5.2 0a2.6 2.6 0 1 0 -5.2 0M1850.2 937.1a2.6 2.6 0 1 0 5.2 0a2.6 2.6 0 1 0 -5.2 0M1788.3 1002.4a2.6 2.6 0 1 0 5.2 0a2.6 2.6 0 1 0 -5.2 0M1848.4 946.8a2.6 2.6 0 1 0 5.2 0a2.6 2.6 0 1 0 -5.2 0M1834.2 948.2a2.6 2.6 0 1 0 5.2 0a2.6 2.6 0 1 0 -5.2 0M2054.8 920.3a2.6 2.6 0 1 0 5.2 0a2.6 2.6 0 1 0 -5.2 0M1837.3 940.1a2.6 2.6 0 1 0 5.2 0a2.6 2.6 0 1 0 -5.2 0M1789.8 991.2a2.6 2.6 0 1 0 5.2 0a2.6 2.6 0 1 0 -5.2 0M1888.8 989.7a2.6 2.6 0 1 0 5.2 0a2.6 2.6 0 1 0 -5.2 0M1880.4 954.1a2.6 2.6 0 1 0 5.2 0a2.6 2.6 0 1 0 -5.2 0M1824.3 932.1a2.6 2.6 0 1 0 5.2 0a2.6 2.6 0 1 0 -5.2 0M1956.3 954.9a2.6 2.6 0 1 0 5.2 0a2.6 2.6 0 1 0 -5.2 0M1800.7 1000.5a2.6 2.6 0 1 0 5.2 0a2.6 2.6 0 1 0 -5.2 0M1915.9 983.4a2.6 2.6 0 1 0 5.2 0a2.6 2.6 0 1 0 -5.2 0M1845.5 930.2a2.6 2.6 0 1 0 5.2 0a2.6 2.6 0 1 0 -5.2 0M1903.0 991.9a2.6 2.6 0 1 0 5.2 0a2.6 2.6 0 1 0 -5.2 0M1856.7 929.2a2.6 2.6 0 1 0 5.2 0a2.6 2.6 0 1 0 -5.2 0M1857.4 963.9a2.6 2.6 0 1 0 5.2 0a2.6 2.6 0 1 0 -5.2 0M2051.5 946.6a2.6 2.6 0 1 0 5.2 0a2.6 2.6 0 1 0 -5.2 0M1971.5 946.2a2.6 2.6 0 1 0 5.2 0a2.6 2.6 0 1 0 -5.2 0M1933.2 967.8a2.6 2.6 0 1 0 5.2 0a2.6 2.6 0 1 0 -5.2 0M1849.9 936.7a2.6 2.6 0 1 0 5.2 0a2.6 2.6 0 1 0 -5.2 0M1789.0 998.3a2.6 2.6 0 1 0 5.2 0a2.6 2.6 0 1 0 -5.2 0M2043.9 933.9a2.6 2.6 0 1 0 5.2 0a2.6 2.6 0 1 0 -5.2 0M2038.7 889.5a2.6 2.6 0 1 0 5.2 0a2.6 2.6 0 1 0 -5.2 0M1803.8 982.4a2.6 2.6 0 1 0 5.2 0a2.6 2.6 0 1 0 -5.2 0M2070.7 946.5a2.6 2.6 0 1 0 5.2 0a2.6 2.6 0 1 0 -5.2 0M2059.3 907.6a2.6 2.6 0 1 0 5.2 0a2.6 2.6 0 1 0 -5.2 0M1845.7 954.4a2.6 2.6 0 1 0 5.2 0a2.6 2.6 0 1 0 -5.2 0M1948.7 966.7a2.6 2.6 0 1 0 5.2 0a2.6 2.6 0 1 0 -5.2 0M1980.0 955.3a2.6 2.6 0 1 0 5.2 0a2.6 2.6 0 1 0 -5.2 0M2075.7 948.9a2.6 2.6 0 1 0 5.2 0a2.6 2.6 0 1 0 -5.2 0M2003.9 944.0a2.6 2.6 0 1 0 5.2 0a2.6 2.6 0 1 0 -5.2 0M2017.7 954.6a2.6 2.6 0 1 0 5.2 0a2.6 2.6 0 1 0 -5.2 0M2071.9 959.5a2.6 2.6 0 1 0 5.2 0a2.6 2.6 0 1 0 -5.2 0M1824.4 954.3a2.6 2.6 0 1 0 5.2 0a2.6 2.6 0 1 0 -5.2 0M1748.1 1005.1a2.6 2.6 0 1 0 5.2 0a2.6 2.6 0 1 0 -5.2 0M1866.2 977.1a2.6 2.6 0 1 0 5.2 0a2.6 2.6 0 1 0 -5.2 0M1917.7 974.7a2.6 2.6 0 1 0 5.2 0a2.6 2.6 0 1 0 -5.2 0M1846.7 937.1a2.6 2.6 0 1 0 5.2 0a2.6 2.6 0 1 0 -5.2 0M1849.7 951.9a2.6 2.6 0 1 0 5.2 0a2.6 2.6 0 1 0 -5.2 0M2022.1 938.9a2.6 2.6 0 1 0 5.2 0a2.6 2.6 0 1 0 -5.2 0M1813.9 962.2a2.6 2.6 0 1 0 5.2 0a2.6 2.6 0 1 0 -5.2 0M1938.9 954.9a2.6 2.6 0 1 0 5.2 0a2.6 2.6 0 1 0 -5.2 0M1984.3 986.7a2.6 2.6 0 1 0 5.2 0a2.6 2.6 0 1 0 -5.2 0M1760.3 1006.4a2.6 2.6 0 1 0 5.2 0a2.6 2.6 0 1 0 -5.2 0M1848.6 943.8a2.6 2.6 0 1 0 5.2 0a2.6 2.6 0 1 0 -5.2 0M1884.9 994.2a2.6 2.6 0 1 0 5.2 0a2.6 2.6 0 1 0 -5.2 0M2084.4 950.4a2.6 2.6 0 1 0 5.2 0a2.6 2.6 0 1 0 -5.2 0M1821.7 953.5a2.6 2.6 0 1 0 5.2 0a2.6 2.6 0 1 0 -5.2 0M1952.7 961.5a2.6 2.6 0 1 0 5.2 0a2.6 2.6 0 1 0 -5.2 0M1909.6 1008.9a2.6 2.6 0 1 0 5.2 0a2.6 2.6 0 1 0 -5.2 0M1995.2 945.8a2.6 2.6 0 1 0 5.2 0a2.6 2.6 0 1 0 -5.2 0M1811.0 969.4a2.6 2.6 0 1 0 5.2 0a2.6 2.6 0 1 0 -5.2 0M2037.1 934.5a2.6 2.6 0 1 0 5.2 0a2.6 2.6 0 1 0 -5.2 0M1987.2 949.8a2.6 2.6 0 1 0 5.2 0a2.6 2.6 0 1 0 -5.2 0M1807.5 968.5a2.6 2.6 0 1 0 5.2 0a2.6 2.6 0 1 0 -5.2 0M1832.4 955.7a2.6 2.6 0 1 0 5.2 0a2.6 2.6 0 1 0 -5.2 0M2052.5 962.5a2.6 2.6 0 1 0 5.2 0a2.6 2.6 0 1 0 -5.2 0M1869.2 992.4a2.6 2.6 0 1 0 5.2 0a2.6 2.6 0 1 0 -5.2 0M2019.3 925.6a2.6 2.6 0 1 0 5.2 0a2.6 2.6 0 1 0 -5.2 0M1837.9 946.9a2.6 2.6 0 1 0 5.2 0a2.6 2.6 0 1 0 -5.2 0M1938.7 962.9a2.6 2.6 0 1 0 5.2 0a2.6 2.6 0 1 0 -5.2 0M2032.2 951.8a2.6 2.6 0 1 0 5.2 0a2.6 2.6 0 1 0 -5.2 0M1993.4 965.3a2.6 2.6 0 1 0 5.2 0a2.6 2.6 0 1 0 -5.2 0M1952.2 957.7a2.6 2.6 0 1 0 5.2 0a2.6 2.6 0 1 0 -5.2 0M1878.4 1001.7a2.6 2.6 0 1 0 5.2 0a2.6 2.6 0 1 0 -5.2 0M1932.7 970.3a2.6 2.6 0 1 0 5.2 0a2.6 2.6 0 1 0 -5.2 0M1842.4 942.1a2.6 2.6 0 1 0 5.2 0a2.6 2.6 0 1 0 -5.2 0M1808.6 965.1a2.6 2.6 0 1 0 5.2 0a2.6 2.6 0 1 0 -5.2 0M1804.5 978.6a2.6 2.6 0 1 0 5.2 0a2.6 2.6 0 1 0 -5.2 0M1997.6 964.4a2.6 2.6 0 1 0 5.2 0a2.6 2.6 0 1 0 -5.2 0M1959.0 957.8a2.6 2.6 0 1 0 5.2 0a2.6 2.6 0 1 0 -5.2 0M2086.6 949.1a2.6 2.6 0 1 0 5.2 0a2.6 2.6 0 1 0 -5.2 0M1945.0 948.7a2.6 2.6 0 1 0 5.2 0a2.6 2.6 0 1 0 -5.2 0M1802.8 971.4a2.6 2.6 0 1 0 5.2 0a2.6 2.6 0 1 0 -5.2 0M2075.1 947.7a2.6 2.6 0 1 0 5.2 0a2.6 2.6 0 1 0 -5.2 0M1730.4 994.6a2.6 2.6 0 1 0 5.2 0a2.6 2.6 0 1 0 -5.2 0M1852.3 958.4a2.6 2.6 0 1 0 5.2 0a2.6 2.6 0 1 0 -5.2 0M2049.2 937.5a2.6 2.6 0 1 0 5.2 0a2.6 2.6 0 1 0 -5.2 0M1861.5 981.5a2.6 2.6 0 1 0 5.2 0a2.6 2.6 0 1 0 -5.2 0M2034.0 922.7a2.6 2.6 0 1 0 5.2 0a2.6 2.6 0 1 0 -5.2 0M1789.1 980.7a2.6 2.6 0 1 0 5.2 0a2.6 2.6 0 1 0 -5.2 0M1849.4 988.7a2.6 2.6 0 1 0 5.2 0a2.6 2.6 0 1 0 -5.2 0M1924.6 971.9a2.6 2.6 0 1 0 5.2 0a2.6 2.6 0 1 0 -5.2 0M2085.2 950.1a2.6 2.6 0 1 0 5.2 0a2.6 2.6 0 1 0 -5.2 0M1932.2 951.1a2.6 2.6 0 1 0 5.2 0a2.6 2.6 0 1 0 -5.2 0M2057.4 927.6a2.6 2.6 0 1 0 5.2 0a2.6 2.6 0 1 0 -5.2 0M1930.1 967.5a2.6 2.6 0 1 0 5.2 0a2.6 2.6 0 1 0 -5.2 0M1890.6 981.9a2.6 2.6 0 1 0 5.2 0a2.6 2.6 0 1 0 -5.2 0M1830.9 940.4a2.6 2.6 0 1 0 5.2 0a2.6 2.6 0 1 0 -5.2 0M1873.6 1002.2a2.6 2.6 0 1 0 5.2 0a2.6 2.6 0 1 0 -5.2 0M1730.1 995.4a2.6 2.6 0 1 0 5.2 0a2.6 2.6 0 1 0 -5.2 0M1856.7 963.5a2.6 2.6 0 1 0 5.2 0a2.6 2.6 0 1 0 -5.2 0M1817.3 946.2a2.6 2.6 0 1 0 5.2 0a2.6 2.6 0 1 0 -5.2 0M1807.4 974.9a2.6 2.6 0 1 0 5.2 0a2.6 2.6 0 1 0 -5.2 0M1834.6 941.4a2.6 2.6 0 1 0 5.2 0a2.6 2.6 0 1 0 -5.2 0M1940.2 964.9a2.6 2.6 0 1 0 5.2 0a2.6 2.6 0 1 0 -5.2 0M1956.6 969.2a2.6 2.6 0 1 0 5.2 0a2.6 2.6 0 1 0 -5.2 0M1827.5 950.5a2.6 2.6 0 1 0 5.2 0a2.6 2.6 0 1 0 -5.2 0M2030.4 967.1a2.6 2.6 0 1 0 5.2 0a2.6 2.6 0 1 0 -5.2 0M2086.2 938.0a2.6 2.6 0 1 0 5.2 0a2.6 2.6 0 1 0 -5.2 0M1849.9 953.8a2.6 2.6 0 1 0 5.2 0a2.6 2.6 0 1 0 -5.2 0M2050.8 969.3a2.6 2.6 0 1 0 5.2 0a2.6 2.6 0 1 0 -5.2 0M2078.1 951.7a2.6 2.6 0 1 0 5.2 0a2.6 2.6 0 1 0 -5.2 0M1815.5 963.2a2.6 2.6 0 1 0 5.2 0a2.6 2.6 0 1 0 -5.2 0M1851.7 940.4a2.6 2.6 0 1 0 5.2 0a2.6 2.6 0 1 0 -5.2 0M2056.1 922.9a2.6 2.6 0 1 0 5.2 0a2.6 2.6 0 1 0 -5.2 0M1932.1 967.5a2.6 2.6 0 1 0 5.2 0a2.6 2.6 0 1 0 -5.2 0M1813.9 952.5a2.6 2.6 0 1 0 5.2 0a2.6 2.6 0 1 0 -5.2 0M2060.2 927.7a2.6 2.6 0 1 0 5.2 0a2.6 2.6 0 1 0 -5.2 0M2006.5 945.3a2.6 2.6 0 1 0 5.2 0a2.6 2.6 0 1 0 -5.2 0M1809.9 983.9a2.6 2.6 0 1 0 5.2 0a2.6 2.6 0 1 0 -5.2 0M1872.0 984.6a2.6 2.6 0 1 0 5.2 0a2.6 2.6 0 1 0 -5.2 0M1889.9 996.8a2.6 2.6 0 1 0 5.2 0a2.6 2.6 0 1 0 -5.2 0M1813.5 962.2a2.6 2.6 0 1 0 5.2 0a2.6 2.6 0 1 0 -5.2 0M1838.5 938.8a2.6 2.6 0 1 0 5.2 0a2.6 2.6 0 1 0 -5.2 0M2026.4 938.2a2.6 2.6 0 1 0 5.2 0a2.6 2.6 0 1 0 -5.2 0M1834.5 909.1a2.6 2.6 0 1 0 5.2 0a2.6 2.6 0 1 0 -5.2 0M1893.2 962.1a2.6 2.6 0 1 0 5.2 0a2.6 2.6 0 1 0 -5.2 0M2054.0 940.6a2.6 2.6 0 1 0 5.2 0a2.6 2.6 0 1 0 -5.2 0M2017.2 912.4a2.6 2.6 0 1 0 5.2 0a2.6 2.6 0 1 0 -5.2 0M1802.2 972.3a2.6 2.6 0 1 0 5.2 0a2.6 2.6 0 1 0 -5.2 0M2076.1 949.2a2.6 2.6 0 1 0 5.2 0a2.6 2.6 0 1 0 -5.2 0M1730.0 988.4a2.6 2.6 0 1 0 5.2 0a2.6 2.6 0 1 0 -5.2 0M2023.9 931.9a2.6 2.6 0 1 0 5.2 0a2.6 2.6 0 1 0 -5.2 0M2087.0 956.6a2.6 2.6 0 1 0 5.2 0a2.6 2.6 0 1 0 -5.2 0M2065.7 929.8a2.6 2.6 0 1 0 5.2 0a2.6 2.6 0 1 0 -5.2 0M2062.8 893.2a2.6 2.6 0 1 0 5.2 0a2.6 2.6 0 1 0 -5.2 0M1783.8 980.2a2.6 2.6 0 1 0 5.2 0a2.6 2.6 0 1 0 -5.2 0M1831.6 950.3a2.6 2.6 0 1 0 5.2 0a2.6 2.6 0 1 0 -5.2 0M1984.3 961.6a2.6 2.6 0 1 0 5.2 0a2.6 2.6 0 1 0 -5.2 0M2039.1 908.1a2.6 2.6 0 1 0 5.2 0a2.6 2.6 0 1 0 -5.2 0M1841.2 936.0a2.6 2.6 0 1 0 5.2 0a2.6 2.6 0 1 0 -5.2 0M2004.8 937.0a2.6 2.6 0 1 0 5.2 0a2.6 2.6 0 1 0 -5.2 0M1973.6 939.7a2.6 2.6 0 1 0 5.2 0a2.6 2.6 0 1 0 -5.2 0M1960.8 943.2a2.6 2.6 0 1 0 5.2 0a2.6 2.6 0 1 0 -5.2 0M1759.5 1008.6a2.6 2.6 0 1 0 5.2 0a2.6 2.6 0 1 0 -5.2 0M1912.6 993.5a2.6 2.6 0 1 0 5.2 0a2.6 2.6 0 1 0 -5.2 0M1809.8 962.1a2.6 2.6 0 1 0 5.2 0a2.6 2.6 0 1 0 -5.2 0M1870.1 986.9a2.6 2.6 0 1 0 5.2 0a2.6 2.6 0 1 0 -5.2 0M1865.6 987.1a2.6 2.6 0 1 0 5.2 0a2.6 2.6 0 1 0 -5.2 0M1985.0 953.3a2.6 2.6 0 1 0 5.2 0a2.6 2.6 0 1 0 -5.2 0M1765.4 992.1a2.6 2.6 0 1 0 5.2 0a2.6 2.6 0 1 0 -5.2 0M1876.1 983.8a2.6 2.6 0 1 0 5.2 0a2.6 2.6 0 1 0 -5.2 0M1849.7 927.3a2.6 2.6 0 1 0 5.2 0a2.6 2.6 0 1 0 -5.2 0M1885.3 987.4a2.6 2.6 0 1 0 5.2 0a2.6 2.6 0 1 0 -5.2 0M1967.0 964.7a2.6 2.6 0 1 0 5.2 0a2.6 2.6 0 1 0 -5.2 0M1931.0 950.7a2.6 2.6 0 1 0 5.2 0a2.6 2.6 0 1 0 -5.2 0M2015.0 942.5a2.6 2.6 0 1 0 5.2 0a2.6 2.6 0 1 0 -5.2 0M2057.9 939.4a2.6 2.6 0 1 0 5.2 0a2.6 2.6 0 1 0 -5.2 0M1885.5 977.1a2.6 2.6 0 1 0 5.2 0a2.6 2.6 0 1 0 -5.2 0M1762.3 1018.3a2.6 2.6 0 1 0 5.2 0a2.6 2.6 0 1 0 -5.2 0M1752.3 1005.1a2.6 2.6 0 1 0 5.2 0a2.6 2.6 0 1 0 -5.2 0M1765.9 966.5a2.6 2.6 0 1 0 5.2 0a2.6 2.6 0 1 0 -5.2 0M2023.2 932.2a2.6 2.6 0 1 0 5.2 0a2.6 2.6 0 1 0 -5.2 0M1862.3 992.0a2.6 2.6 0 1 0 5.2 0a2.6 2.6 0 1 0 -5.2 0M1890.4 984.6a2.6 2.6 0 1 0 5.2 0a2.6 2.6 0 1 0 -5.2 0M1727.9 1019.3a2.6 2.6 0 1 0 5.2 0a2.6 2.6 0 1 0 -5.2 0M1755.0 1006.5a2.6 2.6 0 1 0 5.2 0a2.6 2.6 0 1 0 -5.2 0M2084.9 929.4a2.6 2.6 0 1 0 5.2 0a2.6 2.6 0 1 0 -5.2 0M1728.9 1009.1a2.6 2.6 0 1 0 5.2 0a2.6 2.6 0 1 0 -5.2 0M2022.0 938.3a2.6 2.6 0 1 0 5.2 0a2.6 2.6 0 1 0 -5.2 0M2042.8 948.9a2.6 2.6 0 1 0 5.2 0a2.6 2.6 0 1 0 -5.2 0M1750.3 1018.3a2.6 2.6 0 1 0 5.2 0a2.6 2.6 0 1 0 -5.2 0M1819.7 959.6a2.6 2.6 0 1 0 5.2 0a2.6 2.6 0 1 0 -5.2 0M2020.0 908.7a2.6 2.6 0 1 0 5.2 0a2.6 2.6 0 1 0 -5.2 0M2024.2 968.6a2.6 2.6 0 1 0 5.2 0a2.6 2.6 0 1 0 -5.2 0M1824.3 963.5a2.6 2.6 0 1 0 5.2 0a2.6 2.6 0 1 0 -5.2 0M1943.3 977.2a2.6 2.6 0 1 0 5.2 0a2.6 2.6 0 1 0 -5.2 0M1934.6 955.8a2.6 2.6 0 1 0 5.2 0a2.6 2.6 0 1 0 -5.2 0M2020.0 929.2a2.6 2.6 0 1 0 5.2 0a2.6 2.6 0 1 0 -5.2 0M1954.0 983.6a2.6 2.6 0 1 0 5.2 0a2.6 2.6 0 1 0 -5.2 0M1960.4 959.7a2.6 2.6 0 1 0 5.2 0a2.6 2.6 0 1 0 -5.2 0M1951.3 947.8a2.6 2.6 0 1 0 5.2 0a2.6 2.6 0 1 0 -5.2 0M1993.5 966.9a2.6 2.6 0 1 0 5.2 0a2.6 2.6 0 1 0 -5.2 0M2032.9 930.2a2.6 2.6 0 1 0 5.2 0a2.6 2.6 0 1 0 -5.2 0M1861.4 986.1a2.6 2.6 0 1 0 5.2 0a2.6 2.6 0 1 0 -5.2 0M1769.3 1004.8a2.6 2.6 0 1 0 5.2 0a2.6 2.6 0 1 0 -5.2 0M1766.7 997.9a2.6 2.6 0 1 0 5.2 0a2.6 2.6 0 1 0 -5.2 0M1960.6 962.4a2.6 2.6 0 1 0 5.2 0a2.6 2.6 0 1 0 -5.2 0M1947.0 947.8a2.6 2.6 0 1 0 5.2 0a2.6 2.6 0 1 0 -5.2 0M2020.2 894.4a2.6 2.6 0 1 0 5.2 0a2.6 2.6 0 1 0 -5.2 0M1944.5 962.3a2.6 2.6 0 1 0 5.2 0a2.6 2.6 0 1 0 -5.2 0M2044.5 937.8a2.6 2.6 0 1 0 5.2 0a2.6 2.6 0 1 0 -5.2 0M1915.3 986.0a2.6 2.6 0 1 0 5.2 0a2.6 2.6 0 1 0 -5.2 0M1840.3 968.2a2.6 2.6 0 1 0 5.2 0a2.6 2.6 0 1 0 -5.2 0M1829.4 941.5a2.6 2.6 0 1 0 5.2 0a2.6 2.6 0 1 0 -5.2 0M1824.1 977.8a2.6 2.6 0 1 0 5.2 0a2.6 2.6 0 1 0 -5.2 0M1813.5 977.3a2.6 2.6 0 1 0 5.2 0a2.6 2.6 0 1 0 -5.2 0M1932.1 954.2a2.6 2.6 0 1 0 5.2 0a2.6 2.6 0 1 0 -5.2 0M1766.7 1019.3a2.6 2.6 0 1 0 5.2 0a2.6 2.6 0 1 0 -5.2 0M2084.6 964.8a2.6 2.6 0 1 0 5.2 0a2.6 2.6 0 1 0 -5.2 0M1926.1 968.5a2.6 2.6 0 1 0 5.2 0a2.6 2.6 0 1 0 -5.2 0M1845.1 947.1a2.6 2.6 0 1 0 5.2 0a2.6 2.6 0 1 0 -5.2 0M1850.4 902.6a2.6 2.6 0 1 0 5.2 0a2.6 2.6 0 1 0 -5.2 0M2021.3 960.1a2.6 2.6 0 1 0 5.2 0a2.6 2.6 0 1 0 -5.2 0M1859.0 984.8a2.6 2.6 0 1 0 5.2 0a2.6 2.6 0 1 0 -5.2 0M1998.9 941.2a2.6 2.6 0 1 0 5.2 0a2.6 2.6 0 1 0 -5.2 0M1983.0 958.3a2.6 2.6 0 1 0 5.2 0a2.6 2.6 0 1 0 -5.2 0M2044.3 899.3a2.6 2.6 0 1 0 5.2 0a2.6 2.6 0 1 0 -5.2 0M1850.1 926.1a2.6 2.6 0 1 0 5.2 0a2.6 2.6 0 1 0 -5.2 0M1933.2 995.0a2.6 2.6 0 1 0 5.2 0a2.6 2.6 0 1 0 -5.2 0M1816.4 954.9a2.6 2.6 0 1 0 5.2 0a2.6 2.6 0 1 0 -5.2 0M1860.4 979.8a2.6 2.6 0 1 0 5.2 0a2.6 2.6 0 1 0 -5.2 0M1758.7 1004.0a2.6 2.6 0 1 0 5.2 0a2.6 2.6 0 1 0 -5.2 0M1980.6 952.2a2.6 2.6 0 1 0 5.2 0a2.6 2.6 0 1 0 -5.2 0M2076.5 934.1a2.6 2.6 0 1 0 5.2 0a2.6 2.6 0 1 0 -5.2 0M1730.0 1000.1a2.6 2.6 0 1 0 5.2 0a2.6 2.6 0 1 0 -5.2 0M1919.0 985.6a2.6 2.6 0 1 0 5.2 0a2.6 2.6 0 1 0 -5.2 0M1856.0 960.9a2.6 2.6 0 1 0 5.2 0a2.6 2.6 0 1 0 -5.2 0M2021.9 975.9a2.6 2.6 0 1 0 5.2 0a2.6 2.6 0 1 0 -5.2 0M1991.9 942.1a2.6 2.6 0 1 0 5.2 0a2.6 2.6 0 1 0 -5.2 0M2020.9 953.6a2.6 2.6 0 1 0 5.2 0a2.6 2.6 0 1 0 -5.2 0M1887.5 948.8a2.6 2.6 0 1 0 5.2 0a2.6 2.6 0 1 0 -5.2 0M2024.0 933.2a2.6 2.6 0 1 0 5.2 0a2.6 2.6 0 1 0 -5.2 0M2043.3 916.5a2.6 2.6 0 1 0 5.2 0a2.6 2.6 0 1 0 -5.2 0M1785.8 992.5a2.6 2.6 0 1 0 5.2 0a2.6 2.6 0 1 0 -5.2 0M1837.4 931.6a2.6 2.6 0 1 0 5.2 0a2.6 2.6 0 1 0 -5.2 0M2057.4 920.1a2.6 2.6 0 1 0 5.2 0a2.6 2.6 0 1 0 -5.2 0M1745.8 1010.4a2.6 2.6 0 1 0 5.2 0a2.6 2.6 0 1 0 -5.2 0M1954.8 960.2a2.6 2.6 0 1 0 5.2 0a2.6 2.6 0 1 0 -5.2 0M1830.9 960.5a2.6 2.6 0 1 0 5.2 0a2.6 2.6 0 1 0 -5.2 0M1828.6 970.6a2.6 2.6 0 1 0 5.2 0a2.6 2.6 0 1 0 -5.2 0M1897.7 995.3a2.6 2.6 0 1 0 5.2 0a2.6 2.6 0 1 0 -5.2 0M1882.4 988.8a2.6 2.6 0 1 0 5.2 0a2.6 2.6 0 1 0 -5.2 0M1971.3 947.4a2.6 2.6 0 1 0 5.2 0a2.6 2.6 0 1 0 -5.2 0M1947.7 953.9a2.6 2.6 0 1 0 5.2 0a2.6 2.6 0 1 0 -5.2 0M1984.6 969.1a2.6 2.6 0 1 0 5.2 0a2.6 2.6 0 1 0 -5.2 0M2004.2 942.1a2.6 2.6 0 1 0 5.2 0a2.6 2.6 0 1 0 -5.2 0M1951.5 974.5a2.6 2.6 0 1 0 5.2 0a2.6 2.6 0 1 0 -5.2 0M2041.4 899.6a2.6 2.6 0 1 0 5.2 0a2.6 2.6 0 1 0 -5.2 0M1839.1 956.7a2.6 2.6 0 1 0 5.2 0a2.6 2.6 0 1 0 -5.2 0M1731.5 1001.3a2.6 2.6 0 1 0 5.2 0a2.6 2.6 0 1 0 -5.2 0M1830.0 979.2a2.6 2.6 0 1 0 5.2 0a2.6 2.6 0 1 0 -5.2 0M1798.6 984.9a2.6 2.6 0 1 0 5.2 0a2.6 2.6 0 1 0 -5.2 0M2036.1 907.0a2.6 2.6 0 1 0 5.2 0a2.6 2.6 0 1 0 -5.2 0M1751.4 1015.4a2.6 2.6 0 1 0 5.2 0a2.6 2.6 0 1 0 -5.2 0M1958.2 955.7a2.6 2.6 0 1 0 5.2 0a2.6 2.6 0 1 0 -5.2 0M1849.3 911.5a2.6 2.6 0 1 0 5.2 0a2.6 2.6 0 1 0 -5.2 0M1801.6 977.4a2.6 2.6 0 1 0 5.2 0a2.6 2.6 0 1 0 -5.2 0M1915.2 967.9a2.6 2.6 0 1 0 5.2 0a2.6 2.6 0 1 0 -5.2 0M1741.6 1009.3a2.6 2.6 0 1 0 5.2 0a2.6 2.6 0 1 0 -5.2 0M1829.6 975.3a2.6 2.6 0 1 0 5.2 0a2.6 2.6 0 1 0 -5.2 0M1914.8 982.4a2.6 2.6 0 1 0 5.2 0a2.6 2.6 0 1 0 -5.2 0M1903.6 994.2a2.6 2.6 0 1 0 5.2 0a2.6 2.6 0 1 0 -5.2 0M1851.2 921.1a2.6 2.6 0 1 0 5.2 0a2.6 2.6 0 1 0 -5.2 0M1912.5 979.4a2.6 2.6 0 1 0 5.2 0a2.6 2.6 0 1 0 -5.2 0M1982.7 956.7a2.6 2.6 0 1 0 5.2 0a2.6 2.6 0 1 0 -5.2 0M2059.3 929.7a2.6 2.6 0 1 0 5.2 0a2.6 2.6 0 1 0 -5.2 0M1857.3 983.4a2.6 2.6 0 1 0 5.2 0a2.6 2.6 0 1 0 -5.2 0M1961.7 977.9a2.6 2.6 0 1 0 5.2 0a2.6 2.6 0 1 0 -5.2 0M1843.8 951.9a2.6 2.6 0 1 0 5.2 0a2.6 2.6 0 1 0 -5.2 0M1846.5 931.2a2.6 2.6 0 1 0 5.2 0a2.6 2.6 0 1 0 -5.2 0M1836.6 928.5a2.6 2.6 0 1 0 5.2 0a2.6 2.6 0 1 0 -5.2 0M2023.7 938.5a2.6 2.6 0 1 0 5.2 0a2.6 2.6 0 1 0 -5.2 0M1956.4 948.8a2.6 2.6 0 1 0 5.2 0a2.6 2.6 0 1 0 -5.2 0M1774.4 1002.7a2.6 2.6 0 1 0 5.2 0a2.6 2.6 0 1 0 -5.2 0M1848.3 967.3a2.6 2.6 0 1 0 5.2 0a2.6 2.6 0 1 0 -5.2 0M2014.1 944.0a2.6 2.6 0 1 0 5.2 0a2.6 2.6 0 1 0 -5.2 0M1878.0 986.2a2.6 2.6 0 1 0 5.2 0a2.6 2.6 0 1 0 -5.2 0M1974.0 951.9a2.6 2.6 0 1 0 5.2 0a2.6 2.6 0 1 0 -5.2 0M1809.9 979.0a2.6 2.6 0 1 0 5.2 0a2.6 2.6 0 1 0 -5.2 0M1744.3 1000.3a2.6 2.6 0 1 0 5.2 0a2.6 2.6 0 1 0 -5.2 0M1867.5 984.4a2.6 2.6 0 1 0 5.2 0a2.6 2.6 0 1 0 -5.2 0M1829.1 978.0a2.6 2.6 0 1 0 5.2 0a2.6 2.6 0 1 0 -5.2 0M1850.6 926.6a2.6 2.6 0 1 0 5.2 0a2.6 2.6 0 1 0 -5.2 0M2073.8 936.4a2.6 2.6 0 1 0 5.2 0a2.6 2.6 0 1 0 -5.2 0M1843.9 934.7a2.6 2.6 0 1 0 5.2 0a2.6 2.6 0 1 0 -5.2 0M1828.0 976.1a2.6 2.6 0 1 0 5.2 0a2.6 2.6 0 1 0 -5.2 0M1783.6 1005.7a2.6 2.6 0 1 0 5.2 0a2.6 2.6 0 1 0 -5.2 0M2027.1 961.4a2.6 2.6 0 1 0 5.2 0a2.6 2.6 0 1 0 -5.2 0M2062.6 921.1a2.6 2.6 0 1 0 5.2 0a2.6 2.6 0 1 0 -5.2 0M1846.6 872.1a2.6 2.6 0 1 0 5.2 0a2.6 2.6 0 1 0 -5.2 0M2033.1 918.4a2.6 2.6 0 1 0 5.2 0a2.6 2.6 0 1 0 -5.2 0M1819.0 939.7a2.6 2.6 0 1 0 5.2 0a2.6 2.6 0 1 0 -5.2 0M1795.5 980.7a2.6 2.6 0 1 0 5.2 0a2.6 2.6 0 1 0 -5.2 0M1916.1 971.1a2.6 2.6 0 1 0 5.2 0a2.6 2.6 0 1 0 -5.2 0M2003.0 922.5a2.6 2.6 0 1 0 5.2 0a2.6 2.6 0 1 0 -5.2 0M1876.7 985.6a2.6 2.6 0 1 0 5.2 0a2.6 2.6 0 1 0 -5.2 0M2005.0 938.0a2.6 2.6 0 1 0 5.2 0a2.6 2.6 0 1 0 -5.2 0M1770.1 1000.9a2.6 2.6 0 1 0 5.2 0a2.6 2.6 0 1 0 -5.2 0M2040.3 924.9a2.6 2.6 0 1 0 5.2 0a2.6 2.6 0 1 0 -5.2 0M1844.2 947.1a2.6 2.6 0 1 0 5.2 0a2.6 2.6 0 1 0 -5.2 0M1869.7 974.7a2.6 2.6 0 1 0 5.2 0a2.6 2.6 0 1 0 -5.2 0M1731.7 1006.2a2.6 2.6 0 1 0 5.2 0a2.6 2.6 0 1 0 -5.2 0M1912.8 981.9a2.6 2.6 0 1 0 5.2 0a2.6 2.6 0 1 0 -5.2 0M2044.5 937.7a2.6 2.6 0 1 0 5.2 0a2.6 2.6 0 1 0 -5.2 0M2014.3 931.8a2.6 2.6 0 1 0 5.2 0a2.6 2.6 0 1 0 -5.2 0M2014.3 950.0a2.6 2.6 0 1 0 5.2 0a2.6 2.6 0 1 0 -5.2 0M1892.9 988.2a2.6 2.6 0 1 0 5.2 0a2.6 2.6 0 1 0 -5.2 0M1938.0 967.3a2.6 2.6 0 1 0 5.2 0a2.6 2.6 0 1 0 -5.2 0M1844.4 905.8a2.6 2.6 0 1 0 5.2 0a2.6 2.6 0 1 0 -5.2 0M1927.7 966.9a2.6 2.6 0 1 0 5.2 0a2.6 2.6 0 1 0 -5.2 0M2046.4 902.4a2.6 2.6 0 1 0 5.2 0a2.6 2.6 0 1 0 -5.2 0M1850.3 956.3a2.6 2.6 0 1 0 5.2 0a2.6 2.6 0 1 0 -5.2 0M1934.3 927.8a2.6 2.6 0 1 0 5.2 0a2.6 2.6 0 1 0 -5.2 0M1823.7 965.5a2.6 2.6 0 1 0 5.2 0a2.6 2.6 0 1 0 -5.2 0M1940.3 955.0a2.6 2.6 0 1 0 5.2 0a2.6 2.6 0 1 0 -5.2 0M2011.2 924.2a2.6 2.6 0 1 0 5.2 0a2.6 2.6 0 1 0 -5.2 0M1762.0 1010.3a2.6 2.6 0 1 0 5.2 0a2.6 2.6 0 1 0 -5.2 0M1912.0 984.4a2.6 2.6 0 1 0 5.2 0a2.6 2.6 0 1 0 -5.2 0M1751.0 1014.6a2.6 2.6 0 1 0 5.2 0a2.6 2.6 0 1 0 -5.2 0M1956.4 959.1a2.6 2.6 0 1 0 5.2 0a2.6 2.6 0 1 0 -5.2 0M1809.4 976.7a2.6 2.6 0 1 0 5.2 0a2.6 2.6 0 1 0 -5.2 0M1930.1 943.6a2.6 2.6 0 1 0 5.2 0a2.6 2.6 0 1 0 -5.2 0M1788.9 990.6a2.6 2.6 0 1 0 5.2 0a2.6 2.6 0 1 0 -5.2 0M1818.7 966.5a2.6 2.6 0 1 0 5.2 0a2.6 2.6 0 1 0 -5.2 0M1907.6 993.5a2.6 2.6 0 1 0 5.2 0a2.6 2.6 0 1 0 -5.2 0M1773.0 996.1a2.6 2.6 0 1 0 5.2 0a2.6 2.6 0 1 0 -5.2 0M2074.4 953.5a2.6 2.6 0 1 0 5.2 0a2.6 2.6 0 1 0 -5.2 0M2015.8 934.8a2.6 2.6 0 1 0 5.2 0a2.6 2.6 0 1 0 -5.2 0M1772.3 1005.1a2.6 2.6 0 1 0 5.2 0a2.6 2.6 0 1 0 -5.2 0M1936.8 962.9a2.6 2.6 0 1 0 5.2 0a2.6 2.6 0 1 0 -5.2 0M1750.8 1008.2a2.6 2.6 0 1 0 5.2 0a2.6 2.6 0 1 0 -5.2 0M1790.4 979.6a2.6 2.6 0 1 0 5.2 0a2.6 2.6 0 1 0 -5.2 0M1969.0 941.5a2.6 2.6 0 1 0 5.2 0a2.6 2.6 0 1 0 -5.2 0M1959.3 949.2a2.6 2.6 0 1 0 5.2 0a2.6 2.6 0 1 0 -5.2 0M1824.8 961.2a2.6 2.6 0 1 0 5.2 0a2.6 2.6 0 1 0 -5.2 0M2063.5 904.1a2.6 2.6 0 1 0 5.2 0a2.6 2.6 0 1 0 -5.2 0M1743.2 1019.3a2.6 2.6 0 1 0 5.2 0a2.6 2.6 0 1 0 -5.2 0M2006.4 957.6a2.6 2.6 0 1 0 5.2 0a2.6 2.6 0 1 0 -5.2 0M1836.7 918.3a2.6 2.6 0 1 0 5.2 0a2.6 2.6 0 1 0 -5.2 0M1965.6 942.6a2.6 2.6 0 1 0 5.2 0a2.6 2.6 0 1 0 -5.2 0M1959.6 951.9a2.6 2.6 0 1 0 5.2 0a2.6 2.6 0 1 0 -5.2 0M2040.8 921.2a2.6 2.6 0 1 0 5.2 0a2.6 2.6 0 1 0 -5.2 0M1849.7 938.6a2.6 2.6 0 1 0 5.2 0a2.6 2.6 0 1 0 -5.2 0M1739.9 964.9a2.6 2.6 0 1 0 5.2 0a2.6 2.6 0 1 0 -5.2 0M1890.2 983.3a2.6 2.6 0 1 0 5.2 0a2.6 2.6 0 1 0 -5.2 0M1978.7 933.0a2.6 2.6 0 1 0 5.2 0a2.6 2.6 0 1 0 -5.2 0M1830.7 942.4a2.6 2.6 0 1 0 5.2 0a2.6 2.6 0 1 0 -5.2 0M1958.8 944.5a2.6 2.6 0 1 0 5.2 0a2.6 2.6 0 1 0 -5.2 0M1786.1 999.1a2.6 2.6 0 1 0 5.2 0a2.6 2.6 0 1 0 -5.2 0M1986.1 962.8a2.6 2.6 0 1 0 5.2 0a2.6 2.6 0 1 0 -5.2 0M2038.3 898.8a2.6 2.6 0 1 0 5.2 0a2.6 2.6 0 1 0 -5.2 0M1839.8 930.6a2.6 2.6 0 1 0 5.2 0a2.6 2.6 0 1 0 -5.2 0M1942.7 945.2a2.6 2.6 0 1 0 5.2 0a2.6 2.6 0 1 0 -5.2 0M1829.0 948.7a2.6 2.6 0 1 0 5.2 0a2.6 2.6 0 1 0 -5.2 0M2086.2 958.5a2.6 2.6 0 1 0 5.2 0a2.6 2.6 0 1 0 -5.2 0M2062.1 914.3a2.6 2.6 0 1 0 5.2 0a2.6 2.6 0 1 0 -5.2 0M1930.7 972.9a2.6 2.6 0 1 0 5.2 0a2.6 2.6 0 1 0 -5.2 0M1898.5 998.4a2.6 2.6 0 1 0 5.2 0a2.6 2.6 0 1 0 -5.2 0M1915.8 975.7a2.6 2.6 0 1 0 5.2 0a2.6 2.6 0 1 0 -5.2 0M1870.7 948.2a2.6 2.6 0 1 0 5.2 0a2.6 2.6 0 1 0 -5.2 0M1792.2 989.4a2.6 2.6 0 1 0 5.2 0a2.6 2.6 0 1 0 -5.2 0M1890.5 990.0a2.6 2.6 0 1 0 5.2 0a2.6 2.6 0 1 0 -5.2 0M1930.1 966.2a2.6 2.6 0 1 0 5.2 0a2.6 2.6 0 1 0 -5.2 0M1947.6 955.7a2.6 2.6 0 1 0 5.2 0a2.6 2.6 0 1 0 -5.2 0M2006.5 950.0a2.6 2.6 0 1 0 5.2 0a2.6 2.6 0 1 0 -5.2 0M2090.4 926.2a2.6 2.6 0 1 0 5.2 0a2.6 2.6 0 1 0 -5.2 0M1917.7 985.1a2.6 2.6 0 1 0 5.2 0a2.6 2.6 0 1 0 -5.2 0M1878.9 981.9a2.6 2.6 0 1 0 5.2 0a2.6 2.6 0 1 0 -5.2 0M1886.4 973.0a2.6 2.6 0 1 0 5.2 0a2.6 2.6 0 1 0 -5.2 0M2065.3 925.3a2.6 2.6 0 1 0 5.2 0a2.6 2.6 0 1 0 -5.2 0M1825.6 957.7a2.6 2.6 0 1 0 5.2 0a2.6 2.6 0 1 0 -5.2 0M1974.4 963.1a2.6 2.6 0 1 0 5.2 0a2.6 2.6 0 1 0 -5.2 0M2008.6 940.5a2.6 2.6 0 1 0 5.2 0a2.6 2.6 0 1 0 -5.2 0M1804.7 987.9a2.6 2.6 0 1 0 5.2 0a2.6 2.6 0 1 0 -5.2 0M1942.5 967.6a2.6 2.6 0 1 0 5.2 0a2.6 2.6 0 1 0 -5.2 0M1747.2 1002.2a2.6 2.6 0 1 0 5.2 0a2.6 2.6 0 1 0 -5.2 0M1847.4 951.3a2.6 2.6 0 1 0 5.2 0a2.6 2.6 0 1 0 -5.2 0M1781.8 1007.8a2.6 2.6 0 1 0 5.2 0a2.6 2.6 0 1 0 -5.2 0M1746.3 1010.4a2.6 2.6 0 1 0 5.2 0a2.6 2.6 0 1 0 -5.2 0M1854.7 946.2a2.6 2.6 0 1 0 5.2 0a2.6 2.6 0 1 0 -5.2 0M1795.4 998.9a2.6 2.6 0 1 0 5.2 0a2.6 2.6 0 1 0 -5.2 0M2071.8 964.0a2.6 2.6 0 1 0 5.2 0a2.6 2.6 0 1 0 -5.2 0M1851.3 922.9a2.6 2.6 0 1 0 5.2 0a2.6 2.6 0 1 0 -5.2 0M1909.3 984.1a2.6 2.6 0 1 0 5.2 0a2.6 2.6 0 1 0 -5.2 0M2076.4 933.7a2.6 2.6 0 1 0 5.2 0a2.6 2.6 0 1 0 -5.2 0M2047.0 952.7a2.6 2.6 0 1 0 5.2 0a2.6 2.6 0 1 0 -5.2 0M2016.2 928.7a2.6 2.6 0 1 0 5.2 0a2.6 2.6 0 1 0 -5.2 0M1781.7 1007.3a2.6 2.6 0 1 0 5.2 0a2.6 2.6 0 1 0 -5.2 0M2080.8 938.0a2.6 2.6 0 1 0 5.2 0a2.6 2.6 0 1 0 -5.2 0M2041.1 921.1a2.6 2.6 0 1 0 5.2 0a2.6 2.6 0 1 0 -5.2 0M1962.4 941.5a2.6 2.6 0 1 0 5.2 0a2.6 2.6 0 1 0 -5.2 0M1823.7 977.0a2.6 2.6 0 1 0 5.2 0a2.6 2.6 0 1 0 -5.2 0M1848.5 907.5a2.6 2.6 0 1 0 5.2 0a2.6 2.6 0 1 0 -5.2 0M1731.7 1008.2a2.6 2.6 0 1 0 5.2 0a2.6 2.6 0 1 0 -5.2 0M1836.7 919.8a2.6 2.6 0 1 0 5.2 0a2.6 2.6 0 1 0 -5.2 0M1787.9 991.7a2.6 2.6 0 1 0 5.2 0a2.6 2.6 0 1 0 -5.2 0M2081.9 929.9a2.6 2.6 0 1 0 5.2 0a2.6 2.6 0 1 0 -5.2 0M1945.8 944.7a2.6 2.6 0 1 0 5.2 0a2.6 2.6 0 1 0 -5.2 0M1844.3 959.3a2.6 2.6 0 1 0 5.2 0a2.6 2.6 0 1 0 -5.2 0M1785.1 986.7a2.6 2.6 0 1 0 5.2 0a2.6 2.6 0 1 0 -5.2 0M2069.9 927.0a2.6 2.6 0 1 0 5.2 0a2.6 2.6 0 1 0 -5.2 0M1941.7 937.6a2.6 2.6 0 1 0 5.2 0a2.6 2.6 0 1 0 -5.2 0M1869.1 986.5a2.6 2.6 0 1 0 5.2 0a2.6 2.6 0 1 0 -5.2 0M1790.8 986.9a2.6 2.6 0 1 0 5.2 0a2.6 2.6 0 1 0 -5.2 0M1804.1 971.4a2.6 2.6 0 1 0 5.2 0a2.6 2.6 0 1 0 -5.2 0M1962.4 948.7a2.6 2.6 0 1 0 5.2 0a2.6 2.6 0 1 0 -5.2 0M1932.9 967.4a2.6 2.6 0 1 0 5.2 0a2.6 2.6 0 1 0 -5.2 0M1844.7 931.5a2.6 2.6 0 1 0 5.2 0a2.6 2.6 0 1 0 -5.2 0M1772.7 1011.0a2.6 2.6 0 1 0 5.2 0a2.6 2.6 0 1 0 -5.2 0M1897.8 983.6a2.6 2.6 0 1 0 5.2 0a2.6 2.6 0 1 0 -5.2 0M1735.4 984.3a2.6 2.6 0 1 0 5.2 0a2.6 2.6 0 1 0 -5.2 0M1750.8 1015.9a2.6 2.6 0 1 0 5.2 0a2.6 2.6 0 1 0 -5.2 0M1960.7 939.4a2.6 2.6 0 1 0 5.2 0a2.6 2.6 0 1 0 -5.2 0M2091.3 989.8a2.6 2.6 0 1 0 5.2 0a2.6 2.6 0 1 0 -5.2 0M1728.6 1011.3a2.6 2.6 0 1 0 5.2 0a2.6 2.6 0 1 0 -5.2 0M1971.7 951.5a2.6 2.6 0 1 0 5.2 0a2.6 2.6 0 1 0 -5.2 0M1822.6 952.0a2.6 2.6 0 1 0 5.2 0a2.6 2.6 0 1 0 -5.2 0M1850.6 926.9a2.6 2.6 0 1 0 5.2 0a2.6 2.6 0 1 0 -5.2 0M1919.2 994.4a2.6 2.6 0 1 0 5.2 0a2.6 2.6 0 1 0 -5.2 0M2069.6 904.5a2.6 2.6 0 1 0 5.2 0a2.6 2.6 0 1 0 -5.2 0M1858.5 984.6a2.6 2.6 0 1 0 5.2 0a2.6 2.6 0 1 0 -5.2 0M1846.8 913.2a2.6 2.6 0 1 0 5.2 0a2.6 2.6 0 1 0 -5.2 0M1794.9 989.1a2.6 2.6 0 1 0 5.2 0a2.6 2.6 0 1 0 -5.2 0M1843.9 947.9a2.6 2.6 0 1 0 5.2 0a2.6 2.6 0 1 0 -5.2 0M1829.9 955.2a2.6 2.6 0 1 0 5.2 0a2.6 2.6 0 1 0 -5.2 0M1945.2 960.6a2.6 2.6 0 1 0 5.2 0a2.6 2.6 0 1 0 -5.2 0M1987.5 964.8a2.6 2.6 0 1 0 5.2 0a2.6 2.6 0 1 0 -5.2 0M1739.6 1014.5a2.6 2.6 0 1 0 5.2 0a2.6 2.6 0 1 0 -5.2 0M1801.9 984.3a2.6 2.6 0 1 0 5.2 0a2.6 2.6 0 1 0 -5.2 0M2080.6 927.4a2.6 2.6 0 1 0 5.2 0a2.6 2.6 0 1 0 -5.2 0M1743.2 1009.9a2.6 2.6 0 1 0 5.2 0a2.6 2.6 0 1 0 -5.2 0M1925.4 959.8a2.6 2.6 0 1 0 5.2 0a2.6 2.6 0 1 0 -5.2 0M1945.9 943.3a2.6 2.6 0 1 0 5.2 0a2.6 2.6 0 1 0 -5.2 0M1905.3 1000.0a2.6 2.6 0 1 0 5.2 0a2.6 2.6 0 1 0 -5.2 0M1936.0 961.3a2.6 2.6 0 1 0 5.2 0a2.6 2.6 0 1 0 -5.2 0M2078.7 941.1a2.6 2.6 0 1 0 5.2 0a2.6 2.6 0 1 0 -5.2 0M1967.2 945.4a2.6 2.6 0 1 0 5.2 0a2.6 2.6 0 1 0 -5.2 0M1995.3 965.9a2.6 2.6 0 1 0 5.2 0a2.6 2.6 0 1 0 -5.2 0M1780.8 1002.0a2.6 2.6 0 1 0 5.2 0a2.6 2.6 0 1 0 -5.2 0M2026.0 914.0a2.6 2.6 0 1 0 5.2 0a2.6 2.6 0 1 0 -5.2 0M1758.1 992.4a2.6 2.6 0 1 0 5.2 0a2.6 2.6 0 1 0 -5.2 0M1966.2 951.3a2.6 2.6 0 1 0 5.2 0a2.6 2.6 0 1 0 -5.2 0M1821.7 958.7a2.6 2.6 0 1 0 5.2 0a2.6 2.6 0 1 0 -5.2 0M1844.0 963.8a2.6 2.6 0 1 0 5.2 0a2.6 2.6 0 1 0 -5.2 0M2057.7 947.9a2.6 2.6 0 1 0 5.2 0a2.6 2.6 0 1 0 -5.2 0M1921.9 974.3a2.6 2.6 0 1 0 5.2 0a2.6 2.6 0 1 0 -5.2 0M1767.1 1005.3a2.6 2.6 0 1 0 5.2 0a2.6 2.6 0 1 0 -5.2 0M1848.4 952.5a2.6 2.6 0 1 0 5.2 0a2.6 2.6 0 1 0 -5.2 0M2015.3 931.3a2.6 2.6 0 1 0 5.2 0a2.6 2.6 0 1 0 -5.2 0M1795.4 982.2a2.6 2.6 0 1 0 5.2 0a2.6 2.6 0 1 0 -5.2 0M1813.3 947.1a2.6 2.6 0 1 0 5.2 0a2.6 2.6 0 1 0 -5.2 0M1849.7 926.3a2.6 2.6 0 1 0 5.2 0a2.6 2.6 0 1 0 -5.2 0M2007.8 920.7a2.6 2.6 0 1 0 5.2 0a2.6 2.6 0 1 0 -5.2 0M1799.9 997.9a2.6 2.6 0 1 0 5.2 0a2.6 2.6 0 1 0 -5.2 0M1790.5 984.1a2.6 2.6 0 1 0 5.2 0a2.6 2.6 0 1 0 -5.2 0M1857.5 958.8a2.6 2.6 0 1 0 5.2 0a2.6 2.6 0 1 0 -5.2 0M1943.0 989.4a2.6 2.6 0 1 0 5.2 0a2.6 2.6 0 1 0 -5.2 0M1783.3 1000.8a2.6 2.6 0 1 0 5.2 0a2.6 2.6 0 1 0 -5.2 0M1787.4 1001.0a2.6 2.6 0 1 0 5.2 0a2.6 2.6 0 1 0 -5.2 0M1907.5 1009.7a2.6 2.6 0 1 0 5.2 0a2.6 2.6 0 1 0 -5.2 0M1959.6 955.7a2.6 2.6 0 1 0 5.2 0a2.6 2.6 0 1 0 -5.2 0M1809.9 948.1a2.6 2.6 0 1 0 5.2 0a2.6 2.6 0 1 0 -5.2 0M1985.7 948.4a2.6 2.6 0 1 0 5.2 0a2.6 2.6 0 1 0 -5.2 0M2024.4 948.0a2.6 2.6 0 1 0 5.2 0a2.6 2.6 0 1 0 -5.2 0M1801.6 987.5a2.6 2.6 0 1 0 5.2 0a2.6 2.6 0 1 0 -5.2 0M2074.1 912.1a2.6 2.6 0 1 0 5.2 0a2.6 2.6 0 1 0 -5.2 0M2075.5 902.8a2.6 2.6 0 1 0 5.2 0a2.6 2.6 0 1 0 -5.2 0M2033.7 929.1a2.6 2.6 0 1 0 5.2 0a2.6 2.6 0 1 0 -5.2 0M1808.6 961.5a2.6 2.6 0 1 0 5.2 0a2.6 2.6 0 1 0 -5.2 0M1818.0 933.1a2.6 2.6 0 1 0 5.2 0a2.6 2.6 0 1 0 -5.2 0M1840.2 962.6a2.6 2.6 0 1 0 5.2 0a2.6 2.6 0 1 0 -5.2 0M1825.1 955.4a2.6 2.6 0 1 0 5.2 0a2.6 2.6 0 1 0 -5.2 0M2040.8 907.7a2.6 2.6 0 1 0 5.2 0a2.6 2.6 0 1 0 -5.2 0M1913.0 995.2a2.6 2.6 0 1 0 5.2 0a2.6 2.6 0 1 0 -5.2 0M1842.2 945.3a2.6 2.6 0 1 0 5.2 0a2.6 2.6 0 1 0 -5.2 0M2078.1 935.3a2.6 2.6 0 1 0 5.2 0a2.6 2.6 0 1 0 -5.2 0M2084.3 929.5a2.6 2.6 0 1 0 5.2 0a2.6 2.6 0 1 0 -5.2 0M1772.2 1015.7a2.6 2.6 0 1 0 5.2 0a2.6 2.6 0 1 0 -5.2 0M1992.1 967.6a2.6 2.6 0 1 0 5.2 0a2.6 2.6 0 1 0 -5.2 0M2012.5 954.2a2.6 2.6 0 1 0 5.2 0a2.6 2.6 0 1 0 -5.2 0M1990.2 967.3a2.6 2.6 0 1 0 5.2 0a2.6 2.6 0 1 0 -5.2 0M1850.7 954.3a2.6 2.6 0 1 0 5.2 0a2.6 2.6 0 1 0 -5.2 0M2003.4 936.7a2.6 2.6 0 1 0 5.2 0a2.6 2.6 0 1 0 -5.2 0M1884.6 970.6a2.6 2.6 0 1 0 5.2 0a2.6 2.6 0 1 0 -5.2 0M2038.4 891.8a2.6 2.6 0 1 0 5.2 0a2.6 2.6 0 1 0 -5.2 0M1735.2 996.5a2.6 2.6 0 1 0 5.2 0a2.6 2.6 0 1 0 -5.2 0M1863.4 985.0a2.6 2.6 0 1 0 5.2 0a2.6 2.6 0 1 0 -5.2 0M2055.1 928.3a2.6 2.6 0 1 0 5.2 0a2.6 2.6 0 1 0 -5.2 0M2047.8 918.6a2.6 2.6 0 1 0 5.2 0a2.6 2.6 0 1 0 -5.2 0M1851.4 953.2a2.6 2.6 0 1 0 5.2 0a2.6 2.6 0 1 0 -5.2 0M2055.0 930.9a2.6 2.6 0 1 0 5.2 0a2.6 2.6 0 1 0 -5.2 0M1912.9 984.3a2.6 2.6 0 1 0 5.2 0a2.6 2.6 0 1 0 -5.2 0M1812.5 970.5a2.6 2.6 0 1 0 5.2 0a2.6 2.6 0 1 0 -5.2 0M2032.7 958.8a2.6 2.6 0 1 0 5.2 0a2.6 2.6 0 1 0 -5.2 0M1747.6 1008.5a2.6 2.6 0 1 0 5.2 0a2.6 2.6 0 1 0 -5.2 0M1984.9 924.5a2.6 2.6 0 1 0 5.2 0a2.6 2.6 0 1 0 -5.2 0M2058.3 929.7a2.6 2.6 0 1 0 5.2 0a2.6 2.6 0 1 0 -5.2 0M1806.4 968.5a2.6 2.6 0 1 0 5.2 0a2.6 2.6 0 1 0 -5.2 0M1817.5 946.0a2.6 2.6 0 1 0 5.2 0a2.6 2.6 0 1 0 -5.2 0M2087.8 941.1a2.6 2.6 0 1 0 5.2 0a2.6 2.6 0 1 0 -5.2 0M1770.0 1011.4a2.6 2.6 0 1 0 5.2 0a2.6 2.6 0 1 0 -5.2 0M2066.4 904.5a2.6 2.6 0 1 0 5.2 0a2.6 2.6 0 1 0 -5.2 0M1974.6 932.4a2.6 2.6 0 1 0 5.2 0a2.6 2.6 0 1 0 -5.2 0M1821.3 942.6a2.6 2.6 0 1 0 5.2 0a2.6 2.6 0 1 0 -5.2 0M2026.9 967.7a2.6 2.6 0 1 0 5.2 0a2.6 2.6 0 1 0 -5.2 0M2065.7 901.6a2.6 2.6 0 1 0 5.2 0a2.6 2.6 0 1 0 -5.2 0M2024.3 898.5a2.6 2.6 0 1 0 5.2 0a2.6 2.6 0 1 0 -5.2 0M1889.5 994.7a2.6 2.6 0 1 0 5.2 0a2.6 2.6 0 1 0 -5.2 0M2087.6 945.2a2.6 2.6 0 1 0 5.2 0a2.6 2.6 0 1 0 -5.2 0M1963.3 951.9a2.6 2.6 0 1 0 5.2 0a2.6 2.6 0 1 0 -5.2 0M1867.9 975.3a2.6 2.6 0 1 0 5.2 0a2.6 2.6 0 1 0 -5.2 0M1850.7 960.0a2.6 2.6 0 1 0 5.2 0a2.6 2.6 0 1 0 -5.2 0M2093.4 957.2a2.6 2.6 0 1 0 5.2 0a2.6 2.6 0 1 0 -5.2 0M1955.3 956.5a2.6 2.6 0 1 0 5.2 0a2.6 2.6 0 1 0 -5.2 0M1835.4 951.9a2.6 2.6 0 1 0 5.2 0a2.6 2.6 0 1 0 -5.2 0M1799.7 986.4a2.6 2.6 0 1 0 5.2 0a2.6 2.6 0 1 0 -5.2 0M1933.4 963.9a2.6 2.6 0 1 0 5.2 0a2.6 2.6 0 1 0 -5.2 0M1837.1 921.0a2.6 2.6 0 1 0 5.2 0a2.6 2.6 0 1 0 -5.2 0M1768.4 999.7a2.6 2.6 0 1 0 5.2 0a2.6 2.6 0 1 0 -5.2 0M1780.6 1003.1a2.6 2.6 0 1 0 5.2 0a2.6 2.6 0 1 0 -5.2 0M2077.6 951.9a2.6 2.6 0 1 0 5.2 0a2.6 2.6 0 1 0 -5.2 0M2029.8 933.1a2.6 2.6 0 1 0 5.2 0a2.6 2.6 0 1 0 -5.2 0M2066.6 892.2a2.6 2.6 0 1 0 5.2 0a2.6 2.6 0 1 0 -5.2 0M2048.1 947.6a2.6 2.6 0 1 0 5.2 0a2.6 2.6 0 1 0 -5.2 0M1941.6 897.2a2.6 2.6 0 1 0 5.2 0a2.6 2.6 0 1 0 -5.2 0M2044.2 960.2a2.6 2.6 0 1 0 5.2 0a2.6 2.6 0 1 0 -5.2 0M1901.9 983.8a2.6 2.6 0 1 0 5.2 0a2.6 2.6 0 1 0 -5.2 0M2065.9 861.6a2.6 2.6 0 1 0 5.2 0a2.6 2.6 0 1 0 -5.2 0M1861.2 994.0a2.6 2.6 0 1 0 5.2 0a2.6 2.6 0 1 0 -5.2 0M1912.0 992.5a2.6 2.6 0 1 0 5.2 0a2.6 2.6 0 1 0 -5.2 0M2010.3 966.5a2.6 2.6 0 1 0 5.2 0a2.6 2.6 0 1 0 -5.2 0M2038.8 892.5a2.6 2.6 0 1 0 5.2 0a2.6 2.6 0 1 0 -5.2 0M2045.7 934.2a2.6 2.6 0 1 0 5.2 0a2.6 2.6 0 1 0 -5.2 0M1871.2 985.7a2.6 2.6 0 1 0 5.2 0a2.6 2.6 0 1 0 -5.2 0M1842.2 952.8a2.6 2.6 0 1 0 5.2 0a2.6 2.6 0 1 0 -5.2 0M1848.5 958.4a2.6 2.6 0 1 0 5.2 0a2.6 2.6 0 1 0 -5.2 0M1879.9 974.6a2.6 2.6 0 1 0 5.2 0a2.6 2.6 0 1 0 -5.2 0M1835.4 926.4a2.6 2.6 0 1 0 5.2 0a2.6 2.6 0 1 0 -5.2 0M1936.5 966.4a2.6 2.6 0 1 0 5.2 0a2.6 2.6 0 1 0 -5.2 0M1732.7 991.2a2.6 2.6 0 1 0 5.2 0a2.6 2.6 0 1 0 -5.2 0M2004.2 946.0a2.6 2.6 0 1 0 5.2 0a2.6 2.6 0 1 0 -5.2 0M1732.9 1014.2a2.6 2.6 0 1 0 5.2 0a2.6 2.6 0 1 0 -5.2 0M1786.0 1003.9a2.6 2.6 0 1 0 5.2 0a2.6 2.6 0 1 0 -5.2 0M1736.4 986.2a2.6 2.6 0 1 0 5.2 0a2.6 2.6 0 1 0 -5.2 0M2003.7 907.8a2.6 2.6 0 1 0 5.2 0a2.6 2.6 0 1 0 -5.2 0M1970.2 968.0a2.6 2.6 0 1 0 5.2 0a2.6 2.6 0 1 0 -5.2 0M1848.7 942.7a2.6 2.6 0 1 0 5.2 0a2.6 2.6 0 1 0 -5.2 0M1907.1 964.5a2.6 2.6 0 1 0 5.2 0a2.6 2.6 0 1 0 -5.2 0M1883.7 986.8a2.6 2.6 0 1 0 5.2 0a2.6 2.6 0 1 0 -5.2 0M1952.9 963.7a2.6 2.6 0 1 0 5.2 0a2.6 2.6 0 1 0 -5.2 0M2013.2 899.7a2.6 2.6 0 1 0 5.2 0a2.6 2.6 0 1 0 -5.2 0M1856.1 967.4a2.6 2.6 0 1 0 5.2 0a2.6 2.6 0 1 0 -5.2 0M1760.1 1015.3a2.6 2.6 0 1 0 5.2 0a2.6 2.6 0 1 0 -5.2 0M1925.6 985.4a2.6 2.6 0 1 0 5.2 0a2.6 2.6 0 1 0 -5.2 0M1753.6 1019.3a2.6 2.6 0 1 0 5.2 0a2.6 2.6 0 1 0 -5.2 0M1978.6 950.8a2.6 2.6 0 1 0 5.2 0a2.6 2.6 0 1 0 -5.2 0M1949.2 957.8a2.6 2.6 0 1 0 5.2 0a2.6 2.6 0 1 0 -5.2 0M1786.2 1000.4a2.6 2.6 0 1 0 5.2 0a2.6 2.6 0 1 0 -5.2 0M1967.2 947.0a2.6 2.6 0 1 0 5.2 0a2.6 2.6 0 1 0 -5.2 0M1831.6 907.7a2.6 2.6 0 1 0 5.2 0a2.6 2.6 0 1 0 -5.2 0M1822.6 913.6a2.6 2.6 0 1 0 5.2 0a2.6 2.6 0 1 0 -5.2 0M1819.4 902.6a2.6 2.6 0 1 0 5.2 0a2.6 2.6 0 1 0 -5.2 0M1843.3 918.6a2.6 2.6 0 1 0 5.2 0a2.6 2.6 0 1 0 -5.2 0M1825.5 907.4a2.6 2.6 0 1 0 5.2 0a2.6 2.6 0 1 0 -5.2 0M1820.2 906.3a2.6 2.6 0 1 0 5.2 0a2.6 2.6 0 1 0 -5.2 0M1823.7 929.0a2.6 2.6 0 1 0 5.2 0a2.6 2.6 0 1 0 -5.2 0M1817.7 903.9a2.6 2.6 0 1 0 5.2 0a2.6 2.6 0 1 0 -5.2 0M1810.9 927.5a2.6 2.6 0 1 0 5.2 0a2.6 2.6 0 1 0 -5.2 0M1857.1 903.7a2.6 2.6 0 1 0 5.2 0a2.6 2.6 0 1 0 -5.2 0M1810.4 910.2a2.6 2.6 0 1 0 5.2 0a2.6 2.6 0 1 0 -5.2 0M1813.9 930.2a2.6 2.6 0 1 0 5.2 0a2.6 2.6 0 1 0 -5.2 0M1835.1 908.3a2.6 2.6 0 1 0 5.2 0a2.6 2.6 0 1 0 -5.2 0M1832.9 923.8a2.6 2.6 0 1 0 5.2 0a2.6 2.6 0 1 0 -5.2 0M1830.8 926.7a2.6 2.6 0 1 0 5.2 0a2.6 2.6 0 1 0 -5.2 0M1853.5 927.5a2.6 2.6 0 1 0 5.2 0a2.6 2.6 0 1 0 -5.2 0M1855.4 913.7a2.6 2.6 0 1 0 5.2 0a2.6 2.6 0 1 0 -5.2 0M1834.3 925.6a2.6 2.6 0 1 0 5.2 0a2.6 2.6 0 1 0 -5.2 0M1853.6 912.5a2.6 2.6 0 1 0 5.2 0a2.6 2.6 0 1 0 -5.2 0M1848.9 926.7a2.6 2.6 0 1 0 5.2 0a2.6 2.6 0 1 0 -5.2 0M1830.2 925.7a2.6 2.6 0 1 0 5.2 0a2.6 2.6 0 1 0 -5.2 0M1853.6 904.3a2.6 2.6 0 1 0 5.2 0a2.6 2.6 0 1 0 -5.2 0M1830.3 945.8a2.6 2.6 0 1 0 5.2 0a2.6 2.6 0 1 0 -5.2 0M1829.9 939.4a2.6 2.6 0 1 0 5.2 0a2.6 2.6 0 1 0 -5.2 0M1832.4 908.4a2.6 2.6 0 1 0 5.2 0a2.6 2.6 0 1 0 -5.2 0M1822.5 921.4a2.6 2.6 0 1 0 5.2 0a2.6 2.6 0 1 0 -5.2 0M1830.2 920.5a2.6 2.6 0 1 0 5.2 0a2.6 2.6 0 1 0 -5.2 0M1812.6 909.4a2.6 2.6 0 1 0 5.2 0a2.6 2.6 0 1 0 -5.2 0M1822.2 929.0a2.6 2.6 0 1 0 5.2 0a2.6 2.6 0 1 0 -5.2 0M1847.1 905.8a2.6 2.6 0 1 0 5.2 0a2.6 2.6 0 1 0 -5.2 0M1841.6 906.3a2.6 2.6 0 1 0 5.2 0a2.6 2.6 0 1 0 -5.2 0M1846.9 900.8a2.6 2.6 0 1 0 5.2 0a2.6 2.6 0 1 0 -5.2 0M1819.8 922.1a2.6 2.6 0 1 0 5.2 0a2.6 2.6 0 1 0 -5.2 0M1834.3 906.6a2.6 2.6 0 1 0 5.2 0a2.6 2.6 0 1 0 -5.2 0M1825.4 927.3a2.6 2.6 0 1 0 5.2 0a2.6 2.6 0 1 0 -5.2 0M1850.6 925.8a2.6 2.6 0 1 0 5.2 0a2.6 2.6 0 1 0 -5.2 0M1834.4 906.5a2.6 2.6 0 1 0 5.2 0a2.6 2.6 0 1 0 -5.2 0M1820.4 945.9a2.6 2.6 0 1 0 5.2 0a2.6 2.6 0 1 0 -5.2 0M1854.5 920.0a2.6 2.6 0 1 0 5.2 0a2.6 2.6 0 1 0 -5.2 0M1851.4 935.3a2.6 2.6 0 1 0 5.2 0a2.6 2.6 0 1 0 -5.2 0M1825.1 913.6a2.6 2.6 0 1 0 5.2 0a2.6 2.6 0 1 0 -5.2 0M1855.1 895.5a2.6 2.6 0 1 0 5.2 0a2.6 2.6 0 1 0 -5.2 0M1827.0 898.4a2.6 2.6 0 1 0 5.2 0a2.6 2.6 0 1 0 -5.2 0M1810.1 923.6a2.6 2.6 0 1 0 5.2 0a2.6 2.6 0 1 0 -5.2 0M1850.1 925.3a2.6 2.6 0 1 0 5.2 0a2.6 2.6 0 1 0 -5.2 0M1836.4 917.5a2.6 2.6 0 1 0 5.2 0a2.6 2.6 0 1 0 -5.2 0M1812.0 920.2a2.6 2.6 0 1 0 5.2 0a2.6 2.6 0 1 0 -5.2 0M1832.1 929.9a2.6 2.6 0 1 0 5.2 0a2.6 2.6 0 1 0 -5.2 0M1846.3 930.3a2.6 2.6 0 1 0 5.2 0a2.6 2.6 0 1 0 -5.2 0M1818.2 930.1a2.6 2.6 0 1 0 5.2 0a2.6 2.6 0 1 0 -5.2 0M1851.8 910.8a2.6 2.6 0 1 0 5.2 0a2.6 2.6 0 1 0 -5.2 0M1852.1 941.2a2.6 2.6 0 1 0 5.2 0a2.6 2.6 0 1 0 -5.2 0M1809.8 916.2a2.6 2.6 0 1 0 5.2 0a2.6 2.6 0 1 0 -5.2 0M1849.1 922.8a2.6 2.6 0 1 0 5.2 0a2.6 2.6 0 1 0 -5.2 0M1822.6 926.5a2.6 2.6 0 1 0 5.2 0a2.6 2.6 0 1 0 -5.2 0M1828.8 936.5a2.6 2.6 0 1 0 5.2 0a2.6 2.6 0 1 0 -5.2 0M1854.6 940.9a2.6 2.6 0 1 0 5.2 0a2.6 2.6 0 1 0 -5.2 0M1820.5 928.6a2.6 2.6 0 1 0 5.2 0a2.6 2.6 0 1 0 -5.2 0M1822.9 944.5a2.6 2.6 0 1 0 5.2 0a2.6 2.6 0 1 0 -5.2 0M1839.3 924.6a2.6 2.6 0 1 0 5.2 0a2.6 2.6 0 1 0 -5.2 0M1908.4 961.6a2.6 2.6 0 1 0 5.2 0a2.6 2.6 0 1 0 -5.2 0M1900.5 948.1a2.6 2.6 0 1 0 5.2 0a2.6 2.6 0 1 0 -5.2 0M1877.5 959.7a2.6 2.6 0 1 0 5.2 0a2.6 2.6 0 1 0 -5.2 0M1890.7 954.2a2.6 2.6 0 1 0 5.2 0a2.6 2.6 0 1 0 -5.2 0M1897.6 959.6a2.6 2.6 0 1 0 5.2 0a2.6 2.6 0 1 0 -5.2 0M1904.5 952.3a2.6 2.6 0 1 0 5.2 0a2.6 2.6 0 1 0 -5.2 0M1889.7 956.1a2.6 2.6 0 1 0 5.2 0a2.6 2.6 0 1 0 -5.2 0M1866.1 949.6a2.6 2.6 0 1 0 5.2 0a2.6 2.6 0 1 0 -5.2 0M1868.2 944.8a2.6 2.6 0 1 0 5.2 0a2.6 2.6 0 1 0 -5.2 0M1897.6 947.0a2.6 2.6 0 1 0 5.2 0a2.6 2.6 0 1 0 -5.2 0M1882.1 947.5a2.6 2.6 0 1 0 5.2 0a2.6 2.6 0 1 0 -5.2 0M1898.7 951.5a2.6 2.6 0 1 0 5.2 0a2.6 2.6 0 1 0 -5.2 0M1977.2 904.9a2.6 2.6 0 1 0 5.2 0a2.6 2.6 0 1 0 -5.2 0M1970.4 903.9a2.6 2.6 0 1 0 5.2 0a2.6 2.6 0 1 0 -5.2 0M1924.4 904.7a2.6 2.6 0 1 0 5.2 0a2.6 2.6 0 1 0 -5.2 0M1967.0 905.5a2.6 2.6 0 1 0 5.2 0a2.6 2.6 0 1 0 -5.2 0M1945.4 907.9a2.6 2.6 0 1 0 5.2 0a2.6 2.6 0 1 0 -5.2 0M1927.9 907.1a2.6 2.6 0 1 0 5.2 0a2.6 2.6 0 1 0 -5.2 0M1942.2 905.4a2.6 2.6 0 1 0 5.2 0a2.6 2.6 0 1 0 -5.2 0M1941.3 897.0a2.6 2.6 0 1 0 5.2 0a2.6 2.6 0 1 0 -5.2 0M1953.1 913.8a2.6 2.6 0 1 0 5.2 0a2.6 2.6 0 1 0 -5.2 0M1956.2 908.3a2.6 2.6 0 1 0 5.2 0a2.6 2.6 0 1 0 -5.2 0M1973.7 896.8a2.6 2.6 0 1 0 5.2 0a2.6 2.6 0 1 0 -5.2 0M1969.8 909.0a2.6 2.6 0 1 0 5.2 0a2.6 2.6 0 1 0 -5.2 0M1928.1 899.1a2.6 2.6 0 1 0 5.2 0a2.6 2.6 0 1 0 -5.2 0M1990.0 910.7a2.6 2.6 0 1 0 5.2 0a2.6 2.6 0 1 0 -5.2 0M1945.7 900.7a2.6 2.6 0 1 0 5.2 0a2.6 2.6 0 1 0 -5.2 0M1985.6 894.8a2.6 2.6 0 1 0 5.2 0a2.6 2.6 0 1 0 -5.2 0M1955.8 904.0a2.6 2.6 0 1 0 5.2 0a2.6 2.6 0 1 0 -5.2 0M1930.0 913.5a2.6 2.6 0 1 0 5.2 0a2.6 2.6 0 1 0 -5.2 0M1943.4 908.4a2.6 2.6 0 1 0 5.2 0a2.6 2.6 0 1 0 -5.2 0M1924.3 910.9a2.6 2.6 0 1 0 5.2 0a2.6 2.6 0 1 0 -5.2 0M1982.0 898.7a2.6 2.6 0 1 0 5.2 0a2.6 2.6 0 1 0 -5.2 0M1980.8 916.0a2.6 2.6 0 1 0 5.2 0a2.6 2.6 0 1 0 -5.2 0M2058.4 881.0a2.6 2.6 0 1 0 5.2 0a2.6 2.6 0 1 0 -5.2 0M2027.8 873.9a2.6 2.6 0 1 0 5.2 0a2.6 2.6 0 1 0 -5.2 0M2014.2 899.6a2.6 2.6 0 1 0 5.2 0a2.6 2.6 0 1 0 -5.2 0M2091.0 884.6a2.6 2.6 0 1 0 5.2 0a2.6 2.6 0 1 0 -5.2 0M2072.2 880.3a2.6 2.6 0 1 0 5.2 0a2.6 2.6 0 1 0 -5.2 0M2084.5 873.9a2.6 2.6 0 1 0 5.2 0a2.6 2.6 0 1 0 -5.2 0M2053.6 874.4a2.6 2.6 0 1 0 5.2 0a2.6 2.6 0 1 0 -5.2 0M2028.5 864.9a2.6 2.6 0 1 0 5.2 0a2.6 2.6 0 1 0 -5.2 0M2036.2 899.7a2.6 2.6 0 1 0 5.2 0a2.6 2.6 0 1 0 -5.2 0M2068.8 880.4a2.6 2.6 0 1 0 5.2 0a2.6 2.6 0 1 0 -5.2 0M2038.8 878.0a2.6 2.6 0 1 0 5.2 0a2.6 2.6 0 1 0 -5.2 0M2039.2 895.9a2.6 2.6 0 1 0 5.2 0a2.6 2.6 0 1 0 -5.2 0M2010.0 893.1a2.6 2.6 0 1 0 5.2 0a2.6 2.6 0 1 0 -5.2 0M2019.0 880.7a2.6 2.6 0 1 0 5.2 0a2.6 2.6 0 1 0 -5.2 0M2081.0 871.5a2.6 2.6 0 1 0 5.2 0a2.6 2.6 0 1 0 -5.2 0M2026.5 880.6a2.6 2.6 0 1 0 5.2 0a2.6 2.6 0 1 0 -5.2 0M2086.0 884.9a2.6 2.6 0 1 0 5.2 0a2.6 2.6 0 1 0 -5.2 0M2088.2 880.5a2.6 2.6 0 1 0 5.2 0a2.6 2.6 0 1 0 -5.2 0M2016.5 886.5a2.6 2.6 0 1 0 5.2 0a2.6 2.6 0 1 0 -5.2 0M2030.7 876.5a2.6 2.6 0 1 0 5.2 0a2.6 2.6 0 1 0 -5.2 0M2012.0 879.5a2.6 2.6 0 1 0 5.2 0a2.6 2.6 0 1 0 -5.2 0M2047.3 886.6a2.6 2.6 0 1 0 5.2 0a2.6 2.6 0 1 0 -5.2 0M2063.0 877.7a2.6 2.6 0 1 0 5.2 0a2.6 2.6 0 1 0 -5.2 0M2062.3 894.5a2.6 2.6 0 1 0 5.2 0a2.6 2.6 0 1 0 -5.2 0M2065.7 888.4a2.6 2.6 0 1 0 5.2 0a2.6 2.6 0 1 0 -5.2 0M2066.9 689.2a2.6 2.6 0 1 0 5.2 0a2.6 2.6 0 1 0 -5.2 0M2039.1 769.6a2.6 2.6 0 1 0 5.2 0a2.6 2.6 0 1 0 -5.2 0M2038.7 791.8a2.6 2.6 0 1 0 5.2 0a2.6 2.6 0 1 0 -5.2 0M2067.3 790.7a2.6 2.6 0 1 0 5.2 0a2.6 2.6 0 1 0 -5.2 0M2066.9 814.3a2.6 2.6 0 1 0 5.2 0a2.6 2.6 0 1 0 -5.2 0M2001.3 819.8a2.6 2.6 0 1 0 5.2 0a2.6 2.6 0 1 0 -5.2 0M2039.1 830.7a2.6 2.6 0 1 0 5.2 0a2.6 2.6 0 1 0 -5.2 0M2035.2 836.8a2.6 2.6 0 1 0 5.2 0a2.6 2.6 0 1 0 -5.2 0M2035.6 842.1a2.6 2.6 0 1 0 5.2 0a2.6 2.6 0 1 0 -5.2 0M2038.7 849.3a2.6 2.6 0 1 0 5.2 0a2.6 2.6 0 1 0 -5.2 0M2001.3 847.1a2.6 2.6 0 1 0 5.2 0a2.6 2.6 0 1 0 -5.2 0M2001.8 854.7a2.6 2.6 0 1 0 5.2 0a2.6 2.6 0 1 0 -5.2 0M1965.7 862.4a2.6 2.6 0 1 0 5.2 0a2.6 2.6 0 1 0 -5.2 0M2033.4 872.9a2.6 2.6 0 1 0 5.2 0a2.6 2.6 0 1 0 -5.2 0M2000.9 883.8a2.6 2.6 0 1 0 5.2 0a2.6 2.6 0 1 0 -5.2 0M2058.6 863.5a2.6 2.6 0 1 0 5.2 0a2.6 2.6 0 1 0 -5.2 0M2060.3 868.9a2.6 2.6 0 1 0 5.2 0a2.6 2.6 0 1 0 -5.2 0M2067.3 868.9a2.6 2.6 0 1 0 5.2 0a2.6 2.6 0 1 0 -5.2 0M2053.1 875.9a2.6 2.6 0 1 0 5.2 0a2.6 2.6 0 1 0 -5.2 0M2077.8 874.0a2.6 2.6 0 1 0 5.2 0a2.6 2.6 0 1 0 -5.2 0M2074.9 881.0a2.6 2.6 0 1 0 5.2 0a2.6 2.6 0 1 0 -5.2 0M2077.1 885.8a2.6 2.6 0 1 0 5.2 0a2.6 2.6 0 1 0 -5.2 0M2084.3 893.4a2.6 2.6 0 1 0 5.2 0a2.6 2.6 0 1 0 -5.2 0M2043.3 890.1a2.6 2.6 0 1 0 5.2 0a2.6 2.6 0 1 0 -5.2 0M2054.2 891.9a2.6 2.6 0 1 0 5.2 0a2.6 2.6 0 1 0 -5.2 0M2059.6 891.4a2.6 2.6 0 1 0 5.2 0a2.6 2.6 0 1 0 -5.2 0M1945.6 894.1a2.6 2.6 0 1 0 5.2 0a2.6 2.6 0 1 0 -5.2 0M1958.1 891.2a2.6 2.6 0 1 0 5.2 0a2.6 2.6 0 1 0 -5.2 0M1976.2 890.4a2.6 2.6 0 1 0 5.2 0a2.6 2.6 0 1 0 -5.2 0M1982.8 896.9a2.6 2.6 0 1 0 5.2 0a2.6 2.6 0 1 0 -5.2 0M1925.3 901.7a2.6 2.6 0 1 0 5.2 0a2.6 2.6 0 1 0 -5.2 0M2024.3 896.3a2.6 2.6 0 1 0 5.2 0a2.6 2.6 0 1 0 -5.2 0M1945.6 910.0a2.6 2.6 0 1 0 5.2 0a2.6 2.6 0 1 0 -5.2 0M1928.2 922.9a2.6 2.6 0 1 0 5.2 0a2.6 2.6 0 1 0 -5.2 0M1915.7 939.9a2.6 2.6 0 1 0 5.2 0a2.6 2.6 0 1 0 -5.2 0" fill="#d4d4d4" stroke="#b9b9b9" stroke-width="1.8"/>
<rect x="1811.4" y="689.7" width="49.6" height="328.6" fill="#9bd488" opacity="0.8"/>
<path d="M1729.5 1016.6C1730.0 1015.1 1731.6 1010.4 1732.8 1007.4C1733.9 1004.4 1735.4 999.9 1736.5 997.7C1737.6 995.6 1738.8 994.1 1739.7 994.0C1740.7 993.8 1741.5 995.0 1742.4 996.7C1743.4 998.3 1744.7 1002.8 1745.7 1004.2C1746.6 1005.6 1747.3 1005.3 1748.4 1005.3C1749.4 1005.3 1750.9 1003.9 1752.1 1004.2C1753.3 1004.5 1754.6 1006.3 1755.9 1007.4C1757.2 1008.5 1758.8 1011.3 1760.2 1011.2C1761.6 1011.1 1763.0 1008.1 1764.5 1006.9C1766.0 1005.7 1768.3 1003.7 1769.9 1003.7C1771.4 1003.6 1772.9 1005.7 1774.2 1006.3C1775.5 1006.9 1776.8 1008.5 1778.0 1007.4C1779.1 1006.4 1780.1 1002.0 1781.2 999.9C1782.3 997.8 1783.7 994.7 1784.9 994.5C1786.2 994.3 1788.0 998.8 1789.2 998.8C1790.5 998.8 1791.4 996.3 1792.5 994.5C1793.5 992.7 1794.7 988.8 1795.7 987.5C1796.7 986.2 1797.9 985.9 1798.9 986.4C1800.0 987.0 1801.1 989.8 1802.2 990.7C1803.2 991.7 1804.4 993.0 1805.4 992.4C1806.3 991.8 1807.3 990.1 1808.1 987.0C1808.9 983.9 1809.5 976.3 1810.2 973.0C1811.0 969.7 1811.8 968.3 1812.9 966.5C1814.0 964.8 1815.9 964.3 1817.2 962.2C1818.6 960.2 1820.4 954.5 1821.5 953.6C1822.7 952.8 1823.3 955.3 1824.2 956.8C1825.2 958.4 1826.3 963.3 1827.5 963.3C1828.6 963.3 1830.1 959.3 1831.2 956.8C1832.3 954.4 1833.4 951.3 1834.4 948.2C1835.5 945.1 1836.7 939.7 1837.7 937.5C1838.6 935.2 1839.5 933.9 1840.4 934.2C1841.2 934.6 1842.2 937.6 1843.1 939.6C1843.9 941.7 1844.9 945.6 1845.7 947.2C1846.6 948.7 1847.6 950.0 1848.4 949.3C1849.3 948.6 1850.3 944.9 1851.1 942.9C1852.0 940.8 1853.0 936.9 1853.8 936.4C1854.7 935.9 1855.7 937.2 1856.5 939.6C1857.3 942.0 1858.1 947.0 1858.7 951.5C1859.3 955.9 1859.8 963.3 1860.3 967.6C1860.8 971.9 1861.2 975.9 1861.9 978.4C1862.6 980.9 1863.6 983.0 1864.6 983.2C1865.5 983.4 1866.6 980.1 1867.8 979.4C1869.0 978.8 1870.7 979.0 1872.1 978.9C1873.5 978.8 1875.2 978.3 1876.4 978.9C1877.6 979.5 1878.6 981.5 1879.6 982.7C1880.7 983.9 1881.8 986.4 1882.9 986.4C1883.9 986.4 1885.1 983.8 1886.1 982.7C1887.1 981.6 1888.3 979.4 1889.3 979.4C1890.4 979.4 1891.5 981.1 1892.6 982.7C1893.6 984.2 1894.7 987.4 1895.8 989.1C1896.8 990.9 1898.0 992.5 1899.0 993.4C1900.0 994.4 1901.0 995.1 1902.2 995.0C1903.4 995.0 1905.3 993.5 1906.5 992.9C1907.8 992.3 1908.7 991.9 1910.0 991.3C1911.3 990.7 1913.0 991.0 1914.4 989.1C1915.8 987.2 1917.3 982.6 1918.7 979.3C1920.1 975.9 1921.7 971.5 1923.1 968.3C1924.5 965.2 1926.1 960.1 1927.5 959.6C1928.9 959.1 1930.4 964.0 1931.8 965.1C1933.2 966.1 1934.6 966.7 1936.2 966.2C1937.8 965.6 1940.3 964.6 1941.7 961.8C1943.1 959.0 1944.0 951.2 1944.9 948.7C1945.9 946.2 1946.7 944.7 1947.6 946.1C1948.4 947.5 1949.4 953.0 1950.4 957.4C1951.4 961.9 1952.6 973.1 1953.7 973.8C1954.7 974.5 1955.9 965.3 1957.0 961.8C1958.0 958.3 1959.0 953.5 1960.2 952.0C1961.5 950.4 1963.2 952.7 1964.6 952.0C1966.0 951.3 1967.6 946.0 1969.0 947.6C1970.4 949.2 1972.1 961.6 1973.3 961.8C1974.6 962.0 1975.4 952.0 1976.6 948.7C1977.8 945.4 1979.6 941.7 1981.0 941.0C1982.4 940.3 1983.8 941.7 1985.4 944.3C1986.9 946.9 1989.1 954.1 1990.8 957.4C1992.6 960.7 1994.9 966.5 1996.3 965.1C1997.7 963.7 1998.5 955.1 1999.6 948.7C2000.6 942.2 2002.0 928.7 2002.8 924.6C2003.7 920.6 2004.3 921.5 2005.0 923.6C2005.7 925.7 2006.3 933.6 2007.2 937.8C2008.1 941.9 2009.3 948.7 2010.5 949.8C2011.7 950.8 2013.5 945.7 2014.8 944.3C2016.2 942.9 2018.0 942.4 2019.2 941.0C2020.4 939.6 2021.3 935.6 2022.5 935.6C2023.7 935.6 2025.5 938.6 2026.9 941.0C2028.3 943.5 2030.0 950.7 2031.2 950.9C2032.5 951.0 2033.6 947.0 2034.5 942.1C2035.4 937.2 2035.9 926.6 2036.7 920.3C2037.5 914.0 2038.6 905.8 2039.3 902.8C2040.0 899.8 2040.3 899.6 2041.1 901.7C2041.9 903.8 2043.3 911.2 2044.3 915.9C2045.4 920.6 2046.6 928.4 2047.6 931.2C2048.7 934.0 2049.7 933.4 2050.9 933.4C2052.1 933.4 2053.7 932.9 2055.3 931.2C2056.8 929.5 2059.3 923.2 2060.7 922.5C2062.1 921.8 2062.9 928.2 2064.0 926.8C2065.0 925.4 2066.4 916.0 2067.3 913.7C2068.1 911.5 2068.8 910.9 2069.5 912.6C2070.2 914.4 2070.8 919.6 2071.6 924.6C2072.5 929.7 2073.9 942.0 2074.9 944.3C2076.0 946.6 2077.3 940.4 2078.2 938.8C2079.1 937.3 2079.3 933.8 2080.4 934.5C2081.4 935.2 2083.4 941.6 2084.7 943.2C2086.1 944.8 2087.8 943.1 2089.1 944.3C2090.4 945.5 2091.8 947.0 2093.0 950.9C2094.3 954.7 2096.2 965.5 2096.8 968.3" fill="none" stroke="#000" stroke-width="5.7" stroke-linejoin="round" stroke-linecap="round"/>
<line x1="1728.5" y1="972.8" x2="2097.7" y2="972.8" stroke="#2f3c88" stroke-width="2.3" stroke-dasharray="8.8 14.2" stroke-linecap="round"/>
<line x1="1728.5" y1="1011.9" x2="2097.7" y2="1011.9" stroke="#2f3c88" stroke-width="2.3" stroke-dasharray="8.8 14.2" stroke-linecap="round"/>
<line x1="1840.2" y1="1016.9" x2="1840.2" y2="934.0" stroke="#e0282e" stroke-width="3.1" stroke-dasharray="7.2 15.2" stroke-linecap="round"/>
<rect x="1714.8" y="676.2" width="397.0" height="354.8" fill="none" stroke="#000" stroke-width="3"/>
<line x1="1707.2" y1="985.3" x2="1714.8" y2="985.3" stroke="#000" stroke-width="2.5"/>
<text x="1698.8" y="985.3" transform="rotate(-90 1698.8 985.3)" font-size="11.3" text-anchor="middle" style="font-weight:normal;stroke-width:.15px;">200</text>
<line x1="1707.2" y1="926.1" x2="1714.8" y2="926.1" stroke="#000" stroke-width="2.5"/>
<text x="1698.8" y="926.1" transform="rotate(-90 1698.8 926.1)" font-size="11.3" text-anchor="middle" style="font-weight:normal;stroke-width:.15px;">400</text>
<line x1="1707.2" y1="866.9" x2="1714.8" y2="866.9" stroke="#000" stroke-width="2.5"/>
<text x="1698.8" y="866.9" transform="rotate(-90 1698.8 866.9)" font-size="11.3" text-anchor="middle" style="font-weight:normal;stroke-width:.15px;">600</text>
<line x1="1707.2" y1="807.8" x2="1714.8" y2="807.8" stroke="#000" stroke-width="2.5"/>
<text x="1698.8" y="807.8" transform="rotate(-90 1698.8 807.8)" font-size="11.3" text-anchor="middle" style="font-weight:normal;stroke-width:.15px;">800</text>
<line x1="1707.2" y1="748.6" x2="1714.8" y2="748.6" stroke="#000" stroke-width="2.5"/>
<text x="1698.8" y="748.6" transform="rotate(-90 1698.8 748.6)" font-size="11.3" text-anchor="middle" style="font-weight:normal;stroke-width:.15px;">1000</text>
<line x1="1707.2" y1="689.4" x2="1714.8" y2="689.4" stroke="#000" stroke-width="2.5"/>
<text x="1698.8" y="689.4" transform="rotate(-90 1698.8 689.4)" font-size="11.3" text-anchor="middle" style="font-weight:normal;stroke-width:.15px;">1200</text>
<line x1="1729.8" y1="1031.0" x2="1729.8" y2="1039.0" stroke="#000" stroke-width="2.5"/>
<text x="1729.8" y="1055.7" font-size="11.3" text-anchor="middle" style="font-weight:normal;stroke-width:.15px;">0.0</text>
<line x1="1783.6" y1="1031.0" x2="1783.6" y2="1039.0" stroke="#000" stroke-width="2.5"/>
<text x="1783.6" y="1055.7" font-size="11.3" text-anchor="middle" style="font-weight:normal;stroke-width:.15px;">0.5</text>
<line x1="1837.5" y1="1031.0" x2="1837.5" y2="1039.0" stroke="#000" stroke-width="2.5"/>
<text x="1837.5" y="1055.7" font-size="11.3" text-anchor="middle" style="font-weight:normal;stroke-width:.15px;">1.0</text>
<line x1="1891.3" y1="1031.0" x2="1891.3" y2="1039.0" stroke="#000" stroke-width="2.5"/>
<text x="1891.3" y="1055.7" font-size="11.3" text-anchor="middle" style="font-weight:normal;stroke-width:.15px;">1.5</text>
<line x1="1945.1" y1="1031.0" x2="1945.1" y2="1039.0" stroke="#000" stroke-width="2.5"/>
<text x="1945.1" y="1055.7" font-size="11.3" text-anchor="middle" style="font-weight:normal;stroke-width:.15px;">2.0</text>
<line x1="1998.9" y1="1031.0" x2="1998.9" y2="1039.0" stroke="#000" stroke-width="2.5"/>
<text x="1998.9" y="1055.7" font-size="11.3" text-anchor="middle" style="font-weight:normal;stroke-width:.15px;">2.5</text>
<line x1="2052.8" y1="1031.0" x2="2052.8" y2="1039.0" stroke="#000" stroke-width="2.5"/>
<text x="2052.8" y="1055.7" font-size="11.3" text-anchor="middle" style="font-weight:normal;stroke-width:.15px;">3.0</text>
<line x1="2106.6" y1="1031.0" x2="2106.6" y2="1039.0" stroke="#000" stroke-width="2.5"/>
<text x="2106.6" y="1055.7" font-size="11.3" text-anchor="middle" style="font-weight:normal;stroke-width:.15px;">3.5</text>
<text x="1674.8" y="858.3" transform="rotate(-90 1674.8 858.3)" font-size="22.5" text-anchor="middle" textLength="148.0" lengthAdjust="spacingAndGlyphs">SHG Intensity</text>
<text x="1761.8" y="1081.6" font-size="22.6" text-anchor="start" textLength="316.7" lengthAdjust="spacing">Distance / Spheroid Diameter</text>
<text x="0.3" y="1147.0" font-size="26.5" text-anchor="start">e</text>
<line x1="118.2" y1="1189.5" x2="118.2" y2="1547.5" stroke="#000" stroke-width="3.5"/>
<line x1="116.5" y1="1545.8" x2="489.0" y2="1545.8" stroke="#000" stroke-width="3.5"/>
<line x1="106.5" y1="1545.8" x2="118.2" y2="1545.8" stroke="#000" stroke-width="3.3"/>
<text x="101.8" y="1554.2" font-size="17.8" text-anchor="end" textLength="25.2" lengthAdjust="spacing">0.0</text>
<line x1="106.5" y1="1427.6" x2="118.2" y2="1427.6" stroke="#000" stroke-width="3.3"/>
<text x="101.8" y="1436.0" font-size="17.8" text-anchor="end" textLength="25.2" lengthAdjust="spacing">0.2</text>
<line x1="106.5" y1="1309.3" x2="118.2" y2="1309.3" stroke="#000" stroke-width="3.3"/>
<text x="101.8" y="1317.7" font-size="17.8" text-anchor="end" textLength="25.2" lengthAdjust="spacing">0.4</text>
<line x1="106.5" y1="1191.1" x2="118.2" y2="1191.1" stroke="#000" stroke-width="3.3"/>
<text x="101.8" y="1199.5" font-size="17.8" text-anchor="end" textLength="25.2" lengthAdjust="spacing">0.6</text>
<path d="M157.0 1545.8V1514H227.2V1545.8" fill="none" stroke="#000" stroke-width="3.2"/>
<line x1="192.3" y1="1545.8" x2="192.3" y2="1557.5" stroke="#000" stroke-width="3.3"/>
<path d="M268.5 1545.8V1414.2H338.7V1545.8" fill="none" stroke="#000" stroke-width="3.2"/>
<line x1="303.8" y1="1545.8" x2="303.8" y2="1557.5" stroke="#000" stroke-width="3.3"/>
<path d="M379.8 1545.8V1404.8H450.0V1545.8" fill="none" stroke="#000" stroke-width="3.2"/>
<line x1="415.1" y1="1545.8" x2="415.1" y2="1557.5" stroke="#000" stroke-width="3.3"/>
<path d="M184.5 1473.2a8.4 8.4 0 1 0 16.8 0a8.4 8.4 0 1 0 -16.8 0M155.0 1522.1a8.4 8.4 0 1 0 16.8 0a8.4 8.4 0 1 0 -16.8 0M164.3 1512.7a8.4 8.4 0 1 0 16.8 0a8.4 8.4 0 1 0 -16.8 0M177.7 1518.9a8.4 8.4 0 1 0 16.8 0a8.4 8.4 0 1 0 -16.8 0M193.9 1510.5a8.4 8.4 0 1 0 16.8 0a8.4 8.4 0 1 0 -16.8 0M204.8 1516.8a8.4 8.4 0 1 0 16.8 0a8.4 8.4 0 1 0 -16.8 0M213.2 1524.5a8.4 8.4 0 1 0 16.8 0a8.4 8.4 0 1 0 -16.8 0M193.9 1526.1a8.4 8.4 0 1 0 16.8 0a8.4 8.4 0 1 0 -16.8 0M181.4 1514.6a8.4 8.4 0 1 0 16.8 0a8.4 8.4 0 1 0 -16.8 0M169.0 1523.0a8.4 8.4 0 1 0 16.8 0a8.4 8.4 0 1 0 -16.8 0M187.6 1521.4a8.4 8.4 0 1 0 16.8 0a8.4 8.4 0 1 0 -16.8 0M203.2 1523.9a8.4 8.4 0 1 0 16.8 0a8.4 8.4 0 1 0 -16.8 0" fill="#a8a8a8"/>
<path d="M295.0 1242.9a8.4 8.4 0 1 0 16.8 0a8.4 8.4 0 1 0 -16.8 0M295.0 1331.6a8.4 8.4 0 1 0 16.8 0a8.4 8.4 0 1 0 -16.8 0M305.3 1365.8a8.4 8.4 0 1 0 16.8 0a8.4 8.4 0 1 0 -16.8 0M285.0 1380.8a8.4 8.4 0 1 0 16.8 0a8.4 8.4 0 1 0 -16.8 0M295.0 1402.6a8.4 8.4 0 1 0 16.8 0a8.4 8.4 0 1 0 -16.8 0M266.4 1444.6a8.4 8.4 0 1 0 16.8 0a8.4 8.4 0 1 0 -16.8 0M285.0 1450.5a8.4 8.4 0 1 0 16.8 0a8.4 8.4 0 1 0 -16.8 0M305.0 1459.2a8.4 8.4 0 1 0 16.8 0a8.4 8.4 0 1 0 -16.8 0M324.6 1456.1a8.4 8.4 0 1 0 16.8 0a8.4 8.4 0 1 0 -16.8 0M266.4 1463.9a8.4 8.4 0 1 0 16.8 0a8.4 8.4 0 1 0 -16.8 0M305.0 1475.7a8.4 8.4 0 1 0 16.8 0a8.4 8.4 0 1 0 -16.8 0M285.0 1488.1a8.4 8.4 0 1 0 16.8 0a8.4 8.4 0 1 0 -16.8 0" fill="#a51c25"/>
<path d="M407.0 1226.7a8.4 8.4 0 1 0 16.8 0a8.4 8.4 0 1 0 -16.8 0M397.1 1353.4a8.4 8.4 0 1 0 16.8 0a8.4 8.4 0 1 0 -16.8 0M416.4 1351.8a8.4 8.4 0 1 0 16.8 0a8.4 8.4 0 1 0 -16.8 0M377.5 1362.1a8.4 8.4 0 1 0 16.8 0a8.4 8.4 0 1 0 -16.8 0M397.1 1376.7a8.4 8.4 0 1 0 16.8 0a8.4 8.4 0 1 0 -16.8 0M406.4 1393.2a8.4 8.4 0 1 0 16.8 0a8.4 8.4 0 1 0 -16.8 0M397.1 1446.1a8.4 8.4 0 1 0 16.8 0a8.4 8.4 0 1 0 -16.8 0M416.4 1444.6a8.4 8.4 0 1 0 16.8 0a8.4 8.4 0 1 0 -16.8 0M397.1 1463.2a8.4 8.4 0 1 0 16.8 0a8.4 8.4 0 1 0 -16.8 0M377.5 1477.9a8.4 8.4 0 1 0 16.8 0a8.4 8.4 0 1 0 -16.8 0M416.4 1476.3a8.4 8.4 0 1 0 16.8 0a8.4 8.4 0 1 0 -16.8 0M435.0 1472.6a8.4 8.4 0 1 0 16.8 0a8.4 8.4 0 1 0 -16.8 0" fill="#7c87c7"/>
<path d="M192.1 1497V1528.9M172.1 1497h40M172.1 1528.9h40" fill="none" stroke="#000" stroke-width="3.2"/>
<path d="M303.6 1340.9V1485.6M283.6 1340.9h40M283.6 1485.6h40" fill="none" stroke="#000" stroke-width="3.2"/>
<path d="M414.9 1328.5V1479.4M394.9 1328.5h40M394.9 1479.4h40" fill="none" stroke="#000" stroke-width="3.2"/>
<path d="M183 1176V1200.6M290.2 1176V1200.6M183 1188.2H290.2" fill="none" stroke="#1a1a1a" stroke-width="3.4"/>
<path d="M307.1 1176V1200.6M414.8 1176V1200.6M307.1 1188.2H414.8" fill="none" stroke="#1a1a1a" stroke-width="3.4"/>
<text x="183.8" y="1169.0" font-size="22.6" text-anchor="start" textLength="108.5" lengthAdjust="spacingAndGlyphs" style="font-weight:normal;stroke-width:.15px;font-style:italic;">p = 0.0025</text>
<text x="306.5" y="1169.0" font-size="22.6" text-anchor="start" textLength="144.2" lengthAdjust="spacingAndGlyphs" style="font-weight:normal;stroke-width:.15px;font-style:italic;">p = 0.994, n.s.</text>
<text x="57.5" y="1356.8" transform="rotate(-90 57.5 1356.8)" font-size="22.3" text-anchor="middle" textLength="69.0" lengthAdjust="spacingAndGlyphs">FWHM</text>
<text x="174.0" y="1577.6" font-size="22.3" text-anchor="start" textLength="31.6" lengthAdjust="spacingAndGlyphs">t=0</text>
<text x="271.2" y="1577.6" font-size="22.3" text-anchor="start" textLength="59.3" lengthAdjust="spacingAndGlyphs">t=48h</text>
<text x="384.2" y="1577.6" font-size="22.3" text-anchor="start" textLength="58.6" lengthAdjust="spacingAndGlyphs">t=48h</text>
<line x1="180.0" y1="1593.4" x2="345.7" y2="1593.4" stroke="#000" stroke-width="3.6"/>
<line x1="363.9" y1="1593.4" x2="474.6" y2="1593.4" stroke="#000" stroke-width="3.6"/>
<text x="205.4" y="1622.4" font-size="30" text-anchor="start" textLength="100.6" lengthAdjust="spacingAndGlyphs">control</text>
<text x="379.4" y="1622.4" font-size="30" text-anchor="start" textLength="72.4" lengthAdjust="spacingAndGlyphs">+CCr</text>
<text x="524.5" y="1147.0" font-size="26.5" text-anchor="start">f</text>
<line x1="679.1" y1="1194.4" x2="679.1" y2="1489.9" stroke="#000" stroke-width="3.9"/>
<line x1="677.2" y1="1488.1" x2="1064.0" y2="1488.1" stroke="#000" stroke-width="3.7"/>
<line x1="668.0" y1="1488.1" x2="679.1" y2="1488.1" stroke="#000" stroke-width="3.3"/>
<text x="668.4" y="1495.7" font-size="23.3" text-anchor="end" textLength="11.0" lengthAdjust="spacingAndGlyphs">0</text>
<line x1="668.0" y1="1415.1" x2="679.1" y2="1415.1" stroke="#000" stroke-width="3.3"/>
<text x="668.4" y="1420.9" font-size="23.3" text-anchor="end" textLength="28.3" lengthAdjust="spacingAndGlyphs">0.4</text>
<line x1="668.0" y1="1342.2" x2="679.1" y2="1342.2" stroke="#000" stroke-width="3.3"/>
<text x="668.4" y="1348.0" font-size="23.3" text-anchor="end" textLength="28.3" lengthAdjust="spacingAndGlyphs">0.8</text>
<line x1="668.0" y1="1269.2" x2="679.1" y2="1269.2" stroke="#000" stroke-width="3.3"/>
<text x="668.4" y="1275.0" font-size="23.3" text-anchor="end" textLength="28.3" lengthAdjust="spacingAndGlyphs">1.2</text>
<line x1="668.0" y1="1196.3" x2="679.1" y2="1196.3" stroke="#000" stroke-width="3.3"/>
<text x="668.4" y="1202.1" font-size="23.3" text-anchor="end" textLength="28.3" lengthAdjust="spacingAndGlyphs">1.6</text>
<path d="M717.4 1488.1V1449.9H794.7V1488.1" fill="none" stroke="#000" stroke-width="3.4"/>
<line x1="755.8" y1="1488.1" x2="755.8" y2="1498.2" stroke="#000" stroke-width="3.3"/>
<path d="M833.1 1488.1V1468.6H910.5V1488.1" fill="none" stroke="#000" stroke-width="3.4"/>
<line x1="871.5" y1="1488.1" x2="871.5" y2="1498.2" stroke="#000" stroke-width="3.3"/>
<path d="M948.7 1488.1V1467.6H1026.3V1488.1" fill="none" stroke="#000" stroke-width="3.4"/>
<line x1="987.2" y1="1488.1" x2="987.2" y2="1498.2" stroke="#000" stroke-width="3.3"/>
<path d="M759.4 1224.8a5.0 5.0 0 1 0 10.0 0a5.0 5.0 0 1 0 -10.0 0M743.2 1235.7a5.0 5.0 0 1 0 10.0 0a5.0 5.0 0 1 0 -10.0 0M750.8 1256.8a5.0 5.0 0 1 0 10.0 0a5.0 5.0 0 1 0 -10.0 0M759.0 1302.0a5.0 5.0 0 1 0 10.0 0a5.0 5.0 0 1 0 -10.0 0M743.2 1309.6a5.0 5.0 0 1 0 10.0 0a5.0 5.0 0 1 0 -10.0 0M750.8 1329.6a5.0 5.0 0 1 0 10.0 0a5.0 5.0 0 1 0 -10.0 0M727.9 1356.0a5.0 5.0 0 1 0 10.0 0a5.0 5.0 0 1 0 -10.0 0M759.0 1356.3a5.0 5.0 0 1 0 10.0 0a5.0 5.0 0 1 0 -10.0 0M774.0 1356.0a5.0 5.0 0 1 0 10.0 0a5.0 5.0 0 1 0 -10.0 0M743.2 1366.3a5.0 5.0 0 1 0 10.0 0a5.0 5.0 0 1 0 -10.0 0M727.9 1389.1a5.0 5.0 0 1 0 10.0 0a5.0 5.0 0 1 0 -10.0 0M743.2 1389.7a5.0 5.0 0 1 0 10.0 0a5.0 5.0 0 1 0 -10.0 0M774.0 1389.7a5.0 5.0 0 1 0 10.0 0a5.0 5.0 0 1 0 -10.0 0M720.3 1400.2a5.0 5.0 0 1 0 10.0 0a5.0 5.0 0 1 0 -10.0 0M759.0 1399.2a5.0 5.0 0 1 0 10.0 0a5.0 5.0 0 1 0 -10.0 0M735.5 1410.7a5.0 5.0 0 1 0 10.0 0a5.0 5.0 0 1 0 -10.0 0M750.8 1415.4a5.0 5.0 0 1 0 10.0 0a5.0 5.0 0 1 0 -10.0 0M766.6 1410.7a5.0 5.0 0 1 0 10.0 0a5.0 5.0 0 1 0 -10.0 0M781.9 1409.2a5.0 5.0 0 1 0 10.0 0a5.0 5.0 0 1 0 -10.0 0" fill="#2e3192"/>
<path d="M720.8 1421.6a5.0 5.0 0 1 0 10.0 0a5.0 5.0 0 1 0 -10.0 0M725.8 1424.1a5.0 5.0 0 1 0 10.0 0a5.0 5.0 0 1 0 -10.0 0M730.8 1426.5a5.0 5.0 0 1 0 10.0 0a5.0 5.0 0 1 0 -10.0 0M735.8 1428.7a5.0 5.0 0 1 0 10.0 0a5.0 5.0 0 1 0 -10.0 0M740.8 1430.7a5.0 5.0 0 1 0 10.0 0a5.0 5.0 0 1 0 -10.0 0M745.8 1432.4a5.0 5.0 0 1 0 10.0 0a5.0 5.0 0 1 0 -10.0 0M750.8 1433.6a5.0 5.0 0 1 0 10.0 0a5.0 5.0 0 1 0 -10.0 0M755.8 1432.4a5.0 5.0 0 1 0 10.0 0a5.0 5.0 0 1 0 -10.0 0M760.8 1430.7a5.0 5.0 0 1 0 10.0 0a5.0 5.0 0 1 0 -10.0 0M765.8 1428.7a5.0 5.0 0 1 0 10.0 0a5.0 5.0 0 1 0 -10.0 0M770.8 1426.5a5.0 5.0 0 1 0 10.0 0a5.0 5.0 0 1 0 -10.0 0M775.8 1424.1a5.0 5.0 0 1 0 10.0 0a5.0 5.0 0 1 0 -10.0 0M780.8 1421.6a5.0 5.0 0 1 0 10.0 0a5.0 5.0 0 1 0 -10.0 0M718.8 1436.6a5.0 5.0 0 1 0 10.0 0a5.0 5.0 0 1 0 -10.0 0M724.1 1440.2a5.0 5.0 0 1 0 10.0 0a5.0 5.0 0 1 0 -10.0 0M729.5 1443.5a5.0 5.0 0 1 0 10.0 0a5.0 5.0 0 1 0 -10.0 0M734.8 1446.7a5.0 5.0 0 1 0 10.0 0a5.0 5.0 0 1 0 -10.0 0M740.1 1449.5a5.0 5.0 0 1 0 10.0 0a5.0 5.0 0 1 0 -10.0 0M745.5 1451.9a5.0 5.0 0 1 0 10.0 0a5.0 5.0 0 1 0 -10.0 0M750.8 1453.6a5.0 5.0 0 1 0 10.0 0a5.0 5.0 0 1 0 -10.0 0M756.1 1451.9a5.0 5.0 0 1 0 10.0 0a5.0 5.0 0 1 0 -10.0 0M761.5 1449.5a5.0 5.0 0 1 0 10.0 0a5.0 5.0 0 1 0 -10.0 0M766.8 1446.7a5.0 5.0 0 1 0 10.0 0a5.0 5.0 0 1 0 -10.0 0M772.1 1443.5a5.0 5.0 0 1 0 10.0 0a5.0 5.0 0 1 0 -10.0 0M777.5 1440.2a5.0 5.0 0 1 0 10.0 0a5.0 5.0 0 1 0 -10.0 0M782.8 1436.6a5.0 5.0 0 1 0 10.0 0a5.0 5.0 0 1 0 -10.0 0M716.8 1444.1a5.0 5.0 0 1 0 10.0 0a5.0 5.0 0 1 0 -10.0 0M721.7 1447.6a5.0 5.0 0 1 0 10.0 0a5.0 5.0 0 1 0 -10.0 0M726.5 1450.8a5.0 5.0 0 1 0 10.0 0a5.0 5.0 0 1 0 -10.0 0M731.4 1453.9a5.0 5.0 0 1 0 10.0 0a5.0 5.0 0 1 0 -10.0 0M736.2 1456.8a5.0 5.0 0 1 0 10.0 0a5.0 5.0 0 1 0 -10.0 0M741.1 1459.4a5.0 5.0 0 1 0 10.0 0a5.0 5.0 0 1 0 -10.0 0M745.9 1461.6a5.0 5.0 0 1 0 10.0 0a5.0 5.0 0 1 0 -10.0 0M750.8 1463.1a5.0 5.0 0 1 0 10.0 0a5.0 5.0 0 1 0 -10.0 0M755.7 1461.6a5.0 5.0 0 1 0 10.0 0a5.0 5.0 0 1 0 -10.0 0M760.5 1459.4a5.0 5.0 0 1 0 10.0 0a5.0 5.0 0 1 0 -10.0 0M765.4 1456.8a5.0 5.0 0 1 0 10.0 0a5.0 5.0 0 1 0 -10.0 0M770.2 1453.9a5.0 5.0 0 1 0 10.0 0a5.0 5.0 0 1 0 -10.0 0M775.1 1450.8a5.0 5.0 0 1 0 10.0 0a5.0 5.0 0 1 0 -10.0 0M779.9 1447.6a5.0 5.0 0 1 0 10.0 0a5.0 5.0 0 1 0 -10.0 0M784.8 1444.1a5.0 5.0 0 1 0 10.0 0a5.0 5.0 0 1 0 -10.0 0M716.8 1450.6a5.0 5.0 0 1 0 10.0 0a5.0 5.0 0 1 0 -10.0 0M721.7 1454.6a5.0 5.0 0 1 0 10.0 0a5.0 5.0 0 1 0 -10.0 0M726.5 1458.4a5.0 5.0 0 1 0 10.0 0a5.0 5.0 0 1 0 -10.0 0M731.4 1462.0a5.0 5.0 0 1 0 10.0 0a5.0 5.0 0 1 0 -10.0 0M736.2 1465.3a5.0 5.0 0 1 0 10.0 0a5.0 5.0 0 1 0 -10.0 0M741.1 1468.3a5.0 5.0 0 1 0 10.0 0a5.0 5.0 0 1 0 -10.0 0M745.9 1470.9a5.0 5.0 0 1 0 10.0 0a5.0 5.0 0 1 0 -10.0 0M750.8 1472.6a5.0 5.0 0 1 0 10.0 0a5.0 5.0 0 1 0 -10.0 0M755.7 1470.9a5.0 5.0 0 1 0 10.0 0a5.0 5.0 0 1 0 -10.0 0M760.5 1468.3a5.0 5.0 0 1 0 10.0 0a5.0 5.0 0 1 0 -10.0 0M765.4 1465.3a5.0 5.0 0 1 0 10.0 0a5.0 5.0 0 1 0 -10.0 0M770.2 1462.0a5.0 5.0 0 1 0 10.0 0a5.0 5.0 0 1 0 -10.0 0M775.1 1458.4a5.0 5.0 0 1 0 10.0 0a5.0 5.0 0 1 0 -10.0 0M779.9 1454.6a5.0 5.0 0 1 0 10.0 0a5.0 5.0 0 1 0 -10.0 0M784.8 1450.6a5.0 5.0 0 1 0 10.0 0a5.0 5.0 0 1 0 -10.0 0M715.8 1461.7a5.0 5.0 0 1 0 10.0 0a5.0 5.0 0 1 0 -10.0 0M720.8 1464.8a5.0 5.0 0 1 0 10.0 0a5.0 5.0 0 1 0 -10.0 0M725.8 1467.8a5.0 5.0 0 1 0 10.0 0a5.0 5.0 0 1 0 -10.0 0M730.8 1470.5a5.0 5.0 0 1 0 10.0 0a5.0 5.0 0 1 0 -10.0 0M735.8 1473.1a5.0 5.0 0 1 0 10.0 0a5.0 5.0 0 1 0 -10.0 0M740.8 1475.4a5.0 5.0 0 1 0 10.0 0a5.0 5.0 0 1 0 -10.0 0M745.8 1477.4a5.0 5.0 0 1 0 10.0 0a5.0 5.0 0 1 0 -10.0 0M750.8 1478.7a5.0 5.0 0 1 0 10.0 0a5.0 5.0 0 1 0 -10.0 0M755.8 1477.4a5.0 5.0 0 1 0 10.0 0a5.0 5.0 0 1 0 -10.0 0M760.8 1475.4a5.0 5.0 0 1 0 10.0 0a5.0 5.0 0 1 0 -10.0 0M765.8 1473.1a5.0 5.0 0 1 0 10.0 0a5.0 5.0 0 1 0 -10.0 0M770.8 1470.5a5.0 5.0 0 1 0 10.0 0a5.0 5.0 0 1 0 -10.0 0M775.8 1467.8a5.0 5.0 0 1 0 10.0 0a5.0 5.0 0 1 0 -10.0 0M780.8 1464.8a5.0 5.0 0 1 0 10.0 0a5.0 5.0 0 1 0 -10.0 0M785.8 1461.7a5.0 5.0 0 1 0 10.0 0a5.0 5.0 0 1 0 -10.0 0M715.8 1467.1a5.0 5.0 0 1 0 10.0 0a5.0 5.0 0 1 0 -10.0 0M720.8 1470.2a5.0 5.0 0 1 0 10.0 0a5.0 5.0 0 1 0 -10.0 0M725.8 1473.1a5.0 5.0 0 1 0 10.0 0a5.0 5.0 0 1 0 -10.0 0M730.8 1475.9a5.0 5.0 0 1 0 10.0 0a5.0 5.0 0 1 0 -10.0 0M735.8 1478.4a5.0 5.0 0 1 0 10.0 0a5.0 5.0 0 1 0 -10.0 0M740.8 1480.7a5.0 5.0 0 1 0 10.0 0a5.0 5.0 0 1 0 -10.0 0M745.8 1482.7a5.0 5.0 0 1 0 10.0 0a5.0 5.0 0 1 0 -10.0 0M750.8 1484.1a5.0 5.0 0 1 0 10.0 0a5.0 5.0 0 1 0 -10.0 0M755.8 1482.7a5.0 5.0 0 1 0 10.0 0a5.0 5.0 0 1 0 -10.0 0M760.8 1480.7a5.0 5.0 0 1 0 10.0 0a5.0 5.0 0 1 0 -10.0 0M765.8 1478.4a5.0 5.0 0 1 0 10.0 0a5.0 5.0 0 1 0 -10.0 0M770.8 1475.9a5.0 5.0 0 1 0 10.0 0a5.0 5.0 0 1 0 -10.0 0M775.8 1473.1a5.0 5.0 0 1 0 10.0 0a5.0 5.0 0 1 0 -10.0 0M780.8 1470.2a5.0 5.0 0 1 0 10.0 0a5.0 5.0 0 1 0 -10.0 0M785.8 1467.1a5.0 5.0 0 1 0 10.0 0a5.0 5.0 0 1 0 -10.0 0M732.8 1476.0a5.0 5.0 0 1 0 10.0 0a5.0 5.0 0 1 0 -10.0 0M738.8 1480.1a5.0 5.0 0 1 0 10.0 0a5.0 5.0 0 1 0 -10.0 0M744.8 1483.6a5.0 5.0 0 1 0 10.0 0a5.0 5.0 0 1 0 -10.0 0M750.8 1486.0a5.0 5.0 0 1 0 10.0 0a5.0 5.0 0 1 0 -10.0 0M756.8 1483.6a5.0 5.0 0 1 0 10.0 0a5.0 5.0 0 1 0 -10.0 0M762.8 1480.1a5.0 5.0 0 1 0 10.0 0a5.0 5.0 0 1 0 -10.0 0M768.8 1476.0a5.0 5.0 0 1 0 10.0 0a5.0 5.0 0 1 0 -10.0 0" fill="#2e3192"/>
<path d="M866.5 1397.7a5.0 5.0 0 1 0 10.0 0a5.0 5.0 0 1 0 -10.0 0M890.0 1405.0a5.0 5.0 0 1 0 10.0 0a5.0 5.0 0 1 0 -10.0 0M843.2 1409.2a5.0 5.0 0 1 0 10.0 0a5.0 5.0 0 1 0 -10.0 0M858.9 1414.5a5.0 5.0 0 1 0 10.0 0a5.0 5.0 0 1 0 -10.0 0M874.3 1412.0a5.0 5.0 0 1 0 10.0 0a5.0 5.0 0 1 0 -10.0 0M850.9 1421.2a5.0 5.0 0 1 0 10.0 0a5.0 5.0 0 1 0 -10.0 0M881.9 1419.3a5.0 5.0 0 1 0 10.0 0a5.0 5.0 0 1 0 -10.0 0M866.1 1432.6a5.0 5.0 0 1 0 10.0 0a5.0 5.0 0 1 0 -10.0 0M858.5 1437.0a5.0 5.0 0 1 0 10.0 0a5.0 5.0 0 1 0 -10.0 0M874.3 1438.3a5.0 5.0 0 1 0 10.0 0a5.0 5.0 0 1 0 -10.0 0M840.4 1442.5a5.0 5.0 0 1 0 10.0 0a5.0 5.0 0 1 0 -10.0 0M893.8 1442.5a5.0 5.0 0 1 0 10.0 0a5.0 5.0 0 1 0 -10.0 0M848.0 1445.0a5.0 5.0 0 1 0 10.0 0a5.0 5.0 0 1 0 -10.0 0M886.1 1445.0a5.0 5.0 0 1 0 10.0 0a5.0 5.0 0 1 0 -10.0 0M854.7 1447.9a5.0 5.0 0 1 0 10.0 0a5.0 5.0 0 1 0 -10.0 0M878.5 1447.9a5.0 5.0 0 1 0 10.0 0a5.0 5.0 0 1 0 -10.0 0M866.1 1447.9a5.0 5.0 0 1 0 10.0 0a5.0 5.0 0 1 0 -10.0 0M860.4 1453.6a5.0 5.0 0 1 0 10.0 0a5.0 5.0 0 1 0 -10.0 0M872.8 1453.6a5.0 5.0 0 1 0 10.0 0a5.0 5.0 0 1 0 -10.0 0M866.1 1456.4a5.0 5.0 0 1 0 10.0 0a5.0 5.0 0 1 0 -10.0 0" fill="#ed1c24"/>
<path d="M832.5 1455.9a5.0 5.0 0 1 0 10.0 0a5.0 5.0 0 1 0 -10.0 0M837.4 1457.9a5.0 5.0 0 1 0 10.0 0a5.0 5.0 0 1 0 -10.0 0M842.2 1459.8a5.0 5.0 0 1 0 10.0 0a5.0 5.0 0 1 0 -10.0 0M847.1 1461.6a5.0 5.0 0 1 0 10.0 0a5.0 5.0 0 1 0 -10.0 0M851.9 1463.3a5.0 5.0 0 1 0 10.0 0a5.0 5.0 0 1 0 -10.0 0M856.8 1464.8a5.0 5.0 0 1 0 10.0 0a5.0 5.0 0 1 0 -10.0 0M861.6 1466.0a5.0 5.0 0 1 0 10.0 0a5.0 5.0 0 1 0 -10.0 0M866.5 1466.9a5.0 5.0 0 1 0 10.0 0a5.0 5.0 0 1 0 -10.0 0M871.4 1466.0a5.0 5.0 0 1 0 10.0 0a5.0 5.0 0 1 0 -10.0 0M876.2 1464.8a5.0 5.0 0 1 0 10.0 0a5.0 5.0 0 1 0 -10.0 0M881.1 1463.3a5.0 5.0 0 1 0 10.0 0a5.0 5.0 0 1 0 -10.0 0M885.9 1461.6a5.0 5.0 0 1 0 10.0 0a5.0 5.0 0 1 0 -10.0 0M890.8 1459.8a5.0 5.0 0 1 0 10.0 0a5.0 5.0 0 1 0 -10.0 0M895.6 1457.9a5.0 5.0 0 1 0 10.0 0a5.0 5.0 0 1 0 -10.0 0M900.5 1455.9a5.0 5.0 0 1 0 10.0 0a5.0 5.0 0 1 0 -10.0 0M832.5 1458.5a5.0 5.0 0 1 0 10.0 0a5.0 5.0 0 1 0 -10.0 0M837.4 1461.5a5.0 5.0 0 1 0 10.0 0a5.0 5.0 0 1 0 -10.0 0M842.2 1464.2a5.0 5.0 0 1 0 10.0 0a5.0 5.0 0 1 0 -10.0 0M847.1 1466.8a5.0 5.0 0 1 0 10.0 0a5.0 5.0 0 1 0 -10.0 0M851.9 1469.2a5.0 5.0 0 1 0 10.0 0a5.0 5.0 0 1 0 -10.0 0M856.8 1471.4a5.0 5.0 0 1 0 10.0 0a5.0 5.0 0 1 0 -10.0 0M861.6 1473.3a5.0 5.0 0 1 0 10.0 0a5.0 5.0 0 1 0 -10.0 0M866.5 1474.5a5.0 5.0 0 1 0 10.0 0a5.0 5.0 0 1 0 -10.0 0M871.4 1473.3a5.0 5.0 0 1 0 10.0 0a5.0 5.0 0 1 0 -10.0 0M876.2 1471.4a5.0 5.0 0 1 0 10.0 0a5.0 5.0 0 1 0 -10.0 0M881.1 1469.2a5.0 5.0 0 1 0 10.0 0a5.0 5.0 0 1 0 -10.0 0M885.9 1466.8a5.0 5.0 0 1 0 10.0 0a5.0 5.0 0 1 0 -10.0 0M890.8 1464.2a5.0 5.0 0 1 0 10.0 0a5.0 5.0 0 1 0 -10.0 0M895.6 1461.5a5.0 5.0 0 1 0 10.0 0a5.0 5.0 0 1 0 -10.0 0M900.5 1458.5a5.0 5.0 0 1 0 10.0 0a5.0 5.0 0 1 0 -10.0 0M836.5 1466.3a5.0 5.0 0 1 0 10.0 0a5.0 5.0 0 1 0 -10.0 0M841.5 1469.2a5.0 5.0 0 1 0 10.0 0a5.0 5.0 0 1 0 -10.0 0M846.5 1472.0a5.0 5.0 0 1 0 10.0 0a5.0 5.0 0 1 0 -10.0 0M851.5 1474.6a5.0 5.0 0 1 0 10.0 0a5.0 5.0 0 1 0 -10.0 0M856.5 1476.9a5.0 5.0 0 1 0 10.0 0a5.0 5.0 0 1 0 -10.0 0M861.5 1478.9a5.0 5.0 0 1 0 10.0 0a5.0 5.0 0 1 0 -10.0 0M866.5 1480.3a5.0 5.0 0 1 0 10.0 0a5.0 5.0 0 1 0 -10.0 0M871.5 1478.9a5.0 5.0 0 1 0 10.0 0a5.0 5.0 0 1 0 -10.0 0M876.5 1476.9a5.0 5.0 0 1 0 10.0 0a5.0 5.0 0 1 0 -10.0 0M881.5 1474.6a5.0 5.0 0 1 0 10.0 0a5.0 5.0 0 1 0 -10.0 0M886.5 1472.0a5.0 5.0 0 1 0 10.0 0a5.0 5.0 0 1 0 -10.0 0M891.5 1469.2a5.0 5.0 0 1 0 10.0 0a5.0 5.0 0 1 0 -10.0 0M896.5 1466.3a5.0 5.0 0 1 0 10.0 0a5.0 5.0 0 1 0 -10.0 0M840.5 1471.1a5.0 5.0 0 1 0 10.0 0a5.0 5.0 0 1 0 -10.0 0M845.7 1474.4a5.0 5.0 0 1 0 10.0 0a5.0 5.0 0 1 0 -10.0 0M850.9 1477.4a5.0 5.0 0 1 0 10.0 0a5.0 5.0 0 1 0 -10.0 0M856.1 1480.1a5.0 5.0 0 1 0 10.0 0a5.0 5.0 0 1 0 -10.0 0M861.3 1482.5a5.0 5.0 0 1 0 10.0 0a5.0 5.0 0 1 0 -10.0 0M866.5 1484.1a5.0 5.0 0 1 0 10.0 0a5.0 5.0 0 1 0 -10.0 0M871.7 1482.5a5.0 5.0 0 1 0 10.0 0a5.0 5.0 0 1 0 -10.0 0M876.9 1480.1a5.0 5.0 0 1 0 10.0 0a5.0 5.0 0 1 0 -10.0 0M882.1 1477.4a5.0 5.0 0 1 0 10.0 0a5.0 5.0 0 1 0 -10.0 0M887.3 1474.4a5.0 5.0 0 1 0 10.0 0a5.0 5.0 0 1 0 -10.0 0M892.5 1471.1a5.0 5.0 0 1 0 10.0 0a5.0 5.0 0 1 0 -10.0 0M856.5 1481.0a5.0 5.0 0 1 0 10.0 0a5.0 5.0 0 1 0 -10.0 0M861.5 1484.0a5.0 5.0 0 1 0 10.0 0a5.0 5.0 0 1 0 -10.0 0M866.5 1486.0a5.0 5.0 0 1 0 10.0 0a5.0 5.0 0 1 0 -10.0 0M871.5 1484.0a5.0 5.0 0 1 0 10.0 0a5.0 5.0 0 1 0 -10.0 0M876.5 1481.0a5.0 5.0 0 1 0 10.0 0a5.0 5.0 0 1 0 -10.0 0" fill="#ed1c24"/>
<path d="M966.8 1394.5a5.0 5.0 0 1 0 10.0 0a5.0 5.0 0 1 0 -10.0 0M981.9 1405.5a5.0 5.0 0 1 0 10.0 0a5.0 5.0 0 1 0 -10.0 0M997.7 1405.0a5.0 5.0 0 1 0 10.0 0a5.0 5.0 0 1 0 -10.0 0M1012.9 1411.6a5.0 5.0 0 1 0 10.0 0a5.0 5.0 0 1 0 -10.0 0M951.0 1417.3a5.0 5.0 0 1 0 10.0 0a5.0 5.0 0 1 0 -10.0 0M1002.4 1419.3a5.0 5.0 0 1 0 10.0 0a5.0 5.0 0 1 0 -10.0 0M961.5 1423.5a5.0 5.0 0 1 0 10.0 0a5.0 5.0 0 1 0 -10.0 0M971.6 1425.0a5.0 5.0 0 1 0 10.0 0a5.0 5.0 0 1 0 -10.0 0M981.9 1426.9a5.0 5.0 0 1 0 10.0 0a5.0 5.0 0 1 0 -10.0 0M992.0 1424.6a5.0 5.0 0 1 0 10.0 0a5.0 5.0 0 1 0 -10.0 0M974.8 1437.0a5.0 5.0 0 1 0 10.0 0a5.0 5.0 0 1 0 -10.0 0M989.7 1435.5a5.0 5.0 0 1 0 10.0 0a5.0 5.0 0 1 0 -10.0 0" fill="#a7a9ac"/>
<path d="M950.9 1437.5a5.0 5.0 0 1 0 10.0 0a5.0 5.0 0 1 0 -10.0 0M956.1 1441.3a5.0 5.0 0 1 0 10.0 0a5.0 5.0 0 1 0 -10.0 0M961.2 1444.9a5.0 5.0 0 1 0 10.0 0a5.0 5.0 0 1 0 -10.0 0M966.4 1448.2a5.0 5.0 0 1 0 10.0 0a5.0 5.0 0 1 0 -10.0 0M971.6 1451.2a5.0 5.0 0 1 0 10.0 0a5.0 5.0 0 1 0 -10.0 0M976.7 1453.7a5.0 5.0 0 1 0 10.0 0a5.0 5.0 0 1 0 -10.0 0M981.9 1455.5a5.0 5.0 0 1 0 10.0 0a5.0 5.0 0 1 0 -10.0 0M987.1 1453.7a5.0 5.0 0 1 0 10.0 0a5.0 5.0 0 1 0 -10.0 0M992.2 1451.2a5.0 5.0 0 1 0 10.0 0a5.0 5.0 0 1 0 -10.0 0M997.4 1448.2a5.0 5.0 0 1 0 10.0 0a5.0 5.0 0 1 0 -10.0 0M1002.6 1444.9a5.0 5.0 0 1 0 10.0 0a5.0 5.0 0 1 0 -10.0 0M1007.7 1441.3a5.0 5.0 0 1 0 10.0 0a5.0 5.0 0 1 0 -10.0 0M1012.9 1437.5a5.0 5.0 0 1 0 10.0 0a5.0 5.0 0 1 0 -10.0 0M950.9 1448.0a5.0 5.0 0 1 0 10.0 0a5.0 5.0 0 1 0 -10.0 0M956.1 1451.8a5.0 5.0 0 1 0 10.0 0a5.0 5.0 0 1 0 -10.0 0M961.2 1455.3a5.0 5.0 0 1 0 10.0 0a5.0 5.0 0 1 0 -10.0 0M966.4 1458.7a5.0 5.0 0 1 0 10.0 0a5.0 5.0 0 1 0 -10.0 0M971.6 1461.7a5.0 5.0 0 1 0 10.0 0a5.0 5.0 0 1 0 -10.0 0M976.7 1464.2a5.0 5.0 0 1 0 10.0 0a5.0 5.0 0 1 0 -10.0 0M981.9 1466.0a5.0 5.0 0 1 0 10.0 0a5.0 5.0 0 1 0 -10.0 0M987.1 1464.2a5.0 5.0 0 1 0 10.0 0a5.0 5.0 0 1 0 -10.0 0M992.2 1461.7a5.0 5.0 0 1 0 10.0 0a5.0 5.0 0 1 0 -10.0 0M997.4 1458.7a5.0 5.0 0 1 0 10.0 0a5.0 5.0 0 1 0 -10.0 0M1002.6 1455.3a5.0 5.0 0 1 0 10.0 0a5.0 5.0 0 1 0 -10.0 0M1007.7 1451.8a5.0 5.0 0 1 0 10.0 0a5.0 5.0 0 1 0 -10.0 0M1012.9 1448.0a5.0 5.0 0 1 0 10.0 0a5.0 5.0 0 1 0 -10.0 0M948.9 1457.5a5.0 5.0 0 1 0 10.0 0a5.0 5.0 0 1 0 -10.0 0M954.4 1461.1a5.0 5.0 0 1 0 10.0 0a5.0 5.0 0 1 0 -10.0 0M959.9 1464.5a5.0 5.0 0 1 0 10.0 0a5.0 5.0 0 1 0 -10.0 0M965.4 1467.6a5.0 5.0 0 1 0 10.0 0a5.0 5.0 0 1 0 -10.0 0M970.9 1470.5a5.0 5.0 0 1 0 10.0 0a5.0 5.0 0 1 0 -10.0 0M976.4 1472.9a5.0 5.0 0 1 0 10.0 0a5.0 5.0 0 1 0 -10.0 0M981.9 1474.5a5.0 5.0 0 1 0 10.0 0a5.0 5.0 0 1 0 -10.0 0M987.4 1472.9a5.0 5.0 0 1 0 10.0 0a5.0 5.0 0 1 0 -10.0 0M992.9 1470.5a5.0 5.0 0 1 0 10.0 0a5.0 5.0 0 1 0 -10.0 0M998.4 1467.6a5.0 5.0 0 1 0 10.0 0a5.0 5.0 0 1 0 -10.0 0M1003.9 1464.5a5.0 5.0 0 1 0 10.0 0a5.0 5.0 0 1 0 -10.0 0M1009.4 1461.1a5.0 5.0 0 1 0 10.0 0a5.0 5.0 0 1 0 -10.0 0M1014.9 1457.5a5.0 5.0 0 1 0 10.0 0a5.0 5.0 0 1 0 -10.0 0M948.9 1458.3a5.0 5.0 0 1 0 10.0 0a5.0 5.0 0 1 0 -10.0 0M954.4 1462.9a5.0 5.0 0 1 0 10.0 0a5.0 5.0 0 1 0 -10.0 0M959.9 1467.3a5.0 5.0 0 1 0 10.0 0a5.0 5.0 0 1 0 -10.0 0M965.4 1471.3a5.0 5.0 0 1 0 10.0 0a5.0 5.0 0 1 0 -10.0 0M970.9 1475.0a5.0 5.0 0 1 0 10.0 0a5.0 5.0 0 1 0 -10.0 0M976.4 1478.1a5.0 5.0 0 1 0 10.0 0a5.0 5.0 0 1 0 -10.0 0M981.9 1480.3a5.0 5.0 0 1 0 10.0 0a5.0 5.0 0 1 0 -10.0 0M987.4 1478.1a5.0 5.0 0 1 0 10.0 0a5.0 5.0 0 1 0 -10.0 0M992.9 1475.0a5.0 5.0 0 1 0 10.0 0a5.0 5.0 0 1 0 -10.0 0M998.4 1471.3a5.0 5.0 0 1 0 10.0 0a5.0 5.0 0 1 0 -10.0 0M1003.9 1467.3a5.0 5.0 0 1 0 10.0 0a5.0 5.0 0 1 0 -10.0 0M1009.4 1462.9a5.0 5.0 0 1 0 10.0 0a5.0 5.0 0 1 0 -10.0 0M1014.9 1458.3a5.0 5.0 0 1 0 10.0 0a5.0 5.0 0 1 0 -10.0 0M953.9 1468.1a5.0 5.0 0 1 0 10.0 0a5.0 5.0 0 1 0 -10.0 0M959.5 1472.1a5.0 5.0 0 1 0 10.0 0a5.0 5.0 0 1 0 -10.0 0M965.1 1475.8a5.0 5.0 0 1 0 10.0 0a5.0 5.0 0 1 0 -10.0 0M970.7 1479.2a5.0 5.0 0 1 0 10.0 0a5.0 5.0 0 1 0 -10.0 0M976.3 1482.1a5.0 5.0 0 1 0 10.0 0a5.0 5.0 0 1 0 -10.0 0M981.9 1484.1a5.0 5.0 0 1 0 10.0 0a5.0 5.0 0 1 0 -10.0 0M987.5 1482.1a5.0 5.0 0 1 0 10.0 0a5.0 5.0 0 1 0 -10.0 0M993.1 1479.2a5.0 5.0 0 1 0 10.0 0a5.0 5.0 0 1 0 -10.0 0M998.7 1475.8a5.0 5.0 0 1 0 10.0 0a5.0 5.0 0 1 0 -10.0 0M1004.3 1472.1a5.0 5.0 0 1 0 10.0 0a5.0 5.0 0 1 0 -10.0 0M1009.9 1468.1a5.0 5.0 0 1 0 10.0 0a5.0 5.0 0 1 0 -10.0 0M971.9 1481.0a5.0 5.0 0 1 0 10.0 0a5.0 5.0 0 1 0 -10.0 0M976.9 1484.0a5.0 5.0 0 1 0 10.0 0a5.0 5.0 0 1 0 -10.0 0M981.9 1486.0a5.0 5.0 0 1 0 10.0 0a5.0 5.0 0 1 0 -10.0 0M986.9 1484.0a5.0 5.0 0 1 0 10.0 0a5.0 5.0 0 1 0 -10.0 0M991.9 1481.0a5.0 5.0 0 1 0 10.0 0a5.0 5.0 0 1 0 -10.0 0" fill="#a7a9ac"/>
<rect x="984.5" y="1452" width="5" height="7" fill="#fff"/>
<line x1="734.8" y1="1446.9" x2="776.7" y2="1446.9" stroke="#000" stroke-width="3.6"/>
<line x1="734.8" y1="1452.6" x2="776.7" y2="1452.6" stroke="#000" stroke-width="3.6"/>
<line x1="755.8" y1="1446.9" x2="755.8" y2="1452.6" stroke="#000" stroke-width="3"/>
<line x1="851.0" y1="1466.9" x2="892.0" y2="1466.9" stroke="#000" stroke-width="5.4"/>
<line x1="966.5" y1="1466.0" x2="1007.4" y2="1466.0" stroke="#000" stroke-width="5.4"/>
<text x="830.7" y="1358.6" font-size="22.3" text-anchor="start" textLength="93.4" lengthAdjust="spacingAndGlyphs" style="font-weight:normal;stroke-width:.15px;font-style:italic;">p&lt;0.0001</text>
<text x="951.8" y="1358.6" font-size="22.3" text-anchor="start" textLength="93.8" lengthAdjust="spacingAndGlyphs" style="font-weight:normal;stroke-width:.15px;font-style:italic;">p&lt;0.0001</text>
<text x="713.7" y="1520.0" font-size="22.3" text-anchor="start" textLength="79.4" lengthAdjust="spacing">Control</text>
<text x="848.8" y="1520.0" font-size="22.3" text-anchor="start" textLength="50.6" lengthAdjust="spacing">5mM</text>
<text x="955.6" y="1520.0" font-size="22.3" text-anchor="start" textLength="64.6" lengthAdjust="spacing">10mM</text>
<line x1="841.6" y1="1532.3" x2="1038.3" y2="1532.3" stroke="#000" stroke-width="3.3"/>
<text x="929.4" y="1562.5" font-size="22.3" text-anchor="middle">CCr</text>
<text x="598.1" y="1340.0" transform="rotate(-90 598.1 1340.0)" font-size="22.5" text-anchor="middle" textLength="309.5" lengthAdjust="spacing">Mean Instantaneous Velocity</text>
<text x="626.1" y="1340.0" transform="rotate(-90 626.1 1340.0)" font-size="22.5" text-anchor="middle" textLength="94.3" lengthAdjust="spacing">(µm/min)</text>
<text x="1109.5" y="1144.7" font-size="26.5" text-anchor="start">g</text>
<line x1="1252.0" y1="1196.8" x2="1252.0" y2="1493.6" stroke="#000" stroke-width="3.9"/>
<line x1="1250.1" y1="1491.8" x2="1637.0" y2="1491.8" stroke="#000" stroke-width="3.7"/>
<line x1="1242.0" y1="1491.8" x2="1252.0" y2="1491.8" stroke="#000" stroke-width="3.3"/>
<text x="1241.2" y="1499.1" font-size="23.3" text-anchor="end" textLength="11.0" lengthAdjust="spacingAndGlyphs">0</text>
<line x1="1242.0" y1="1345.2" x2="1252.0" y2="1345.2" stroke="#000" stroke-width="3.3"/>
<text x="1241.2" y="1354.0" font-size="23.3" text-anchor="end" textLength="28.3" lengthAdjust="spacingAndGlyphs">0.4</text>
<line x1="1242.0" y1="1198.5" x2="1252.0" y2="1198.5" stroke="#000" stroke-width="3.3"/>
<text x="1241.2" y="1207.3" font-size="23.3" text-anchor="end" textLength="28.3" lengthAdjust="spacingAndGlyphs">0.8</text>
<path d="M1290 1491.8V1414.6H1367.2V1491.8" fill="none" stroke="#000" stroke-width="3.4"/>
<line x1="1328.6" y1="1491.8" x2="1328.6" y2="1501.2" stroke="#000" stroke-width="3.3"/>
<path d="M1405.7 1491.8V1413.6H1483.2V1491.8" fill="none" stroke="#000" stroke-width="3.4"/>
<line x1="1444.5" y1="1491.8" x2="1444.5" y2="1501.2" stroke="#000" stroke-width="3.3"/>
<path d="M1521.7 1491.8V1412.8H1598.9V1491.8" fill="none" stroke="#000" stroke-width="3.4"/>
<line x1="1560.2" y1="1491.8" x2="1560.2" y2="1501.2" stroke="#000" stroke-width="3.3"/>
<path d="M1309.6 1460.4a5.0 5.0 0 1 0 10.0 0a5.0 5.0 0 1 0 -10.0 0M1314.3 1466.2a5.0 5.0 0 1 0 10.0 0a5.0 5.0 0 1 0 -10.0 0M1318.9 1471.2a5.0 5.0 0 1 0 10.0 0a5.0 5.0 0 1 0 -10.0 0M1323.6 1474.5a5.0 5.0 0 1 0 10.0 0a5.0 5.0 0 1 0 -10.0 0M1328.3 1471.2a5.0 5.0 0 1 0 10.0 0a5.0 5.0 0 1 0 -10.0 0M1332.9 1466.2a5.0 5.0 0 1 0 10.0 0a5.0 5.0 0 1 0 -10.0 0M1337.6 1460.4a5.0 5.0 0 1 0 10.0 0a5.0 5.0 0 1 0 -10.0 0M1290.3 1446.5a5.0 5.0 0 1 0 10.0 0a5.0 5.0 0 1 0 -10.0 0M1295.0 1449.2a5.0 5.0 0 1 0 10.0 0a5.0 5.0 0 1 0 -10.0 0M1299.8 1451.8a5.0 5.0 0 1 0 10.0 0a5.0 5.0 0 1 0 -10.0 0M1304.6 1454.3a5.0 5.0 0 1 0 10.0 0a5.0 5.0 0 1 0 -10.0 0M1309.3 1456.5a5.0 5.0 0 1 0 10.0 0a5.0 5.0 0 1 0 -10.0 0M1314.1 1458.6a5.0 5.0 0 1 0 10.0 0a5.0 5.0 0 1 0 -10.0 0M1318.8 1460.3a5.0 5.0 0 1 0 10.0 0a5.0 5.0 0 1 0 -10.0 0M1323.6 1461.5a5.0 5.0 0 1 0 10.0 0a5.0 5.0 0 1 0 -10.0 0M1328.4 1460.3a5.0 5.0 0 1 0 10.0 0a5.0 5.0 0 1 0 -10.0 0M1333.1 1458.6a5.0 5.0 0 1 0 10.0 0a5.0 5.0 0 1 0 -10.0 0M1337.9 1456.5a5.0 5.0 0 1 0 10.0 0a5.0 5.0 0 1 0 -10.0 0M1342.6 1454.3a5.0 5.0 0 1 0 10.0 0a5.0 5.0 0 1 0 -10.0 0M1347.4 1451.8a5.0 5.0 0 1 0 10.0 0a5.0 5.0 0 1 0 -10.0 0M1352.2 1449.2a5.0 5.0 0 1 0 10.0 0a5.0 5.0 0 1 0 -10.0 0M1356.9 1446.5a5.0 5.0 0 1 0 10.0 0a5.0 5.0 0 1 0 -10.0 0M1287.6 1433.2a5.0 5.0 0 1 0 10.0 0a5.0 5.0 0 1 0 -10.0 0M1292.1 1435.6a5.0 5.0 0 1 0 10.0 0a5.0 5.0 0 1 0 -10.0 0M1296.6 1437.8a5.0 5.0 0 1 0 10.0 0a5.0 5.0 0 1 0 -10.0 0M1301.1 1440.0a5.0 5.0 0 1 0 10.0 0a5.0 5.0 0 1 0 -10.0 0M1305.6 1442.0a5.0 5.0 0 1 0 10.0 0a5.0 5.0 0 1 0 -10.0 0M1310.1 1443.8a5.0 5.0 0 1 0 10.0 0a5.0 5.0 0 1 0 -10.0 0M1314.6 1445.5a5.0 5.0 0 1 0 10.0 0a5.0 5.0 0 1 0 -10.0 0M1319.1 1447.0a5.0 5.0 0 1 0 10.0 0a5.0 5.0 0 1 0 -10.0 0M1323.6 1447.9a5.0 5.0 0 1 0 10.0 0a5.0 5.0 0 1 0 -10.0 0M1328.1 1447.0a5.0 5.0 0 1 0 10.0 0a5.0 5.0 0 1 0 -10.0 0M1332.6 1445.5a5.0 5.0 0 1 0 10.0 0a5.0 5.0 0 1 0 -10.0 0M1337.1 1443.8a5.0 5.0 0 1 0 10.0 0a5.0 5.0 0 1 0 -10.0 0M1341.6 1442.0a5.0 5.0 0 1 0 10.0 0a5.0 5.0 0 1 0 -10.0 0M1346.1 1440.0a5.0 5.0 0 1 0 10.0 0a5.0 5.0 0 1 0 -10.0 0M1350.6 1437.8a5.0 5.0 0 1 0 10.0 0a5.0 5.0 0 1 0 -10.0 0M1355.1 1435.6a5.0 5.0 0 1 0 10.0 0a5.0 5.0 0 1 0 -10.0 0M1359.6 1433.2a5.0 5.0 0 1 0 10.0 0a5.0 5.0 0 1 0 -10.0 0M1287.6 1423.3a5.0 5.0 0 1 0 10.0 0a5.0 5.0 0 1 0 -10.0 0M1292.1 1425.1a5.0 5.0 0 1 0 10.0 0a5.0 5.0 0 1 0 -10.0 0M1296.6 1426.8a5.0 5.0 0 1 0 10.0 0a5.0 5.0 0 1 0 -10.0 0M1301.1 1428.4a5.0 5.0 0 1 0 10.0 0a5.0 5.0 0 1 0 -10.0 0M1305.6 1429.9a5.0 5.0 0 1 0 10.0 0a5.0 5.0 0 1 0 -10.0 0M1310.1 1431.3a5.0 5.0 0 1 0 10.0 0a5.0 5.0 0 1 0 -10.0 0M1314.6 1432.6a5.0 5.0 0 1 0 10.0 0a5.0 5.0 0 1 0 -10.0 0M1319.1 1433.7a5.0 5.0 0 1 0 10.0 0a5.0 5.0 0 1 0 -10.0 0M1323.6 1434.4a5.0 5.0 0 1 0 10.0 0a5.0 5.0 0 1 0 -10.0 0M1328.1 1433.7a5.0 5.0 0 1 0 10.0 0a5.0 5.0 0 1 0 -10.0 0M1332.6 1432.6a5.0 5.0 0 1 0 10.0 0a5.0 5.0 0 1 0 -10.0 0M1337.1 1431.3a5.0 5.0 0 1 0 10.0 0a5.0 5.0 0 1 0 -10.0 0M1341.6 1429.9a5.0 5.0 0 1 0 10.0 0a5.0 5.0 0 1 0 -10.0 0M1346.1 1428.4a5.0 5.0 0 1 0 10.0 0a5.0 5.0 0 1 0 -10.0 0M1350.6 1426.8a5.0 5.0 0 1 0 10.0 0a5.0 5.0 0 1 0 -10.0 0M1355.1 1425.1a5.0 5.0 0 1 0 10.0 0a5.0 5.0 0 1 0 -10.0 0M1359.6 1423.3a5.0 5.0 0 1 0 10.0 0a5.0 5.0 0 1 0 -10.0 0M1287.6 1406.3a5.0 5.0 0 1 0 10.0 0a5.0 5.0 0 1 0 -10.0 0M1292.1 1408.9a5.0 5.0 0 1 0 10.0 0a5.0 5.0 0 1 0 -10.0 0M1296.6 1411.3a5.0 5.0 0 1 0 10.0 0a5.0 5.0 0 1 0 -10.0 0M1301.1 1413.5a5.0 5.0 0 1 0 10.0 0a5.0 5.0 0 1 0 -10.0 0M1305.6 1415.7a5.0 5.0 0 1 0 10.0 0a5.0 5.0 0 1 0 -10.0 0M1310.1 1417.7a5.0 5.0 0 1 0 10.0 0a5.0 5.0 0 1 0 -10.0 0M1314.6 1419.5a5.0 5.0 0 1 0 10.0 0a5.0 5.0 0 1 0 -10.0 0M1319.1 1421.0a5.0 5.0 0 1 0 10.0 0a5.0 5.0 0 1 0 -10.0 0M1323.6 1422.1a5.0 5.0 0 1 0 10.0 0a5.0 5.0 0 1 0 -10.0 0M1328.1 1421.0a5.0 5.0 0 1 0 10.0 0a5.0 5.0 0 1 0 -10.0 0M1332.6 1419.5a5.0 5.0 0 1 0 10.0 0a5.0 5.0 0 1 0 -10.0 0M1337.1 1417.7a5.0 5.0 0 1 0 10.0 0a5.0 5.0 0 1 0 -10.0 0M1341.6 1415.7a5.0 5.0 0 1 0 10.0 0a5.0 5.0 0 1 0 -10.0 0M1346.1 1413.5a5.0 5.0 0 1 0 10.0 0a5.0 5.0 0 1 0 -10.0 0M1350.6 1411.3a5.0 5.0 0 1 0 10.0 0a5.0 5.0 0 1 0 -10.0 0M1355.1 1408.9a5.0 5.0 0 1 0 10.0 0a5.0 5.0 0 1 0 -10.0 0M1359.6 1406.3a5.0 5.0 0 1 0 10.0 0a5.0 5.0 0 1 0 -10.0 0M1287.6 1393.7a5.0 5.0 0 1 0 10.0 0a5.0 5.0 0 1 0 -10.0 0M1292.1 1396.2a5.0 5.0 0 1 0 10.0 0a5.0 5.0 0 1 0 -10.0 0M1296.6 1398.6a5.0 5.0 0 1 0 10.0 0a5.0 5.0 0 1 0 -10.0 0M1301.1 1400.8a5.0 5.0 0 1 0 10.0 0a5.0 5.0 0 1 0 -10.0 0M1305.6 1402.9a5.0 5.0 0 1 0 10.0 0a5.0 5.0 0 1 0 -10.0 0M1310.1 1404.9a5.0 5.0 0 1 0 10.0 0a5.0 5.0 0 1 0 -10.0 0M1314.6 1406.7a5.0 5.0 0 1 0 10.0 0a5.0 5.0 0 1 0 -10.0 0M1319.1 1408.2a5.0 5.0 0 1 0 10.0 0a5.0 5.0 0 1 0 -10.0 0M1323.6 1409.2a5.0 5.0 0 1 0 10.0 0a5.0 5.0 0 1 0 -10.0 0M1328.1 1408.2a5.0 5.0 0 1 0 10.0 0a5.0 5.0 0 1 0 -10.0 0M1332.6 1406.7a5.0 5.0 0 1 0 10.0 0a5.0 5.0 0 1 0 -10.0 0M1337.1 1404.9a5.0 5.0 0 1 0 10.0 0a5.0 5.0 0 1 0 -10.0 0M1341.6 1402.9a5.0 5.0 0 1 0 10.0 0a5.0 5.0 0 1 0 -10.0 0M1346.1 1400.8a5.0 5.0 0 1 0 10.0 0a5.0 5.0 0 1 0 -10.0 0M1350.6 1398.6a5.0 5.0 0 1 0 10.0 0a5.0 5.0 0 1 0 -10.0 0M1355.1 1396.2a5.0 5.0 0 1 0 10.0 0a5.0 5.0 0 1 0 -10.0 0M1359.6 1393.7a5.0 5.0 0 1 0 10.0 0a5.0 5.0 0 1 0 -10.0 0M1287.6 1384.4a5.0 5.0 0 1 0 10.0 0a5.0 5.0 0 1 0 -10.0 0M1292.1 1386.5a5.0 5.0 0 1 0 10.0 0a5.0 5.0 0 1 0 -10.0 0M1296.6 1388.6a5.0 5.0 0 1 0 10.0 0a5.0 5.0 0 1 0 -10.0 0M1301.1 1390.5a5.0 5.0 0 1 0 10.0 0a5.0 5.0 0 1 0 -10.0 0M1305.6 1392.3a5.0 5.0 0 1 0 10.0 0a5.0 5.0 0 1 0 -10.0 0M1310.1 1394.0a5.0 5.0 0 1 0 10.0 0a5.0 5.0 0 1 0 -10.0 0M1314.6 1395.6a5.0 5.0 0 1 0 10.0 0a5.0 5.0 0 1 0 -10.0 0M1319.1 1396.9a5.0 5.0 0 1 0 10.0 0a5.0 5.0 0 1 0 -10.0 0M1323.6 1397.8a5.0 5.0 0 1 0 10.0 0a5.0 5.0 0 1 0 -10.0 0M1328.1 1396.9a5.0 5.0 0 1 0 10.0 0a5.0 5.0 0 1 0 -10.0 0M1332.6 1395.6a5.0 5.0 0 1 0 10.0 0a5.0 5.0 0 1 0 -10.0 0M1337.1 1394.0a5.0 5.0 0 1 0 10.0 0a5.0 5.0 0 1 0 -10.0 0M1341.6 1392.3a5.0 5.0 0 1 0 10.0 0a5.0 5.0 0 1 0 -10.0 0M1346.1 1390.5a5.0 5.0 0 1 0 10.0 0a5.0 5.0 0 1 0 -10.0 0M1350.6 1388.6a5.0 5.0 0 1 0 10.0 0a5.0 5.0 0 1 0 -10.0 0M1355.1 1386.5a5.0 5.0 0 1 0 10.0 0a5.0 5.0 0 1 0 -10.0 0M1359.6 1384.4a5.0 5.0 0 1 0 10.0 0a5.0 5.0 0 1 0 -10.0 0M1288.0 1372.2a5.0 5.0 0 1 0 10.0 0a5.0 5.0 0 1 0 -10.0 0M1292.4 1374.4a5.0 5.0 0 1 0 10.0 0a5.0 5.0 0 1 0 -10.0 0M1296.9 1376.5a5.0 5.0 0 1 0 10.0 0a5.0 5.0 0 1 0 -10.0 0M1301.3 1378.5a5.0 5.0 0 1 0 10.0 0a5.0 5.0 0 1 0 -10.0 0M1305.8 1380.4a5.0 5.0 0 1 0 10.0 0a5.0 5.0 0 1 0 -10.0 0M1310.2 1382.1a5.0 5.0 0 1 0 10.0 0a5.0 5.0 0 1 0 -10.0 0M1314.7 1383.7a5.0 5.0 0 1 0 10.0 0a5.0 5.0 0 1 0 -10.0 0M1319.1 1385.0a5.0 5.0 0 1 0 10.0 0a5.0 5.0 0 1 0 -10.0 0M1323.6 1385.9a5.0 5.0 0 1 0 10.0 0a5.0 5.0 0 1 0 -10.0 0M1328.1 1385.0a5.0 5.0 0 1 0 10.0 0a5.0 5.0 0 1 0 -10.0 0M1332.5 1383.7a5.0 5.0 0 1 0 10.0 0a5.0 5.0 0 1 0 -10.0 0M1337.0 1382.1a5.0 5.0 0 1 0 10.0 0a5.0 5.0 0 1 0 -10.0 0M1341.4 1380.4a5.0 5.0 0 1 0 10.0 0a5.0 5.0 0 1 0 -10.0 0M1345.9 1378.5a5.0 5.0 0 1 0 10.0 0a5.0 5.0 0 1 0 -10.0 0M1350.3 1376.5a5.0 5.0 0 1 0 10.0 0a5.0 5.0 0 1 0 -10.0 0M1354.8 1374.4a5.0 5.0 0 1 0 10.0 0a5.0 5.0 0 1 0 -10.0 0M1359.2 1372.2a5.0 5.0 0 1 0 10.0 0a5.0 5.0 0 1 0 -10.0 0M1290.7 1362.2a5.0 5.0 0 1 0 10.0 0a5.0 5.0 0 1 0 -10.0 0M1295.4 1364.3a5.0 5.0 0 1 0 10.0 0a5.0 5.0 0 1 0 -10.0 0M1300.1 1366.2a5.0 5.0 0 1 0 10.0 0a5.0 5.0 0 1 0 -10.0 0M1304.8 1368.0a5.0 5.0 0 1 0 10.0 0a5.0 5.0 0 1 0 -10.0 0M1309.5 1369.6a5.0 5.0 0 1 0 10.0 0a5.0 5.0 0 1 0 -10.0 0M1314.2 1371.1a5.0 5.0 0 1 0 10.0 0a5.0 5.0 0 1 0 -10.0 0M1318.9 1372.4a5.0 5.0 0 1 0 10.0 0a5.0 5.0 0 1 0 -10.0 0M1323.6 1373.3a5.0 5.0 0 1 0 10.0 0a5.0 5.0 0 1 0 -10.0 0M1328.3 1372.4a5.0 5.0 0 1 0 10.0 0a5.0 5.0 0 1 0 -10.0 0M1333.0 1371.1a5.0 5.0 0 1 0 10.0 0a5.0 5.0 0 1 0 -10.0 0M1337.7 1369.6a5.0 5.0 0 1 0 10.0 0a5.0 5.0 0 1 0 -10.0 0M1342.4 1368.0a5.0 5.0 0 1 0 10.0 0a5.0 5.0 0 1 0 -10.0 0M1347.1 1366.2a5.0 5.0 0 1 0 10.0 0a5.0 5.0 0 1 0 -10.0 0M1351.8 1364.3a5.0 5.0 0 1 0 10.0 0a5.0 5.0 0 1 0 -10.0 0M1356.5 1362.2a5.0 5.0 0 1 0 10.0 0a5.0 5.0 0 1 0 -10.0 0M1293.2 1349.2a5.0 5.0 0 1 0 10.0 0a5.0 5.0 0 1 0 -10.0 0M1297.6 1351.4a5.0 5.0 0 1 0 10.0 0a5.0 5.0 0 1 0 -10.0 0M1301.9 1353.6a5.0 5.0 0 1 0 10.0 0a5.0 5.0 0 1 0 -10.0 0M1306.3 1355.6a5.0 5.0 0 1 0 10.0 0a5.0 5.0 0 1 0 -10.0 0M1310.6 1357.4a5.0 5.0 0 1 0 10.0 0a5.0 5.0 0 1 0 -10.0 0M1314.9 1359.1a5.0 5.0 0 1 0 10.0 0a5.0 5.0 0 1 0 -10.0 0M1319.3 1360.6a5.0 5.0 0 1 0 10.0 0a5.0 5.0 0 1 0 -10.0 0M1323.6 1361.6a5.0 5.0 0 1 0 10.0 0a5.0 5.0 0 1 0 -10.0 0M1327.9 1360.6a5.0 5.0 0 1 0 10.0 0a5.0 5.0 0 1 0 -10.0 0M1332.3 1359.1a5.0 5.0 0 1 0 10.0 0a5.0 5.0 0 1 0 -10.0 0M1336.6 1357.4a5.0 5.0 0 1 0 10.0 0a5.0 5.0 0 1 0 -10.0 0M1340.9 1355.6a5.0 5.0 0 1 0 10.0 0a5.0 5.0 0 1 0 -10.0 0M1345.3 1353.6a5.0 5.0 0 1 0 10.0 0a5.0 5.0 0 1 0 -10.0 0M1349.6 1351.4a5.0 5.0 0 1 0 10.0 0a5.0 5.0 0 1 0 -10.0 0M1354.0 1349.2a5.0 5.0 0 1 0 10.0 0a5.0 5.0 0 1 0 -10.0 0" fill="#2e3192"/>
<path d="M1316.1 1227.3a5.0 5.0 0 1 0 10.0 0a5.0 5.0 0 1 0 -10.0 0M1331.7 1235.3a5.0 5.0 0 1 0 10.0 0a5.0 5.0 0 1 0 -10.0 0M1323.7 1265.8a5.0 5.0 0 1 0 10.0 0a5.0 5.0 0 1 0 -10.0 0M1316.1 1294.0a5.0 5.0 0 1 0 10.0 0a5.0 5.0 0 1 0 -10.0 0M1339.4 1298.8a5.0 5.0 0 1 0 10.0 0a5.0 5.0 0 1 0 -10.0 0M1331.7 1306.4a5.0 5.0 0 1 0 10.0 0a5.0 5.0 0 1 0 -10.0 0M1316.1 1317.8a5.0 5.0 0 1 0 10.0 0a5.0 5.0 0 1 0 -10.0 0M1354.6 1320.7a5.0 5.0 0 1 0 10.0 0a5.0 5.0 0 1 0 -10.0 0M1293.2 1326.8a5.0 5.0 0 1 0 10.0 0a5.0 5.0 0 1 0 -10.0 0M1303.1 1331.6a5.0 5.0 0 1 0 10.0 0a5.0 5.0 0 1 0 -10.0 0M1344.1 1330.6a5.0 5.0 0 1 0 10.0 0a5.0 5.0 0 1 0 -10.0 0M1313.6 1332.5a5.0 5.0 0 1 0 10.0 0a5.0 5.0 0 1 0 -10.0 0M1324.1 1333.5a5.0 5.0 0 1 0 10.0 0a5.0 5.0 0 1 0 -10.0 0M1333.6 1332.5a5.0 5.0 0 1 0 10.0 0a5.0 5.0 0 1 0 -10.0 0M1316.1 1341.1a5.0 5.0 0 1 0 10.0 0a5.0 5.0 0 1 0 -10.0 0M1330.8 1338.2a5.0 5.0 0 1 0 10.0 0a5.0 5.0 0 1 0 -10.0 0" fill="#2e3192"/>
<path d="M1425.5 1452.0a5.0 5.0 0 1 0 10.0 0a5.0 5.0 0 1 0 -10.0 0M1430.2 1458.1a5.0 5.0 0 1 0 10.0 0a5.0 5.0 0 1 0 -10.0 0M1434.8 1463.3a5.0 5.0 0 1 0 10.0 0a5.0 5.0 0 1 0 -10.0 0M1439.5 1466.9a5.0 5.0 0 1 0 10.0 0a5.0 5.0 0 1 0 -10.0 0M1444.2 1463.3a5.0 5.0 0 1 0 10.0 0a5.0 5.0 0 1 0 -10.0 0M1448.8 1458.1a5.0 5.0 0 1 0 10.0 0a5.0 5.0 0 1 0 -10.0 0M1453.5 1452.0a5.0 5.0 0 1 0 10.0 0a5.0 5.0 0 1 0 -10.0 0M1403.5 1440.2a5.0 5.0 0 1 0 10.0 0a5.0 5.0 0 1 0 -10.0 0M1408.0 1442.4a5.0 5.0 0 1 0 10.0 0a5.0 5.0 0 1 0 -10.0 0M1412.5 1444.4a5.0 5.0 0 1 0 10.0 0a5.0 5.0 0 1 0 -10.0 0M1417.0 1446.4a5.0 5.0 0 1 0 10.0 0a5.0 5.0 0 1 0 -10.0 0M1421.5 1448.2a5.0 5.0 0 1 0 10.0 0a5.0 5.0 0 1 0 -10.0 0M1426.0 1449.9a5.0 5.0 0 1 0 10.0 0a5.0 5.0 0 1 0 -10.0 0M1430.5 1451.5a5.0 5.0 0 1 0 10.0 0a5.0 5.0 0 1 0 -10.0 0M1435.0 1452.8a5.0 5.0 0 1 0 10.0 0a5.0 5.0 0 1 0 -10.0 0M1439.5 1453.7a5.0 5.0 0 1 0 10.0 0a5.0 5.0 0 1 0 -10.0 0M1444.0 1452.8a5.0 5.0 0 1 0 10.0 0a5.0 5.0 0 1 0 -10.0 0M1448.5 1451.5a5.0 5.0 0 1 0 10.0 0a5.0 5.0 0 1 0 -10.0 0M1453.0 1449.9a5.0 5.0 0 1 0 10.0 0a5.0 5.0 0 1 0 -10.0 0M1457.5 1448.2a5.0 5.0 0 1 0 10.0 0a5.0 5.0 0 1 0 -10.0 0M1462.0 1446.4a5.0 5.0 0 1 0 10.0 0a5.0 5.0 0 1 0 -10.0 0M1466.5 1444.4a5.0 5.0 0 1 0 10.0 0a5.0 5.0 0 1 0 -10.0 0M1471.0 1442.4a5.0 5.0 0 1 0 10.0 0a5.0 5.0 0 1 0 -10.0 0M1475.5 1440.2a5.0 5.0 0 1 0 10.0 0a5.0 5.0 0 1 0 -10.0 0M1403.5 1430.8a5.0 5.0 0 1 0 10.0 0a5.0 5.0 0 1 0 -10.0 0M1408.0 1432.6a5.0 5.0 0 1 0 10.0 0a5.0 5.0 0 1 0 -10.0 0M1412.5 1434.2a5.0 5.0 0 1 0 10.0 0a5.0 5.0 0 1 0 -10.0 0M1417.0 1435.8a5.0 5.0 0 1 0 10.0 0a5.0 5.0 0 1 0 -10.0 0M1421.5 1437.3a5.0 5.0 0 1 0 10.0 0a5.0 5.0 0 1 0 -10.0 0M1426.0 1438.7a5.0 5.0 0 1 0 10.0 0a5.0 5.0 0 1 0 -10.0 0M1430.5 1440.0a5.0 5.0 0 1 0 10.0 0a5.0 5.0 0 1 0 -10.0 0M1435.0 1441.1a5.0 5.0 0 1 0 10.0 0a5.0 5.0 0 1 0 -10.0 0M1439.5 1441.8a5.0 5.0 0 1 0 10.0 0a5.0 5.0 0 1 0 -10.0 0M1444.0 1441.1a5.0 5.0 0 1 0 10.0 0a5.0 5.0 0 1 0 -10.0 0M1448.5 1440.0a5.0 5.0 0 1 0 10.0 0a5.0 5.0 0 1 0 -10.0 0M1453.0 1438.7a5.0 5.0 0 1 0 10.0 0a5.0 5.0 0 1 0 -10.0 0M1457.5 1437.3a5.0 5.0 0 1 0 10.0 0a5.0 5.0 0 1 0 -10.0 0M1462.0 1435.8a5.0 5.0 0 1 0 10.0 0a5.0 5.0 0 1 0 -10.0 0M1466.5 1434.2a5.0 5.0 0 1 0 10.0 0a5.0 5.0 0 1 0 -10.0 0M1471.0 1432.6a5.0 5.0 0 1 0 10.0 0a5.0 5.0 0 1 0 -10.0 0M1475.5 1430.8a5.0 5.0 0 1 0 10.0 0a5.0 5.0 0 1 0 -10.0 0M1403.5 1415.6a5.0 5.0 0 1 0 10.0 0a5.0 5.0 0 1 0 -10.0 0M1408.0 1417.7a5.0 5.0 0 1 0 10.0 0a5.0 5.0 0 1 0 -10.0 0M1412.5 1419.8a5.0 5.0 0 1 0 10.0 0a5.0 5.0 0 1 0 -10.0 0M1417.0 1421.7a5.0 5.0 0 1 0 10.0 0a5.0 5.0 0 1 0 -10.0 0M1421.5 1423.5a5.0 5.0 0 1 0 10.0 0a5.0 5.0 0 1 0 -10.0 0M1426.0 1425.2a5.0 5.0 0 1 0 10.0 0a5.0 5.0 0 1 0 -10.0 0M1430.5 1426.8a5.0 5.0 0 1 0 10.0 0a5.0 5.0 0 1 0 -10.0 0M1435.0 1428.1a5.0 5.0 0 1 0 10.0 0a5.0 5.0 0 1 0 -10.0 0M1439.5 1429.0a5.0 5.0 0 1 0 10.0 0a5.0 5.0 0 1 0 -10.0 0M1444.0 1428.1a5.0 5.0 0 1 0 10.0 0a5.0 5.0 0 1 0 -10.0 0M1448.5 1426.8a5.0 5.0 0 1 0 10.0 0a5.0 5.0 0 1 0 -10.0 0M1453.0 1425.2a5.0 5.0 0 1 0 10.0 0a5.0 5.0 0 1 0 -10.0 0M1457.5 1423.5a5.0 5.0 0 1 0 10.0 0a5.0 5.0 0 1 0 -10.0 0M1462.0 1421.7a5.0 5.0 0 1 0 10.0 0a5.0 5.0 0 1 0 -10.0 0M1466.5 1419.8a5.0 5.0 0 1 0 10.0 0a5.0 5.0 0 1 0 -10.0 0M1471.0 1417.7a5.0 5.0 0 1 0 10.0 0a5.0 5.0 0 1 0 -10.0 0M1475.5 1415.6a5.0 5.0 0 1 0 10.0 0a5.0 5.0 0 1 0 -10.0 0M1403.5 1403.0a5.0 5.0 0 1 0 10.0 0a5.0 5.0 0 1 0 -10.0 0M1408.0 1405.0a5.0 5.0 0 1 0 10.0 0a5.0 5.0 0 1 0 -10.0 0M1412.5 1407.0a5.0 5.0 0 1 0 10.0 0a5.0 5.0 0 1 0 -10.0 0M1417.0 1408.9a5.0 5.0 0 1 0 10.0 0a5.0 5.0 0 1 0 -10.0 0M1421.5 1410.6a5.0 5.0 0 1 0 10.0 0a5.0 5.0 0 1 0 -10.0 0M1426.0 1412.3a5.0 5.0 0 1 0 10.0 0a5.0 5.0 0 1 0 -10.0 0M1430.5 1413.7a5.0 5.0 0 1 0 10.0 0a5.0 5.0 0 1 0 -10.0 0M1435.0 1415.0a5.0 5.0 0 1 0 10.0 0a5.0 5.0 0 1 0 -10.0 0M1439.5 1415.9a5.0 5.0 0 1 0 10.0 0a5.0 5.0 0 1 0 -10.0 0M1444.0 1415.0a5.0 5.0 0 1 0 10.0 0a5.0 5.0 0 1 0 -10.0 0M1448.5 1413.7a5.0 5.0 0 1 0 10.0 0a5.0 5.0 0 1 0 -10.0 0M1453.0 1412.3a5.0 5.0 0 1 0 10.0 0a5.0 5.0 0 1 0 -10.0 0M1457.5 1410.6a5.0 5.0 0 1 0 10.0 0a5.0 5.0 0 1 0 -10.0 0M1462.0 1408.9a5.0 5.0 0 1 0 10.0 0a5.0 5.0 0 1 0 -10.0 0M1466.5 1407.0a5.0 5.0 0 1 0 10.0 0a5.0 5.0 0 1 0 -10.0 0M1471.0 1405.0a5.0 5.0 0 1 0 10.0 0a5.0 5.0 0 1 0 -10.0 0M1475.5 1403.0a5.0 5.0 0 1 0 10.0 0a5.0 5.0 0 1 0 -10.0 0M1403.5 1390.4a5.0 5.0 0 1 0 10.0 0a5.0 5.0 0 1 0 -10.0 0M1408.0 1392.3a5.0 5.0 0 1 0 10.0 0a5.0 5.0 0 1 0 -10.0 0M1412.5 1394.2a5.0 5.0 0 1 0 10.0 0a5.0 5.0 0 1 0 -10.0 0M1417.0 1396.0a5.0 5.0 0 1 0 10.0 0a5.0 5.0 0 1 0 -10.0 0M1421.5 1397.7a5.0 5.0 0 1 0 10.0 0a5.0 5.0 0 1 0 -10.0 0M1426.0 1399.3a5.0 5.0 0 1 0 10.0 0a5.0 5.0 0 1 0 -10.0 0M1430.5 1400.7a5.0 5.0 0 1 0 10.0 0a5.0 5.0 0 1 0 -10.0 0M1435.0 1401.9a5.0 5.0 0 1 0 10.0 0a5.0 5.0 0 1 0 -10.0 0M1439.5 1402.7a5.0 5.0 0 1 0 10.0 0a5.0 5.0 0 1 0 -10.0 0M1444.0 1401.9a5.0 5.0 0 1 0 10.0 0a5.0 5.0 0 1 0 -10.0 0M1448.5 1400.7a5.0 5.0 0 1 0 10.0 0a5.0 5.0 0 1 0 -10.0 0M1453.0 1399.3a5.0 5.0 0 1 0 10.0 0a5.0 5.0 0 1 0 -10.0 0M1457.5 1397.7a5.0 5.0 0 1 0 10.0 0a5.0 5.0 0 1 0 -10.0 0M1462.0 1396.0a5.0 5.0 0 1 0 10.0 0a5.0 5.0 0 1 0 -10.0 0M1466.5 1394.2a5.0 5.0 0 1 0 10.0 0a5.0 5.0 0 1 0 -10.0 0M1471.0 1392.3a5.0 5.0 0 1 0 10.0 0a5.0 5.0 0 1 0 -10.0 0M1475.5 1390.4a5.0 5.0 0 1 0 10.0 0a5.0 5.0 0 1 0 -10.0 0M1405.3 1374.9a5.0 5.0 0 1 0 10.0 0a5.0 5.0 0 1 0 -10.0 0M1409.5 1377.2a5.0 5.0 0 1 0 10.0 0a5.0 5.0 0 1 0 -10.0 0M1413.8 1379.4a5.0 5.0 0 1 0 10.0 0a5.0 5.0 0 1 0 -10.0 0M1418.1 1381.6a5.0 5.0 0 1 0 10.0 0a5.0 5.0 0 1 0 -10.0 0M1422.4 1383.6a5.0 5.0 0 1 0 10.0 0a5.0 5.0 0 1 0 -10.0 0M1426.7 1385.4a5.0 5.0 0 1 0 10.0 0a5.0 5.0 0 1 0 -10.0 0M1430.9 1387.1a5.0 5.0 0 1 0 10.0 0a5.0 5.0 0 1 0 -10.0 0M1435.2 1388.5a5.0 5.0 0 1 0 10.0 0a5.0 5.0 0 1 0 -10.0 0M1439.5 1389.5a5.0 5.0 0 1 0 10.0 0a5.0 5.0 0 1 0 -10.0 0M1443.8 1388.5a5.0 5.0 0 1 0 10.0 0a5.0 5.0 0 1 0 -10.0 0M1448.1 1387.1a5.0 5.0 0 1 0 10.0 0a5.0 5.0 0 1 0 -10.0 0M1452.3 1385.4a5.0 5.0 0 1 0 10.0 0a5.0 5.0 0 1 0 -10.0 0M1456.6 1383.6a5.0 5.0 0 1 0 10.0 0a5.0 5.0 0 1 0 -10.0 0M1460.9 1381.6a5.0 5.0 0 1 0 10.0 0a5.0 5.0 0 1 0 -10.0 0M1465.2 1379.4a5.0 5.0 0 1 0 10.0 0a5.0 5.0 0 1 0 -10.0 0M1469.5 1377.2a5.0 5.0 0 1 0 10.0 0a5.0 5.0 0 1 0 -10.0 0M1473.7 1374.9a5.0 5.0 0 1 0 10.0 0a5.0 5.0 0 1 0 -10.0 0M1408.5 1363.6a5.0 5.0 0 1 0 10.0 0a5.0 5.0 0 1 0 -10.0 0M1412.9 1366.1a5.0 5.0 0 1 0 10.0 0a5.0 5.0 0 1 0 -10.0 0M1417.3 1368.4a5.0 5.0 0 1 0 10.0 0a5.0 5.0 0 1 0 -10.0 0M1421.8 1370.7a5.0 5.0 0 1 0 10.0 0a5.0 5.0 0 1 0 -10.0 0M1426.2 1372.7a5.0 5.0 0 1 0 10.0 0a5.0 5.0 0 1 0 -10.0 0M1430.6 1374.6a5.0 5.0 0 1 0 10.0 0a5.0 5.0 0 1 0 -10.0 0M1435.1 1376.2a5.0 5.0 0 1 0 10.0 0a5.0 5.0 0 1 0 -10.0 0M1439.5 1377.3a5.0 5.0 0 1 0 10.0 0a5.0 5.0 0 1 0 -10.0 0M1443.9 1376.2a5.0 5.0 0 1 0 10.0 0a5.0 5.0 0 1 0 -10.0 0M1448.4 1374.6a5.0 5.0 0 1 0 10.0 0a5.0 5.0 0 1 0 -10.0 0M1452.8 1372.7a5.0 5.0 0 1 0 10.0 0a5.0 5.0 0 1 0 -10.0 0M1457.2 1370.7a5.0 5.0 0 1 0 10.0 0a5.0 5.0 0 1 0 -10.0 0M1461.7 1368.4a5.0 5.0 0 1 0 10.0 0a5.0 5.0 0 1 0 -10.0 0M1466.1 1366.1a5.0 5.0 0 1 0 10.0 0a5.0 5.0 0 1 0 -10.0 0M1470.5 1363.6a5.0 5.0 0 1 0 10.0 0a5.0 5.0 0 1 0 -10.0 0" fill="#ed1c24"/>
<path d="M1431.8 1294.0a5.0 5.0 0 1 0 10.0 0a5.0 5.0 0 1 0 -10.0 0M1447.1 1294.9a5.0 5.0 0 1 0 10.0 0a5.0 5.0 0 1 0 -10.0 0M1424.2 1305.8a5.0 5.0 0 1 0 10.0 0a5.0 5.0 0 1 0 -10.0 0M1454.7 1315.3a5.0 5.0 0 1 0 10.0 0a5.0 5.0 0 1 0 -10.0 0M1439.5 1319.2a5.0 5.0 0 1 0 10.0 0a5.0 5.0 0 1 0 -10.0 0M1430.9 1323.0a5.0 5.0 0 1 0 10.0 0a5.0 5.0 0 1 0 -10.0 0M1447.1 1324.9a5.0 5.0 0 1 0 10.0 0a5.0 5.0 0 1 0 -10.0 0M1415.6 1329.6a5.0 5.0 0 1 0 10.0 0a5.0 5.0 0 1 0 -10.0 0M1464.2 1330.6a5.0 5.0 0 1 0 10.0 0a5.0 5.0 0 1 0 -10.0 0M1424.2 1331.6a5.0 5.0 0 1 0 10.0 0a5.0 5.0 0 1 0 -10.0 0M1454.7 1332.5a5.0 5.0 0 1 0 10.0 0a5.0 5.0 0 1 0 -10.0 0M1434.7 1334.4a5.0 5.0 0 1 0 10.0 0a5.0 5.0 0 1 0 -10.0 0M1444.2 1336.3a5.0 5.0 0 1 0 10.0 0a5.0 5.0 0 1 0 -10.0 0M1408.0 1338.2a5.0 5.0 0 1 0 10.0 0a5.0 5.0 0 1 0 -10.0 0M1470.9 1338.8a5.0 5.0 0 1 0 10.0 0a5.0 5.0 0 1 0 -10.0 0M1416.6 1342.0a5.0 5.0 0 1 0 10.0 0a5.0 5.0 0 1 0 -10.0 0M1462.3 1342.0a5.0 5.0 0 1 0 10.0 0a5.0 5.0 0 1 0 -10.0 0M1425.2 1345.9a5.0 5.0 0 1 0 10.0 0a5.0 5.0 0 1 0 -10.0 0M1453.8 1346.8a5.0 5.0 0 1 0 10.0 0a5.0 5.0 0 1 0 -10.0 0M1432.8 1350.6a5.0 5.0 0 1 0 10.0 0a5.0 5.0 0 1 0 -10.0 0M1445.2 1350.6a5.0 5.0 0 1 0 10.0 0a5.0 5.0 0 1 0 -10.0 0M1438.5 1354.4a5.0 5.0 0 1 0 10.0 0a5.0 5.0 0 1 0 -10.0 0M1430.9 1358.2a5.0 5.0 0 1 0 10.0 0a5.0 5.0 0 1 0 -10.0 0M1447.1 1359.2a5.0 5.0 0 1 0 10.0 0a5.0 5.0 0 1 0 -10.0 0M1414.7 1468.8a5.0 5.0 0 1 0 10.0 0a5.0 5.0 0 1 0 -10.0 0M1464.2 1466.9a5.0 5.0 0 1 0 10.0 0a5.0 5.0 0 1 0 -10.0 0M1424.2 1470.7a5.0 5.0 0 1 0 10.0 0a5.0 5.0 0 1 0 -10.0 0M1454.7 1469.8a5.0 5.0 0 1 0 10.0 0a5.0 5.0 0 1 0 -10.0 0M1444.2 1474.5a5.0 5.0 0 1 0 10.0 0a5.0 5.0 0 1 0 -10.0 0M1434.7 1478.7a5.0 5.0 0 1 0 10.0 0a5.0 5.0 0 1 0 -10.0 0" fill="#ed1c24"/>
<path d="M1541.2 1454.8a5.0 5.0 0 1 0 10.0 0a5.0 5.0 0 1 0 -10.0 0M1545.9 1459.8a5.0 5.0 0 1 0 10.0 0a5.0 5.0 0 1 0 -10.0 0M1550.5 1464.0a5.0 5.0 0 1 0 10.0 0a5.0 5.0 0 1 0 -10.0 0M1555.2 1466.9a5.0 5.0 0 1 0 10.0 0a5.0 5.0 0 1 0 -10.0 0M1559.9 1464.0a5.0 5.0 0 1 0 10.0 0a5.0 5.0 0 1 0 -10.0 0M1564.5 1459.8a5.0 5.0 0 1 0 10.0 0a5.0 5.0 0 1 0 -10.0 0M1569.2 1454.8a5.0 5.0 0 1 0 10.0 0a5.0 5.0 0 1 0 -10.0 0M1519.2 1441.7a5.0 5.0 0 1 0 10.0 0a5.0 5.0 0 1 0 -10.0 0M1523.7 1443.5a5.0 5.0 0 1 0 10.0 0a5.0 5.0 0 1 0 -10.0 0M1528.2 1445.3a5.0 5.0 0 1 0 10.0 0a5.0 5.0 0 1 0 -10.0 0M1532.7 1447.0a5.0 5.0 0 1 0 10.0 0a5.0 5.0 0 1 0 -10.0 0M1537.2 1448.6a5.0 5.0 0 1 0 10.0 0a5.0 5.0 0 1 0 -10.0 0M1541.7 1450.1a5.0 5.0 0 1 0 10.0 0a5.0 5.0 0 1 0 -10.0 0M1546.2 1451.4a5.0 5.0 0 1 0 10.0 0a5.0 5.0 0 1 0 -10.0 0M1550.7 1452.5a5.0 5.0 0 1 0 10.0 0a5.0 5.0 0 1 0 -10.0 0M1555.2 1453.3a5.0 5.0 0 1 0 10.0 0a5.0 5.0 0 1 0 -10.0 0M1559.7 1452.5a5.0 5.0 0 1 0 10.0 0a5.0 5.0 0 1 0 -10.0 0M1564.2 1451.4a5.0 5.0 0 1 0 10.0 0a5.0 5.0 0 1 0 -10.0 0M1568.7 1450.1a5.0 5.0 0 1 0 10.0 0a5.0 5.0 0 1 0 -10.0 0M1573.2 1448.6a5.0 5.0 0 1 0 10.0 0a5.0 5.0 0 1 0 -10.0 0M1577.7 1447.0a5.0 5.0 0 1 0 10.0 0a5.0 5.0 0 1 0 -10.0 0M1582.2 1445.3a5.0 5.0 0 1 0 10.0 0a5.0 5.0 0 1 0 -10.0 0M1586.7 1443.5a5.0 5.0 0 1 0 10.0 0a5.0 5.0 0 1 0 -10.0 0M1591.2 1441.7a5.0 5.0 0 1 0 10.0 0a5.0 5.0 0 1 0 -10.0 0M1519.2 1428.9a5.0 5.0 0 1 0 10.0 0a5.0 5.0 0 1 0 -10.0 0M1523.7 1430.7a5.0 5.0 0 1 0 10.0 0a5.0 5.0 0 1 0 -10.0 0M1528.2 1432.5a5.0 5.0 0 1 0 10.0 0a5.0 5.0 0 1 0 -10.0 0M1532.7 1434.2a5.0 5.0 0 1 0 10.0 0a5.0 5.0 0 1 0 -10.0 0M1537.2 1435.7a5.0 5.0 0 1 0 10.0 0a5.0 5.0 0 1 0 -10.0 0M1541.7 1437.2a5.0 5.0 0 1 0 10.0 0a5.0 5.0 0 1 0 -10.0 0M1546.2 1438.5a5.0 5.0 0 1 0 10.0 0a5.0 5.0 0 1 0 -10.0 0M1550.7 1439.6a5.0 5.0 0 1 0 10.0 0a5.0 5.0 0 1 0 -10.0 0M1555.2 1440.4a5.0 5.0 0 1 0 10.0 0a5.0 5.0 0 1 0 -10.0 0M1559.7 1439.6a5.0 5.0 0 1 0 10.0 0a5.0 5.0 0 1 0 -10.0 0M1564.2 1438.5a5.0 5.0 0 1 0 10.0 0a5.0 5.0 0 1 0 -10.0 0M1568.7 1437.2a5.0 5.0 0 1 0 10.0 0a5.0 5.0 0 1 0 -10.0 0M1573.2 1435.7a5.0 5.0 0 1 0 10.0 0a5.0 5.0 0 1 0 -10.0 0M1577.7 1434.2a5.0 5.0 0 1 0 10.0 0a5.0 5.0 0 1 0 -10.0 0M1582.2 1432.5a5.0 5.0 0 1 0 10.0 0a5.0 5.0 0 1 0 -10.0 0M1586.7 1430.7a5.0 5.0 0 1 0 10.0 0a5.0 5.0 0 1 0 -10.0 0M1591.2 1428.9a5.0 5.0 0 1 0 10.0 0a5.0 5.0 0 1 0 -10.0 0M1519.2 1412.5a5.0 5.0 0 1 0 10.0 0a5.0 5.0 0 1 0 -10.0 0M1523.7 1415.1a5.0 5.0 0 1 0 10.0 0a5.0 5.0 0 1 0 -10.0 0M1528.2 1417.5a5.0 5.0 0 1 0 10.0 0a5.0 5.0 0 1 0 -10.0 0M1532.7 1419.9a5.0 5.0 0 1 0 10.0 0a5.0 5.0 0 1 0 -10.0 0M1537.2 1422.0a5.0 5.0 0 1 0 10.0 0a5.0 5.0 0 1 0 -10.0 0M1541.7 1424.1a5.0 5.0 0 1 0 10.0 0a5.0 5.0 0 1 0 -10.0 0M1546.2 1425.9a5.0 5.0 0 1 0 10.0 0a5.0 5.0 0 1 0 -10.0 0M1550.7 1427.5a5.0 5.0 0 1 0 10.0 0a5.0 5.0 0 1 0 -10.0 0M1555.2 1428.5a5.0 5.0 0 1 0 10.0 0a5.0 5.0 0 1 0 -10.0 0M1559.7 1427.5a5.0 5.0 0 1 0 10.0 0a5.0 5.0 0 1 0 -10.0 0M1564.2 1425.9a5.0 5.0 0 1 0 10.0 0a5.0 5.0 0 1 0 -10.0 0M1568.7 1424.1a5.0 5.0 0 1 0 10.0 0a5.0 5.0 0 1 0 -10.0 0M1573.2 1422.0a5.0 5.0 0 1 0 10.0 0a5.0 5.0 0 1 0 -10.0 0M1577.7 1419.9a5.0 5.0 0 1 0 10.0 0a5.0 5.0 0 1 0 -10.0 0M1582.2 1417.5a5.0 5.0 0 1 0 10.0 0a5.0 5.0 0 1 0 -10.0 0M1586.7 1415.1a5.0 5.0 0 1 0 10.0 0a5.0 5.0 0 1 0 -10.0 0M1591.2 1412.5a5.0 5.0 0 1 0 10.0 0a5.0 5.0 0 1 0 -10.0 0M1519.2 1402.6a5.0 5.0 0 1 0 10.0 0a5.0 5.0 0 1 0 -10.0 0M1523.7 1404.9a5.0 5.0 0 1 0 10.0 0a5.0 5.0 0 1 0 -10.0 0M1528.2 1407.0a5.0 5.0 0 1 0 10.0 0a5.0 5.0 0 1 0 -10.0 0M1532.7 1409.1a5.0 5.0 0 1 0 10.0 0a5.0 5.0 0 1 0 -10.0 0M1537.2 1411.0a5.0 5.0 0 1 0 10.0 0a5.0 5.0 0 1 0 -10.0 0M1541.7 1412.8a5.0 5.0 0 1 0 10.0 0a5.0 5.0 0 1 0 -10.0 0M1546.2 1414.5a5.0 5.0 0 1 0 10.0 0a5.0 5.0 0 1 0 -10.0 0M1550.7 1415.9a5.0 5.0 0 1 0 10.0 0a5.0 5.0 0 1 0 -10.0 0M1555.2 1416.8a5.0 5.0 0 1 0 10.0 0a5.0 5.0 0 1 0 -10.0 0M1559.7 1415.9a5.0 5.0 0 1 0 10.0 0a5.0 5.0 0 1 0 -10.0 0M1564.2 1414.5a5.0 5.0 0 1 0 10.0 0a5.0 5.0 0 1 0 -10.0 0M1568.7 1412.8a5.0 5.0 0 1 0 10.0 0a5.0 5.0 0 1 0 -10.0 0M1573.2 1411.0a5.0 5.0 0 1 0 10.0 0a5.0 5.0 0 1 0 -10.0 0M1577.7 1409.1a5.0 5.0 0 1 0 10.0 0a5.0 5.0 0 1 0 -10.0 0M1582.2 1407.0a5.0 5.0 0 1 0 10.0 0a5.0 5.0 0 1 0 -10.0 0M1586.7 1404.9a5.0 5.0 0 1 0 10.0 0a5.0 5.0 0 1 0 -10.0 0M1591.2 1402.6a5.0 5.0 0 1 0 10.0 0a5.0 5.0 0 1 0 -10.0 0M1519.2 1391.2a5.0 5.0 0 1 0 10.0 0a5.0 5.0 0 1 0 -10.0 0M1523.7 1393.3a5.0 5.0 0 1 0 10.0 0a5.0 5.0 0 1 0 -10.0 0M1528.2 1395.3a5.0 5.0 0 1 0 10.0 0a5.0 5.0 0 1 0 -10.0 0M1532.7 1397.3a5.0 5.0 0 1 0 10.0 0a5.0 5.0 0 1 0 -10.0 0M1537.2 1399.1a5.0 5.0 0 1 0 10.0 0a5.0 5.0 0 1 0 -10.0 0M1541.7 1400.8a5.0 5.0 0 1 0 10.0 0a5.0 5.0 0 1 0 -10.0 0M1546.2 1402.3a5.0 5.0 0 1 0 10.0 0a5.0 5.0 0 1 0 -10.0 0M1550.7 1403.6a5.0 5.0 0 1 0 10.0 0a5.0 5.0 0 1 0 -10.0 0M1555.2 1404.5a5.0 5.0 0 1 0 10.0 0a5.0 5.0 0 1 0 -10.0 0M1559.7 1403.6a5.0 5.0 0 1 0 10.0 0a5.0 5.0 0 1 0 -10.0 0M1564.2 1402.3a5.0 5.0 0 1 0 10.0 0a5.0 5.0 0 1 0 -10.0 0M1568.7 1400.8a5.0 5.0 0 1 0 10.0 0a5.0 5.0 0 1 0 -10.0 0M1573.2 1399.1a5.0 5.0 0 1 0 10.0 0a5.0 5.0 0 1 0 -10.0 0M1577.7 1397.3a5.0 5.0 0 1 0 10.0 0a5.0 5.0 0 1 0 -10.0 0M1582.2 1395.3a5.0 5.0 0 1 0 10.0 0a5.0 5.0 0 1 0 -10.0 0M1586.7 1393.3a5.0 5.0 0 1 0 10.0 0a5.0 5.0 0 1 0 -10.0 0M1591.2 1391.2a5.0 5.0 0 1 0 10.0 0a5.0 5.0 0 1 0 -10.0 0M1520.7 1380.1a5.0 5.0 0 1 0 10.0 0a5.0 5.0 0 1 0 -10.0 0M1525.0 1382.0a5.0 5.0 0 1 0 10.0 0a5.0 5.0 0 1 0 -10.0 0M1529.3 1383.8a5.0 5.0 0 1 0 10.0 0a5.0 5.0 0 1 0 -10.0 0M1533.6 1385.5a5.0 5.0 0 1 0 10.0 0a5.0 5.0 0 1 0 -10.0 0M1537.9 1387.2a5.0 5.0 0 1 0 10.0 0a5.0 5.0 0 1 0 -10.0 0M1542.3 1388.7a5.0 5.0 0 1 0 10.0 0a5.0 5.0 0 1 0 -10.0 0M1546.6 1390.1a5.0 5.0 0 1 0 10.0 0a5.0 5.0 0 1 0 -10.0 0M1550.9 1391.2a5.0 5.0 0 1 0 10.0 0a5.0 5.0 0 1 0 -10.0 0M1555.2 1392.0a5.0 5.0 0 1 0 10.0 0a5.0 5.0 0 1 0 -10.0 0M1559.5 1391.2a5.0 5.0 0 1 0 10.0 0a5.0 5.0 0 1 0 -10.0 0M1563.8 1390.1a5.0 5.0 0 1 0 10.0 0a5.0 5.0 0 1 0 -10.0 0M1568.1 1388.7a5.0 5.0 0 1 0 10.0 0a5.0 5.0 0 1 0 -10.0 0M1572.5 1387.2a5.0 5.0 0 1 0 10.0 0a5.0 5.0 0 1 0 -10.0 0M1576.8 1385.5a5.0 5.0 0 1 0 10.0 0a5.0 5.0 0 1 0 -10.0 0M1581.1 1383.8a5.0 5.0 0 1 0 10.0 0a5.0 5.0 0 1 0 -10.0 0M1585.4 1382.0a5.0 5.0 0 1 0 10.0 0a5.0 5.0 0 1 0 -10.0 0M1589.7 1380.1a5.0 5.0 0 1 0 10.0 0a5.0 5.0 0 1 0 -10.0 0M1524.2 1367.3a5.0 5.0 0 1 0 10.0 0a5.0 5.0 0 1 0 -10.0 0M1528.7 1369.4a5.0 5.0 0 1 0 10.0 0a5.0 5.0 0 1 0 -10.0 0M1533.1 1371.4a5.0 5.0 0 1 0 10.0 0a5.0 5.0 0 1 0 -10.0 0M1537.5 1373.2a5.0 5.0 0 1 0 10.0 0a5.0 5.0 0 1 0 -10.0 0M1541.9 1374.9a5.0 5.0 0 1 0 10.0 0a5.0 5.0 0 1 0 -10.0 0M1546.4 1376.5a5.0 5.0 0 1 0 10.0 0a5.0 5.0 0 1 0 -10.0 0M1550.8 1377.8a5.0 5.0 0 1 0 10.0 0a5.0 5.0 0 1 0 -10.0 0M1555.2 1378.7a5.0 5.0 0 1 0 10.0 0a5.0 5.0 0 1 0 -10.0 0M1559.6 1377.8a5.0 5.0 0 1 0 10.0 0a5.0 5.0 0 1 0 -10.0 0M1564.0 1376.5a5.0 5.0 0 1 0 10.0 0a5.0 5.0 0 1 0 -10.0 0M1568.5 1374.9a5.0 5.0 0 1 0 10.0 0a5.0 5.0 0 1 0 -10.0 0M1572.9 1373.2a5.0 5.0 0 1 0 10.0 0a5.0 5.0 0 1 0 -10.0 0M1577.3 1371.4a5.0 5.0 0 1 0 10.0 0a5.0 5.0 0 1 0 -10.0 0M1581.7 1369.4a5.0 5.0 0 1 0 10.0 0a5.0 5.0 0 1 0 -10.0 0M1586.2 1367.3a5.0 5.0 0 1 0 10.0 0a5.0 5.0 0 1 0 -10.0 0" fill="#a7a9ac"/>
<path d="M1562.8 1261.6a5.0 5.0 0 1 0 10.0 0a5.0 5.0 0 1 0 -10.0 0M1547.6 1267.1a5.0 5.0 0 1 0 10.0 0a5.0 5.0 0 1 0 -10.0 0M1547.6 1302.6a5.0 5.0 0 1 0 10.0 0a5.0 5.0 0 1 0 -10.0 0M1562.4 1305.2a5.0 5.0 0 1 0 10.0 0a5.0 5.0 0 1 0 -10.0 0M1587.2 1317.8a5.0 5.0 0 1 0 10.0 0a5.0 5.0 0 1 0 -10.0 0M1522.4 1320.7a5.0 5.0 0 1 0 10.0 0a5.0 5.0 0 1 0 -10.0 0M1534.8 1323.0a5.0 5.0 0 1 0 10.0 0a5.0 5.0 0 1 0 -10.0 0M1574.2 1321.1a5.0 5.0 0 1 0 10.0 0a5.0 5.0 0 1 0 -10.0 0M1548.5 1325.8a5.0 5.0 0 1 0 10.0 0a5.0 5.0 0 1 0 -10.0 0M1561.1 1324.3a5.0 5.0 0 1 0 10.0 0a5.0 5.0 0 1 0 -10.0 0M1539.5 1337.7a5.0 5.0 0 1 0 10.0 0a5.0 5.0 0 1 0 -10.0 0M1570.1 1336.3a5.0 5.0 0 1 0 10.0 0a5.0 5.0 0 1 0 -10.0 0M1554.8 1342.0a5.0 5.0 0 1 0 10.0 0a5.0 5.0 0 1 0 -10.0 0M1546.2 1346.8a5.0 5.0 0 1 0 10.0 0a5.0 5.0 0 1 0 -10.0 0M1562.4 1345.9a5.0 5.0 0 1 0 10.0 0a5.0 5.0 0 1 0 -10.0 0M1528.1 1347.8a5.0 5.0 0 1 0 10.0 0a5.0 5.0 0 1 0 -10.0 0M1582.4 1347.8a5.0 5.0 0 1 0 10.0 0a5.0 5.0 0 1 0 -10.0 0M1535.7 1350.6a5.0 5.0 0 1 0 10.0 0a5.0 5.0 0 1 0 -10.0 0M1573.9 1350.6a5.0 5.0 0 1 0 10.0 0a5.0 5.0 0 1 0 -10.0 0M1547.2 1352.5a5.0 5.0 0 1 0 10.0 0a5.0 5.0 0 1 0 -10.0 0M1558.6 1356.3a5.0 5.0 0 1 0 10.0 0a5.0 5.0 0 1 0 -10.0 0M1528.1 1362.1a5.0 5.0 0 1 0 10.0 0a5.0 5.0 0 1 0 -10.0 0M1546.2 1362.1a5.0 5.0 0 1 0 10.0 0a5.0 5.0 0 1 0 -10.0 0M1562.4 1362.1a5.0 5.0 0 1 0 10.0 0a5.0 5.0 0 1 0 -10.0 0M1529.1 1466.9a5.0 5.0 0 1 0 10.0 0a5.0 5.0 0 1 0 -10.0 0M1579.6 1466.9a5.0 5.0 0 1 0 10.0 0a5.0 5.0 0 1 0 -10.0 0M1539.5 1471.7a5.0 5.0 0 1 0 10.0 0a5.0 5.0 0 1 0 -10.0 0M1570.1 1470.7a5.0 5.0 0 1 0 10.0 0a5.0 5.0 0 1 0 -10.0 0M1559.6 1474.2a5.0 5.0 0 1 0 10.0 0a5.0 5.0 0 1 0 -10.0 0M1550.0 1478.0a5.0 5.0 0 1 0 10.0 0a5.0 5.0 0 1 0 -10.0 0" fill="#a7a9ac"/>
<path d="M1328.6 1369.7V1456.4M1308.1 1369.7h41M1308.1 1456.4h41" fill="none" stroke="#000" stroke-width="3.4"/>
<path d="M1444.5 1374.5V1449.8M1424.0 1374.5h41M1424.0 1449.8h41" fill="none" stroke="#000" stroke-width="3.4"/>
<path d="M1560.2 1372.5V1452M1539.7 1372.5h41M1539.7 1452h41" fill="none" stroke="#000" stroke-width="3.4"/>
<text x="1403.5" y="1242.3" font-size="22.6" text-anchor="start" textLength="83.5" lengthAdjust="spacingAndGlyphs" style="font-weight:normal;stroke-width:.15px;font-style:italic;">p&gt;0.999</text>
<text x="1516.0" y="1242.3" font-size="22.6" text-anchor="start" textLength="83.5" lengthAdjust="spacingAndGlyphs" style="font-weight:normal;stroke-width:.15px;font-style:italic;">p&gt;0.999</text>
<text x="1327.9" y="1523.5" font-size="22.3" text-anchor="middle" textLength="32.5" lengthAdjust="spacing">n.c</text>
<text x="1412.2" y="1523.1" font-size="22.3" text-anchor="start" textLength="81.3" lengthAdjust="spacing">CKB<tspan dy="-7.4" font-size="13.2">si#01</tspan></text>
<text x="1526.5" y="1523.1" font-size="22.3" text-anchor="start" textLength="82.6" lengthAdjust="spacing">CKB<tspan dy="-7.4" font-size="13.2">si#02</tspan></text>
<line x1="1396.7" y1="1531.5" x2="1634.2" y2="1531.5" stroke="#000" stroke-width="3.6"/>
<text x="1507.2" y="1561.9" font-size="22.3" text-anchor="middle" textLength="67.2" lengthAdjust="spacing">siRNA</text>
<text x="1178.1" y="1340.0" transform="rotate(-90 1178.1 1340.0)" font-size="22.5" text-anchor="middle" textLength="309.5" lengthAdjust="spacing">Mean Instantaneous Velocity</text>
<text x="1206.1" y="1340.0" transform="rotate(-90 1206.1 1340.0)" font-size="22.5" text-anchor="middle" textLength="94.3" lengthAdjust="spacing">(µm/min)</text>
</svg>
</body></html>
